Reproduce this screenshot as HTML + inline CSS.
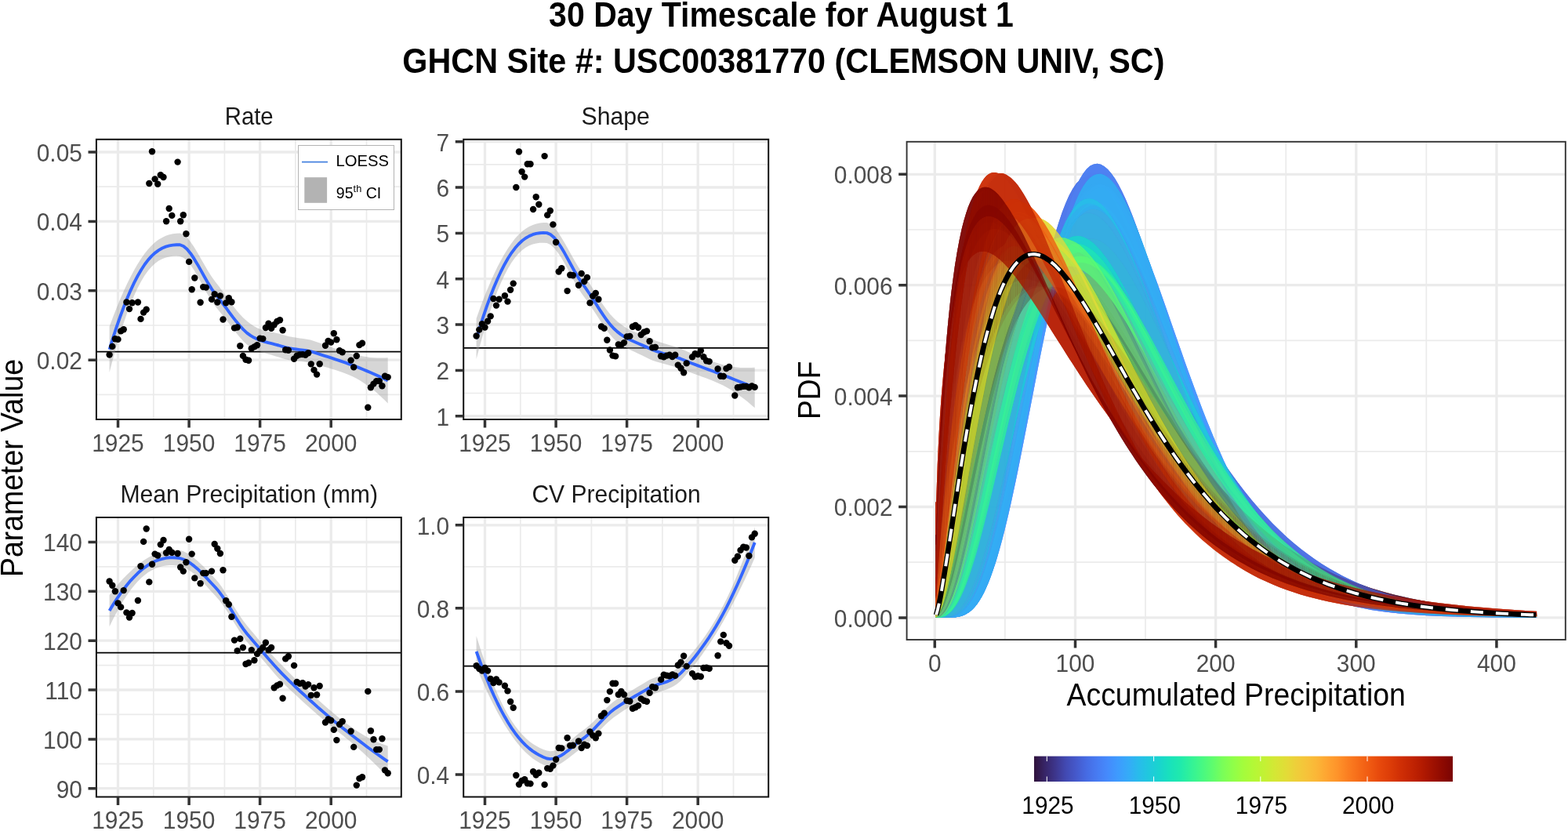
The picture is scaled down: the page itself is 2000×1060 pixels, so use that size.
<!DOCTYPE html>
<html lang="en"><head><meta charset="utf-8"><title>30 Day Timescale for August 1</title>
<style>html,body{margin:0;padding:0;background:#fff}svg{display:block}</style></head>
<body>
<svg width="2000" height="1060" viewBox="0 0 2000 1060" font-family='"Liberation Sans", Arial, Helvetica, sans-serif'>
<rect width="2000" height="1060" fill="#fff"/>
<g font-size="43.6" font-weight="bold" fill="#000" text-anchor="middle"><text transform="translate(996.5,33.7) scale(0.941,1)">30 Day Timescale for August 1</text><text transform="translate(999.4,93.2) scale(0.948,1)">GHCN Site #: USC00381770 (CLEMSON UNIV, SC)</text></g>
<text transform="translate(29.2,597) rotate(-90) scale(0.927,1)" font-size="40.4" fill="#000" text-anchor="middle">Parameter Value</text>
<g>
<clipPath id="c4"><rect x="122.9" y="177.8" width="388.9" height="357.2"/></clipPath>
<rect x="122.9" y="177.8" width="388.9" height="357.2" fill="#fff"/>
<g clip-path="url(#c4)">
<path d="M195.8 177.8V535M286.4 177.8V535M376.9 177.8V535M467.5 177.8V535M122.9 503.4H511.8M122.9 415H511.8M122.9 326.6H511.8M122.9 238.2H511.8" stroke="#ebebeb" stroke-width="1.7" fill="none"/>
<path d="M150.5 177.8V535M241.1 177.8V535M331.6 177.8V535M422.2 177.8V535M122.9 459.2H511.8M122.9 370.8H511.8M122.9 282.4H511.8M122.9 194H511.8" stroke="#ebebeb" stroke-width="3.3" fill="none"/>
<path d="M122.9 448.7H511.8" stroke="#000" stroke-width="1.8"/>
<polygon points="139.6,416.5 144.1,404.4 148.6,392.9 153.1,382 157.6,371.7 162.1,362 166.6,352.9 171.1,344.5 175.6,336.8 180.1,329.7 184.6,323.3 189.1,317.7 193.6,312.9 198.1,308.8 202.5,305.5 207,302.9 211.5,300.8 216,299.3 220.5,298.3 225,297.8 229.5,297.6 234,299.3 238.5,303.1 243,308.5 247.5,315.1 252,322.5 256.5,330.4 261,338.3 265.5,345.9 270,353 274.5,359.2 278.9,364.8 283.4,370.9 287.9,377.2 292.4,383.6 296.9,389.8 301.4,395.6 305.9,400.8 310.4,405.5 314.9,409.6 319.4,413 323.9,416 328.4,418.4 332.9,420.3 337.4,421.7 341.9,422.7 346.4,423.6 350.8,424.4 355.3,425.4 359.8,426.7 364.3,428.1 368.8,429.2 373.3,430.1 377.8,430.8 382.3,431.5 386.8,432.1 391.3,432.8 395.8,433.6 400.3,434.9 404.8,436.5 409.3,438.1 413.8,439.7 418.3,441.3 422.8,442.9 427.2,444.5 431.7,446 436.2,447.5 440.7,449 445.2,450.3 449.7,451.6 454.2,452.7 458.7,453.7 463.2,454.6 467.7,455.3 472.2,455.9 476.7,456.3 481.2,456.5 485.7,456.6 490.2,456.5 494.7,456.3 494.7,514.5 490.2,510 485.7,505.7 481.2,501.6 476.7,497.8 472.2,494.2 467.7,490.9 463.2,487.9 458.7,485.1 454.2,482.6 449.7,480.3 445.2,478.3 440.7,476.5 436.2,474.8 431.7,473.3 427.2,471.8 422.8,470.4 418.3,469.1 413.8,467.8 409.3,466.5 404.8,465.2 400.3,463.9 395.8,462.8 391.3,461.9 386.8,461.2 382.3,460.7 377.8,460.2 373.3,459.7 368.8,459.2 364.3,458.3 359.8,457.1 355.3,455.6 350.8,454.2 346.4,452.8 341.9,451.5 337.4,450.2 332.9,448.8 328.4,447.2 323.9,445.3 319.4,442.8 314.9,439.5 310.4,435.3 305.9,430.3 301.4,424.7 296.9,418.9 292.4,413 287.9,407.2 283.4,401.5 278.9,396 274.5,390.6 270,384.2 265.5,376.8 261,368.7 256.5,360.4 252,352.2 247.5,344.6 243,338 238.5,332.6 234,328.8 229.5,326.9 225,326.6 220.5,326.8 216,327.4 211.5,328.5 207,330.2 202.5,332.6 198.1,335.8 193.6,339.9 189.1,345.1 184.6,351.3 180.1,358.7 175.6,367.2 171.1,376.9 166.6,387.7 162.1,399.5 157.6,412.5 153.1,426.6 148.6,441.7 144.1,457.8 139.6,474.9" fill="#999" fill-opacity="0.4"/>
<polyline points="139.6,445.7 144.1,431.1 148.6,417.3 153.1,404.3 157.6,392.1 162.1,380.8 166.6,370.3 171.1,360.7 175.6,352 180.1,344.2 184.6,337.3 189.1,331.4 193.6,326.4 198.1,322.3 202.5,319.1 207,316.5 211.5,314.6 216,313.4 220.5,312.6 225,312.2 229.5,312.3 234,314 238.5,317.8 243,323.2 247.5,329.9 252,337.4 256.5,345.4 261,353.5 265.5,361.4 270,368.6 274.5,374.9 278.9,380.4 283.4,386.2 287.9,392.2 292.4,398.3 296.9,404.4 301.4,410.1 305.9,415.5 310.4,420.4 314.9,424.6 319.4,427.9 323.9,430.6 328.4,432.8 332.9,434.5 337.4,435.9 341.9,437.1 346.4,438.2 350.8,439.3 355.3,440.5 359.8,441.9 364.3,443.2 368.8,444.2 373.3,444.9 377.8,445.5 382.3,446.1 386.8,446.6 391.3,447.3 395.8,448.2 400.3,449.4 404.8,450.8 409.3,452.3 413.8,453.8 418.3,455.2 422.8,456.7 427.2,458.2 431.7,459.6 436.2,461.2 440.7,462.7 445.2,464.3 449.7,465.9 454.2,467.6 458.7,469.4 463.2,471.2 467.7,473.1 472.2,475 476.7,477 481.2,479.1 485.7,481.1 490.2,483.3 494.7,485.4" fill="none" stroke="#3366ff" stroke-width="3.9" stroke-linejoin="round"/>
<g fill="#000"><circle cx="139.6" cy="452.5" r="4.2"/><circle cx="143.3" cy="441.9" r="4.2"/><circle cx="146.9" cy="432.2" r="4.2"/><circle cx="150.5" cy="432.9" r="4.2"/><circle cx="154.1" cy="422.4" r="4.2"/><circle cx="157.7" cy="420.3" r="4.2"/><circle cx="161.4" cy="385.5" r="4.2"/><circle cx="165" cy="394.1" r="4.2"/><circle cx="168.6" cy="386.2" r="4.2"/><circle cx="175.9" cy="385.5" r="4.2"/><circle cx="179.5" cy="406.9" r="4.2"/><circle cx="183.1" cy="398.6" r="4.2"/><circle cx="186.7" cy="394.8" r="4.2"/><circle cx="190.3" cy="234" r="4.2"/><circle cx="194" cy="193.3" r="4.2"/><circle cx="197.6" cy="228.4" r="4.2"/><circle cx="201.2" cy="234.8" r="4.2"/><circle cx="204.8" cy="223.2" r="4.2"/><circle cx="208.5" cy="226" r="4.2"/><circle cx="212.1" cy="282.2" r="4.2"/><circle cx="215.7" cy="266" r="4.2"/><circle cx="219.3" cy="274.9" r="4.2"/><circle cx="226.6" cy="206.6" r="4.2"/><circle cx="230.2" cy="282.2" r="4.2"/><circle cx="233.8" cy="274.2" r="4.2"/><circle cx="237.4" cy="298.2" r="4.2"/><circle cx="241.1" cy="333.9" r="4.2"/><circle cx="244.7" cy="369.2" r="4.2"/><circle cx="248.3" cy="354.5" r="4.2"/><circle cx="255.6" cy="385.7" r="4.2"/><circle cx="259.2" cy="366.1" r="4.2"/><circle cx="262.8" cy="366.6" r="4.2"/><circle cx="270" cy="381.9" r="4.2"/><circle cx="273.7" cy="375.3" r="4.2"/><circle cx="277.3" cy="385.5" r="4.2"/><circle cx="280.9" cy="377.4" r="4.2"/><circle cx="284.5" cy="407.5" r="4.2"/><circle cx="288.2" cy="386.4" r="4.2"/><circle cx="291.8" cy="380.3" r="4.2"/><circle cx="295.4" cy="385.2" r="4.2"/><circle cx="299" cy="418.4" r="4.2"/><circle cx="302.7" cy="417.5" r="4.2"/><circle cx="306.3" cy="441.2" r="4.2"/><circle cx="309.9" cy="453.9" r="4.2"/><circle cx="313.5" cy="458.8" r="4.2"/><circle cx="317.1" cy="459.8" r="4.2"/><circle cx="320.8" cy="444.5" r="4.2"/><circle cx="324.4" cy="442.4" r="4.2"/><circle cx="328" cy="440.3" r="4.2"/><circle cx="331.6" cy="431.6" r="4.2"/><circle cx="335.3" cy="432.1" r="4.2"/><circle cx="338.9" cy="418" r="4.2"/><circle cx="342.5" cy="412.8" r="4.2"/><circle cx="346.1" cy="418.9" r="4.2"/><circle cx="349.7" cy="414.2" r="4.2"/><circle cx="353.4" cy="410" r="4.2"/><circle cx="357" cy="408.3" r="4.2"/><circle cx="360.6" cy="421.3" r="4.2"/><circle cx="364.2" cy="446.2" r="4.2"/><circle cx="367.9" cy="446.7" r="4.2"/><circle cx="375.1" cy="457.8" r="4.2"/><circle cx="378.7" cy="453.8" r="4.2"/><circle cx="382.4" cy="452.4" r="4.2"/><circle cx="386" cy="452.1" r="4.2"/><circle cx="389.6" cy="452.8" r="4.2"/><circle cx="393.2" cy="450.3" r="4.2"/><circle cx="396.8" cy="464.4" r="4.2"/><circle cx="400.5" cy="471.9" r="4.2"/><circle cx="404.1" cy="477.6" r="4.2"/><circle cx="407.7" cy="464.2" r="4.2"/><circle cx="415" cy="440.8" r="4.2"/><circle cx="418.6" cy="434.9" r="4.2"/><circle cx="422.2" cy="436.6" r="4.2"/><circle cx="425.8" cy="425.3" r="4.2"/><circle cx="429.4" cy="433.3" r="4.2"/><circle cx="433.1" cy="447.2" r="4.2"/><circle cx="436.7" cy="449.3" r="4.2"/><circle cx="447.6" cy="459.6" r="4.2"/><circle cx="451.2" cy="468.4" r="4.2"/><circle cx="454.8" cy="454" r="4.2"/><circle cx="458.4" cy="440.1" r="4.2"/><circle cx="462" cy="437.7" r="4.2"/><circle cx="469.3" cy="519.8" r="4.2"/><circle cx="472.9" cy="494.3" r="4.2"/><circle cx="476.5" cy="489.6" r="4.2"/><circle cx="480.2" cy="486.1" r="4.2"/><circle cx="483.8" cy="486.1" r="4.2"/><circle cx="487.4" cy="492.2" r="4.2"/><circle cx="491" cy="479.7" r="4.2"/><circle cx="494.7" cy="481.1" r="4.2"/></g>
</g>
<rect x="380.5" y="185.5" width="122" height="82" fill="#fff" stroke="#b3b3b3" stroke-width="1"/>
<path d="M385 206.6H418" stroke="#4682e0" stroke-width="1.6"/>
<rect x="388.3" y="226.2" width="28.8" height="32.6" fill="#b3b3b3"/>
<text transform="translate(428.6,212.1) scale(1.011,1)" font-size="20" fill="#000">LOESS</text>
<text transform="translate(428.8,252.8) scale(0.98,1)" font-size="20" fill="#000">95<tspan font-size="13" dy="-7.8">th</tspan><tspan dy="7.8"> CI</tspan></text>
<rect x="122.9" y="177.8" width="388.9" height="357.2" fill="none" stroke="#111" stroke-width="2.0"/>
<path d="M150.5 535v10.4M241.1 535v10.4M331.6 535v10.4M422.2 535v10.4M122.9 459.2h-10.4M122.9 370.8h-10.4M122.9 282.4h-10.4M122.9 194h-10.4" stroke="#333" stroke-width="3.5" fill="none"/>
<g font-size="31.8" fill="#4d4d4d">
<g text-anchor="end"><text transform="translate(104.9,471) scale(0.94,1)">0.02</text><text transform="translate(104.9,382.6) scale(0.94,1)">0.03</text><text transform="translate(104.9,294.2) scale(0.94,1)">0.04</text><text transform="translate(104.9,205.8) scale(0.94,1)">0.05</text></g>
<g text-anchor="middle"><text transform="translate(150.5,575.6) scale(0.94,1)">1925</text><text transform="translate(241.1,575.6) scale(0.94,1)">1950</text><text transform="translate(331.6,575.6) scale(0.94,1)">1975</text><text transform="translate(422.2,575.6) scale(0.94,1)">2000</text></g>
</g>
<g font-size="31.8" fill="#1a1a1a" text-anchor="middle"><text transform="translate(317.7,158.5) scale(0.922,1)">Rate</text></g>
</g>
<g>
<clipPath id="c28"><rect x="591.2" y="177.8" width="389" height="357.2"/></clipPath>
<rect x="591.2" y="177.8" width="389" height="357.2" fill="#fff"/>
<g clip-path="url(#c28)">
<path d="M663.8 177.8V535M754.4 177.8V535M844.9 177.8V535M935.5 177.8V535M591.2 501.5H980.2M591.2 443.2H980.2M591.2 384.9H980.2M591.2 326.5H980.2M591.2 268.2H980.2M591.2 209.9H980.2" stroke="#ebebeb" stroke-width="1.7" fill="none"/>
<path d="M618.5 177.8V535M709.1 177.8V535M799.6 177.8V535M890.2 177.8V535M591.2 530.7H980.2M591.2 472.4H980.2M591.2 414H980.2M591.2 355.7H980.2M591.2 297.4H980.2M591.2 239H980.2M591.2 180.7H980.2" stroke="#ebebeb" stroke-width="3.3" fill="none"/>
<path d="M591.2 443.9H980.2" stroke="#000" stroke-width="1.8"/>
<polygon points="607.6,406.2 612.1,393.6 616.6,381.6 621.1,370.3 625.6,359.7 630.1,349.7 634.6,340.3 639.1,331.7 643.6,323.7 648.1,316.4 652.6,309.9 657.1,304.1 661.6,299.2 666.1,295.1 670.5,291.7 675,289 679.5,287 684,285.5 688.5,284.6 693,284.1 697.5,284.1 702,285.9 706.5,289.7 711,295.2 715.5,301.9 720,309.4 724.5,317.4 729,325.5 733.5,333.5 738,340.9 742.5,347.5 746.9,353.6 751.4,360.4 755.9,367.7 760.4,375 764.9,382.2 769.4,389 773.9,395.3 778.4,400.9 782.9,405.8 787.4,409.9 791.9,413.6 796.4,416.7 800.9,419.4 805.4,421.7 809.9,423.6 814.4,425.3 818.8,426.9 823.3,428.7 827.8,430.8 832.3,432.8 836.8,434.7 841.3,436.3 845.8,437.8 850.3,439.1 854.8,440.4 859.3,441.7 863.8,443.1 868.3,444.8 872.8,446.8 877.3,448.8 881.8,450.7 886.3,452.6 890.8,454.4 895.2,456.2 899.7,457.9 904.2,459.5 908.7,461.1 913.2,462.6 917.7,463.9 922.2,465.2 926.7,466.2 931.2,467.2 935.7,467.9 940.2,468.5 944.7,468.9 949.2,469.1 953.7,469.1 958.2,469 962.7,468.7 962.7,520.3 958.2,516.4 953.7,512.6 949.2,509.1 944.7,505.7 940.2,502.4 935.7,499.4 931.2,496.6 926.7,494 922.2,491.6 917.7,489.4 913.2,487.4 908.7,485.5 904.2,483.7 899.7,482.1 895.2,480.4 890.8,478.8 886.3,477.2 881.8,475.6 877.3,474 872.8,472.3 868.3,470.6 863.8,469 859.3,467.5 854.8,466.2 850.3,465 845.8,463.8 841.3,462.6 836.8,461.3 832.3,459.7 827.8,457.8 823.3,455.5 818.8,453.3 814.4,451.2 809.9,449.1 805.4,446.9 800.9,444.7 796.4,442.4 791.9,439.6 787.4,436.3 782.9,432.3 778.4,427.3 773.9,421.4 769.4,414.9 764.9,408 760.4,401.1 755.9,394.2 751.4,387.6 746.9,381.3 742.5,375.3 738,368.6 733.5,360.8 729,352.5 724.5,344 720,335.8 715.5,328.1 711,321.4 706.5,315.9 702,312 697.5,310 693,309.7 688.5,309.8 684,310.4 679.5,311.5 675,313.2 670.5,315.7 666.1,319 661.6,323.2 657.1,328.4 652.6,334.7 648.1,342.2 643.6,350.7 639.1,360.4 634.6,371.1 630.1,383 625.6,395.9 621.1,409.9 616.6,424.9 612.1,440.9 607.6,457.9" fill="#999" fill-opacity="0.4"/>
<polyline points="607.6,432.1 612.1,417.2 616.6,403.3 621.1,390.1 625.6,377.8 630.1,366.3 634.6,355.7 639.1,346 643.6,337.2 648.1,329.3 652.6,322.3 657.1,316.3 661.6,311.2 666.1,307 670.5,303.7 675,301.1 679.5,299.2 684,297.9 688.5,297.2 693,296.9 697.5,297.1 702,299 706.5,302.8 711,308.3 715.5,315 720,322.6 724.5,330.7 729,339 733.5,347.1 738,354.7 742.5,361.4 746.9,367.4 751.4,374 755.9,380.9 760.4,388 764.9,395.1 769.4,401.9 773.9,408.3 778.4,414.1 782.9,419 787.4,423.1 791.9,426.6 796.4,429.5 800.9,432.1 805.4,434.3 809.9,436.3 814.4,438.2 818.8,440.1 823.3,442.1 827.8,444.3 832.3,446.3 836.8,448 841.3,449.4 845.8,450.8 850.3,452 854.8,453.3 859.3,454.6 863.8,456.1 868.3,457.7 872.8,459.5 877.3,461.4 881.8,463.2 886.3,464.9 890.8,466.6 895.2,468.3 899.7,470 904.2,471.6 908.7,473.3 913.2,475 917.7,476.7 922.2,478.4 926.7,480.1 931.2,481.9 935.7,483.7 940.2,485.5 944.7,487.3 949.2,489.1 953.7,490.9 958.2,492.7 962.7,494.5" fill="none" stroke="#3366ff" stroke-width="3.9" stroke-linejoin="round"/>
<g fill="#000"><circle cx="607.6" cy="428.5" r="4.2"/><circle cx="611.3" cy="420.6" r="4.2"/><circle cx="614.9" cy="413.3" r="4.2"/><circle cx="618.5" cy="417.5" r="4.2"/><circle cx="622.1" cy="409.7" r="4.2"/><circle cx="625.7" cy="403.4" r="4.2"/><circle cx="629.4" cy="381" r="4.2"/><circle cx="633" cy="389.6" r="4.2"/><circle cx="636.6" cy="381.8" r="4.2"/><circle cx="643.9" cy="377.2" r="4.2"/><circle cx="647.5" cy="384.6" r="4.2"/><circle cx="651.1" cy="369.7" r="4.2"/><circle cx="654.7" cy="361.6" r="4.2"/><circle cx="658.3" cy="239" r="4.2"/><circle cx="662" cy="193.5" r="4.2"/><circle cx="665.6" cy="219" r="4.2"/><circle cx="669.2" cy="225.6" r="4.2"/><circle cx="672.8" cy="209.3" r="4.2"/><circle cx="676.5" cy="209.3" r="4.2"/><circle cx="680.1" cy="267" r="4.2"/><circle cx="683.7" cy="251.3" r="4.2"/><circle cx="687.3" cy="260.7" r="4.2"/><circle cx="694.6" cy="199.1" r="4.2"/><circle cx="698.2" cy="274.4" r="4.2"/><circle cx="701.8" cy="268.7" r="4.2"/><circle cx="705.4" cy="286.4" r="4.2"/><circle cx="709.1" cy="309" r="4.2"/><circle cx="712.7" cy="346.5" r="4.2"/><circle cx="716.3" cy="342.3" r="4.2"/><circle cx="723.6" cy="371.1" r="4.2"/><circle cx="727.2" cy="350.7" r="4.2"/><circle cx="730.8" cy="351.3" r="4.2"/><circle cx="738" cy="363.8" r="4.2"/><circle cx="741.7" cy="348.9" r="4.2"/><circle cx="745.3" cy="359.1" r="4.2"/><circle cx="748.9" cy="353.9" r="4.2"/><circle cx="752.5" cy="386.4" r="4.2"/><circle cx="756.2" cy="377.6" r="4.2"/><circle cx="759.8" cy="374" r="4.2"/><circle cx="763.4" cy="381.8" r="4.2"/><circle cx="767" cy="416.5" r="4.2"/><circle cx="770.7" cy="418.9" r="4.2"/><circle cx="774.3" cy="433.8" r="4.2"/><circle cx="777.9" cy="446.5" r="4.2"/><circle cx="781.5" cy="453.6" r="4.2"/><circle cx="785.1" cy="454.4" r="4.2"/><circle cx="788.8" cy="439.4" r="4.2"/><circle cx="792.4" cy="440.1" r="4.2"/><circle cx="796" cy="437.1" r="4.2"/><circle cx="799.6" cy="429.4" r="4.2"/><circle cx="803.3" cy="428.9" r="4.2"/><circle cx="806.9" cy="416.8" r="4.2"/><circle cx="810.5" cy="415" r="4.2"/><circle cx="814.1" cy="417.8" r="4.2"/><circle cx="817.7" cy="427" r="4.2"/><circle cx="821.4" cy="423.8" r="4.2"/><circle cx="825" cy="422.4" r="4.2"/><circle cx="828.6" cy="435.2" r="4.2"/><circle cx="832.2" cy="443.4" r="4.2"/><circle cx="835.9" cy="443" r="4.2"/><circle cx="843.1" cy="454.3" r="4.2"/><circle cx="846.7" cy="455.3" r="4.2"/><circle cx="850.4" cy="453.6" r="4.2"/><circle cx="854" cy="452.8" r="4.2"/><circle cx="857.6" cy="455" r="4.2"/><circle cx="861.2" cy="452.8" r="4.2"/><circle cx="864.8" cy="465.6" r="4.2"/><circle cx="868.5" cy="469.8" r="4.2"/><circle cx="872.1" cy="475.2" r="4.2"/><circle cx="875.7" cy="463.4" r="4.2"/><circle cx="883" cy="455.4" r="4.2"/><circle cx="886.6" cy="451.1" r="4.2"/><circle cx="890.2" cy="452.1" r="4.2"/><circle cx="893.8" cy="447.2" r="4.2"/><circle cx="897.4" cy="455.3" r="4.2"/><circle cx="901.1" cy="460.2" r="4.2"/><circle cx="904.7" cy="461.1" r="4.2"/><circle cx="915.6" cy="470.5" r="4.2"/><circle cx="919.2" cy="479.7" r="4.2"/><circle cx="922.8" cy="480" r="4.2"/><circle cx="926.4" cy="470.1" r="4.2"/><circle cx="930" cy="468" r="4.2"/><circle cx="937.3" cy="504.5" r="4.2"/><circle cx="940.9" cy="494.3" r="4.2"/><circle cx="944.5" cy="493.6" r="4.2"/><circle cx="948.2" cy="492.9" r="4.2"/><circle cx="951.8" cy="492.9" r="4.2"/><circle cx="955.4" cy="494.3" r="4.2"/><circle cx="959" cy="492.4" r="4.2"/><circle cx="962.7" cy="493.9" r="4.2"/></g>
</g>
<rect x="591.2" y="177.8" width="389" height="357.2" fill="none" stroke="#111" stroke-width="2.0"/>
<path d="M618.5 535v10.4M709.1 535v10.4M799.6 535v10.4M890.2 535v10.4M591.2 530.7h-10.4M591.2 472.4h-10.4M591.2 414h-10.4M591.2 355.7h-10.4M591.2 297.4h-10.4M591.2 239h-10.4M591.2 180.7h-10.4" stroke="#333" stroke-width="3.5" fill="none"/>
<g font-size="31.8" fill="#4d4d4d">
<g text-anchor="end"><text transform="translate(573.2,542.5) scale(0.94,1)">1</text><text transform="translate(573.2,484.2) scale(0.94,1)">2</text><text transform="translate(573.2,425.8) scale(0.94,1)">3</text><text transform="translate(573.2,367.5) scale(0.94,1)">4</text><text transform="translate(573.2,309.2) scale(0.94,1)">5</text><text transform="translate(573.2,250.8) scale(0.94,1)">6</text><text transform="translate(573.2,192.5) scale(0.94,1)">7</text></g>
<g text-anchor="middle"><text transform="translate(618.5,575.6) scale(0.94,1)">1925</text><text transform="translate(709.1,575.6) scale(0.94,1)">1950</text><text transform="translate(799.6,575.6) scale(0.94,1)">1975</text><text transform="translate(890.2,575.6) scale(0.94,1)">2000</text></g>
</g>
<g font-size="31.8" fill="#1a1a1a" text-anchor="middle"><text transform="translate(785.2,158.5) scale(0.95,1)">Shape</text></g>
</g>
<g>
<clipPath id="c47"><rect x="122.9" y="660" width="388.9" height="356.5"/></clipPath>
<rect x="122.9" y="660" width="388.9" height="356.5" fill="#fff"/>
<g clip-path="url(#c47)">
<path d="M195.8 660V1016.5M286.4 660V1016.5M376.9 660V1016.5M467.5 660V1016.5M122.9 974.3H511.8M122.9 911.4H511.8M122.9 848.6H511.8M122.9 785.8H511.8M122.9 722.9H511.8M122.9 660.1H511.8" stroke="#ebebeb" stroke-width="1.7" fill="none"/>
<path d="M150.5 660V1016.5M241.1 660V1016.5M331.6 660V1016.5M422.2 660V1016.5M122.9 1005.7H511.8M122.9 942.9H511.8M122.9 880H511.8M122.9 817.2H511.8M122.9 754.3H511.8M122.9 691.5H511.8" stroke="#ebebeb" stroke-width="3.3" fill="none"/>
<path d="M122.9 832.6H511.8" stroke="#000" stroke-width="1.8"/>
<polygon points="139.6,758.9 144.1,753.2 148.6,747.7 153.1,742.5 157.6,737.6 162.1,733 166.6,728.7 171.1,724.6 175.6,720.8 180.1,717.3 184.6,714.1 189.1,711.2 193.6,708.7 198.1,706.5 202.5,704.7 207,703.3 211.5,702.3 216,701.7 220.5,701.4 225,701.5 229.5,702.1 234,703.3 238.5,705.5 243,708.3 247.5,711.7 252,715.5 256.5,719.7 261,724.1 265.5,728.7 270,733.4 274.5,738.2 278.9,743.3 283.4,749.5 287.9,756.4 292.4,763.8 296.9,771.3 301.4,778.6 305.9,785.6 310.4,792.1 314.9,797.8 319.4,803.2 323.9,808.6 328.4,814.1 332.9,819.4 337.4,824.7 341.9,829.8 346.4,834.7 350.8,839.5 355.3,844.2 359.8,848.8 364.3,853.5 368.8,858 373.3,862.5 377.8,866.9 382.3,871.1 386.8,875.3 391.3,879.4 395.8,883.4 400.3,887.5 404.8,891.7 409.3,895.7 413.8,899.7 418.3,903.7 422.8,907.5 427.2,911.2 431.7,914.9 436.2,918.5 440.7,922 445.2,925.3 449.7,928.5 454.2,931.7 458.7,934.6 463.2,937.3 467.7,939.9 472.2,942.3 476.7,944.5 481.2,946.5 485.7,948.3 490.2,949.9 494.7,951.4 494.7,991.5 490.2,986.8 485.7,982.1 481.2,977.6 476.7,973.1 472.2,968.7 467.7,964.4 463.2,960.3 458.7,956.2 454.2,952.2 449.7,948.4 445.2,944.6 440.7,940.9 436.2,937.3 431.7,933.7 427.2,930.1 422.8,926.5 418.3,922.8 413.8,919.1 409.3,915.3 404.8,911.5 400.3,907.5 395.8,903.5 391.3,899.5 386.8,895.4 382.3,891.3 377.8,887.1 373.3,883 368.8,878.7 364.3,874.4 359.8,869.8 355.3,865 350.8,860 346.4,854.8 341.9,849.6 337.4,844.3 332.9,839.1 328.4,834 323.9,828.9 319.4,823.7 314.9,818.5 310.4,812.6 305.9,805.9 301.4,798.7 296.9,791.4 292.4,784.1 287.9,777.1 283.4,770.6 278.9,764.8 274.5,759.8 270,754.9 265.5,750 261,745.1 256.5,740.4 252,736 247.5,732.1 243,728.6 238.5,725.8 234,723.7 229.5,722.2 225,721.4 220.5,721 216,721 211.5,721.4 207,722.2 202.5,723.4 198.1,725.1 193.6,727.4 189.1,730.1 184.6,733.4 180.1,737.3 175.6,741.8 171.1,746.9 166.6,752.6 162.1,758.9 157.6,765.8 153.1,773.3 148.6,781.4 144.1,790 139.6,799.2" fill="#999" fill-opacity="0.4"/>
<polyline points="139.6,779.1 144.1,771.6 148.6,764.5 153.1,757.9 157.6,751.7 162.1,746 166.6,740.6 171.1,735.8 175.6,731.3 180.1,727.3 184.6,723.8 189.1,720.7 193.6,718 198.1,715.8 202.5,714.1 207,712.8 211.5,711.9 216,711.3 220.5,711.2 225,711.5 229.5,712.1 234,713.5 238.5,715.6 243,718.5 247.5,721.9 252,725.7 256.5,730 261,734.6 265.5,739.3 270,744.2 274.5,749 278.9,754.1 283.4,760.1 287.9,766.8 292.4,773.9 296.9,781.3 301.4,788.7 305.9,795.8 310.4,802.4 314.9,808.2 319.4,813.5 323.9,818.7 328.4,824 332.9,829.3 337.4,834.5 341.9,839.7 346.4,844.8 350.8,849.7 355.3,854.6 359.8,859.3 364.3,863.9 368.8,868.4 373.3,872.7 377.8,877 382.3,881.2 386.8,885.3 391.3,889.4 395.8,893.5 400.3,897.5 404.8,901.6 409.3,905.5 413.8,909.4 418.3,913.2 422.8,917 427.2,920.7 431.7,924.3 436.2,927.9 440.7,931.4 445.2,935 449.7,938.5 454.2,942 458.7,945.4 463.2,948.8 467.7,952.2 472.2,955.5 476.7,958.8 481.2,962 485.7,965.2 490.2,968.3 494.7,971.4" fill="none" stroke="#3366ff" stroke-width="3.9" stroke-linejoin="round"/>
<g fill="#000"><circle cx="139.6" cy="741.5" r="4.2"/><circle cx="143.3" cy="746.8" r="4.2"/><circle cx="146.9" cy="754.3" r="4.2"/><circle cx="150.5" cy="769.4" r="4.2"/><circle cx="154.1" cy="774.4" r="4.2"/><circle cx="157.7" cy="753.1" r="4.2"/><circle cx="161.4" cy="781.4" r="4.2"/><circle cx="165" cy="787.6" r="4.2"/><circle cx="168.6" cy="782" r="4.2"/><circle cx="175.9" cy="766" r="4.2"/><circle cx="179.5" cy="722.3" r="4.2"/><circle cx="183.1" cy="690.9" r="4.2"/><circle cx="186.7" cy="674.5" r="4.2"/><circle cx="190.3" cy="742.4" r="4.2"/><circle cx="194" cy="719.8" r="4.2"/><circle cx="197.6" cy="706.6" r="4.2"/><circle cx="201.2" cy="708.5" r="4.2"/><circle cx="204.8" cy="694.6" r="4.2"/><circle cx="208.5" cy="689" r="4.2"/><circle cx="212.1" cy="705.3" r="4.2"/><circle cx="215.7" cy="700.9" r="4.2"/><circle cx="219.3" cy="704.7" r="4.2"/><circle cx="226.6" cy="706" r="4.2"/><circle cx="230.2" cy="723.5" r="4.2"/><circle cx="233.8" cy="728.6" r="4.2"/><circle cx="237.4" cy="717.3" r="4.2"/><circle cx="241.1" cy="687.7" r="4.2"/><circle cx="244.7" cy="706.6" r="4.2"/><circle cx="248.3" cy="737.4" r="4.2"/><circle cx="255.6" cy="744.3" r="4.2"/><circle cx="259.2" cy="731.1" r="4.2"/><circle cx="262.8" cy="731.1" r="4.2"/><circle cx="270" cy="728.6" r="4.2"/><circle cx="273.7" cy="694" r="4.2"/><circle cx="277.3" cy="699.7" r="4.2"/><circle cx="280.9" cy="706" r="4.2"/><circle cx="284.5" cy="727.3" r="4.2"/><circle cx="288.2" cy="766.3" r="4.2"/><circle cx="291.8" cy="771" r="4.2"/><circle cx="295.4" cy="786.7" r="4.2"/><circle cx="299" cy="816.6" r="4.2"/><circle cx="302.7" cy="830.1" r="4.2"/><circle cx="306.3" cy="814.7" r="4.2"/><circle cx="309.9" cy="826" r="4.2"/><circle cx="313.5" cy="847" r="4.2"/><circle cx="317.1" cy="845.5" r="4.2"/><circle cx="320.8" cy="829.1" r="4.2"/><circle cx="324.4" cy="842.3" r="4.2"/><circle cx="328" cy="834.1" r="4.2"/><circle cx="331.6" cy="830.1" r="4.2"/><circle cx="335.3" cy="826" r="4.2"/><circle cx="338.9" cy="819.7" r="4.2"/><circle cx="342.5" cy="829.1" r="4.2"/><circle cx="346.1" cy="826" r="4.2"/><circle cx="349.7" cy="877.2" r="4.2"/><circle cx="353.4" cy="874.4" r="4.2"/><circle cx="357" cy="872.8" r="4.2"/><circle cx="360.6" cy="890.7" r="4.2"/><circle cx="364.2" cy="840.4" r="4.2"/><circle cx="367.9" cy="837.3" r="4.2"/><circle cx="375.1" cy="848.9" r="4.2"/><circle cx="378.7" cy="870" r="4.2"/><circle cx="382.4" cy="871.9" r="4.2"/><circle cx="386" cy="871.2" r="4.2"/><circle cx="389.6" cy="875.6" r="4.2"/><circle cx="393.2" cy="873.1" r="4.2"/><circle cx="396.8" cy="886.9" r="4.2"/><circle cx="400.5" cy="877.2" r="4.2"/><circle cx="404.1" cy="886.3" r="4.2"/><circle cx="407.7" cy="875" r="4.2"/><circle cx="415" cy="921.5" r="4.2"/><circle cx="418.6" cy="917.4" r="4.2"/><circle cx="422.2" cy="919" r="4.2"/><circle cx="425.8" cy="930.9" r="4.2"/><circle cx="429.4" cy="944.1" r="4.2"/><circle cx="433.1" cy="924" r="4.2"/><circle cx="436.7" cy="920.2" r="4.2"/><circle cx="447.6" cy="932.8" r="4.2"/><circle cx="451.2" cy="952.9" r="4.2"/><circle cx="454.8" cy="1001.6" r="4.2"/><circle cx="458.4" cy="993.1" r="4.2"/><circle cx="462" cy="991.2" r="4.2"/><circle cx="469.3" cy="881.9" r="4.2"/><circle cx="472.9" cy="932.2" r="4.2"/><circle cx="476.5" cy="943.2" r="4.2"/><circle cx="480.2" cy="956.1" r="4.2"/><circle cx="483.8" cy="956.1" r="4.2"/><circle cx="487.4" cy="942.2" r="4.2"/><circle cx="491" cy="982.4" r="4.2"/><circle cx="494.7" cy="986.2" r="4.2"/></g>
</g>
<rect x="122.9" y="660" width="388.9" height="356.5" fill="none" stroke="#111" stroke-width="2.0"/>
<path d="M150.5 1016.5v10.4M241.1 1016.5v10.4M331.6 1016.5v10.4M422.2 1016.5v10.4M122.9 1005.7h-10.4M122.9 942.9h-10.4M122.9 880h-10.4M122.9 817.2h-10.4M122.9 754.3h-10.4M122.9 691.5h-10.4" stroke="#333" stroke-width="3.5" fill="none"/>
<g font-size="31.8" fill="#4d4d4d">
<g text-anchor="end"><text transform="translate(104.9,1017.5) scale(0.94,1)">90</text><text transform="translate(104.9,954.7) scale(0.94,1)">100</text><text transform="translate(104.9,891.8) scale(0.94,1)">110</text><text transform="translate(104.9,829) scale(0.94,1)">120</text><text transform="translate(104.9,766.1) scale(0.94,1)">130</text><text transform="translate(104.9,703.3) scale(0.94,1)">140</text></g>
<g text-anchor="middle"><text transform="translate(150.5,1057.1) scale(0.94,1)">1925</text><text transform="translate(241.1,1057.1) scale(0.94,1)">1950</text><text transform="translate(331.6,1057.1) scale(0.94,1)">1975</text><text transform="translate(422.2,1057.1) scale(0.94,1)">2000</text></g>
</g>
<g font-size="31.8" fill="#1a1a1a" text-anchor="middle"><text transform="translate(317.7,640.7) scale(0.949,1)">Mean Precipitation (mm)</text></g>
</g>
<g>
<clipPath id="c66"><rect x="591.2" y="660" width="389" height="356.5"/></clipPath>
<rect x="591.2" y="660" width="389" height="356.5" fill="#fff"/>
<g clip-path="url(#c66)">
<path d="M663.8 660V1016.5M754.4 660V1016.5M844.9 660V1016.5M935.5 660V1016.5M591.2 934.9H980.2M591.2 828.9H980.2M591.2 722.8H980.2" stroke="#ebebeb" stroke-width="1.7" fill="none"/>
<path d="M618.5 660V1016.5M709.1 660V1016.5M799.6 660V1016.5M890.2 660V1016.5M591.2 987.9H980.2M591.2 881.9H980.2M591.2 775.8H980.2M591.2 669.8H980.2" stroke="#ebebeb" stroke-width="3.3" fill="none"/>
<path d="M591.2 849.6H980.2" stroke="#000" stroke-width="1.8"/>
<polygon points="607.6,811.3 612.1,825.4 616.6,838.9 621.1,851.6 625.6,863.5 630.1,874.8 634.6,885.2 639.1,894.9 643.6,903.9 648.1,912 652.6,919.4 657.1,926 661.6,931.8 666.1,937 670.5,941.5 675,945.4 679.5,948.7 684,951.6 688.5,954 693,956 697.5,957.6 702,958.2 706.5,957.7 711,956.1 715.5,953.8 720,950.7 724.5,947.2 729,943.4 733.5,939.5 738,935.8 742.5,932.4 746.9,929.3 751.4,925.6 755.9,921.5 760.4,917 764.9,912.3 769.4,907.5 773.9,902.8 778.4,898.5 782.9,894.8 787.4,891.7 791.9,888.9 796.4,886.2 800.9,883.6 805.4,881 809.9,878.3 814.4,875.6 818.8,872.9 823.3,870.2 827.8,867.5 832.3,865.4 836.8,863.8 841.3,862.4 845.8,861.1 850.3,859.7 854.8,857.9 859.3,855.6 863.8,852.6 868.3,848.8 872.8,844.1 877.3,839.1 881.8,834 886.3,828.6 890.8,822.9 895.2,817 899.7,810.7 904.2,804 908.7,797 913.2,789.5 917.7,781.5 922.2,773 926.7,764 931.2,754.4 935.7,744.2 940.2,733.5 944.7,722.3 949.2,710.6 953.7,698.3 958.2,685.6 962.7,672.3 962.7,711.6 958.2,721.7 953.7,731.5 949.2,741 944.7,750.3 940.2,759.4 935.7,768.3 931.2,776.8 926.7,785.2 922.2,793.2 917.7,801 913.2,808.4 908.7,815.6 904.2,822.5 899.7,829.1 895.2,835.4 890.8,841.5 886.3,847.4 881.8,853 877.3,858.3 872.8,863.5 868.3,868.4 863.8,872.3 859.3,875.3 854.8,877.6 850.3,879.4 845.8,881 841.3,882.5 836.8,884 832.3,885.9 827.8,888.1 823.3,890.6 818.8,893 814.4,895.3 809.9,897.7 805.4,900.2 800.9,902.9 796.4,905.7 791.9,908.7 787.4,911.9 782.9,915.1 778.4,918.7 773.9,922.7 769.4,927.2 764.9,932 760.4,936.9 755.9,941.7 751.4,946.3 746.9,950.3 742.5,953.6 738,956.9 733.5,960.4 729,964 724.5,967.5 720,970.8 715.5,973.8 711,976.1 706.5,977.6 702,978.1 697.5,977.4 693,975.5 688.5,973.2 684,970.5 679.5,967.4 675,963.8 670.5,959.8 666.1,955.2 661.6,950.1 657.1,944.5 652.6,938.3 648.1,931.6 643.6,924.4 639.1,916.8 634.6,908.7 630.1,900.1 625.6,891.2 621.1,881.7 616.6,871.8 612.1,861.5 607.6,850.7" fill="#999" fill-opacity="0.4"/>
<polyline points="607.6,831 612.1,843.5 616.6,855.4 621.1,866.6 625.6,877.4 630.1,887.5 634.6,897 639.1,905.9 643.6,914.1 648.1,921.8 652.6,928.9 657.1,935.2 661.6,941 666.1,946.1 670.5,950.6 675,954.6 679.5,958.1 684,961 688.5,963.6 693,965.7 697.5,967.5 702,968.1 706.5,967.6 711,966.1 715.5,963.8 720,960.8 724.5,957.4 729,953.7 733.5,950 738,946.3 742.5,943 746.9,939.8 751.4,936 755.9,931.6 760.4,926.9 764.9,922.1 769.4,917.4 773.9,912.8 778.4,908.6 782.9,904.9 787.4,901.8 791.9,898.8 796.4,896 800.9,893.2 805.4,890.6 809.9,888 814.4,885.5 818.8,882.9 823.3,880.4 827.8,877.8 832.3,875.6 836.8,873.9 841.3,872.4 845.8,871.1 850.3,869.6 854.8,867.8 859.3,865.4 863.8,862.5 868.3,858.6 872.8,853.8 877.3,848.7 881.8,843.5 886.3,838 890.8,832.2 895.2,826.2 899.7,819.9 904.2,813.3 908.7,806.3 913.2,799 917.7,791.2 922.2,783.1 926.7,774.6 931.2,765.6 935.7,756.2 940.2,746.5 944.7,736.3 949.2,725.8 953.7,714.9 958.2,703.6 962.7,692" fill="none" stroke="#3366ff" stroke-width="3.9" stroke-linejoin="round"/>
<g fill="#000"><circle cx="607.6" cy="849.2" r="4.2"/><circle cx="611.3" cy="853" r="4.2"/><circle cx="614.9" cy="855.6" r="4.2"/><circle cx="618.5" cy="852" r="4.2"/><circle cx="622.1" cy="855.6" r="4.2"/><circle cx="625.7" cy="865.9" r="4.2"/><circle cx="629.4" cy="871.1" r="4.2"/><circle cx="633" cy="866.5" r="4.2"/><circle cx="636.6" cy="870.4" r="4.2"/><circle cx="643.9" cy="874.8" r="4.2"/><circle cx="647.5" cy="881.4" r="4.2"/><circle cx="651.1" cy="895" r="4.2"/><circle cx="654.7" cy="902.7" r="4.2"/><circle cx="658.3" cy="989" r="4.2"/><circle cx="662" cy="1000.6" r="4.2"/><circle cx="665.6" cy="995.9" r="4.2"/><circle cx="669.2" cy="994.3" r="4.2"/><circle cx="672.8" cy="999.2" r="4.2"/><circle cx="676.5" cy="999.6" r="4.2"/><circle cx="680.1" cy="984.3" r="4.2"/><circle cx="683.7" cy="988.6" r="4.2"/><circle cx="687.3" cy="985.8" r="4.2"/><circle cx="694.6" cy="1000.9" r="4.2"/><circle cx="698.2" cy="980.1" r="4.2"/><circle cx="701.8" cy="980.8" r="4.2"/><circle cx="705.4" cy="976.6" r="4.2"/><circle cx="709.1" cy="968.8" r="4.2"/><circle cx="712.7" cy="954" r="4.2"/><circle cx="716.3" cy="954.4" r="4.2"/><circle cx="723.6" cy="941.2" r="4.2"/><circle cx="727.2" cy="951.1" r="4.2"/><circle cx="730.8" cy="950.8" r="4.2"/><circle cx="738" cy="945.5" r="4.2"/><circle cx="741.7" cy="954" r="4.2"/><circle cx="745.3" cy="949.7" r="4.2"/><circle cx="748.9" cy="951.1" r="4.2"/><circle cx="752.5" cy="933.5" r="4.2"/><circle cx="756.2" cy="938.1" r="4.2"/><circle cx="759.8" cy="941.2" r="4.2"/><circle cx="763.4" cy="935.6" r="4.2"/><circle cx="767" cy="913.2" r="4.2"/><circle cx="770.7" cy="909.6" r="4.2"/><circle cx="774.3" cy="893.1" r="4.2"/><circle cx="777.9" cy="882.1" r="4.2"/><circle cx="781.5" cy="871.8" r="4.2"/><circle cx="785.1" cy="871.8" r="4.2"/><circle cx="788.8" cy="886" r="4.2"/><circle cx="792.4" cy="881.9" r="4.2"/><circle cx="796" cy="886" r="4.2"/><circle cx="799.6" cy="893.8" r="4.2"/><circle cx="803.3" cy="894.5" r="4.2"/><circle cx="806.9" cy="903.7" r="4.2"/><circle cx="810.5" cy="902.2" r="4.2"/><circle cx="814.1" cy="900.1" r="4.2"/><circle cx="817.7" cy="891.4" r="4.2"/><circle cx="821.4" cy="893.7" r="4.2"/><circle cx="825" cy="894.7" r="4.2"/><circle cx="828.6" cy="883.8" r="4.2"/><circle cx="832.2" cy="876.1" r="4.2"/><circle cx="835.9" cy="877.2" r="4.2"/><circle cx="843.1" cy="866.9" r="4.2"/><circle cx="846.7" cy="860.8" r="4.2"/><circle cx="850.4" cy="861.6" r="4.2"/><circle cx="854" cy="862.2" r="4.2"/><circle cx="857.6" cy="860.5" r="4.2"/><circle cx="861.2" cy="861.9" r="4.2"/><circle cx="864.8" cy="848.5" r="4.2"/><circle cx="868.5" cy="844.6" r="4.2"/><circle cx="872.1" cy="836.7" r="4.2"/><circle cx="875.7" cy="849.9" r="4.2"/><circle cx="883" cy="859.1" r="4.2"/><circle cx="886.6" cy="863.3" r="4.2"/><circle cx="890.2" cy="862.2" r="4.2"/><circle cx="893.8" cy="863" r="4.2"/><circle cx="897.4" cy="852" r="4.2"/><circle cx="901.1" cy="851.8" r="4.2"/><circle cx="904.7" cy="852.7" r="4.2"/><circle cx="915.6" cy="836.2" r="4.2"/><circle cx="919.2" cy="818.4" r="4.2"/><circle cx="922.8" cy="809.9" r="4.2"/><circle cx="926.4" cy="820.2" r="4.2"/><circle cx="930" cy="823.7" r="4.2"/><circle cx="937.3" cy="714.7" r="4.2"/><circle cx="940.9" cy="709.7" r="4.2"/><circle cx="944.5" cy="701.9" r="4.2"/><circle cx="948.2" cy="697.7" r="4.2"/><circle cx="951.8" cy="698.5" r="4.2"/><circle cx="955.4" cy="709" r="4.2"/><circle cx="959" cy="685.4" r="4.2"/><circle cx="962.7" cy="680.8" r="4.2"/></g>
</g>
<rect x="591.2" y="660" width="389" height="356.5" fill="none" stroke="#111" stroke-width="2.0"/>
<path d="M618.5 1016.5v10.4M709.1 1016.5v10.4M799.6 1016.5v10.4M890.2 1016.5v10.4M591.2 987.9h-10.4M591.2 881.9h-10.4M591.2 775.8h-10.4M591.2 669.8h-10.4" stroke="#333" stroke-width="3.5" fill="none"/>
<g font-size="31.8" fill="#4d4d4d">
<g text-anchor="end"><text transform="translate(573.2,999.7) scale(0.94,1)">0.4</text><text transform="translate(573.2,893.7) scale(0.94,1)">0.6</text><text transform="translate(573.2,787.6) scale(0.94,1)">0.8</text><text transform="translate(573.2,681.6) scale(0.94,1)">1.0</text></g>
<g text-anchor="middle"><text transform="translate(618.5,1057.1) scale(0.94,1)">1925</text><text transform="translate(709.1,1057.1) scale(0.94,1)">1950</text><text transform="translate(799.6,1057.1) scale(0.94,1)">1975</text><text transform="translate(890.2,1057.1) scale(0.94,1)">2000</text></g>
</g>
<g font-size="31.8" fill="#1a1a1a" text-anchor="middle"><text transform="translate(786,640.7) scale(0.944,1)">CV Precipitation</text></g>
</g>
<g>
<clipPath id="cp"><rect x="1156.6" y="180.8" width="840.2" height="635.2"/></clipPath>
<g clip-path="url(#cp)">
<path d="M1281.9 180.8V816M1461 180.8V816M1640.2 180.8V816M1819.3 180.8V816M1156.6 717.2H1996.8M1156.6 575.8H1996.8M1156.6 434.4H1996.8M1156.6 293H1996.8" stroke="#ebebeb" stroke-width="1.7" fill="none"/>
<path d="M1192.3 180.8V816M1371.5 180.8V816M1550.6 180.8V816M1729.8 180.8V816M1908.9 180.8V816M1156.6 787.9H1996.8M1156.6 646.5H1996.8M1156.6 505.1H1996.8M1156.6 363.7H1996.8M1156.6 222.3H1996.8" stroke="#ebebeb" stroke-width="3.3" fill="none"/>
<defs><g id="bd">
<path d="M1193.1 786.9l1 0 1.6-2 1.6-2.9 1.6-3.5 1.6-4.1 1.7-4.6 1.6-5.1 1.6-5.5 1.6-5.8 1.6-6.2 1.6-6.4 1.6-6.7 1.6-6.9 1.7-7 2.8-12.9 2.9-13.3 2.9-13.6 2.8-13.7 2.9-13.8 2.9-13.8 2.8-13.7 2.9-13.6 2.8-13.4 2.9-13.2 2.9-12.9 2.8-12.6 2.9-12.3 2.9-12 2.8-11.6 2.9-11.2 2.9-10.8 2.8-10.4 2.9-9.9 2.9-9.6 2.8-9.1 2.9-8.6 2.9-8.3 2.8-7.8 2.9-7.3 2.9-6.9 2.8-6.5 2.9-6.1 2.9-5.6 2.8-5.2 4.5-7.4 4.5-6.4 4.5-5.5 4.5-4.5 4.4-3.7 4.5-2.9 4.5-2.1 4.5-1.4 4.5-.7 4.4 .1 4.5 .6 4.5 1.2 4.5 1.8 4.4 2.3 4.5 2.8 4.5 3.2 4.5 3.7 4.5 4 4.4 4.4 4.5 4.7 4.5 5 4.5 5.2 4.5 5.5 4.4 5.7 4.5 5.9 4.5 6.1 4.5 6.2 4.4 6.3 4.5 6.5 4.5 6.5 4.5 6.6 4.5 6.6 4.4 6.7 4.5 6.7 4.5 6.7 4.5 6.8 4.5 6.7 4.4 6.7 4.5 6.6 4.5 6.6 4.5 6.6 4.5 6.5 4.4 6.5 4.5 6.4 4.5 6.3 4.5 6.2 4.4 6.1 4.5 6.1 4.5 5.9 4.5 5.9 4.5 5.7 4.4 5.7 4.5 5.5 4.5 5.5 4.5 5.3 4.5 5.3 8.9 10.1 9 9.7 8.9 9.2 9 8.9 8.9 8.4 9 7.9 9 7.6 8.9 7.1 9 6.8 8.9 6.4 9 6 8.9 5.7 9 5.3 9 5 8.9 4.7 9 4.4 8.9 4.2 9 3.8 8.9 3.7 9 3.4 17.9 6.1 17.9 5.3 17.9 4.6 18 4 17.9 3.5 17.9 2.9 17.9 2.6 17.9 2.2 17.9 1.9 18 1.6 17.9 1.4 17.9 1.2 13.1 .7 1 0 0 .9-1 0-13.1-.6-17.9-1.1-17.9-1.2-18-1.5-17.9-1.8-17.9-2-17.9-2.4-17.9-2.8-17.9-3.3-18-3.8-17.9-4.5-17.9-5.2-17.9-5.9-9-3.4-8.9-3.6-9-3.8-8.9-4.1-9-4.4-8.9-4.8-9-5-9-5.4-8.9-5.7-9-6.1-8.9-6.5-9-6.9-8.9-7.3-9-7.8-9-8.2-8.9-8.7-9-9.1-8.9-9.6-9-10.1-8.9-10.6-4.5-5.4-4.5-5.6-4.5-5.7-4.5-5.8-4.4-5.9-4.5-6.1-4.5-6.1-4.5-6.3-4.5-6.3-4.4-6.5-4.5-6.5-4.5-6.7-4.5-6.7-4.4-6.8-4.5-6.8-4.5-7-4.5-6.9-4.5-7.1-4.4-7-4.5-7.1-4.5-7.1-4.5-7.1-4.5-7.1-4.4-7-4.5-7-4.5-6.9-4.5-6.9-4.5-6.8-4.4-6.6-4.5-6.5-4.5-6.3-4.5-6.2-4.4-5.9-4.5-5.7-4.5-5.4-4.5-5.1-4.5-4.8-4.4-4.5-4.5-4-4.5-3.6-4.5-3.2-4.5-2.6-4.4-2.1-4.5-1.6-4.5-.9-4.5-.3-4.4 .4-4.5 1.2-4.5 1.9-4.5 2.7-4.5 3.6-4.4 4.5-4.5 5.4-4.5 6.4-4.5 7.3-4.5 8.4-2.8 5.9-2.9 6.4-2.9 6.7-2.8 7.3-2.9 7.6-2.9 8.1-2.8 8.6-2.9 9-2.9 9.4-2.8 9.9-2.9 10.2-2.9 10.7-2.8 11.2-2.9 11.4-2.9 11.9-2.8 12.2-2.9 12.6-2.9 12.8-2.8 13.1-2.9 13.3-2.9 13.5-2.8 13.6-2.9 13.8-2.8 13.7-2.9 13.7-2.9 13.6-2.8 13.3-2.9 13.1-2.9 12.6-2.8 12.2-1.7 6.5-1.6 6.3-1.6 6.1-1.6 5.8-1.6 5.4-1.6 5.2-1.6 4.7-1.6 4.3-1.7 3.8-1.6 3.4-1.6 2.7-1.6 2.1-1.6 1.5-1 0z" fill="#30123b"/>
<path d="M1193.1 787.3l1 0 1.6-1.5 1.6-2.1 1.6-2.7 1.6-3.4 1.7-3.8 1.6-4.3 1.6-4.7 1.6-5.2 1.6-5.4 1.6-5.8 1.6-6.1 1.6-6.3 1.7-6.5 2.8-12.2 2.9-12.6 2.9-13.1 2.8-13.3 2.9-13.6 2.9-13.7 2.8-13.7 2.9-13.8 2.8-13.6 2.9-13.5 2.9-13.3 2.8-13.1 2.9-12.8 2.9-12.6 2.8-12.2 2.9-11.9 2.9-11.4 2.8-11.2 2.9-10.7 2.9-10.2 2.8-9.9 2.9-9.4 2.9-9 2.8-8.6 2.9-8.1 2.9-7.6 2.8-7.3 2.9-6.7 2.9-6.4 2.8-5.9 4.5-8.4 4.5-7.3 4.5-6.4 4.5-5.4 4.4-4.5 4.5-3.6 4.5-2.7 4.5-1.9 4.5-1.2 4.4-.4 4.5 .3 4.5 .9 4.5 1.6 4.4 2.1 4.5 2.6 4.5 3.2 4.5 3.6 4.5 4 4.4 4.5 4.5 4.8 4.5 5.1 4.5 5.4 4.5 5.7 4.4 5.9 4.5 6.2 4.5 6.3 4.5 6.5 4.4 6.6 4.5 6.8 4.5 6.9 4.5 6.9 4.5 7 4.4 7 4.5 7.1 4.5 7.1 4.5 7.1 4.5 7.1 4.4 7 4.5 7.1 4.5 6.9 4.5 7 4.5 6.8 4.4 6.8 4.5 6.7 4.5 6.7 4.5 6.5 4.4 6.5 4.5 6.3 4.5 6.3 4.5 6.1 4.5 6.1 4.4 5.9 4.5 5.8 4.5 5.7 4.5 5.6 4.5 5.4 8.9 10.6 9 10.1 8.9 9.6 9 9.1 8.9 8.7 9 8.2 9 7.8 8.9 7.3 9 6.9 8.9 6.5 9 6.1 8.9 5.7 9 5.4 9 5 8.9 4.8 9 4.4 8.9 4.1 9 3.8 8.9 3.6 9 3.4 17.9 5.9 17.9 5.2 17.9 4.5 18 3.8 17.9 3.3 17.9 2.8 17.9 2.4 17.9 2 17.9 1.8 18 1.5 17.9 1.2 17.9 1.1 13.1 .6 1 0 0 .7-1 0-13.1-.6-17.9-.9-17.9-1.2-18-1.3-17.9-1.7-17.9-1.9-17.9-2.2-17.9-2.7-17.9-3.1-18-3.7-17.9-4.3-17.9-5.1-17.9-5.8-9-3.3-8.9-3.6-9-3.8-8.9-4.1-9-4.4-8.9-4.7-9-5.1-9-5.4-8.9-5.8-9-6.2-8.9-6.6-9-7-8.9-7.5-9-7.9-9-8.4-8.9-8.9-9-9.4-8.9-9.9-9-10.5-8.9-10.9-4.5-5.7-4.5-5.8-4.5-5.9-4.5-6-4.4-6.2-4.5-6.3-4.5-6.4-4.5-6.5-4.5-6.7-4.4-6.7-4.5-6.8-4.5-7-4.5-7-4.4-7.1-4.5-7.2-4.5-7.2-4.5-7.3-4.5-7.4-4.4-7.4-4.5-7.4-4.5-7.4-4.5-7.4-4.5-7.4-4.4-7.4-4.5-7.3-4.5-7.2-4.5-7.2-4.5-7-4.4-6.9-4.5-6.7-4.5-6.6-4.5-6.3-4.4-6.1-4.5-5.9-4.5-5.5-4.5-5.2-4.5-4.9-4.4-4.4-4.5-4-4.5-3.6-4.5-3-4.5-2.5-4.4-1.9-4.5-1.2-4.5-.6-4.5 .1-4.4 .8-4.5 1.7-4.5 2.5-4.5 3.4-4.5 4.2-4.4 5.3-4.5 6.2-4.5 7.2-4.5 8.3-4.5 9.3-2.8 6.6-2.9 7-2.9 7.4-2.8 7.9-2.9 8.3-2.9 8.8-2.8 9.3-2.9 9.6-2.9 10.1-2.8 10.6-2.9 10.9-2.9 11.3-2.8 11.7-2.9 12.1-2.9 12.4-2.8 12.7-2.9 13-2.9 13.2-2.8 13.4-2.9 13.6-2.9 13.6-2.8 13.7-2.9 13.7-2.8 13.7-2.9 13.5-2.9 13.2-2.8 12.9-2.9 12.5-2.9 12-2.8 11.3-1.7 6.1-1.6 5.8-1.6 5.5-1.6 5.2-1.6 4.8-1.6 4.5-1.6 4.1-1.6 3.6-1.7 3.2-1.6 2.7-1.6 2.2-1.6 1.6-1.6 1-1 0z" fill="#33184a"/>
<path d="M1193.1 787.5l1 0 1.6-1 1.6-1.6 1.6-2.2 1.6-2.7 1.7-3.2 1.6-3.6 1.6-4.1 1.6-4.5 1.6-4.8 1.6-5.2 1.6-5.5 1.6-5.8 1.7-6.1 2.8-11.3 2.9-12 2.9-12.5 2.8-12.9 2.9-13.2 2.9-13.5 2.8-13.7 2.9-13.7 2.8-13.7 2.9-13.6 2.9-13.6 2.8-13.4 2.9-13.2 2.9-13 2.8-12.7 2.9-12.4 2.9-12.1 2.8-11.7 2.9-11.3 2.9-10.9 2.8-10.6 2.9-10.1 2.9-9.6 2.8-9.3 2.9-8.8 2.9-8.3 2.8-7.9 2.9-7.4 2.9-7 2.8-6.6 4.5-9.3 4.5-8.3 4.5-7.2 4.5-6.2 4.4-5.3 4.5-4.2 4.5-3.4 4.5-2.5 4.5-1.7 4.4-.8 4.5-.1 4.5 .6 4.5 1.2 4.4 1.9 4.5 2.5 4.5 3 4.5 3.6 4.5 4 4.4 4.4 4.5 4.9 4.5 5.2 4.5 5.5 4.5 5.9 4.4 6.1 4.5 6.3 4.5 6.6 4.5 6.7 4.4 6.9 4.5 7 4.5 7.2 4.5 7.2 4.5 7.3 4.4 7.4 4.5 7.4 4.5 7.4 4.5 7.4 4.5 7.4 4.4 7.4 4.5 7.4 4.5 7.3 4.5 7.2 4.5 7.2 4.4 7.1 4.5 7 4.5 7 4.5 6.8 4.4 6.7 4.5 6.7 4.5 6.5 4.5 6.4 4.5 6.3 4.4 6.2 4.5 6 4.5 5.9 4.5 5.8 4.5 5.7 8.9 10.9 9 10.5 8.9 9.9 9 9.4 8.9 8.9 9 8.4 9 7.9 8.9 7.5 9 7 8.9 6.6 9 6.2 8.9 5.8 9 5.4 9 5.1 8.9 4.7 9 4.4 8.9 4.1 9 3.8 8.9 3.6 9 3.3 17.9 5.8 17.9 5.1 17.9 4.3 18 3.7 17.9 3.1 17.9 2.7 17.9 2.2 17.9 1.9 17.9 1.7 18 1.3 17.9 1.2 17.9 .9 13.1 .6 1 0 0 .3-1 0-13.1-.5-17.9-.9-17.9-1.1-18-1.3-17.9-1.5-17.9-1.8-17.9-2.1-17.9-2.5-17.9-2.9-18-3.5-17.9-4.1-17.9-4.8-17.9-5.6-9-3.1-8.9-3.4-9-3.6-8.9-3.9-9-4.2-8.9-4.5-9-4.9-9-5.2-8.9-5.5-9-6-8.9-6.4-9-6.7-8.9-7.3-9-7.7-9-8.1-8.9-8.7-9-9.1-8.9-9.7-9-10.2-8.9-10.8-4.5-5.6-4.5-5.7-4.5-5.8-4.5-6-4.4-6.1-4.5-6.2-4.5-6.3-4.5-6.5-4.5-6.6-4.4-6.7-4.5-6.8-4.5-7-4.5-7-4.4-7.1-4.5-7.3-4.5-7.3-4.5-7.3-4.5-7.5-4.4-7.5-4.5-7.5-4.5-7.6-4.5-7.6-4.5-7.6-4.4-7.5-4.5-7.6-4.5-7.5-4.5-7.4-4.5-7.4-4.4-7.2-4.5-7.1-4.5-7-4.5-6.8-4.4-6.6-4.5-6.3-4.5-6.1-4.5-5.8-4.5-5.4-4.4-5.1-4.5-4.6-4.5-4.3-4.5-3.7-4.5-3.3-4.4-2.6-4.5-2.1-4.5-1.4-4.5-.8-4.4 0-4.5 .8-4.5 1.6-4.5 2.5-4.5 3.4-4.4 4.4-4.5 5.3-4.5 6.4-4.5 7.4-4.5 8.6-2.8 6-2.9 6.6-2.9 7-2.8 7.5-2.9 7.9-2.9 8.5-2.8 8.9-2.9 9.4-2.9 9.9-2.8 10.3-2.9 10.8-2.9 11.2-2.8 11.7-2.9 12.1-2.9 12.5-2.8 12.8-2.9 13.2-2.9 13.5-2.8 13.8-2.9 14-2.9 14.2-2.8 14.4-2.9 14.4-2.8 14.4-2.9 14.3-2.9 14.2-2.8 13.9-2.9 13.6-2.9 13.1-2.8 12.5-1.7 6.7-1.6 6.5-1.6 6.2-1.6 5.9-1.6 5.5-1.6 5.2-1.6 4.7-1.6 4.3-1.7 3.8-1.6 3.3-1.6 2.7-1.6 2-1.6 1.3-1 0z" fill="#36215f"/>
<path d="M1193.1 787.3l1 0 1.6-1.3 1.6-2 1.6-2.7 1.6-3.3 1.7-3.8 1.6-4.3 1.6-4.7 1.6-5.2 1.6-5.5 1.6-5.9 1.6-6.2 1.6-6.5 1.7-6.7 2.8-12.5 2.9-13.1 2.9-13.6 2.8-13.9 2.9-14.2 2.9-14.3 2.8-14.4 2.9-14.4 2.8-14.4 2.9-14.2 2.9-14 2.8-13.8 2.9-13.5 2.9-13.2 2.8-12.8 2.9-12.5 2.9-12.1 2.8-11.7 2.9-11.2 2.9-10.8 2.8-10.3 2.9-9.9 2.9-9.4 2.8-8.9 2.9-8.5 2.9-7.9 2.8-7.5 2.9-7 2.9-6.6 2.8-6 4.5-8.6 4.5-7.4 4.5-6.4 4.5-5.3 4.4-4.4 4.5-3.4 4.5-2.5 4.5-1.6 4.5-.8 4.4 0 4.5 .8 4.5 1.4 4.5 2.1 4.4 2.6 4.5 3.3 4.5 3.7 4.5 4.3 4.5 4.6 4.4 5.1 4.5 5.4 4.5 5.8 4.5 6.1 4.5 6.3 4.4 6.6 4.5 6.8 4.5 7 4.5 7.1 4.4 7.2 4.5 7.4 4.5 7.4 4.5 7.5 4.5 7.6 4.4 7.5 4.5 7.6 4.5 7.6 4.5 7.6 4.5 7.5 4.4 7.5 4.5 7.5 4.5 7.3 4.5 7.3 4.5 7.3 4.4 7.1 4.5 7 4.5 7 4.5 6.8 4.4 6.7 4.5 6.6 4.5 6.5 4.5 6.3 4.5 6.2 4.4 6.1 4.5 6 4.5 5.8 4.5 5.7 4.5 5.6 8.9 10.8 9 10.2 8.9 9.7 9 9.1 8.9 8.7 9 8.1 9 7.7 8.9 7.3 9 6.7 8.9 6.4 9 6 8.9 5.5 9 5.2 9 4.9 8.9 4.5 9 4.2 8.9 3.9 9 3.6 8.9 3.4 9 3.1 17.9 5.6 17.9 4.8 17.9 4.1 18 3.5 17.9 2.9 17.9 2.5 17.9 2.1 17.9 1.8 17.9 1.5 18 1.3 17.9 1.1 17.9 .9 13.1 .5 1 0 0 .6-1 0-13.1-.5-17.9-.8-17.9-.9-18-1.2-17.9-1.3-17.9-1.7-17.9-2-17.9-2.3-17.9-2.8-18-3.3-17.9-3.9-17.9-4.6-17.9-5.5-9-3-8.9-3.3-9-3.6-8.9-3.9-9-4.2-8.9-4.5-9-4.8-9-5.2-8.9-5.6-9-6-8.9-6.4-9-6.9-8.9-7.4-9-7.8-9-8.4-8.9-8.9-9-9.4-8.9-10-9-10.5-8.9-11.1-4.5-5.8-4.5-5.9-4.5-6.1-4.5-6.2-4.4-6.3-4.5-6.5-4.5-6.6-4.5-6.8-4.5-6.9-4.4-7-4.5-7.1-4.5-7.3-4.5-7.4-4.4-7.4-4.5-7.6-4.5-7.6-4.5-7.8-4.5-7.8-4.4-7.8-4.5-8-4.5-7.9-4.5-7.9-4.5-8-4.4-7.9-4.5-7.9-4.5-7.9-4.5-7.8-4.5-7.7-4.4-7.5-4.5-7.4-4.5-7.3-4.5-7-4.4-6.8-4.5-6.6-4.5-6.2-4.5-5.9-4.5-5.6-4.4-5.1-4.5-4.7-4.5-4.2-4.5-3.6-4.5-3.1-4.4-2.5-4.5-1.8-4.5-1.1-4.5-.4-4.4 .5-4.5 1.3-4.5 2.2-4.5 3.1-4.5 4.1-4.4 5.2-4.5 6.2-4.5 7.3-4.5 8.4-4.5 9.6-2.8 6.8-2.9 7.2-2.9 7.8-2.8 8.2-2.9 8.7-2.9 9.2-2.8 9.6-2.9 10.2-2.9 10.6-2.8 11.1-2.9 11.5-2.9 11.9-2.8 12.4-2.9 12.7-2.9 13.1-2.8 13.4-2.9 13.7-2.9 13.9-2.8 14.1-2.9 14.3-2.9 14.4-2.8 14.4-2.9 14.4-2.8 14.3-2.9 14.1-2.9 13.8-2.8 13.4-2.9 13-2.9 12.4-2.8 11.6-1.7 6.2-1.6 5.9-1.6 5.6-1.6 5.3-1.6 4.8-1.6 4.5-1.6 4.1-1.6 3.6-1.7 3.1-1.6 2.6-1.6 2.1-1.6 1.5-1.6 1-1 0z" fill="#38276d"/>
<path d="M1193.1 787.6l1 0 1.6-1 1.6-1.5 1.6-2.1 1.6-2.6 1.7-3.1 1.6-3.6 1.6-4.1 1.6-4.5 1.6-4.8 1.6-5.3 1.6-5.6 1.6-5.9 1.7-6.2 2.8-11.6 2.9-12.4 2.9-13 2.8-13.4 2.9-13.8 2.9-14.1 2.8-14.3 2.9-14.4 2.8-14.4 2.9-14.4 2.9-14.3 2.8-14.1 2.9-13.9 2.9-13.7 2.8-13.4 2.9-13.1 2.9-12.7 2.8-12.4 2.9-11.9 2.9-11.5 2.8-11.1 2.9-10.6 2.9-10.2 2.8-9.6 2.9-9.2 2.9-8.7 2.8-8.2 2.9-7.8 2.9-7.2 2.8-6.8 4.5-9.6 4.5-8.4 4.5-7.3 4.5-6.2 4.4-5.2 4.5-4.1 4.5-3.1 4.5-2.2 4.5-1.3 4.4-.5 4.5 .4 4.5 1.1 4.5 1.8 4.4 2.5 4.5 3.1 4.5 3.6 4.5 4.2 4.5 4.7 4.4 5.1 4.5 5.6 4.5 5.9 4.5 6.2 4.5 6.6 4.4 6.8 4.5 7 4.5 7.3 4.5 7.4 4.4 7.5 4.5 7.7 4.5 7.8 4.5 7.9 4.5 7.9 4.4 7.9 4.5 8 4.5 7.9 4.5 7.9 4.5 8 4.4 7.8 4.5 7.8 4.5 7.8 4.5 7.6 4.5 7.6 4.4 7.4 4.5 7.4 4.5 7.3 4.5 7.1 4.4 7 4.5 6.9 4.5 6.8 4.5 6.6 4.5 6.5 4.4 6.3 4.5 6.2 4.5 6.1 4.5 5.9 4.5 5.8 8.9 11.1 9 10.5 8.9 10 9 9.4 8.9 8.9 9 8.4 9 7.8 8.9 7.4 9 6.9 8.9 6.4 9 6 8.9 5.6 9 5.2 9 4.8 8.9 4.5 9 4.2 8.9 3.9 9 3.6 8.9 3.3 9 3 17.9 5.5 17.9 4.6 17.9 3.9 18 3.3 17.9 2.8 17.9 2.3 17.9 2 17.9 1.7 17.9 1.3 18 1.2 17.9 .9 17.9 .8 13.1 .5 1 0 0-.2-1 0-13.1-.6-17.9-.8-17.9-1.1-18-1.2-17.9-1.5-17.9-1.8-17.9-2.1-17.9-2.5-17.9-3-18-3.5-17.9-4.2-17.9-4.9-17.9-5.8-9-3.3-8.9-3.5-9-3.8-8.9-4.1-9-4.4-8.9-4.8-9-5.1-9-5.5-8.9-5.9-9-6.3-8.9-6.7-9-7.2-8.9-7.7-9-8.2-9-8.7-8.9-9.3-9-9.7-8.9-10.4-9-10.8-8.9-11.5-4.5-5.9-4.5-6.1-4.5-6.2-4.5-6.3-4.4-6.5-4.5-6.6-4.5-6.7-4.5-6.9-4.5-7-4.4-7.1-4.5-7.2-4.5-7.3-4.5-7.4-4.4-7.4-4.5-7.6-4.5-7.6-4.5-7.7-4.5-7.7-4.4-7.8-4.5-7.8-4.5-7.8-4.5-7.8-4.5-7.7-4.4-7.7-4.5-7.6-4.5-7.6-4.5-7.4-4.5-7.3-4.4-7.1-4.5-7-4.5-6.7-4.5-6.5-4.4-6.2-4.5-5.9-4.5-5.5-4.5-5.2-4.5-4.8-4.4-4.3-4.5-3.8-4.5-3.3-4.5-2.7-4.5-2.1-4.4-1.4-4.5-.8-4.5 0-4.5 .8-4.4 1.7-4.5 2.4-4.5 3.4-4.5 4.4-4.5 5.3-4.4 6.4-4.5 7.4-4.5 8.4-4.5 9.6-4.5 10.6-2.8 7.5-2.9 7.8-2.9 8.3-2.8 8.8-2.9 9.2-2.9 9.7-2.8 10-2.9 10.6-2.9 10.9-2.8 11.3-2.9 11.6-2.9 12.1-2.8 12.3-2.9 12.7-2.9 12.9-2.8 13.1-2.9 13.4-2.9 13.5-2.8 13.6-2.9 13.6-2.9 13.6-2.8 13.6-2.9 13.4-2.8 13.2-2.9 13-2.9 12.5-2.8 12.1-2.9 11.5-2.9 10.9-2.8 10.2-1.7 5.3-1.6 5-1.6 4.7-1.6 4.4-1.6 4-1.6 3.7-1.6 3.3-1.6 2.8-1.7 2.4-1.6 2-1.6 1.6-1.6 1.1-1.6 .6-1 0z" fill="#3b2f80"/>
<path d="M1193.1 787.7l1 0 1.6-.6 1.6-1.1 1.6-1.6 1.6-2 1.7-2.4 1.6-2.8 1.6-3.3 1.6-3.7 1.6-4 1.6-4.4 1.6-4.7 1.6-5 1.7-5.3 2.8-10.2 2.9-10.9 2.9-11.5 2.8-12.1 2.9-12.5 2.9-13 2.8-13.2 2.9-13.4 2.8-13.6 2.9-13.6 2.9-13.6 2.8-13.6 2.9-13.5 2.9-13.4 2.8-13.1 2.9-12.9 2.9-12.7 2.8-12.3 2.9-12.1 2.9-11.6 2.8-11.3 2.9-10.9 2.9-10.6 2.8-10 2.9-9.7 2.9-9.2 2.8-8.8 2.9-8.3 2.9-7.8 2.8-7.5 4.5-10.6 4.5-9.6 4.5-8.4 4.5-7.4 4.4-6.4 4.5-5.3 4.5-4.4 4.5-3.4 4.5-2.4 4.4-1.7 4.5-.8 4.5 0 4.5 .8 4.4 1.4 4.5 2.1 4.5 2.7 4.5 3.3 4.5 3.8 4.4 4.3 4.5 4.8 4.5 5.2 4.5 5.5 4.5 5.9 4.4 6.2 4.5 6.5 4.5 6.7 4.5 7 4.4 7.1 4.5 7.3 4.5 7.4 4.5 7.6 4.5 7.6 4.4 7.7 4.5 7.7 4.5 7.8 4.5 7.8 4.5 7.8 4.4 7.8 4.5 7.7 4.5 7.7 4.5 7.6 4.5 7.6 4.4 7.4 4.5 7.4 4.5 7.3 4.5 7.2 4.4 7.1 4.5 7 4.5 6.9 4.5 6.7 4.5 6.6 4.4 6.5 4.5 6.3 4.5 6.2 4.5 6.1 4.5 5.9 8.9 11.5 9 10.8 8.9 10.4 9 9.7 8.9 9.3 9 8.7 9 8.2 8.9 7.7 9 7.2 8.9 6.7 9 6.3 8.9 5.9 9 5.5 9 5.1 8.9 4.8 9 4.4 8.9 4.1 9 3.8 8.9 3.5 9 3.3 17.9 5.8 17.9 4.9 17.9 4.2 18 3.5 17.9 3 17.9 2.5 17.9 2.1 17.9 1.8 17.9 1.5 18 1.2 17.9 1.1 17.9 .8 13.1 .6 1 0 0 1.7-1 0-13.1-.3-17.9-.6-17.9-.6-18-.9-17.9-1-17.9-1.2-17.9-1.5-17.9-1.9-17.9-2.3-18-2.8-17.9-3.3-17.9-4.1-17.9-4.9-9-2.9-8.9-3-9-3.4-8.9-3.7-9-4.1-8.9-4.4-9-4.8-9-5.2-8.9-5.6-9-6.1-8.9-6.7-9-7.1-8.9-7.8-9-8.3-9-9-8.9-9.6-9-10.2-8.9-11-9-11.7-8.9-12.4-4.5-6.5-4.5-6.6-4.5-6.9-4.5-7-4.4-7.2-4.5-7.4-4.5-7.5-4.5-7.7-4.5-7.9-4.4-8.1-4.5-8.2-4.5-8.4-4.5-8.5-4.4-8.6-4.5-8.8-4.5-8.9-4.5-8.9-4.5-9.1-4.4-9.1-4.5-9.1-4.5-9.2-4.5-9.2-4.5-9.2-4.4-9.2-4.5-9.1-4.5-9-4.5-8.9-4.5-8.7-4.4-8.5-4.5-8.4-4.5-8-4.5-7.8-4.4-7.4-4.5-7.1-4.5-6.6-4.5-6.2-4.5-5.6-4.4-5-4.5-4.5-4.5-3.7-4.5-3.1-4.5-2.2-4.4-1.4-4.5-.5-4.5 .4-4.5 1.4-4.4 2.5-4.5 3.5-4.5 4.7-4.5 5.8-4.5 7.1-4.4 8.3-4.5 9.6-4.5 10.8-4.5 12.2-4.5 13.4-2.8 9.2-2.9 9.8-2.9 10.3-2.8 10.7-2.9 11.3-2.9 11.7-2.8 12.1-2.9 12.5-2.9 13-2.8 13.3-2.9 13.6-2.9 13.9-2.8 14.2-2.9 14.3-2.9 14.5-2.8 14.6-2.9 14.7-2.9 14.6-2.8 14.5-2.9 14.4-2.9 14.2-2.8 13.8-2.9 13.5-2.8 13-2.9 12.4-2.9 11.8-2.8 11.1-2.9 10.2-2.9 9.4-2.8 8.4-1.7 4.3-1.6 3.9-1.6 3.6-1.6 3.2-1.6 2.9-1.6 2.5-1.6 2.2-1.6 1.7-1.7 1.5-1.6 1.1-1.6 .7-1.6 .5-1.6 .2-1 0z" fill="#3e3891"/>
<path d="M1193.1 787.8l1 0 1.6-.2 1.6-.5 1.6-.7 1.6-1.1 1.7-1.5 1.6-1.7 1.6-2.2 1.6-2.5 1.6-2.9 1.6-3.2 1.6-3.6 1.6-3.9 1.7-4.3 2.8-8.4 2.9-9.4 2.9-10.2 2.8-11.1 2.9-11.8 2.9-12.4 2.8-13 2.9-13.5 2.8-13.8 2.9-14.2 2.9-14.4 2.8-14.5 2.9-14.6 2.9-14.7 2.8-14.6 2.9-14.5 2.9-14.3 2.8-14.2 2.9-13.9 2.9-13.6 2.8-13.3 2.9-13 2.9-12.5 2.8-12.1 2.9-11.7 2.9-11.3 2.8-10.7 2.9-10.3 2.9-9.8 2.8-9.2 4.5-13.4 4.5-12.2 4.5-10.8 4.5-9.6 4.4-8.3 4.5-7.1 4.5-5.8 4.5-4.7 4.5-3.5 4.4-2.5 4.5-1.4 4.5-.4 4.5 .5 4.4 1.4 4.5 2.2 4.5 3.1 4.5 3.7 4.5 4.5 4.4 5 4.5 5.6 4.5 6.2 4.5 6.6 4.5 7.1 4.4 7.4 4.5 7.8 4.5 8 4.5 8.4 4.4 8.5 4.5 8.7 4.5 8.9 4.5 9 4.5 9.1 4.4 9.2 4.5 9.2 4.5 9.2 4.5 9.2 4.5 9.1 4.4 9.1 4.5 9.1 4.5 8.9 4.5 8.9 4.5 8.8 4.4 8.6 4.5 8.5 4.5 8.4 4.5 8.2 4.4 8.1 4.5 7.9 4.5 7.7 4.5 7.5 4.5 7.4 4.4 7.2 4.5 7 4.5 6.9 4.5 6.6 4.5 6.5 8.9 12.4 9 11.7 8.9 11 9 10.2 8.9 9.6 9 9 9 8.3 8.9 7.8 9 7.1 8.9 6.7 9 6.1 8.9 5.6 9 5.2 9 4.8 8.9 4.4 9 4.1 8.9 3.7 9 3.4 8.9 3 9 2.9 17.9 4.9 17.9 4.1 17.9 3.3 18 2.8 17.9 2.3 17.9 1.9 17.9 1.5 17.9 1.2 17.9 1 18 .9 17.9 .6 17.9 .6 13.1 .3 1 0 0-.2-1 0-13.1-.3-17.9-.6-17.9-.7-18-.9-17.9-1-17.9-1.3-17.9-1.6-17.9-1.9-17.9-2.3-18-2.8-17.9-3.4-17.9-4.1-17.9-4.9-9-2.8-8.9-3.1-9-3.3-8.9-3.7-9-3.9-8.9-4.4-9-4.7-9-5.1-8.9-5.5-9-6-8.9-6.5-9-7-8.9-7.5-9-8.1-9-8.7-8.9-9.3-9-9.9-8.9-10.7-9-11.3-8.9-11.9-4.5-6.3-4.5-6.4-4.5-6.7-4.5-6.7-4.4-7-4.5-7.1-4.5-7.3-4.5-7.5-4.5-7.7-4.4-7.8-4.5-7.9-4.5-8.1-4.5-8.2-4.4-8.4-4.5-8.5-4.5-8.6-4.5-8.7-4.5-8.8-4.4-8.9-4.5-9-4.5-8.9-4.5-9-4.5-9-4.4-9-4.5-9-4.5-8.9-4.5-8.7-4.5-8.7-4.4-8.5-4.5-8.3-4.5-8.2-4.5-7.8-4.4-7.6-4.5-7.2-4.5-6.8-4.5-6.4-4.5-6-4.4-5.4-4.5-4.9-4.5-4.2-4.5-3.6-4.5-2.9-4.4-2.1-4.5-1.3-4.5-.3-4.5 .5-4.4 1.5-4.5 2.6-4.5 3.6-4.5 4.8-4.5 5.9-4.4 7.2-4.5 8.3-4.5 9.7-4.5 10.9-4.5 12.2-2.8 8.5-2.9 9-2.9 9.6-2.8 10-2.9 10.6-2.9 11-2.8 11.6-2.9 11.9-2.9 12.5-2.8 12.8-2.9 13.2-2.9 13.6-2.8 13.9-2.9 14.2-2.9 14.4-2.8 14.6-2.9 14.7-2.9 14.9-2.8 14.8-2.9 14.8-2.9 14.6-2.8 14.4-2.9 14.2-2.8 13.8-2.9 13.3-2.9 12.8-2.8 12.2-2.9 11.4-2.9 10.5-2.8 9.6-1.7 5-1.6 4.6-1.6 4.2-1.6 3.9-1.6 3.5-1.6 3.1-1.6 2.7-1.6 2.3-1.7 1.9-1.6 1.4-1.6 1.1-1.6 .7-1.6 .4-1 0z" fill="#3f3e9c"/>
<path d="M1193.1 787.8l1 0 1.6-.4 1.6-.7 1.6-1.1 1.6-1.4 1.7-1.9 1.6-2.3 1.6-2.7 1.6-3.1 1.6-3.5 1.6-3.9 1.6-4.2 1.6-4.6 1.7-5 2.8-9.6 2.9-10.5 2.9-11.4 2.8-12.2 2.9-12.8 2.9-13.3 2.8-13.8 2.9-14.2 2.8-14.4 2.9-14.6 2.9-14.8 2.8-14.8 2.9-14.9 2.9-14.7 2.8-14.6 2.9-14.4 2.9-14.2 2.8-13.9 2.9-13.6 2.9-13.2 2.8-12.8 2.9-12.5 2.9-11.9 2.8-11.6 2.9-11 2.9-10.6 2.8-10 2.9-9.6 2.9-9 2.8-8.5 4.5-12.2 4.5-10.9 4.5-9.7 4.5-8.3 4.4-7.2 4.5-5.9 4.5-4.8 4.5-3.6 4.5-2.6 4.4-1.5 4.5-.5 4.5 .3 4.5 1.3 4.4 2.1 4.5 2.9 4.5 3.6 4.5 4.2 4.5 4.9 4.4 5.4 4.5 6 4.5 6.4 4.5 6.8 4.5 7.2 4.4 7.6 4.5 7.8 4.5 8.2 4.5 8.3 4.4 8.5 4.5 8.7 4.5 8.7 4.5 8.9 4.5 9 4.4 9 4.5 9 4.5 9 4.5 8.9 4.5 9 4.4 8.9 4.5 8.8 4.5 8.7 4.5 8.6 4.5 8.5 4.4 8.4 4.5 8.2 4.5 8.1 4.5 7.9 4.4 7.8 4.5 7.7 4.5 7.5 4.5 7.3 4.5 7.1 4.4 7 4.5 6.7 4.5 6.7 4.5 6.4 4.5 6.3 8.9 11.9 9 11.3 8.9 10.7 9 9.9 8.9 9.3 9 8.7 9 8.1 8.9 7.5 9 7 8.9 6.5 9 6 8.9 5.5 9 5.1 9 4.7 8.9 4.4 9 3.9 8.9 3.7 9 3.3 8.9 3.1 9 2.8 17.9 4.9 17.9 4.1 17.9 3.4 18 2.8 17.9 2.3 17.9 1.9 17.9 1.6 17.9 1.3 17.9 1 18 .9 17.9 .7 17.9 .6 13.1 .3 1 0 0 .2-1 0-13.1-.4-17.9-.5-17.9-.7-18-.8-17.9-1-17.9-1.2-17.9-1.5-17.9-1.9-17.9-2.3-18-2.8-17.9-3.3-17.9-4.1-17.9-4.9-9-2.8-8.9-3.1-9-3.4-8.9-3.7-9-4-8.9-4.4-9-4.8-9-5.2-8.9-5.6-9-6.1-8.9-6.6-9-7.2-8.9-7.7-9-8.3-9-8.9-8.9-9.6-9-10.2-8.9-10.9-9-11.7-8.9-12.3-4.5-6.5-4.5-6.6-4.5-6.9-4.5-7-4.4-7.1-4.5-7.4-4.5-7.5-4.5-7.7-4.5-7.9-4.4-8.1-4.5-8.1-4.5-8.4-4.5-8.5-4.4-8.6-4.5-8.7-4.5-8.9-4.5-8.9-4.5-9.1-4.4-9.1-4.5-9.1-4.5-9.2-4.5-9.2-4.5-9.2-4.4-9.1-4.5-9.1-4.5-9-4.5-8.9-4.5-8.7-4.4-8.6-4.5-8.3-4.5-8.1-4.5-7.8-4.4-7.4-4.5-7.1-4.5-6.7-4.5-6.2-4.5-5.7-4.4-5.1-4.5-4.5-4.5-3.8-4.5-3.1-4.5-2.3-4.4-1.5-4.5-.6-4.5 .3-4.5 1.4-4.4 2.3-4.5 3.4-4.5 4.6-4.5 5.8-4.5 6.9-4.4 8.2-4.5 9.5-4.5 10.7-4.5 12-4.5 13.3-2.8 9.2-2.9 9.7-2.9 10.2-2.8 10.7-2.9 11.2-2.9 11.6-2.8 12.1-2.9 12.5-2.9 12.9-2.8 13.2-2.9 13.6-2.9 13.9-2.8 14.2-2.9 14.3-2.9 14.5-2.8 14.7-2.9 14.6-2.9 14.7-2.8 14.6-2.9 14.4-2.9 14.3-2.8 13.9-2.9 13.5-2.8 13.1-2.9 12.5-2.9 11.9-2.8 11.2-2.9 10.4-2.9 9.5-2.8 8.5-1.7 4.3-1.6 4-1.6 3.7-1.6 3.3-1.6 2.9-1.6 2.6-1.6 2.2-1.6 1.8-1.7 1.5-1.6 1.1-1.6 .8-1.6 .5-1.6 .2-1 0z" fill="#4146ac"/>
<path d="M1193.1 787.8l1 0 1.6-.2 1.6-.5 1.6-.8 1.6-1.1 1.7-1.5 1.6-1.8 1.6-2.2 1.6-2.6 1.6-2.9 1.6-3.3 1.6-3.7 1.6-4 1.7-4.3 2.8-8.5 2.9-9.5 2.9-10.4 2.8-11.2 2.9-11.9 2.9-12.5 2.8-13.1 2.9-13.5 2.8-13.9 2.9-14.3 2.9-14.4 2.8-14.6 2.9-14.7 2.9-14.6 2.8-14.7 2.9-14.5 2.9-14.3 2.8-14.2 2.9-13.9 2.9-13.6 2.8-13.2 2.9-12.9 2.9-12.5 2.8-12.1 2.9-11.6 2.9-11.2 2.8-10.7 2.9-10.2 2.9-9.7 2.8-9.2 4.5-13.3 4.5-12 4.5-10.7 4.5-9.5 4.4-8.2 4.5-6.9 4.5-5.8 4.5-4.6 4.5-3.4 4.4-2.3 4.5-1.4 4.5-.3 4.5 .6 4.4 1.5 4.5 2.3 4.5 3.1 4.5 3.8 4.5 4.5 4.4 5.1 4.5 5.7 4.5 6.2 4.5 6.7 4.5 7.1 4.4 7.4 4.5 7.8 4.5 8.1 4.5 8.3 4.4 8.6 4.5 8.7 4.5 8.9 4.5 9 4.5 9.1 4.4 9.1 4.5 9.2 4.5 9.2 4.5 9.2 4.5 9.1 4.4 9.1 4.5 9.1 4.5 8.9 4.5 8.9 4.5 8.7 4.4 8.6 4.5 8.5 4.5 8.4 4.5 8.1 4.4 8.1 4.5 7.9 4.5 7.7 4.5 7.5 4.5 7.4 4.4 7.1 4.5 7 4.5 6.9 4.5 6.6 4.5 6.5 8.9 12.3 9 11.7 8.9 10.9 9 10.2 8.9 9.6 9 8.9 9 8.3 8.9 7.7 9 7.2 8.9 6.6 9 6.1 8.9 5.6 9 5.2 9 4.8 8.9 4.4 9 4 8.9 3.7 9 3.4 8.9 3.1 9 2.8 17.9 4.9 17.9 4.1 17.9 3.3 18 2.8 17.9 2.3 17.9 1.9 17.9 1.5 17.9 1.2 17.9 1 18 .8 17.9 .7 17.9 .5 13.1 .4 1 0 0-.2-1 0-13.1-.3-17.9-.6-17.9-.7-18-.9-17.9-1.1-17.9-1.3-17.9-1.7-17.9-2-17.9-2.4-18-3-17.9-3.6-17.9-4.3-17.9-5.2-9-3-8.9-3.2-9-3.6-8.9-3.9-9-4.2-8.9-4.6-9-5.1-9-5.4-8.9-5.9-9-6.4-8.9-6.9-9-7.4-8.9-8-9-8.6-9-9.3-8.9-9.9-9-10.5-8.9-11.3-9-11.9-8.9-12.6-4.5-6.6-4.5-6.8-4.5-6.9-4.5-7.2-4.4-7.3-4.5-7.4-4.5-7.6-4.5-7.8-4.5-8-4.4-8.1-4.5-8.2-4.5-8.4-4.5-8.5-4.4-8.6-4.5-8.7-4.5-8.8-4.5-8.9-4.5-8.9-4.4-9-4.5-9-4.5-9-4.5-9-4.5-9-4.4-8.8-4.5-8.8-4.5-8.7-4.5-8.5-4.5-8.4-4.4-8.1-4.5-7.9-4.5-7.5-4.5-7.3-4.4-6.9-4.5-6.4-4.5-6-4.5-5.5-4.5-4.9-4.4-4.4-4.5-3.6-4.5-3-4.5-2.2-4.5-1.4-4.4-.6-4.5 .3-4.5 1.3-4.5 2.3-4.4 3.4-4.5 4.4-4.5 5.5-4.5 6.7-4.5 7.9-4.4 9.1-4.5 10.3-4.5 11.5-4.5 12.8-4.5 14-2.8 9.5-2.9 10.1-2.9 10.5-2.8 10.9-2.9 11.4-2.9 11.8-2.8 12.2-2.9 12.6-2.9 12.9-2.8 13.1-2.9 13.5-2.9 13.7-2.8 13.9-2.9 14-2.9 14.1-2.8 14.1-2.9 14.2-2.9 14-2.8 13.9-2.9 13.7-2.9 13.4-2.8 13.1-2.9 12.6-2.8 12.1-2.9 11.6-2.9 10.9-2.8 10.1-2.9 9.4-2.9 8.4-2.8 7.6-1.7 3.8-1.6 3.5-1.6 3.1-1.6 2.9-1.6 2.5-1.6 2.1-1.6 1.9-1.6 1.5-1.7 1.2-1.6 .9-1.6 .6-1.6 .4-1.6 .2-1 0z" fill="#424bb5"/>
<path d="M1193.1 787.9l1 0 1.6-.2 1.6-.4 1.6-.6 1.6-.9 1.7-1.2 1.6-1.5 1.6-1.9 1.6-2.1 1.6-2.5 1.6-2.9 1.6-3.1 1.6-3.5 1.7-3.8 2.8-7.6 2.9-8.4 2.9-9.4 2.8-10.1 2.9-10.9 2.9-11.6 2.8-12.1 2.9-12.6 2.8-13.1 2.9-13.4 2.9-13.7 2.8-13.9 2.9-14 2.9-14.2 2.8-14.1 2.9-14.1 2.9-14 2.8-13.9 2.9-13.7 2.9-13.5 2.8-13.1 2.9-12.9 2.9-12.6 2.8-12.2 2.9-11.8 2.9-11.4 2.8-10.9 2.9-10.5 2.9-10.1 2.8-9.5 4.5-14 4.5-12.8 4.5-11.5 4.5-10.3 4.4-9.1 4.5-7.9 4.5-6.7 4.5-5.5 4.5-4.4 4.4-3.4 4.5-2.3 4.5-1.3 4.5-.3 4.4 .6 4.5 1.4 4.5 2.2 4.5 3 4.5 3.6 4.4 4.4 4.5 4.9 4.5 5.5 4.5 6 4.5 6.4 4.4 6.9 4.5 7.3 4.5 7.5 4.5 7.9 4.4 8.1 4.5 8.4 4.5 8.5 4.5 8.7 4.5 8.8 4.4 8.8 4.5 9 4.5 9 4.5 9 4.5 9 4.4 9 4.5 8.9 4.5 8.9 4.5 8.8 4.5 8.7 4.4 8.6 4.5 8.5 4.5 8.4 4.5 8.2 4.4 8.1 4.5 8 4.5 7.8 4.5 7.6 4.5 7.4 4.4 7.3 4.5 7.2 4.5 6.9 4.5 6.8 4.5 6.6 8.9 12.6 9 11.9 8.9 11.3 9 10.5 8.9 9.9 9 9.3 9 8.6 8.9 8 9 7.4 8.9 6.9 9 6.4 8.9 5.9 9 5.4 9 5.1 8.9 4.6 9 4.2 8.9 3.9 9 3.6 8.9 3.2 9 3 17.9 5.2 17.9 4.3 17.9 3.6 18 3 17.9 2.4 17.9 2 17.9 1.7 17.9 1.3 17.9 1.1 18 .9 17.9 .7 17.9 .6 13.1 .3 1 0 0-1.5-1 0-13.1-.5-17.9-.9-17.9-1.1-18-1.2-17.9-1.6-17.9-1.9-17.9-2.2-17.9-2.7-17.9-3.2-18-3.8-17.9-4.5-17.9-5.3-17.9-6.3-9-3.6-8.9-3.8-9-4.2-8.9-4.4-9-4.9-8.9-5.2-9-5.6-9-6-8.9-6.4-9-6.9-8.9-7.4-9-7.9-8.9-8.4-9-9-9-9.5-8.9-10-9-10.7-8.9-11.2-9-11.7-8.9-12.4-4.5-6.4-4.5-6.5-4.5-6.6-4.5-6.8-4.4-6.9-4.5-7-4.5-7.2-4.5-7.2-4.5-7.4-4.4-7.5-4.5-7.5-4.5-7.6-4.5-7.7-4.4-7.8-4.5-7.8-4.5-7.8-4.5-7.9-4.5-7.8-4.4-7.9-4.5-7.8-4.5-7.7-4.5-7.7-4.5-7.6-4.4-7.5-4.5-7.3-4.5-7.2-4.5-7-4.5-6.8-4.4-6.5-4.5-6.2-4.5-5.9-4.5-5.6-4.4-5.2-4.5-4.8-4.5-4.4-4.5-3.8-4.5-3.3-4.4-2.8-4.5-2.1-4.5-1.5-4.5-.8-4.5-.1-4.4 .7-4.5 1.4-4.5 2.3-4.5 3.2-4.4 4.1-4.5 5-4.5 6-4.5 7-4.5 8-4.4 9-4.5 10-4.5 11.1-4.5 12.1-4.5 13-2.8 8.9-2.9 9.3-2.9 9.7-2.8 10-2.9 10.4-2.9 10.7-2.8 11.1-2.9 11.4-2.9 11.6-2.8 11.9-2.9 12.1-2.9 12.3-2.8 12.4-2.9 12.6-2.9 12.6-2.8 12.7-2.9 12.6-2.9 12.6-2.8 12.5-2.9 12.3-2.9 12.1-2.8 11.7-2.9 11.5-2.8 11-2.9 10.5-2.9 10-2.8 9.3-2.9 8.7-2.9 7.9-2.8 7.1-1.7 3.6-1.6 3.4-1.6 3-1.6 2.8-1.6 2.4-1.6 2.2-1.6 1.8-1.6 1.6-1.7 1.2-1.6 1-1.6 .7-1.6 .4-1.6 .2-1 0z" fill="#455ccf"/>
<path d="M1193.1 787.8l1 0 1.6-.2 1.6-.4 1.6-.7 1.6-1 1.7-1.2 1.6-1.6 1.6-1.8 1.6-2.2 1.6-2.4 1.6-2.8 1.6-3 1.6-3.4 1.7-3.6 2.8-7.1 2.9-7.9 2.9-8.7 2.8-9.3 2.9-10 2.9-10.5 2.8-11 2.9-11.5 2.8-11.7 2.9-12.1 2.9-12.3 2.8-12.5 2.9-12.6 2.9-12.6 2.8-12.7 2.9-12.6 2.9-12.6 2.8-12.4 2.9-12.3 2.9-12.1 2.8-11.9 2.9-11.6 2.9-11.4 2.8-11.1 2.9-10.7 2.9-10.4 2.8-10 2.9-9.7 2.9-9.3 2.8-8.9 4.5-13 4.5-12.1 4.5-11.1 4.5-10 4.4-9 4.5-8 4.5-7 4.5-6 4.5-5 4.4-4.1 4.5-3.2 4.5-2.3 4.5-1.4 4.4-.7 4.5 .1 4.5 .8 4.5 1.5 4.5 2.1 4.4 2.8 4.5 3.3 4.5 3.8 4.5 4.4 4.5 4.8 4.4 5.2 4.5 5.6 4.5 5.9 4.5 6.2 4.4 6.5 4.5 6.8 4.5 7 4.5 7.2 4.5 7.3 4.4 7.5 4.5 7.6 4.5 7.7 4.5 7.7 4.5 7.8 4.4 7.9 4.5 7.8 4.5 7.9 4.5 7.8 4.5 7.8 4.4 7.8 4.5 7.7 4.5 7.6 4.5 7.5 4.4 7.5 4.5 7.4 4.5 7.2 4.5 7.2 4.5 7 4.4 6.9 4.5 6.8 4.5 6.6 4.5 6.5 4.5 6.4 8.9 12.4 9 11.7 8.9 11.2 9 10.7 8.9 10 9 9.5 9 9 8.9 8.4 9 7.9 8.9 7.4 9 6.9 8.9 6.4 9 6 9 5.6 8.9 5.2 9 4.9 8.9 4.4 9 4.2 8.9 3.8 9 3.6 17.9 6.3 17.9 5.3 17.9 4.5 18 3.8 17.9 3.2 17.9 2.7 17.9 2.2 17.9 1.9 17.9 1.6 18 1.2 17.9 1.1 17.9 .9 13.1 .5 1 0 0-.2-1 0-13.1-.5-17.9-1-17.9-1.1-18-1.4-17.9-1.7-17.9-2.1-17.9-2.4-17.9-2.9-17.9-3.5-18-4.2-17.9-4.9-17.9-5.9-17.9-6.8-9-3.9-8.9-4.2-9-4.5-8.9-4.9-9-5.3-8.9-5.6-9-6.1-9-6.6-8.9-7-9-7.5-8.9-7.9-9-8.6-8.9-9-9-9.6-9-10.2-8.9-10.7-9-11.3-8.9-11.9-9-12.5-8.9-12.9-4.5-6.7-4.5-6.9-4.5-6.9-4.5-7-4.4-7.2-4.5-7.3-4.5-7.4-4.5-7.4-4.5-7.5-4.4-7.7-4.5-7.6-4.5-7.7-4.5-7.8-4.4-7.8-4.5-7.7-4.5-7.8-4.5-7.7-4.5-7.7-4.4-7.7-4.5-7.5-4.5-7.5-4.5-7.3-4.5-7.1-4.4-7-4.5-6.8-4.5-6.5-4.5-6.3-4.5-5.9-4.4-5.7-4.5-5.3-4.5-4.9-4.5-4.4-4.4-4-4.5-3.5-4.5-3-4.5-2.4-4.5-1.8-4.4-1.2-4.5-.4-4.5 .2-4.5 1-4.5 1.8-4.4 2.6-4.5 3.4-4.5 4.4-4.5 5.2-4.4 6.1-4.5 7.1-4.5 8-4.5 9-4.5 9.9-4.4 10.9-4.5 11.8-4.5 12.8-4.5 13.6-4.5 14.5-2.8 9.7-2.9 10-2.9 10.3-2.8 10.6-2.9 10.8-2.9 11.1-2.8 11.3-2.9 11.5-2.9 11.6-2.8 11.7-2.9 11.9-2.9 11.9-2.8 11.9-2.9 11.9-2.9 11.8-2.8 11.7-2.9 11.5-2.9 11.3-2.8 11.1-2.9 10.8-2.9 10.4-2.8 10-2.9 9.6-2.8 9-2.9 8.5-2.9 7.9-2.8 7.2-2.9 6.6-2.9 5.8-2.8 5.1-1.7 2.6-1.6 2.2-1.6 2.1-1.6 1.8-1.6 1.6-1.6 1.3-1.6 1.1-1.6 .9-1.7 .7-1.6 .5-1.6 .4-1.6 .2-1.6 .1-1 0z" fill="#4661d6"/>
<path d="M1193.1 787.9l1 0 1.6-.1 1.6-.2 1.6-.4 1.6-.5 1.7-.7 1.6-.9 1.6-1.1 1.6-1.3 1.6-1.6 1.6-1.8 1.6-2.1 1.6-2.2 1.7-2.6 2.8-5.1 2.9-5.8 2.9-6.6 2.8-7.2 2.9-7.9 2.9-8.5 2.8-9 2.9-9.6 2.8-10 2.9-10.4 2.9-10.8 2.8-11.1 2.9-11.3 2.9-11.5 2.8-11.7 2.9-11.8 2.9-11.9 2.8-11.9 2.9-11.9 2.9-11.9 2.8-11.7 2.9-11.6 2.9-11.5 2.8-11.3 2.9-11.1 2.9-10.8 2.8-10.6 2.9-10.3 2.9-10 2.8-9.7 4.5-14.5 4.5-13.6 4.5-12.8 4.5-11.8 4.4-10.9 4.5-9.9 4.5-9 4.5-8 4.5-7.1 4.4-6.1 4.5-5.2 4.5-4.4 4.5-3.4 4.4-2.6 4.5-1.8 4.5-1 4.5-.2 4.5 .4 4.4 1.2 4.5 1.8 4.5 2.4 4.5 3 4.5 3.5 4.4 4 4.5 4.4 4.5 4.9 4.5 5.3 4.4 5.7 4.5 5.9 4.5 6.3 4.5 6.5 4.5 6.8 4.4 7 4.5 7.1 4.5 7.3 4.5 7.5 4.5 7.5 4.4 7.7 4.5 7.7 4.5 7.7 4.5 7.8 4.5 7.7 4.4 7.8 4.5 7.8 4.5 7.7 4.5 7.6 4.4 7.7 4.5 7.5 4.5 7.4 4.5 7.4 4.5 7.3 4.4 7.2 4.5 7 4.5 6.9 4.5 6.9 4.5 6.7 8.9 12.9 9 12.5 8.9 11.9 9 11.3 8.9 10.7 9 10.2 9 9.6 8.9 9 9 8.6 8.9 7.9 9 7.5 8.9 7 9 6.6 9 6.1 8.9 5.6 9 5.3 8.9 4.9 9 4.5 8.9 4.2 9 3.9 17.9 6.8 17.9 5.9 17.9 4.9 18 4.2 17.9 3.5 17.9 2.9 17.9 2.4 17.9 2.1 17.9 1.7 18 1.4 17.9 1.1 17.9 1 13.1 .5 1 0 0-.1-1 0-13.1-.7-17.9-1-17.9-1.2-18-1.5-17.9-1.7-17.9-2.2-17.9-2.6-17.9-3.1-17.9-3.7-18-4.4-17.9-5.2-17.9-6.1-17.9-7.3-9-4.1-8.9-4.4-9-4.8-8.9-5.1-9-5.5-8.9-6-9-6.4-9-6.8-8.9-7.3-9-7.8-8.9-8.4-9-8.8-8.9-9.5-9-9.9-9-10.6-8.9-11.1-9-11.6-8.9-12.3-9-12.8-8.9-13.2-4.5-6.9-4.5-6.9-4.5-7.1-4.5-7.2-4.4-7.2-4.5-7.4-4.5-7.4-4.5-7.5-4.5-7.6-4.4-7.6-4.5-7.7-4.5-7.7-4.5-7.7-4.4-7.7-4.5-7.7-4.5-7.7-4.5-7.5-4.5-7.6-4.4-7.4-4.5-7.3-4.5-7.2-4.5-7-4.5-6.8-4.4-6.5-4.5-6.4-4.5-6.1-4.5-5.7-4.5-5.4-4.4-5.1-4.5-4.7-4.5-4.2-4.5-3.7-4.4-3.3-4.5-2.7-4.5-2.1-4.5-1.5-4.5-.9-4.4-.2-4.5 .5-4.5 1.3-4.5 2-4.5 2.8-4.4 3.7-4.5 4.5-4.5 5.4-4.5 6.3-4.4 7.2-4.5 8.1-4.5 9.1-4.5 9.9-4.5 10.9-4.4 11.7-4.5 12.6-4.5 13.5-4.5 14.3-4.5 15-2.8 10-2.9 10.2-2.9 10.5-2.8 10.7-2.9 10.9-2.9 11.1-2.8 11.2-2.9 11.4-2.9 11.4-2.8 11.5-2.9 11.5-2.9 11.5-2.8 11.4-2.9 11.4-2.9 11.2-2.8 11-2.9 10.8-2.9 10.6-2.8 10.2-2.9 9.8-2.9 9.5-2.8 9-2.9 8.6-2.8 8-2.9 7.4-2.9 6.8-2.8 6.2-2.9 5.6-2.9 4.9-2.8 4.1-1.7 2.1-1.6 1.8-1.6 1.7-1.6 1.4-1.6 1.2-1.6 1-1.6 .9-1.6 .6-1.7 .5-1.6 .4-1.6 .2-1.6 .1-1.6 .1-1 0z" fill="#4669e0"/>
<path d="M1193.1 787.9l1 0 1.6-.1 1.6-.1 1.6-.2 1.6-.4 1.7-.5 1.6-.6 1.6-.9 1.6-1 1.6-1.2 1.6-1.4 1.6-1.7 1.6-1.8 1.7-2.1 2.8-4.1 2.9-4.9 2.9-5.6 2.8-6.2 2.9-6.8 2.9-7.4 2.8-8 2.9-8.6 2.8-9 2.9-9.5 2.9-9.8 2.8-10.2 2.9-10.6 2.9-10.8 2.8-11 2.9-11.2 2.9-11.4 2.8-11.4 2.9-11.5 2.9-11.5 2.8-11.5 2.9-11.4 2.9-11.4 2.8-11.2 2.9-11.1 2.9-10.9 2.8-10.7 2.9-10.5 2.9-10.2 2.8-10 4.5-15 4.5-14.3 4.5-13.5 4.5-12.6 4.4-11.7 4.5-10.9 4.5-9.9 4.5-9.1 4.5-8.1 4.4-7.2 4.5-6.3 4.5-5.4 4.5-4.5 4.4-3.7 4.5-2.8 4.5-2 4.5-1.3 4.5-.5 4.4 .2 4.5 .9 4.5 1.5 4.5 2.1 4.5 2.7 4.4 3.3 4.5 3.7 4.5 4.2 4.5 4.7 4.4 5.1 4.5 5.4 4.5 5.7 4.5 6.1 4.5 6.4 4.4 6.5 4.5 6.8 4.5 7 4.5 7.2 4.5 7.3 4.4 7.4 4.5 7.6 4.5 7.5 4.5 7.7 4.5 7.7 4.4 7.7 4.5 7.7 4.5 7.7 4.5 7.7 4.4 7.6 4.5 7.6 4.5 7.5 4.5 7.4 4.5 7.4 4.4 7.2 4.5 7.2 4.5 7.1 4.5 6.9 4.5 6.9 8.9 13.2 9 12.8 8.9 12.3 9 11.6 8.9 11.1 9 10.6 9 9.9 8.9 9.5 9 8.8 8.9 8.4 9 7.8 8.9 7.3 9 6.8 9 6.4 8.9 6 9 5.5 8.9 5.1 9 4.8 8.9 4.4 9 4.1 17.9 7.3 17.9 6.1 17.9 5.2 18 4.4 17.9 3.7 17.9 3.1 17.9 2.6 17.9 2.2 17.9 1.7 18 1.5 17.9 1.2 17.9 1 13.1 .7 1 0 0 3.5-1 0-13.1 0-17.9-.2-17.9-.2-18-.2-17.9-.4-17.9-.4-17.9-.7-17.9-.9-17.9-1.2-18-1.6-17.9-2.1-17.9-2.8-17.9-3.8-9-2.2-8.9-2.6-9-3-8.9-3.4-9-3.8-8.9-4.4-9-4.9-9-5.5-8.9-6.2-9-7-8.9-7.8-9-8.7-8.9-9.6-9-10.7-9-11.9-8.9-13-9-14.3-8.9-15.5-9-16.9-8.9-18.3-4.5-9.7-4.5-10-4.5-10.3-4.5-10.7-4.4-11-4.5-11.3-4.5-11.6-4.5-11.9-4.5-12.2-4.4-12.5-4.5-12.7-4.5-12.9-4.5-13.1-4.4-13.2-4.5-13.3-4.5-13.4-4.5-13.5-4.5-13.4-4.4-13.4-4.5-13.2-4.5-13-4.5-12.8-4.5-12.5-4.4-12.1-4.5-11.6-4.5-11.1-4.5-10.5-4.5-9.8-4.4-9-4.5-8.1-4.5-7.2-4.5-6.1-4.4-5-4.5-3.8-4.5-2.5-4.5-1.1-4.5 .3-4.4 1.8-4.5 3.4-4.5 4.9-4.5 6.6-4.5 8.3-4.4 10-4.5 11.6-4.5 13.4-4.5 14.9-4.4 16.5-4.5 18-4.5 19.4-4.5 20.7-4.5 21.9-4.4 22.9-4.5 23.7-4.5 24.3-4.5 24.8-4.5 25-2.8 16.1-2.9 15.9-2.9 15.8-2.8 15.7-2.9 15.4-2.9 15-2.8 14.7-2.9 14.3-2.9 13.7-2.8 13.3-2.9 12.6-2.9 12-2.8 11.3-2.9 10.6-2.9 9.9-2.8 9.1-2.9 8.3-2.9 7.6-2.8 6.8-2.9 6-2.9 5.3-2.8 4.6-2.9 3.9-2.8 3.3-2.9 2.7-2.9 2.1-2.8 1.7-2.9 1.3-2.9 1-2.8 .6-1.7 .3-1.6 .2-1.6 .2-1.6 .1-1.6 .1-1.6 0-1.6 .1-1.6 0-1.7 0-1.6 0-1.6 0-1.6 0-1.6 0-1 0z" fill="#476ee6"/>
<path d="M1193.1 787.9l1 0 1.6 0 1.6 0 1.6 0 1.6 0 1.7 0 1.6 0 1.6-.1 1.6 0 1.6-.1 1.6-.1 1.6-.2 1.6-.2 1.7-.3 2.8-.6 2.9-1 2.9-1.3 2.8-1.7 2.9-2.1 2.9-2.7 2.8-3.3 2.9-3.9 2.8-4.6 2.9-5.3 2.9-6 2.8-6.8 2.9-7.6 2.9-8.3 2.8-9.1 2.9-9.9 2.9-10.6 2.8-11.3 2.9-12 2.9-12.6 2.8-13.3 2.9-13.7 2.9-14.3 2.8-14.7 2.9-15 2.9-15.4 2.8-15.7 2.9-15.8 2.9-15.9 2.8-16.1 4.5-25 4.5-24.8 4.5-24.3 4.5-23.7 4.4-22.9 4.5-21.9 4.5-20.7 4.5-19.4 4.5-18 4.4-16.5 4.5-14.9 4.5-13.4 4.5-11.6 4.4-10 4.5-8.3 4.5-6.6 4.5-4.9 4.5-3.4 4.4-1.8 4.5-.3 4.5 1.1 4.5 2.5 4.5 3.8 4.4 5 4.5 6.1 4.5 7.2 4.5 8.1 4.4 9 4.5 9.8 4.5 10.5 4.5 11.1 4.5 11.6 4.4 12.1 4.5 12.5 4.5 12.8 4.5 13 4.5 13.2 4.4 13.4 4.5 13.4 4.5 13.5 4.5 13.4 4.5 13.3 4.4 13.2 4.5 13.1 4.5 12.9 4.5 12.7 4.4 12.5 4.5 12.2 4.5 11.9 4.5 11.6 4.5 11.3 4.4 11 4.5 10.7 4.5 10.3 4.5 10 4.5 9.7 8.9 18.3 9 16.9 8.9 15.5 9 14.3 8.9 13 9 11.9 9 10.7 8.9 9.6 9 8.7 8.9 7.8 9 7 8.9 6.2 9 5.5 9 4.9 8.9 4.4 9 3.8 8.9 3.4 9 3 8.9 2.6 9 2.2 17.9 3.8 17.9 2.8 17.9 2.1 18 1.6 17.9 1.2 17.9 .9 17.9 .7 17.9 .4 17.9 .4 18 .2 17.9 .2 17.9 .2 13.1 0 1 0 0 .1-1 0-13.1 0-17.9-.1-17.9-.2-18-.2-17.9-.3-17.9-.4-17.9-.5-17.9-.8-17.9-1.1-18-1.5-17.9-2-17.9-2.7-17.9-3.7-9-2.3-8.9-2.6-9-3-8.9-3.5-9-3.9-8.9-4.5-9-5.2-9-5.8-8.9-6.6-9-7.5-8.9-8.4-9-9.4-8.9-10.5-9-11.7-9-13-8.9-14.3-9-15.8-8.9-17.3-9-18.7-8.9-20.3-4.5-10.8-4.5-11.1-4.5-11.4-4.5-11.9-4.4-12.2-4.5-12.5-4.5-12.9-4.5-13.1-4.5-13.4-4.4-13.7-4.5-13.9-4.5-14.1-4.5-14.2-4.4-14.3-4.5-14.4-4.5-14.3-4.5-14.3-4.5-14.2-4.4-13.9-4.5-13.7-4.5-13.4-4.5-13-4.5-12.4-4.4-11.9-4.5-11.2-4.5-10.4-4.5-9.6-4.5-8.6-4.4-7.5-4.5-6.4-4.5-5.2-4.5-3.8-4.4-2.5-4.5-.9-4.5 .6-4.5 2.2-4.5 4-4.4 5.6-4.5 7.4-4.5 9.2-4.5 10.9-4.5 12.7-4.4 14.5-4.5 16.1-4.5 17.7-4.5 19.2-4.4 20.6-4.5 21.9-4.5 22.9-4.5 23.9-4.5 24.6-4.4 25.2-4.5 25.4-4.5 25.5-4.5 25.4-4.5 24.9-2.8 15.7-2.9 15.3-2.9 15-2.8 14.5-2.9 14-2.9 13.5-2.8 12.8-2.9 12.3-2.9 11.6-2.8 10.9-2.9 10.2-2.9 9.4-2.8 8.7-2.9 7.9-2.9 7.2-2.8 6.5-2.9 5.7-2.9 5.1-2.8 4.3-2.9 3.8-2.9 3.2-2.8 2.6-2.9 2.2-2.8 1.7-2.9 1.4-2.9 1-2.8 .8-2.9 .5-2.9 .4-2.8 .2-1.7 .1-1.6 .1-1.6 0-1.6 .1-1.6 0-1.6 0-1.6 0-1.6 0-1.7 0-1.6 0-1.6 0-1.6 0-1.6 0-1 0z" fill="#4776ee"/>
<path d="M1193.1 787.9l1 0 1.6 0 1.6 0 1.6 0 1.6 0 1.7 0 1.6 0 1.6 0 1.6 0 1.6 0 1.6-.1 1.6 0 1.6-.1 1.7-.1 2.8-.2 2.9-.4 2.9-.5 2.8-.8 2.9-1 2.9-1.4 2.8-1.7 2.9-2.2 2.8-2.6 2.9-3.2 2.9-3.8 2.8-4.3 2.9-5.1 2.9-5.7 2.8-6.5 2.9-7.2 2.9-7.9 2.8-8.7 2.9-9.4 2.9-10.2 2.8-10.9 2.9-11.6 2.9-12.3 2.8-12.8 2.9-13.5 2.9-14 2.8-14.5 2.9-15 2.9-15.3 2.8-15.7 4.5-24.9 4.5-25.4 4.5-25.5 4.5-25.4 4.4-25.2 4.5-24.6 4.5-23.9 4.5-22.9 4.5-21.9 4.4-20.6 4.5-19.2 4.5-17.7 4.5-16.1 4.4-14.5 4.5-12.7 4.5-10.9 4.5-9.2 4.5-7.4 4.4-5.6 4.5-4 4.5-2.2 4.5-.6 4.5 .9 4.4 2.5 4.5 3.8 4.5 5.2 4.5 6.4 4.4 7.5 4.5 8.6 4.5 9.6 4.5 10.4 4.5 11.2 4.4 11.9 4.5 12.4 4.5 13 4.5 13.4 4.5 13.7 4.4 13.9 4.5 14.2 4.5 14.3 4.5 14.3 4.5 14.4 4.4 14.3 4.5 14.2 4.5 14.1 4.5 13.9 4.4 13.7 4.5 13.4 4.5 13.1 4.5 12.9 4.5 12.5 4.4 12.2 4.5 11.9 4.5 11.4 4.5 11.1 4.5 10.8 8.9 20.3 9 18.7 8.9 17.3 9 15.8 8.9 14.3 9 13 9 11.7 8.9 10.5 9 9.4 8.9 8.4 9 7.5 8.9 6.6 9 5.8 9 5.2 8.9 4.5 9 3.9 8.9 3.5 9 3 8.9 2.6 9 2.3 17.9 3.7 17.9 2.7 17.9 2 18 1.5 17.9 1.1 17.9 .8 17.9 .5 17.9 .4 17.9 .3 18 .2 17.9 .2 17.9 .1 13.1 0 1 0 0-.1-1 0-13.1-.1-17.9-.2-17.9-.2-18-.4-17.9-.4-17.9-.6-17.9-.8-17.9-1.1-17.9-1.4-18-2-17.9-2.6-17.9-3.4-17.9-4.5-9-2.7-8.9-3.1-9-3.6-8.9-3.9-9-4.6-8.9-5.1-9-5.7-9-6.4-8.9-7.2-9-8-8.9-9-9-9.9-8.9-10.9-9-12.1-9-13.2-8.9-14.5-9-15.8-8.9-17-9-18.4-8.9-19.7-4.5-10.3-4.5-10.6-4.5-11-4.5-11.2-4.4-11.6-4.5-11.8-4.5-12-4.5-12.3-4.5-12.5-4.4-12.6-4.5-12.8-4.5-13-4.5-13-4.4-13-4.5-13-4.5-13-4.5-12.9-4.5-12.7-4.4-12.5-4.5-12.2-4.5-11.9-4.5-11.4-4.5-11-4.4-10.4-4.5-9.8-4.5-9.1-4.5-8.3-4.5-7.4-4.4-6.4-4.5-5.5-4.5-4.3-4.5-3.1-4.4-1.9-4.5-.6-4.5 .8-4.5 2.3-4.5 3.7-4.4 5.2-4.5 6.9-4.5 8.3-4.5 10-4.5 11.5-4.4 13-4.5 14.6-4.5 16-4.5 17.4-4.4 18.7-4.5 19.8-4.5 20.9-4.5 21.8-4.5 22.6-4.4 23.1-4.5 23.6-4.5 23.7-4.5 23.8-4.5 23.5-2.8 14.8-2.9 14.7-2.9 14.3-2.8 14-2.9 13.6-2.9 13.1-2.8 12.7-2.9 12.2-2.9 11.5-2.8 11-2.9 10.4-2.9 9.7-2.8 9-2.9 8.3-2.9 7.6-2.8 7-2.9 6.2-2.9 5.6-2.8 4.9-2.9 4.3-2.9 3.7-2.8 3.1-2.9 2.7-2.8 2.1-2.9 1.7-2.9 1.4-2.8 1-2.9 .7-2.9 .6-2.8 .3-1.7 .2-1.6 .1-1.6 0-1.6 .1-1.6 0-1.6 .1-1.6 0-1.6 0-1.7 0-1.6 0-1.6 0-1.6 0-1.6 0-1 0z" fill="#467df4"/>
<path d="M1193.1 787.9l1 0 1.6 0 1.6 0 1.6 0 1.6 0 1.7 0 1.6 0 1.6 0 1.6-.1 1.6 0 1.6-.1 1.6 0 1.6-.1 1.7-.2 2.8-.3 2.9-.6 2.9-.7 2.8-1 2.9-1.4 2.9-1.7 2.8-2.1 2.9-2.7 2.8-3.1 2.9-3.7 2.9-4.3 2.8-4.9 2.9-5.6 2.9-6.2 2.8-7 2.9-7.6 2.9-8.3 2.8-9 2.9-9.7 2.9-10.4 2.8-11 2.9-11.5 2.9-12.2 2.8-12.7 2.9-13.1 2.9-13.6 2.8-14 2.9-14.3 2.9-14.7 2.8-14.8 4.5-23.5 4.5-23.8 4.5-23.7 4.5-23.6 4.4-23.1 4.5-22.6 4.5-21.8 4.5-20.9 4.5-19.8 4.4-18.7 4.5-17.4 4.5-16 4.5-14.6 4.4-13 4.5-11.5 4.5-10 4.5-8.3 4.5-6.9 4.4-5.2 4.5-3.7 4.5-2.3 4.5-.8 4.5 .6 4.4 1.9 4.5 3.1 4.5 4.3 4.5 5.5 4.4 6.4 4.5 7.4 4.5 8.3 4.5 9.1 4.5 9.8 4.4 10.4 4.5 11 4.5 11.4 4.5 11.9 4.5 12.2 4.4 12.5 4.5 12.7 4.5 12.9 4.5 13 4.5 13 4.4 13 4.5 13 4.5 13 4.5 12.8 4.4 12.6 4.5 12.5 4.5 12.3 4.5 12 4.5 11.8 4.4 11.6 4.5 11.2 4.5 11 4.5 10.6 4.5 10.3 8.9 19.7 9 18.4 8.9 17 9 15.8 8.9 14.5 9 13.2 9 12.1 8.9 10.9 9 9.9 8.9 9 9 8 8.9 7.2 9 6.4 9 5.7 8.9 5.1 9 4.6 8.9 3.9 9 3.6 8.9 3.1 9 2.7 17.9 4.5 17.9 3.4 17.9 2.6 18 2 17.9 1.4 17.9 1.1 17.9 .8 17.9 .6 17.9 .4 18 .4 17.9 .2 17.9 .2 13.1 .1 1 0 0-.1-1 0-13.1-.1-17.9-.1-17.9-.3-18-.3-17.9-.5-17.9-.6-17.9-.8-17.9-1.1-17.9-1.5-18-2-17.9-2.7-17.9-3.4-17.9-4.6-9-2.7-8.9-3.1-9-3.5-8.9-4-9-4.6-8.9-5-9-5.7-9-6.5-8.9-7.1-9-8-8.9-8.9-9-9.8-8.9-10.8-9-12-9-13.1-8.9-14.2-9-15.6-8.9-16.8-9-18.1-8.9-19.4-4.5-10.2-4.5-10.5-4.5-10.8-4.5-11-4.4-11.4-4.5-11.6-4.5-11.9-4.5-12.1-4.5-12.3-4.4-12.5-4.5-12.6-4.5-12.7-4.5-12.9-4.4-12.8-4.5-12.9-4.5-12.9-4.5-12.7-4.5-12.6-4.4-12.4-4.5-12.1-4.5-11.8-4.5-11.4-4.5-10.9-4.4-10.5-4.5-9.8-4.5-9.1-4.5-8.4-4.5-7.5-4.4-6.6-4.5-5.6-4.5-4.6-4.5-3.4-4.4-2.2-4.5-.9-4.5 .4-4.5 1.8-4.5 3.3-4.4 4.8-4.5 6.2-4.5 7.9-4.5 9.4-4.5 10.9-4.4 12.5-4.5 14-4.5 15.4-4.5 16.9-4.4 18.1-4.5 19.3-4.5 20.4-4.5 21.4-4.5 22.2-4.4 22.8-4.5 23.3-4.5 23.6-4.5 23.6-4.5 23.5-2.8 14.9-2.9 14.7-2.9 14.4-2.8 14.1-2.9 13.8-2.9 13.3-2.8 12.9-2.9 12.4-2.9 11.8-2.8 11.3-2.9 10.6-2.9 10-2.8 9.4-2.9 8.6-2.9 8-2.8 7.2-2.9 6.6-2.9 5.9-2.8 5.2-2.9 4.6-2.9 4-2.8 3.4-2.9 2.8-2.8 2.3-2.9 1.9-2.9 1.5-2.8 1.2-2.9 .8-2.9 .6-2.8 .4-1.7 .2-1.6 .1-1.6 .1-1.6 .1-1.6 0-1.6 .1-1.6 0-1.6 0-1.7 0-1.6 0-1.6 0-1.6 0-1.6 0-1 0z" fill="#4682f8"/>
<path d="M1193.1 787.9l1 0 1.6 0 1.6 0 1.6 0 1.6 0 1.7 0 1.6 0 1.6 0 1.6-.1 1.6 0 1.6-.1 1.6-.1 1.6-.1 1.7-.2 2.8-.4 2.9-.6 2.9-.8 2.8-1.2 2.9-1.5 2.9-1.9 2.8-2.3 2.9-2.8 2.8-3.4 2.9-4 2.9-4.6 2.8-5.2 2.9-5.9 2.9-6.6 2.8-7.2 2.9-8 2.9-8.6 2.8-9.4 2.9-10 2.9-10.6 2.8-11.3 2.9-11.8 2.9-12.4 2.8-12.9 2.9-13.3 2.9-13.8 2.8-14.1 2.9-14.4 2.9-14.7 2.8-14.9 4.5-23.5 4.5-23.6 4.5-23.6 4.5-23.3 4.4-22.8 4.5-22.2 4.5-21.4 4.5-20.4 4.5-19.3 4.4-18.1 4.5-16.9 4.5-15.4 4.5-14 4.4-12.5 4.5-10.9 4.5-9.4 4.5-7.9 4.5-6.2 4.4-4.8 4.5-3.3 4.5-1.8 4.5-.4 4.5 .9 4.4 2.2 4.5 3.4 4.5 4.6 4.5 5.6 4.4 6.6 4.5 7.5 4.5 8.4 4.5 9.1 4.5 9.8 4.4 10.5 4.5 10.9 4.5 11.4 4.5 11.8 4.5 12.1 4.4 12.4 4.5 12.6 4.5 12.7 4.5 12.9 4.5 12.9 4.4 12.8 4.5 12.9 4.5 12.7 4.5 12.6 4.4 12.5 4.5 12.3 4.5 12.1 4.5 11.9 4.5 11.6 4.4 11.4 4.5 11 4.5 10.8 4.5 10.5 4.5 10.2 8.9 19.4 9 18.1 8.9 16.8 9 15.6 8.9 14.2 9 13.1 9 12 8.9 10.8 9 9.8 8.9 8.9 9 8 8.9 7.1 9 6.5 9 5.7 8.9 5 9 4.6 8.9 4 9 3.5 8.9 3.1 9 2.7 17.9 4.6 17.9 3.4 17.9 2.7 18 2 17.9 1.5 17.9 1.1 17.9 .8 17.9 .6 17.9 .5 18 .3 17.9 .3 17.9 .1 13.1 .1 1 0 0 .1-1 0-13.1-.1-17.9-.2-17.9-.3-18-.3-17.9-.4-17.9-.7-17.9-.8-17.9-1.2-17.9-1.5-18-2-17.9-2.8-17.9-3.5-17.9-4.7-9-2.9-8.9-3.2-9-3.7-8.9-4.2-9-4.7-8.9-5.4-9-6-9-6.7-8.9-7.5-9-8.4-8.9-9.3-9-10.3-8.9-11.4-9-12.5-9-13.8-8.9-15-9-16.2-8.9-17.6-9-18.9-8.9-20.3-4.5-10.6-4.5-10.9-4.5-11.2-4.5-11.4-4.4-11.8-4.5-12-4.5-12.2-4.5-12.5-4.5-12.6-4.4-12.8-4.5-12.9-4.5-13-4.5-13-4.4-13-4.5-13-4.5-12.8-4.5-12.8-4.5-12.5-4.4-12.2-4.5-11.9-4.5-11.5-4.5-11.1-4.5-10.4-4.4-9.9-4.5-9.2-4.5-8.3-4.5-7.6-4.5-6.6-4.4-5.5-4.5-4.5-4.5-3.4-4.5-2.1-4.4-.8-4.5 .6-4.5 2-4.5 3.4-4.5 5-4.4 6.4-4.5 8.1-4.5 9.6-4.5 11.1-4.5 12.7-4.4 14.1-4.5 15.6-4.5 17-4.5 18.2-4.4 19.4-4.5 20.5-4.5 21.5-4.5 22.1-4.5 22.8-4.4 23.3-4.5 23.4-4.5 23.5-4.5 23.3-4.5 23-2.8 14.4-2.9 14.1-2.9 13.8-2.8 13.4-2.9 13-2.9 12.5-2.8 11.9-2.9 11.4-2.9 10.8-2.8 10.2-2.9 9.6-2.9 8.9-2.8 8.2-2.9 7.6-2.9 6.8-2.8 6.3-2.9 5.5-2.9 4.9-2.8 4.3-2.9 3.8-2.9 3.1-2.8 2.7-2.9 2.2-2.8 1.8-2.9 1.4-2.9 1.1-2.8 .9-2.9 .6-2.9 .4-2.8 .2-1.7 .2-1.6 0-1.6 .1-1.6 0-1.6 .1-1.6 0-1.6 0-1.6 0-1.7 0-1.6 0-1.6 0-1.6 0-1.6 0-1 0z" fill="#458afc"/>
<path d="M1193.1 787.9l1 0 1.6 0 1.6 0 1.6 0 1.6 0 1.7 0 1.6 0 1.6 0 1.6 0 1.6-.1 1.6 0 1.6-.1 1.6 0 1.7-.2 2.8-.2 2.9-.4 2.9-.6 2.8-.9 2.9-1.1 2.9-1.4 2.8-1.8 2.9-2.2 2.8-2.7 2.9-3.1 2.9-3.8 2.8-4.3 2.9-4.9 2.9-5.5 2.8-6.3 2.9-6.8 2.9-7.6 2.8-8.2 2.9-8.9 2.9-9.6 2.8-10.2 2.9-10.8 2.9-11.4 2.8-11.9 2.9-12.5 2.9-13 2.8-13.4 2.9-13.8 2.9-14.1 2.8-14.4 4.5-23 4.5-23.3 4.5-23.5 4.5-23.4 4.4-23.3 4.5-22.8 4.5-22.1 4.5-21.5 4.5-20.5 4.4-19.4 4.5-18.2 4.5-17 4.5-15.6 4.4-14.1 4.5-12.7 4.5-11.1 4.5-9.6 4.5-8.1 4.4-6.4 4.5-5 4.5-3.4 4.5-2 4.5-.6 4.4 .8 4.5 2.1 4.5 3.4 4.5 4.5 4.4 5.5 4.5 6.6 4.5 7.6 4.5 8.3 4.5 9.2 4.4 9.9 4.5 10.4 4.5 11.1 4.5 11.5 4.5 11.9 4.4 12.2 4.5 12.5 4.5 12.8 4.5 12.8 4.5 13 4.4 13 4.5 13 4.5 13 4.5 12.9 4.4 12.8 4.5 12.6 4.5 12.5 4.5 12.2 4.5 12 4.4 11.8 4.5 11.4 4.5 11.2 4.5 10.9 4.5 10.6 8.9 20.3 9 18.9 8.9 17.6 9 16.2 8.9 15 9 13.8 9 12.5 8.9 11.4 9 10.3 8.9 9.3 9 8.4 8.9 7.5 9 6.7 9 6 8.9 5.4 9 4.7 8.9 4.2 9 3.7 8.9 3.2 9 2.9 17.9 4.7 17.9 3.5 17.9 2.8 18 2 17.9 1.5 17.9 1.2 17.9 .8 17.9 .7 17.9 .4 18 .3 17.9 .3 17.9 .2 13.1 .1 1 0 0-.1-1 0-13.1-.1-17.9-.2-17.9-.2-18-.4-17.9-.5-17.9-.6-17.9-.9-17.9-1.3-17.9-1.6-18-2.1-17.9-2.9-17.9-3.7-17.9-4.9-9-3-8.9-3.4-9-3.8-8.9-4.3-9-4.9-8.9-5.5-9-6.2-9-6.9-8.9-7.7-9-8.6-8.9-9.5-9-10.5-8.9-11.6-9-12.7-9-14-8.9-15.1-9-16.5-8.9-17.7-9-19-8.9-20.3-4.5-10.6-4.5-11-4.5-11.1-4.5-11.5-4.4-11.7-4.5-12-4.5-12.2-4.5-12.3-4.5-12.6-4.4-12.6-4.5-12.8-4.5-12.8-4.5-12.9-4.4-12.8-4.5-12.8-4.5-12.6-4.5-12.5-4.5-12.2-4.4-11.9-4.5-11.6-4.5-11.2-4.5-10.7-4.5-10.1-4.4-9.4-4.5-8.8-4.5-7.9-4.5-7.1-4.5-6.2-4.4-5.1-4.5-4.1-4.5-2.8-4.5-1.7-4.4-.4-4.5 1-4.5 2.4-4.5 3.9-4.5 5.3-4.4 6.9-4.5 8.3-4.5 9.9-4.5 11.4-4.5 12.9-4.4 14.3-4.5 15.8-4.5 17-4.5 18.3-4.4 19.4-4.5 20.4-4.5 21.3-4.5 22.1-4.5 22.5-4.4 23-4.5 23.2-4.5 23.1-4.5 23-4.5 22.6-2.8 14.1-2.9 13.9-2.9 13.5-2.8 13.1-2.9 12.7-2.9 12.2-2.8 11.6-2.9 11.2-2.9 10.5-2.8 9.9-2.9 9.4-2.9 8.6-2.8 8-2.9 7.4-2.9 6.6-2.8 6.1-2.9 5.3-2.9 4.8-2.8 4.2-2.9 3.6-2.9 3.1-2.8 2.5-2.9 2.2-2.8 1.7-2.9 1.4-2.9 1-2.8 .8-2.9 .6-2.9 .4-2.8 .3-1.7 .1-1.6 0-1.6 .1-1.6 0-1.6 .1-1.6 0-1.6 0-1.6 0-1.7 0-1.6 0-1.6 0-1.6 0-1.6 0-1 0z" fill="#4391fe"/>
<path d="M1193.1 787.9l1 0 1.6 0 1.6 0 1.6 0 1.6 0 1.7 0 1.6 0 1.6 0 1.6 0 1.6-.1 1.6 0 1.6-.1 1.6 0 1.7-.1 2.8-.3 2.9-.4 2.9-.6 2.8-.8 2.9-1 2.9-1.4 2.8-1.7 2.9-2.2 2.8-2.5 2.9-3.1 2.9-3.6 2.8-4.2 2.9-4.8 2.9-5.3 2.8-6.1 2.9-6.6 2.9-7.4 2.8-8 2.9-8.6 2.9-9.4 2.8-9.9 2.9-10.5 2.9-11.2 2.8-11.6 2.9-12.2 2.9-12.7 2.8-13.1 2.9-13.5 2.9-13.9 2.8-14.1 4.5-22.6 4.5-23 4.5-23.1 4.5-23.2 4.4-23 4.5-22.5 4.5-22.1 4.5-21.3 4.5-20.4 4.4-19.4 4.5-18.3 4.5-17 4.5-15.8 4.4-14.3 4.5-12.9 4.5-11.4 4.5-9.9 4.5-8.3 4.4-6.9 4.5-5.3 4.5-3.9 4.5-2.4 4.5-1 4.4 .4 4.5 1.7 4.5 2.8 4.5 4.1 4.4 5.1 4.5 6.2 4.5 7.1 4.5 7.9 4.5 8.8 4.4 9.4 4.5 10.1 4.5 10.7 4.5 11.2 4.5 11.6 4.4 11.9 4.5 12.2 4.5 12.5 4.5 12.6 4.5 12.8 4.4 12.8 4.5 12.9 4.5 12.8 4.5 12.8 4.4 12.6 4.5 12.6 4.5 12.3 4.5 12.2 4.5 12 4.4 11.7 4.5 11.5 4.5 11.1 4.5 11 4.5 10.6 8.9 20.3 9 19 8.9 17.7 9 16.5 8.9 15.1 9 14 9 12.7 8.9 11.6 9 10.5 8.9 9.5 9 8.6 8.9 7.7 9 6.9 9 6.2 8.9 5.5 9 4.9 8.9 4.3 9 3.8 8.9 3.4 9 3 17.9 4.9 17.9 3.7 17.9 2.9 18 2.1 17.9 1.6 17.9 1.3 17.9 .9 17.9 .6 17.9 .5 18 .4 17.9 .2 17.9 .2 13.1 .1 1 0 0-.3-1 0-13.1-.2-17.9-.3-17.9-.4-18-.5-17.9-.7-17.9-.9-17.9-1.2-17.9-1.5-17.9-2-18-2.6-17.9-3.3-17.9-4.2-17.9-5.3-9-3.1-8.9-3.5-9-4-8.9-4.4-9-4.9-8.9-5.4-9-6-9-6.7-8.9-7.4-9-8.1-8.9-8.9-9-9.7-8.9-10.7-9-11.5-9-12.6-8.9-13.6-9-14.6-8.9-15.7-9-16.7-8.9-17.8-4.5-9.3-4.5-9.5-4.5-9.8-4.5-10-4.4-10.2-4.5-10.4-4.5-10.6-4.5-10.8-4.5-10.9-4.4-11.1-4.5-11.2-4.5-11.3-4.5-11.3-4.4-11.4-4.5-11.3-4.5-11.4-4.5-11.2-4.5-11.1-4.4-11-4.5-10.7-4.5-10.5-4.5-10.1-4.5-9.8-4.4-9.4-4.5-8.9-4.5-8.4-4.5-7.7-4.5-7.1-4.4-6.4-4.5-5.5-4.5-4.8-4.5-3.8-4.4-2.8-4.5-1.8-4.5-.6-4.5 .4-4.5 1.7-4.4 2.9-4.5 4.2-4.5 5.5-4.5 6.8-4.5 8.2-4.4 9.5-4.5 10.9-4.5 12.2-4.5 13.6-4.4 14.7-4.5 16-4.5 17.2-4.5 18.1-4.5 19.2-4.4 19.9-4.5 20.7-4.5 21.2-4.5 21.7-4.5 21.8-2.8 14.1-2.9 14-2.9 14-2.8 13.8-2.9 13.7-2.9 13.4-2.8 13.2-2.9 12.8-2.9 12.5-2.8 12.1-2.9 11.6-2.9 11.1-2.8 10.6-2.9 10-2.9 9.4-2.8 8.8-2.9 8.2-2.9 7.5-2.8 6.8-2.9 6.2-2.9 5.5-2.8 4.8-2.9 4.3-2.8 3.6-2.9 3-2.9 2.6-2.8 2-2.9 1.6-2.9 1.2-2.8 .9-1.7 .4-1.6 .3-1.6 .2-1.6 .2-1.6 .2-1.6 0-1.6 .1-1.6 .1-1.7 0-1.6 0-1.6 0-1.6 0-1.6 0-1 0z" fill="#4196ff"/>
<path d="M1193.1 787.9l1 0 1.6 0 1.6 0 1.6 0 1.6 0 1.7 0 1.6-.1 1.6-.1 1.6 0 1.6-.2 1.6-.2 1.6-.2 1.6-.3 1.7-.4 2.8-.9 2.9-1.2 2.9-1.6 2.8-2 2.9-2.6 2.9-3 2.8-3.6 2.9-4.3 2.8-4.8 2.9-5.5 2.9-6.2 2.8-6.8 2.9-7.5 2.9-8.2 2.8-8.8 2.9-9.4 2.9-10 2.8-10.6 2.9-11.1 2.9-11.6 2.8-12.1 2.9-12.5 2.9-12.8 2.8-13.2 2.9-13.4 2.9-13.7 2.8-13.8 2.9-14 2.9-14 2.8-14.1 4.5-21.8 4.5-21.7 4.5-21.2 4.5-20.7 4.4-19.9 4.5-19.2 4.5-18.1 4.5-17.2 4.5-16 4.4-14.7 4.5-13.6 4.5-12.2 4.5-10.9 4.4-9.5 4.5-8.2 4.5-6.8 4.5-5.5 4.5-4.2 4.4-2.9 4.5-1.7 4.5-.4 4.5 .6 4.5 1.8 4.4 2.8 4.5 3.8 4.5 4.8 4.5 5.5 4.4 6.4 4.5 7.1 4.5 7.7 4.5 8.4 4.5 8.9 4.4 9.4 4.5 9.8 4.5 10.1 4.5 10.5 4.5 10.7 4.4 11 4.5 11.1 4.5 11.2 4.5 11.4 4.5 11.3 4.4 11.4 4.5 11.3 4.5 11.3 4.5 11.2 4.4 11.1 4.5 10.9 4.5 10.8 4.5 10.6 4.5 10.4 4.4 10.2 4.5 10 4.5 9.8 4.5 9.5 4.5 9.3 8.9 17.8 9 16.7 8.9 15.7 9 14.6 8.9 13.6 9 12.6 9 11.5 8.9 10.7 9 9.7 8.9 8.9 9 8.1 8.9 7.4 9 6.7 9 6 8.9 5.4 9 4.9 8.9 4.4 9 4 8.9 3.5 9 3.1 17.9 5.3 17.9 4.2 17.9 3.3 18 2.6 17.9 2 17.9 1.5 17.9 1.2 17.9 .9 17.9 .7 18 .5 17.9 .4 17.9 .3 13.1 .2 1 0 0 .1-1 0-13.1-.1-17.9-.3-17.9-.3-18-.5-17.9-.6-17.9-.8-17.9-1.1-17.9-1.4-17.9-1.9-18-2.4-17.9-3.1-17.9-4-17.9-5.2-9-3-8.9-3.5-9-3.8-8.9-4.4-9-4.8-8.9-5.4-9-6.1-9-6.7-8.9-7.4-9-8.2-8.9-9-9-9.9-8.9-10.9-9-11.8-9-12.9-8.9-14-9-15.1-8.9-16.2-9-17.3-8.9-18.5-4.5-9.6-4.5-9.9-4.5-10.2-4.5-10.4-4.4-10.6-4.5-10.9-4.5-11-4.5-11.3-4.5-11.4-4.4-11.5-4.5-11.7-4.5-11.7-4.5-11.8-4.4-11.9-4.5-11.8-4.5-11.7-4.5-11.7-4.5-11.5-4.4-11.4-4.5-11-4.5-10.8-4.5-10.5-4.5-10-4.4-9.5-4.5-9-4.5-8.4-4.5-7.8-4.5-7-4.4-6.2-4.5-5.3-4.5-4.4-4.5-3.4-4.4-2.4-4.5-1.2-4.5 0-4.5 1.2-4.5 2.5-4.4 3.9-4.5 5.2-4.5 6.5-4.5 8-4.5 9.4-4.4 10.8-4.5 12.2-4.5 13.5-4.5 14.9-4.4 16.1-4.5 17.3-4.5 18.4-4.5 19.4-4.5 20.2-4.4 21-4.5 21.6-4.5 22-4.5 22.3-4.5 22.4-2.8 14.3-2.9 14.1-2.9 14.1-2.8 13.8-2.9 13.6-2.9 13.3-2.8 12.9-2.9 12.5-2.9 12.2-2.8 11.6-2.9 11.1-2.9 10.5-2.8 10-2.9 9.4-2.9 8.7-2.8 8.1-2.9 7.4-2.9 6.7-2.8 6.1-2.9 5.4-2.9 4.8-2.8 4.2-2.9 3.5-2.8 3-2.9 2.5-2.9 2.1-2.8 1.6-2.9 1.2-2.9 .9-2.8 .7-1.7 .3-1.6 .2-1.6 .1-1.6 .2-1.6 .1-1.6 0-1.6 .1-1.6 0-1.7 0-1.6 0-1.6 0-1.6 0-1.6 0-1 0z" fill="#3d9efe"/>
<path d="M1193.1 787.9l1 0 1.6 0 1.6 0 1.6 0 1.6 0 1.7 0 1.6 0 1.6-.1 1.6 0 1.6-.1 1.6-.2 1.6-.1 1.6-.2 1.7-.3 2.8-.7 2.9-.9 2.9-1.2 2.8-1.6 2.9-2.1 2.9-2.5 2.8-3 2.9-3.5 2.8-4.2 2.9-4.8 2.9-5.4 2.8-6.1 2.9-6.7 2.9-7.4 2.8-8.1 2.9-8.7 2.9-9.4 2.8-10 2.9-10.5 2.9-11.1 2.8-11.6 2.9-12.2 2.9-12.5 2.8-12.9 2.9-13.3 2.9-13.6 2.8-13.8 2.9-14.1 2.9-14.1 2.8-14.3 4.5-22.4 4.5-22.3 4.5-22 4.5-21.6 4.4-21 4.5-20.2 4.5-19.4 4.5-18.4 4.5-17.3 4.4-16.1 4.5-14.9 4.5-13.5 4.5-12.2 4.4-10.8 4.5-9.4 4.5-8 4.5-6.5 4.5-5.2 4.4-3.9 4.5-2.5 4.5-1.2 4.5 0 4.5 1.2 4.4 2.4 4.5 3.4 4.5 4.4 4.5 5.3 4.4 6.2 4.5 7 4.5 7.8 4.5 8.4 4.5 9 4.4 9.5 4.5 10 4.5 10.5 4.5 10.8 4.5 11 4.4 11.4 4.5 11.5 4.5 11.7 4.5 11.7 4.5 11.8 4.4 11.9 4.5 11.8 4.5 11.7 4.5 11.7 4.4 11.5 4.5 11.4 4.5 11.3 4.5 11 4.5 10.9 4.4 10.6 4.5 10.4 4.5 10.2 4.5 9.9 4.5 9.6 8.9 18.5 9 17.3 8.9 16.2 9 15.1 8.9 14 9 12.9 9 11.8 8.9 10.9 9 9.9 8.9 9 9 8.2 8.9 7.4 9 6.7 9 6.1 8.9 5.4 9 4.8 8.9 4.4 9 3.8 8.9 3.5 9 3 17.9 5.2 17.9 4 17.9 3.1 18 2.4 17.9 1.9 17.9 1.4 17.9 1.1 17.9 .8 17.9 .6 18 .5 17.9 .3 17.9 .3 13.1 .1 1 0 0 0-1 0-13.1-.2-17.9-.3-17.9-.4-18-.4-17.9-.7-17.9-.8-17.9-1.2-17.9-1.4-17.9-1.9-18-2.5-17.9-3.2-17.9-4.1-17.9-5.1-9-3.1-8.9-3.5-9-3.9-8.9-4.3-9-4.8-8.9-5.4-9-6-9-6.6-8.9-7.4-9-8.1-8.9-8.9-9-9.7-8.9-10.7-9-11.7-9-12.6-8.9-13.7-9-14.8-8.9-15.9-9-16.9-8.9-18.1-4.5-9.4-4.5-9.7-4.5-9.9-4.5-10.1-4.4-10.4-4.5-10.6-4.5-10.9-4.5-10.9-4.5-11.2-4.4-11.3-4.5-11.4-4.5-11.5-4.5-11.6-4.4-11.6-4.5-11.6-4.5-11.5-4.5-11.5-4.5-11.3-4.4-11.2-4.5-11-4.5-10.7-4.5-10.3-4.5-10-4.4-9.6-4.5-9-4.5-8.5-4.5-7.8-4.5-7.2-4.4-6.4-4.5-5.6-4.5-4.7-4.5-3.8-4.4-2.7-4.5-1.7-4.5-.5-4.5 .7-4.5 1.9-4.4 3.1-4.5 4.5-4.5 5.9-4.5 7.2-4.5 8.6-4.4 10-4.5 11.3-4.5 12.7-4.5 14.1-4.4 15.3-4.5 16.5-4.5 17.6-4.5 18.7-4.5 19.7-4.4 20.4-4.5 21.1-4.5 21.6-4.5 22-4.5 22.2-2.8 14.2-2.9 14.2-2.9 14-2.8 13.9-2.9 13.8-2.9 13.4-2.8 13.2-2.9 12.8-2.9 12.4-2.8 12-2.9 11.5-2.9 10.9-2.8 10.5-2.9 9.8-2.9 9.2-2.8 8.5-2.9 7.9-2.9 7.3-2.8 6.6-2.9 5.9-2.9 5.2-2.8 4.6-2.9 4-2.8 3.4-2.9 2.9-2.9 2.3-2.8 1.9-2.9 1.4-2.9 1.1-2.8 .8-1.7 .4-1.6 .2-1.6 .2-1.6 .2-1.6 .1-1.6 .1-1.6 0-1.6 .1-1.7 0-1.6 0-1.6 0-1.6 0-1.6 0-1 0z" fill="#3aa3fc"/>
<path d="M1193.1 787.9l1 0 1.6 0 1.6 0 1.6 0 1.6 0 1.7 0 1.6-.1 1.6 0 1.6-.1 1.6-.1 1.6-.2 1.6-.2 1.6-.2 1.7-.4 2.8-.8 2.9-1.1 2.9-1.4 2.8-1.9 2.9-2.3 2.9-2.9 2.8-3.4 2.9-4 2.8-4.6 2.9-5.2 2.9-5.9 2.8-6.6 2.9-7.3 2.9-7.9 2.8-8.5 2.9-9.2 2.9-9.8 2.8-10.5 2.9-10.9 2.9-11.5 2.8-12 2.9-12.4 2.9-12.8 2.8-13.2 2.9-13.4 2.9-13.8 2.8-13.9 2.9-14 2.9-14.2 2.8-14.2 4.5-22.2 4.5-22 4.5-21.6 4.5-21.1 4.4-20.4 4.5-19.7 4.5-18.7 4.5-17.6 4.5-16.5 4.4-15.3 4.5-14.1 4.5-12.7 4.5-11.3 4.4-10 4.5-8.6 4.5-7.2 4.5-5.9 4.5-4.5 4.4-3.1 4.5-1.9 4.5-.7 4.5 .5 4.5 1.7 4.4 2.7 4.5 3.8 4.5 4.7 4.5 5.6 4.4 6.4 4.5 7.2 4.5 7.8 4.5 8.5 4.5 9 4.4 9.6 4.5 10 4.5 10.3 4.5 10.7 4.5 11 4.4 11.2 4.5 11.3 4.5 11.5 4.5 11.5 4.5 11.6 4.4 11.6 4.5 11.6 4.5 11.5 4.5 11.4 4.4 11.3 4.5 11.2 4.5 10.9 4.5 10.9 4.5 10.6 4.4 10.4 4.5 10.1 4.5 9.9 4.5 9.7 4.5 9.4 8.9 18.1 9 16.9 8.9 15.9 9 14.8 8.9 13.7 9 12.6 9 11.7 8.9 10.7 9 9.7 8.9 8.9 9 8.1 8.9 7.4 9 6.6 9 6 8.9 5.4 9 4.8 8.9 4.3 9 3.9 8.9 3.5 9 3.1 17.9 5.1 17.9 4.1 17.9 3.2 18 2.5 17.9 1.9 17.9 1.4 17.9 1.2 17.9 .8 17.9 .7 18 .4 17.9 .4 17.9 .3 13.1 .2 1 0 0 .4-1 0-13.1-.1-17.9-.2-17.9-.1-18-.3-17.9-.4-17.9-.5-17.9-.7-17.9-.9-17.9-1.3-18-1.8-17.9-2.3-17.9-3.2-17.9-4.2-9-2.5-8.9-3-9-3.3-8.9-3.9-9-4.3-8.9-5-9-5.6-9-6.3-8.9-7.1-9-8-8.9-8.9-9-9.9-8.9-11.1-9-12.2-9-13.5-8.9-14.8-9-16.1-8.9-17.6-9-19-8.9-20.4-4.5-10.8-4.5-11.1-4.5-11.4-4.5-11.7-4.4-12.1-4.5-12.3-4.5-12.6-4.5-12.9-4.5-13.1-4.4-13.3-4.5-13.5-4.5-13.5-4.5-13.7-4.4-13.7-4.5-13.7-4.5-13.7-4.5-13.5-4.5-13.3-4.4-13.1-4.5-12.8-4.5-12.4-4.5-11.9-4.5-11.4-4.4-10.8-4.5-10.1-4.5-9.3-4.5-8.4-4.5-7.4-4.4-6.4-4.5-5.3-4.5-4-4.5-2.8-4.4-1.4-4.5 .1-4.5 1.5-4.5 3.1-4.5 4.7-4.4 6.3-4.5 8-4.5 9.7-4.5 11.3-4.5 13-4.4 14.5-4.5 16.1-4.5 17.6-4.5 18.9-4.4 20.2-4.5 21.3-4.5 22.3-4.5 23.2-4.5 23.8-4.4 24.2-4.5 24.4-4.5 24.5-4.5 24.3-4.5 23.9-2.8 14.9-2.9 14.6-2.9 14.3-2.8 13.8-2.9 13.4-2.9 12.8-2.8 12.3-2.9 11.7-2.9 11.1-2.8 10.3-2.9 9.8-2.9 9-2.8 8.3-2.9 7.6-2.9 6.9-2.8 6.1-2.9 5.6-2.9 4.8-2.8 4.2-2.9 3.7-2.9 3.1-2.8 2.5-2.9 2.1-2.8 1.7-2.9 1.4-2.9 1-2.8 .7-2.9 .6-2.9 .4-2.8 .2-1.7 .1-1.6 .1-1.6 0-1.6 0-1.6 .1-1.6 0-1.6 0-1.6 0-1.7 0-1.6 0-1.6 0-1.6 0-1.6 0-1 0z" fill="#35abf8"/>
<path d="M1193.1 787.9l1 0 1.6 0 1.6 0 1.6 0 1.6 0 1.7 0 1.6 0 1.6 0 1.6 0 1.6-.1 1.6 0 1.6 0 1.6-.1 1.7-.1 2.8-.2 2.9-.4 2.9-.6 2.8-.7 2.9-1 2.9-1.4 2.8-1.7 2.9-2.1 2.8-2.5 2.9-3.1 2.9-3.7 2.8-4.2 2.9-4.8 2.9-5.6 2.8-6.1 2.9-6.9 2.9-7.6 2.8-8.3 2.9-9 2.9-9.8 2.8-10.3 2.9-11.1 2.9-11.7 2.8-12.3 2.9-12.8 2.9-13.4 2.8-13.8 2.9-14.3 2.9-14.6 2.8-14.9 4.5-23.9 4.5-24.3 4.5-24.5 4.5-24.4 4.4-24.2 4.5-23.8 4.5-23.2 4.5-22.3 4.5-21.3 4.4-20.2 4.5-18.9 4.5-17.6 4.5-16.1 4.4-14.5 4.5-13 4.5-11.3 4.5-9.7 4.5-8 4.4-6.3 4.5-4.7 4.5-3.1 4.5-1.5 4.5-.1 4.4 1.4 4.5 2.8 4.5 4 4.5 5.3 4.4 6.4 4.5 7.4 4.5 8.4 4.5 9.3 4.5 10.1 4.4 10.8 4.5 11.4 4.5 11.9 4.5 12.4 4.5 12.8 4.4 13.1 4.5 13.3 4.5 13.5 4.5 13.7 4.5 13.7 4.4 13.7 4.5 13.7 4.5 13.5 4.5 13.5 4.4 13.3 4.5 13.1 4.5 12.9 4.5 12.6 4.5 12.3 4.4 12.1 4.5 11.7 4.5 11.4 4.5 11.1 4.5 10.8 8.9 20.4 9 19 8.9 17.6 9 16.1 8.9 14.8 9 13.5 9 12.2 8.9 11.1 9 9.9 8.9 8.9 9 8 8.9 7.1 9 6.3 9 5.6 8.9 5 9 4.3 8.9 3.9 9 3.3 8.9 3 9 2.5 17.9 4.2 17.9 3.2 17.9 2.3 18 1.8 17.9 1.3 17.9 .9 17.9 .7 17.9 .5 17.9 .4 18 .3 17.9 .1 17.9 .2 13.1 .1 1 0 0-.4-1 0-13.1-.2-17.9-.2-17.9-.4-18-.4-17.9-.6-17.9-.8-17.9-1.1-17.9-1.3-17.9-1.8-18-2.3-17.9-3-17.9-3.7-17.9-4.9-9-2.8-8.9-3.2-9-3.6-8.9-4.1-9-4.5-8.9-5-9-5.6-9-6.2-8.9-6.8-9-7.6-8.9-8.4-9-9.1-8.9-10.1-9-11-9-11.9-8.9-13-9-14-8.9-15.1-9-16.2-8.9-17.3-4.5-9.1-4.5-9.3-4.5-9.6-4.5-9.8-4.4-10.1-4.5-10.3-4.5-10.5-4.5-10.8-4.5-10.9-4.4-11.1-4.5-11.3-4.5-11.4-4.5-11.5-4.4-11.6-4.5-11.6-4.5-11.7-4.5-11.6-4.5-11.6-4.4-11.4-4.5-11.3-4.5-11.2-4.5-10.8-4.5-10.6-4.4-10.2-4.5-9.8-4.5-9.4-4.5-8.8-4.5-8.2-4.4-7.5-4.5-6.8-4.5-6-4.5-5.2-4.4-4.2-4.5-3.2-4.5-2.1-4.5-1-4.5 .2-4.4 1.4-4.5 2.7-4.5 4-4.5 5.4-4.5 6.7-4.4 8.2-4.5 9.6-4.5 11.1-4.5 12.4-4.4 13.8-4.5 15.2-4.5 16.4-4.5 17.6-4.5 18.7-4.4 19.7-4.5 20.7-4.5 21.3-4.5 22-4.5 22.4-2.8 14.5-2.9 14.5-2.9 14.6-2.8 14.5-2.9 14.3-2.9 14.3-2.8 14-2.9 13.7-2.9 13.5-2.8 13-2.9 12.7-2.9 12.1-2.8 11.7-2.9 11.1-2.9 10.5-2.8 9.8-2.9 9.2-2.9 8.5-2.8 7.9-2.9 7.1-2.9 6.4-2.8 5.7-2.9 5-2.8 4.3-2.9 3.7-2.9 3-2.8 2.6-2.9 1.9-2.9 1.6-2.8 1.1-1.7 .5-1.6 .4-1.6 .3-1.6 .3-1.6 .2-1.6 .1-1.6 .1-1.6 0-1.7 .1-1.6 0-1.6 0-1.6 0-1.6 0-1 0z" fill="#2cb7f0"/>
<path d="M1193.1 787.9l1 0 1.6 0 1.6 0 1.6 0 1.6 0 1.7-.1 1.6 0 1.6-.1 1.6-.1 1.6-.2 1.6-.3 1.6-.3 1.6-.4 1.7-.5 2.8-1.1 2.9-1.6 2.9-1.9 2.8-2.6 2.9-3 2.9-3.7 2.8-4.3 2.9-5 2.8-5.7 2.9-6.4 2.9-7.1 2.8-7.9 2.9-8.5 2.9-9.2 2.8-9.8 2.9-10.5 2.9-11.1 2.8-11.7 2.9-12.1 2.9-12.7 2.8-13 2.9-13.5 2.9-13.7 2.8-14 2.9-14.3 2.9-14.3 2.8-14.5 2.9-14.6 2.9-14.5 2.8-14.5 4.5-22.4 4.5-22 4.5-21.3 4.5-20.7 4.4-19.7 4.5-18.7 4.5-17.6 4.5-16.4 4.5-15.2 4.4-13.8 4.5-12.4 4.5-11.1 4.5-9.6 4.4-8.2 4.5-6.7 4.5-5.4 4.5-4 4.5-2.7 4.4-1.4 4.5-.2 4.5 1 4.5 2.1 4.5 3.2 4.4 4.2 4.5 5.2 4.5 6 4.5 6.8 4.4 7.5 4.5 8.2 4.5 8.8 4.5 9.4 4.5 9.8 4.4 10.2 4.5 10.6 4.5 10.8 4.5 11.2 4.5 11.3 4.4 11.4 4.5 11.6 4.5 11.6 4.5 11.7 4.5 11.6 4.4 11.6 4.5 11.5 4.5 11.4 4.5 11.3 4.4 11.1 4.5 10.9 4.5 10.8 4.5 10.5 4.5 10.3 4.4 10.1 4.5 9.8 4.5 9.6 4.5 9.3 4.5 9.1 8.9 17.3 9 16.2 8.9 15.1 9 14 8.9 13 9 11.9 9 11 8.9 10.1 9 9.1 8.9 8.4 9 7.6 8.9 6.8 9 6.2 9 5.6 8.9 5 9 4.5 8.9 4.1 9 3.6 8.9 3.2 9 2.8 17.9 4.9 17.9 3.7 17.9 3 18 2.3 17.9 1.8 17.9 1.3 17.9 1.1 17.9 .8 17.9 .6 18 .4 17.9 .4 17.9 .2 13.1 .2 1 0 0 .1-1 0-13.1-.2-17.9-.2-17.9-.3-18-.4-17.9-.6-17.9-.7-17.9-1-17.9-1.2-17.9-1.7-18-2.2-17.9-2.7-17.9-3.6-17.9-4.6-9-2.8-8.9-3.1-9-3.5-8.9-3.9-9-4.4-8.9-4.9-9-5.4-9-6.1-8.9-6.7-9-7.5-8.9-8.3-9-9-8.9-10-9-11-9-11.9-8.9-13-9-14-8.9-15.2-9-16.4-8.9-17.4-4.5-9.2-4.5-9.4-4.5-9.7-4.5-10-4.4-10.2-4.5-10.5-4.5-10.8-4.5-10.9-4.5-11.2-4.4-11.3-4.5-11.5-4.5-11.7-4.5-11.8-4.4-11.8-4.5-12-4.5-11.9-4.5-12-4.5-11.9-4.4-11.8-4.5-11.6-4.5-11.5-4.5-11.2-4.5-10.9-4.4-10.6-4.5-10.1-4.5-9.7-4.5-9.1-4.5-8.5-4.4-7.8-4.5-7-4.5-6.3-4.5-5.3-4.4-4.4-4.5-3.3-4.5-2.3-4.5-1.1-4.5 .2-4.4 1.4-4.5 2.7-4.5 4.2-4.5 5.5-4.5 7-4.4 8.4-4.5 9.9-4.5 11.4-4.5 12.8-4.4 14.2-4.5 15.6-4.5 16.9-4.5 18.1-4.5 19.2-4.4 20.3-4.5 21.1-4.5 21.9-4.5 22.5-4.5 22.9-2.8 14.7-2.9 14.8-2.9 14.8-2.8 14.7-2.9 14.6-2.9 14.5-2.8 14.1-2.9 13.9-2.9 13.6-2.8 13.1-2.9 12.7-2.9 12.2-2.8 11.6-2.9 11.1-2.9 10.5-2.8 9.7-2.9 9.1-2.9 8.4-2.8 7.7-2.9 7-2.9 6.2-2.8 5.6-2.9 4.8-2.8 4.2-2.9 3.5-2.9 2.9-2.8 2.4-2.9 1.8-2.9 1.5-2.8 1-1.7 .5-1.6 .3-1.6 .3-1.6 .2-1.6 .2-1.6 .1-1.6 .1-1.6 0-1.7 .1-1.6 0-1.6 0-1.6 0-1.6 0-1 0z" fill="#27bee9"/>
<path d="M1193.1 787.9l1 0 1.6 0 1.6 0 1.6 0 1.6 0 1.7-.1 1.6 0 1.6-.1 1.6-.1 1.6-.2 1.6-.2 1.6-.3 1.6-.3 1.7-.5 2.8-1 2.9-1.5 2.9-1.8 2.8-2.4 2.9-2.9 2.9-3.5 2.8-4.2 2.9-4.8 2.8-5.6 2.9-6.2 2.9-7 2.8-7.7 2.9-8.4 2.9-9.1 2.8-9.7 2.9-10.5 2.9-11.1 2.8-11.6 2.9-12.2 2.9-12.7 2.8-13.1 2.9-13.6 2.9-13.9 2.8-14.1 2.9-14.5 2.9-14.6 2.8-14.7 2.9-14.8 2.9-14.8 2.8-14.7 4.5-22.9 4.5-22.5 4.5-21.9 4.5-21.1 4.4-20.3 4.5-19.2 4.5-18.1 4.5-16.9 4.5-15.6 4.4-14.2 4.5-12.8 4.5-11.4 4.5-9.9 4.4-8.4 4.5-7 4.5-5.5 4.5-4.2 4.5-2.7 4.4-1.4 4.5-.2 4.5 1.1 4.5 2.3 4.5 3.3 4.4 4.4 4.5 5.3 4.5 6.3 4.5 7 4.4 7.8 4.5 8.5 4.5 9.1 4.5 9.7 4.5 10.1 4.4 10.6 4.5 10.9 4.5 11.2 4.5 11.5 4.5 11.6 4.4 11.8 4.5 11.9 4.5 12 4.5 11.9 4.5 12 4.4 11.8 4.5 11.8 4.5 11.7 4.5 11.5 4.4 11.3 4.5 11.2 4.5 10.9 4.5 10.8 4.5 10.5 4.4 10.2 4.5 10 4.5 9.7 4.5 9.4 4.5 9.2 8.9 17.4 9 16.4 8.9 15.2 9 14 8.9 13 9 11.9 9 11 8.9 10 9 9 8.9 8.3 9 7.5 8.9 6.7 9 6.1 9 5.4 8.9 4.9 9 4.4 8.9 3.9 9 3.5 8.9 3.1 9 2.8 17.9 4.6 17.9 3.6 17.9 2.7 18 2.2 17.9 1.7 17.9 1.2 17.9 1 17.9 .7 17.9 .6 18 .4 17.9 .3 17.9 .2 13.1 .2 1 0 0-.3-1 0-13.1-.2-17.9-.3-17.9-.4-18-.6-17.9-.7-17.9-.9-17.9-1.3-17.9-1.5-17.9-2-18-2.6-17.9-3.2-17.9-4.2-17.9-5.1-9-3.1-8.9-3.4-9-3.8-8.9-4.3-9-4.7-8.9-5.2-9-5.8-9-6.4-8.9-7-9-7.7-8.9-8.5-9-9.2-8.9-10.1-9-11-9-11.9-8.9-12.9-9-13.8-8.9-14.9-9-15.8-8.9-16.9-4.5-8.8-4.5-9.1-4.5-9.2-4.5-9.5-4.4-9.8-4.5-9.9-4.5-10.1-4.5-10.4-4.5-10.5-4.4-10.6-4.5-10.8-4.5-10.9-4.5-10.9-4.4-11.1-4.5-11-4.5-11.1-4.5-11-4.5-11-4.4-10.8-4.5-10.7-4.5-10.5-4.5-10.3-4.5-10-4.4-9.6-4.5-9.3-4.5-8.8-4.5-8.3-4.5-7.7-4.4-7.1-4.5-6.4-4.5-5.7-4.5-4.9-4.4-4-4.5-3.1-4.5-2-4.5-1.1-4.5 .1-4.4 1.2-4.5 2.5-4.5 3.6-4.5 5-4.5 6.2-4.4 7.6-4.5 8.9-4.5 10.2-4.5 11.6-4.4 12.9-4.5 14.2-4.5 15.4-4.5 16.5-4.5 17.7-4.4 18.7-4.5 19.5-4.5 20.4-4.5 20.9-4.5 21.5-2.8 13.9-2.9 14.1-2.9 14-2.8 14.1-2.9 14-2.9 13.9-2.8 13.7-2.9 13.6-2.9 13.3-2.8 12.9-2.9 12.6-2.9 12.2-2.8 11.7-2.9 11.3-2.9 10.7-2.8 10.1-2.9 9.5-2.9 8.8-2.8 8.2-2.9 7.5-2.9 6.8-2.8 6.1-2.9 5.4-2.8 4.8-2.9 4.1-2.9 3.4-2.8 2.9-2.9 2.3-2.9 1.8-2.8 1.4-1.7 .6-1.6 .5-1.6 .4-1.6 .3-1.6 .2-1.6 .2-1.6 .1-1.6 .1-1.7 .1-1.6 0-1.6 0-1.6 0-1.6 0-1 0z" fill="#23c3e4"/>
<path d="M1193.1 787.9l1 0 1.6 0 1.6 0 1.6 0 1.6 0 1.7-.1 1.6-.1 1.6-.1 1.6-.2 1.6-.2 1.6-.3 1.6-.4 1.6-.5 1.7-.6 2.8-1.4 2.9-1.8 2.9-2.3 2.8-2.9 2.9-3.4 2.9-4.1 2.8-4.8 2.9-5.4 2.8-6.1 2.9-6.8 2.9-7.5 2.8-8.2 2.9-8.8 2.9-9.5 2.8-10.1 2.9-10.7 2.9-11.3 2.8-11.7 2.9-12.2 2.9-12.6 2.8-12.9 2.9-13.3 2.9-13.6 2.8-13.7 2.9-13.9 2.9-14 2.8-14.1 2.9-14 2.9-14.1 2.8-13.9 4.5-21.5 4.5-20.9 4.5-20.4 4.5-19.5 4.4-18.7 4.5-17.7 4.5-16.5 4.5-15.4 4.5-14.2 4.4-12.9 4.5-11.6 4.5-10.2 4.5-8.9 4.4-7.6 4.5-6.2 4.5-5 4.5-3.6 4.5-2.5 4.4-1.2 4.5-.1 4.5 1.1 4.5 2 4.5 3.1 4.4 4 4.5 4.9 4.5 5.7 4.5 6.4 4.4 7.1 4.5 7.7 4.5 8.3 4.5 8.8 4.5 9.3 4.4 9.6 4.5 10 4.5 10.3 4.5 10.5 4.5 10.7 4.4 10.8 4.5 11 4.5 11 4.5 11.1 4.5 11 4.4 11.1 4.5 10.9 4.5 10.9 4.5 10.8 4.4 10.6 4.5 10.5 4.5 10.4 4.5 10.1 4.5 9.9 4.4 9.8 4.5 9.5 4.5 9.2 4.5 9.1 4.5 8.8 8.9 16.9 9 15.8 8.9 14.9 9 13.8 8.9 12.9 9 11.9 9 11 8.9 10.1 9 9.2 8.9 8.5 9 7.7 8.9 7 9 6.4 9 5.8 8.9 5.2 9 4.7 8.9 4.3 9 3.8 8.9 3.4 9 3.1 17.9 5.1 17.9 4.2 17.9 3.2 18 2.6 17.9 2 17.9 1.5 17.9 1.3 17.9 .9 17.9 .7 18 .6 17.9 .4 17.9 .3 13.1 .2 1 0 0-.8-1 0-13.1-.3-17.9-.6-17.9-.7-18-.9-17.9-1.1-17.9-1.4-17.9-1.8-17.9-2.2-17.9-2.8-18-3.4-17.9-4.3-17.9-5.2-17.9-6.4-9-3.7-8.9-4-9-4.5-8.9-4.9-9-5.4-8.9-5.9-9-6.4-9-7-8.9-7.6-9-8.3-8.9-8.9-9-9.7-8.9-10.3-9-11.2-9-11.9-8.9-12.8-9-13.6-8.9-14.3-9-15.2-8.9-15.9-4.5-8.3-4.5-8.4-4.5-8.6-4.5-8.8-4.4-8.9-4.5-9.1-4.5-9.1-4.5-9.3-4.5-9.4-4.4-9.5-4.5-9.6-4.5-9.6-4.5-9.6-4.4-9.6-4.5-9.6-4.5-9.5-4.5-9.5-4.5-9.3-4.4-9.2-4.5-9-4.5-8.8-4.5-8.6-4.5-8.2-4.4-7.9-4.5-7.6-4.5-7.1-4.5-6.6-4.5-6.1-4.4-5.6-4.5-4.9-4.5-4.3-4.5-3.6-4.4-2.8-4.5-2-4.5-1.2-4.5-.3-4.5 .7-4.4 1.6-4.5 2.7-4.5 3.7-4.5 4.8-4.5 5.8-4.4 7-4.5 8.1-4.5 9.3-4.5 10.3-4.4 11.5-4.5 12.6-4.5 13.6-4.5 14.6-4.5 15.6-4.4 16.5-4.5 17.3-4.5 18-4.5 18.6-4.5 19.2-2.8 12.4-2.9 12.6-2.9 12.7-2.8 12.7-2.9 12.7-2.9 12.6-2.8 12.6-2.9 12.5-2.9 12.3-2.8 12.1-2.9 11.8-2.9 11.5-2.8 11.2-2.9 10.8-2.9 10.4-2.8 9.9-2.9 9.4-2.9 8.8-2.8 8.3-2.9 7.7-2.9 7.1-2.8 6.5-2.9 5.9-2.8 5.2-2.9 4.6-2.9 4-2.8 3.3-2.9 2.9-2.9 2.2-2.8 1.8-1.7 .8-1.6 .7-1.6 .6-1.6 .4-1.6 .4-1.6 .3-1.6 .2-1.6 .1-1.7 .1-1.6 .1-1.6 0-1.6 0-1.6 0-1 0z" fill="#1fc9dd"/>
<path d="M1193.1 787.9l1 0 1.6 0 1.6 0 1.6 0 1.6-.1 1.7-.1 1.6-.1 1.6-.2 1.6-.3 1.6-.4 1.6-.4 1.6-.6 1.6-.7 1.7-.8 2.8-1.8 2.9-2.2 2.9-2.9 2.8-3.3 2.9-4 2.9-4.6 2.8-5.2 2.9-5.9 2.8-6.5 2.9-7.1 2.9-7.7 2.8-8.3 2.9-8.8 2.9-9.4 2.8-9.9 2.9-10.4 2.9-10.8 2.8-11.2 2.9-11.5 2.9-11.8 2.8-12.1 2.9-12.3 2.9-12.5 2.8-12.6 2.9-12.6 2.9-12.7 2.8-12.7 2.9-12.7 2.9-12.6 2.8-12.4 4.5-19.2 4.5-18.6 4.5-18 4.5-17.3 4.4-16.5 4.5-15.6 4.5-14.6 4.5-13.6 4.5-12.6 4.4-11.5 4.5-10.3 4.5-9.3 4.5-8.1 4.4-7 4.5-5.8 4.5-4.8 4.5-3.7 4.5-2.7 4.4-1.6 4.5-.7 4.5 .3 4.5 1.2 4.5 2 4.4 2.8 4.5 3.6 4.5 4.3 4.5 4.9 4.4 5.6 4.5 6.1 4.5 6.6 4.5 7.1 4.5 7.6 4.4 7.9 4.5 8.2 4.5 8.6 4.5 8.8 4.5 9 4.4 9.2 4.5 9.3 4.5 9.5 4.5 9.5 4.5 9.6 4.4 9.6 4.5 9.6 4.5 9.6 4.5 9.6 4.4 9.5 4.5 9.4 4.5 9.3 4.5 9.1 4.5 9.1 4.4 8.9 4.5 8.8 4.5 8.6 4.5 8.4 4.5 8.3 8.9 15.9 9 15.2 8.9 14.3 9 13.6 8.9 12.8 9 11.9 9 11.2 8.9 10.3 9 9.7 8.9 8.9 9 8.3 8.9 7.6 9 7 9 6.4 8.9 5.9 9 5.4 8.9 4.9 9 4.5 8.9 4 9 3.7 17.9 6.4 17.9 5.2 17.9 4.3 18 3.4 17.9 2.8 17.9 2.2 17.9 1.8 17.9 1.4 17.9 1.1 18 .9 17.9 .7 17.9 .6 13.1 .3 1 0 0-.7-1 0-13.1-.4-17.9-.7-17.9-.9-18-1-17.9-1.3-17.9-1.6-17.9-2-17.9-2.5-17.9-2.9-18-3.6-17.9-4.4-17.9-5.3-17.9-6.3-9-3.7-8.9-3.9-9-4.3-8.9-4.7-9-5.2-8.9-5.5-9-6-9-6.6-8.9-7-9-7.6-8.9-8.2-9-8.8-8.9-9.4-9-10.1-9-10.7-8.9-11.4-9-12.2-8.9-12.8-9-13.5-8.9-14.2-4.5-7.3-4.5-7.5-4.5-7.6-4.5-7.8-4.4-8-4.5-8.1-4.5-8.2-4.5-8.3-4.5-8.4-4.4-8.5-4.5-8.7-4.5-8.6-4.5-8.8-4.4-8.7-4.5-8.8-4.5-8.8-4.5-8.7-4.5-8.7-4.4-8.7-4.5-8.5-4.5-8.4-4.5-8.3-4.5-8-4.4-7.9-4.5-7.6-4.5-7.3-4.5-7-4.5-6.7-4.4-6.2-4.5-5.8-4.5-5.4-4.5-4.8-4.4-4.2-4.5-3.6-4.5-3-4.5-2.3-4.5-1.5-4.4-.8-4.5 .1-4.5 .9-4.5 1.8-4.5 2.8-4.4 3.7-4.5 4.8-4.5 5.7-4.5 6.8-4.4 7.9-4.5 8.9-4.5 10-4.5 11.1-4.5 12.1-4.4 13.2-4.5 14.1-4.5 15.1-4.5 16-4.5 16.8-2.8 11.1-2.9 11.4-2.9 11.7-2.8 12-2.9 12.1-2.9 12.3-2.8 12.4-2.9 12.5-2.9 12.5-2.8 12.6-2.9 12.5-2.9 12.5-2.8 12.4-2.9 12.2-2.9 11.9-2.8 11.7-2.9 11.4-2.9 11.1-2.8 10.6-2.9 10.2-2.9 9.6-2.8 9.1-2.9 8.6-2.8 7.8-2.9 7.3-2.9 6.5-2.8 5.9-2.9 5.1-2.9 4.4-2.8 3.7-1.7 1.8-1.6 1.6-1.6 1.3-1.6 1.2-1.6 .9-1.6 .8-1.6 .7-1.6 .5-1.7 .3-1.6 .2-1.6 .2-1.6 .1-1.6 0-1 0z" fill="#1bd0d5"/>
<path d="M1193.1 787.9l1 0 1.6 0 1.6-.1 1.6-.2 1.6-.2 1.7-.3 1.6-.5 1.6-.7 1.6-.8 1.6-.9 1.6-1.2 1.6-1.3 1.6-1.6 1.7-1.8 2.8-3.7 2.9-4.4 2.9-5.1 2.8-5.9 2.9-6.5 2.9-7.3 2.8-7.8 2.9-8.6 2.8-9.1 2.9-9.6 2.9-10.2 2.8-10.6 2.9-11.1 2.9-11.4 2.8-11.7 2.9-11.9 2.9-12.2 2.8-12.4 2.9-12.5 2.9-12.5 2.8-12.6 2.9-12.5 2.9-12.5 2.8-12.4 2.9-12.3 2.9-12.1 2.8-12 2.9-11.7 2.9-11.4 2.8-11.1 4.5-16.8 4.5-16 4.5-15.1 4.5-14.1 4.4-13.2 4.5-12.1 4.5-11.1 4.5-10 4.5-8.9 4.4-7.9 4.5-6.8 4.5-5.7 4.5-4.8 4.4-3.7 4.5-2.8 4.5-1.8 4.5-.9 4.5-.1 4.4 .8 4.5 1.5 4.5 2.3 4.5 3 4.5 3.6 4.4 4.2 4.5 4.8 4.5 5.4 4.5 5.8 4.4 6.2 4.5 6.7 4.5 7 4.5 7.3 4.5 7.6 4.4 7.9 4.5 8 4.5 8.3 4.5 8.4 4.5 8.5 4.4 8.7 4.5 8.7 4.5 8.7 4.5 8.8 4.5 8.8 4.4 8.7 4.5 8.8 4.5 8.6 4.5 8.7 4.4 8.5 4.5 8.4 4.5 8.3 4.5 8.2 4.5 8.1 4.4 8 4.5 7.8 4.5 7.6 4.5 7.5 4.5 7.3 8.9 14.2 9 13.5 8.9 12.8 9 12.2 8.9 11.4 9 10.7 9 10.1 8.9 9.4 9 8.8 8.9 8.2 9 7.6 8.9 7 9 6.6 9 6 8.9 5.5 9 5.2 8.9 4.7 9 4.3 8.9 3.9 9 3.7 17.9 6.3 17.9 5.3 17.9 4.4 18 3.6 17.9 2.9 17.9 2.5 17.9 2 17.9 1.6 17.9 1.3 18 1 17.9 .9 17.9 .7 13.1 .4 1 0 0 .7-1 0-13.1-.3-17.9-.5-17.9-.6-18-.8-17.9-1-17.9-1.3-17.9-1.5-17.9-2-17.9-2.4-18-3-17.9-3.6-17.9-4.5-17.9-5.5-9-3.2-8.9-3.5-9-3.8-8.9-4.2-9-4.6-8.9-5.1-9-5.5-9-6-8.9-6.5-9-7.1-8.9-7.7-9-8.4-8.9-9-9-9.7-9-10.4-8.9-11.2-9-12-8.9-12.7-9-13.6-8.9-14.3-4.5-7.5-4.5-7.7-4.5-7.8-4.5-8-4.4-8.3-4.5-8.3-4.5-8.6-4.5-8.7-4.5-8.9-4.4-9-4.5-9.2-4.5-9.2-4.5-9.4-4.4-9.4-4.5-9.5-4.5-9.6-4.5-9.6-4.5-9.6-4.4-9.5-4.5-9.5-4.5-9.5-4.5-9.3-4.5-9.2-4.4-9-4.5-8.8-4.5-8.6-4.5-8.2-4.5-8-4.4-7.5-4.5-7.1-4.5-6.7-4.5-6.1-4.4-5.6-4.5-5-4.5-4.3-4.5-3.6-4.5-2.8-4.4-2-4.5-1.1-4.5-.2-4.5 .8-4.5 1.8-4.4 2.9-4.5 3.9-4.5 5.1-4.5 6.2-4.4 7.4-4.5 8.6-4.5 9.9-4.5 11-4.5 12.2-4.4 13.4-4.5 14.5-4.5 15.7-4.5 16.7-4.5 17.6-2.8 11.8-2.9 12.1-2.9 12.5-2.8 12.7-2.9 12.9-2.9 13.2-2.8 13.3-2.9 13.5-2.9 13.5-2.8 13.6-2.9 13.6-2.9 13.5-2.8 13.4-2.9 13.3-2.9 13-2.8 12.7-2.9 12.4-2.9 12.1-2.8 11.5-2.9 11.1-2.9 10.5-2.8 9.9-2.9 9.3-2.8 8.5-2.9 7.9-2.9 7-2.8 6.3-2.9 5.5-2.9 4.8-2.8 3.9-1.7 1.9-1.6 1.6-1.6 1.5-1.6 1.2-1.6 1-1.6 .8-1.6 .7-1.6 .5-1.7 .3-1.6 .3-1.6 .1-1.6 .1-1.6 0-1 0z" fill="#1ad4d0"/>
<path d="M1193.1 787.9l1 0 1.6 0 1.6-.1 1.6-.1 1.6-.3 1.7-.3 1.6-.5 1.6-.7 1.6-.8 1.6-1 1.6-1.2 1.6-1.5 1.6-1.6 1.7-1.9 2.8-3.9 2.9-4.8 2.9-5.5 2.8-6.3 2.9-7 2.9-7.9 2.8-8.5 2.9-9.3 2.8-9.9 2.9-10.5 2.9-11.1 2.8-11.5 2.9-12.1 2.9-12.4 2.8-12.7 2.9-13 2.9-13.3 2.8-13.4 2.9-13.5 2.9-13.6 2.8-13.6 2.9-13.5 2.9-13.5 2.8-13.3 2.9-13.2 2.9-12.9 2.8-12.7 2.9-12.5 2.9-12.1 2.8-11.8 4.5-17.6 4.5-16.7 4.5-15.7 4.5-14.5 4.4-13.4 4.5-12.2 4.5-11 4.5-9.9 4.5-8.6 4.4-7.4 4.5-6.2 4.5-5.1 4.5-3.9 4.4-2.9 4.5-1.8 4.5-.8 4.5 .2 4.5 1.1 4.4 2 4.5 2.8 4.5 3.6 4.5 4.3 4.5 5 4.4 5.6 4.5 6.1 4.5 6.7 4.5 7.1 4.4 7.5 4.5 8 4.5 8.2 4.5 8.6 4.5 8.8 4.4 9 4.5 9.2 4.5 9.3 4.5 9.5 4.5 9.5 4.4 9.5 4.5 9.6 4.5 9.6 4.5 9.6 4.5 9.5 4.4 9.4 4.5 9.4 4.5 9.2 4.5 9.2 4.4 9 4.5 8.9 4.5 8.7 4.5 8.6 4.5 8.3 4.4 8.3 4.5 8 4.5 7.8 4.5 7.7 4.5 7.5 8.9 14.3 9 13.6 8.9 12.7 9 12 8.9 11.2 9 10.4 9 9.7 8.9 9 9 8.4 8.9 7.7 9 7.1 8.9 6.5 9 6 9 5.5 8.9 5.1 9 4.6 8.9 4.2 9 3.8 8.9 3.5 9 3.2 17.9 5.5 17.9 4.5 17.9 3.6 18 3 17.9 2.4 17.9 2 17.9 1.5 17.9 1.3 17.9 1 18 .8 17.9 .6 17.9 .5 13.1 .3 1 0 0-.7-1 0-13.1-.4-17.9-.7-17.9-.8-18-1-17.9-1.2-17.9-1.5-17.9-1.8-17.9-2.3-17.9-2.7-18-3.2-17.9-4-17.9-4.7-17.9-5.7-9-3.3-8.9-3.5-9-3.9-8.9-4.2-9-4.6-8.9-4.9-9-5.4-9-5.8-8.9-6.3-9-6.8-8.9-7.3-9-7.9-8.9-8.5-9-9-9-9.7-8.9-10.3-9-11-8.9-11.6-9-12.3-8.9-13-4.5-6.8-4.5-6.9-4.5-7.1-4.5-7.2-4.4-7.4-4.5-7.6-4.5-7.7-4.5-7.8-4.5-8-4.4-8.1-4.5-8.2-4.5-8.4-4.5-8.4-4.4-8.5-4.5-8.6-4.5-8.7-4.5-8.6-4.5-8.8-4.4-8.7-4.5-8.7-4.5-8.6-4.5-8.6-4.5-8.5-4.4-8.5-4.5-8.2-4.5-8.1-4.5-7.9-4.5-7.7-4.4-7.4-4.5-7-4.5-6.8-4.5-6.3-4.4-6-4.5-5.4-4.5-5-4.5-4.4-4.5-3.8-4.4-3.2-4.5-2.4-4.5-1.8-4.5-.9-4.5-.1-4.4 .7-4.5 1.7-4.5 2.6-4.5 3.7-4.4 4.6-4.5 5.8-4.5 6.8-4.5 7.9-4.5 9.1-4.4 10.2-4.5 11.3-4.5 12.5-4.5 13.6-4.5 14.7-2.8 10-2.9 10.3-2.9 10.8-2.8 11.1-2.9 11.5-2.9 11.9-2.8 12.2-2.9 12.4-2.9 12.7-2.8 12.9-2.9 13.1-2.9 13.3-2.8 13.3-2.9 13.4-2.9 13.4-2.8 13.3-2.9 13.3-2.9 13.1-2.8 12.8-2.9 12.6-2.9 12.2-2.8 11.9-2.9 11.3-2.8 10.8-2.9 10.2-2.9 9.5-2.8 8.8-2.9 8-2.9 7.2-2.8 6.3-1.7 3.2-1.6 2.8-1.6 2.6-1.6 2.3-1.6 2-1.6 1.7-1.6 1.4-1.6 1.2-1.7 .9-1.6 .6-1.6 .5-1.6 .3-1.6 .1-1 0z" fill="#18d9c8"/>
<path d="M1193.1 787.9l1 0 1.6-.1 1.6-.3 1.6-.5 1.6-.6 1.7-.9 1.6-1.2 1.6-1.4 1.6-1.7 1.6-2 1.6-2.3 1.6-2.6 1.6-2.8 1.7-3.2 2.8-6.3 2.9-7.2 2.9-8 2.8-8.8 2.9-9.5 2.9-10.2 2.8-10.8 2.9-11.3 2.8-11.9 2.9-12.2 2.9-12.6 2.8-12.8 2.9-13.1 2.9-13.3 2.8-13.3 2.9-13.4 2.9-13.4 2.8-13.3 2.9-13.3 2.9-13.1 2.8-12.9 2.9-12.7 2.9-12.4 2.8-12.2 2.9-11.9 2.9-11.5 2.8-11.1 2.9-10.8 2.9-10.3 2.8-10 4.5-14.7 4.5-13.6 4.5-12.5 4.5-11.3 4.4-10.2 4.5-9.1 4.5-7.9 4.5-6.8 4.5-5.8 4.4-4.6 4.5-3.7 4.5-2.6 4.5-1.7 4.4-.7 4.5 .1 4.5 .9 4.5 1.8 4.5 2.4 4.4 3.2 4.5 3.8 4.5 4.4 4.5 5 4.5 5.4 4.4 6 4.5 6.3 4.5 6.8 4.5 7 4.4 7.4 4.5 7.7 4.5 7.9 4.5 8.1 4.5 8.2 4.4 8.5 4.5 8.5 4.5 8.6 4.5 8.6 4.5 8.7 4.4 8.7 4.5 8.8 4.5 8.6 4.5 8.7 4.5 8.6 4.4 8.5 4.5 8.4 4.5 8.4 4.5 8.2 4.4 8.1 4.5 8 4.5 7.8 4.5 7.7 4.5 7.6 4.4 7.4 4.5 7.2 4.5 7.1 4.5 6.9 4.5 6.8 8.9 13 9 12.3 8.9 11.6 9 11 8.9 10.3 9 9.7 9 9 8.9 8.5 9 7.9 8.9 7.3 9 6.8 8.9 6.3 9 5.8 9 5.4 8.9 4.9 9 4.6 8.9 4.2 9 3.9 8.9 3.5 9 3.3 17.9 5.7 17.9 4.7 17.9 4 18 3.2 17.9 2.7 17.9 2.3 17.9 1.8 17.9 1.5 17.9 1.2 18 1 17.9 .8 17.9 .7 13.1 .4 1 0 0 .4-1 0-13.1-.3-17.9-.6-17.9-.8-18-.9-17.9-1.1-17.9-1.4-17.9-1.7-17.9-2.2-17.9-2.6-18-3.2-17.9-3.9-17.9-4.7-17.9-5.8-9-3.3-8.9-3.6-9-4-8.9-4.3-9-4.7-8.9-5.2-9-5.6-9-6.1-8.9-6.6-9-7.1-8.9-7.8-9-8.3-8.9-9-9-9.6-9-10.4-8.9-11-9-11.8-8.9-12.5-9-13.2-8.9-14-4.5-7.2-4.5-7.5-4.5-7.6-4.5-7.8-4.4-7.9-4.5-8.1-4.5-8.3-4.5-8.4-4.5-8.5-4.4-8.7-4.5-8.8-4.5-8.9-4.5-9-4.4-9-4.5-9.1-4.5-9.1-4.5-9.2-4.5-9.2-4.4-9.1-4.5-9.1-4.5-9-4.5-8.9-4.5-8.7-4.4-8.6-4.5-8.4-4.5-8.2-4.5-7.8-4.5-7.6-4.4-7.2-4.5-6.8-4.5-6.4-4.5-5.9-4.4-5.3-4.5-4.8-4.5-4.2-4.5-3.5-4.5-2.7-4.4-2-4.5-1.2-4.5-.3-4.5 .6-4.5 1.5-4.4 2.5-4.5 3.6-4.5 4.6-4.5 5.7-4.4 6.8-4.5 8-4.5 9.1-4.5 10.3-4.5 11.4-4.4 12.6-4.5 13.7-4.5 14.7-4.5 15.8-4.5 16.8-2.8 11.2-2.9 11.5-2.9 11.9-2.8 12.2-2.9 12.4-2.9 12.7-2.8 12.9-2.9 13-2.9 13.1-2.8 13.3-2.9 13.2-2.9 13.3-2.8 13.2-2.9 13.1-2.9 12.9-2.8 12.7-2.9 12.4-2.9 12.1-2.8 11.7-2.9 11.2-2.9 10.8-2.8 10.2-2.9 9.6-2.8 9-2.9 8.2-2.9 7.6-2.8 6.7-2.9 6-2.9 5.2-2.8 4.4-1.7 2.1-1.6 1.9-1.6 1.7-1.6 1.4-1.6 1.2-1.6 1-1.6 .8-1.6 .6-1.7 .4-1.6 .4-1.6 .1-1.6 .2-1.6 0-1 0z" fill="#19e2bb"/>
<path d="M1193.1 787.9l1 0 1.6 0 1.6-.2 1.6-.1 1.6-.4 1.7-.4 1.6-.6 1.6-.8 1.6-1 1.6-1.2 1.6-1.4 1.6-1.7 1.6-1.9 1.7-2.1 2.8-4.4 2.9-5.2 2.9-6 2.8-6.7 2.9-7.6 2.9-8.2 2.8-9 2.9-9.6 2.8-10.2 2.9-10.8 2.9-11.2 2.8-11.7 2.9-12.1 2.9-12.4 2.8-12.7 2.9-12.9 2.9-13.1 2.8-13.2 2.9-13.3 2.9-13.2 2.8-13.3 2.9-13.1 2.9-13 2.8-12.9 2.9-12.7 2.9-12.4 2.8-12.2 2.9-11.9 2.9-11.5 2.8-11.2 4.5-16.8 4.5-15.8 4.5-14.7 4.5-13.7 4.4-12.6 4.5-11.4 4.5-10.3 4.5-9.1 4.5-8 4.4-6.8 4.5-5.7 4.5-4.6 4.5-3.6 4.4-2.5 4.5-1.5 4.5-.6 4.5 .3 4.5 1.2 4.4 2 4.5 2.7 4.5 3.5 4.5 4.2 4.5 4.8 4.4 5.3 4.5 5.9 4.5 6.4 4.5 6.8 4.4 7.2 4.5 7.6 4.5 7.8 4.5 8.2 4.5 8.4 4.4 8.6 4.5 8.7 4.5 8.9 4.5 9 4.5 9.1 4.4 9.1 4.5 9.2 4.5 9.2 4.5 9.1 4.5 9.1 4.4 9 4.5 9 4.5 8.9 4.5 8.8 4.4 8.7 4.5 8.5 4.5 8.4 4.5 8.3 4.5 8.1 4.4 7.9 4.5 7.8 4.5 7.6 4.5 7.5 4.5 7.2 8.9 14 9 13.2 8.9 12.5 9 11.8 8.9 11 9 10.4 9 9.6 8.9 9 9 8.3 8.9 7.8 9 7.1 8.9 6.6 9 6.1 9 5.6 8.9 5.2 9 4.7 8.9 4.3 9 4 8.9 3.6 9 3.3 17.9 5.8 17.9 4.7 17.9 3.9 18 3.2 17.9 2.6 17.9 2.2 17.9 1.7 17.9 1.4 17.9 1.1 18 .9 17.9 .8 17.9 .6 13.1 .3 1 0 0 0-1 0-13.1-.3-17.9-.6-17.9-.8-18-.9-17.9-1.1-17.9-1.4-17.9-1.7-17.9-2.2-17.9-2.6-18-3.2-17.9-3.9-17.9-4.7-17.9-5.8-9-3.3-8.9-3.6-9-3.9-8.9-4.3-9-4.8-8.9-5.1-9-5.6-9-6.1-8.9-6.6-9-7.1-8.9-7.7-9-8.3-8.9-9-9-9.6-9-10.3-8.9-11-9-11.8-8.9-12.4-9-13.2-8.9-14-4.5-7.2-4.5-7.5-4.5-7.6-4.5-7.7-4.4-8-4.5-8.1-4.5-8.2-4.5-8.4-4.5-8.5-4.4-8.7-4.5-8.8-4.5-8.8-4.5-9-4.4-9-4.5-9.1-4.5-9.2-4.5-9.1-4.5-9.2-4.4-9.1-4.5-9.1-4.5-9-4.5-8.9-4.5-8.8-4.4-8.6-4.5-8.4-4.5-8.1-4.5-7.9-4.5-7.6-4.4-7.2-4.5-6.9-4.5-6.4-4.5-5.9-4.4-5.4-4.5-4.8-4.5-4.2-4.5-3.5-4.5-2.8-4.4-2.1-4.5-1.2-4.5-.4-4.5 .5-4.5 1.5-4.4 2.5-4.5 3.5-4.5 4.5-4.5 5.7-4.4 6.7-4.5 7.9-4.5 9.1-4.5 10.2-4.5 11.3-4.4 12.5-4.5 13.6-4.5 14.7-4.5 15.7-4.5 16.8-2.8 11.1-2.9 11.6-2.9 11.8-2.8 12.2-2.9 12.4-2.9 12.7-2.8 12.8-2.9 13.1-2.9 13.1-2.8 13.2-2.9 13.3-2.9 13.3-2.8 13.2-2.9 13.1-2.9 13-2.8 12.7-2.9 12.5-2.9 12.1-2.8 11.7-2.9 11.4-2.9 10.8-2.8 10.2-2.9 9.7-2.8 9-2.9 8.3-2.9 7.6-2.8 6.9-2.9 6-2.9 5.3-2.8 4.4-1.7 2.2-1.6 1.9-1.6 1.7-1.6 1.4-1.6 1.2-1.6 1-1.6 .8-1.6 .7-1.7 .4-1.6 .3-1.6 .2-1.6 .2-1.6 0-1 0z" fill="#1ce6b4"/>
<path d="M1193.1 787.9l1 0 1.6 0 1.6-.2 1.6-.2 1.6-.3 1.7-.4 1.6-.7 1.6-.8 1.6-1 1.6-1.2 1.6-1.4 1.6-1.7 1.6-1.9 1.7-2.2 2.8-4.4 2.9-5.3 2.9-6 2.8-6.9 2.9-7.6 2.9-8.3 2.8-9 2.9-9.7 2.8-10.2 2.9-10.8 2.9-11.4 2.8-11.7 2.9-12.1 2.9-12.5 2.8-12.7 2.9-13 2.9-13.1 2.8-13.2 2.9-13.3 2.9-13.3 2.8-13.2 2.9-13.1 2.9-13.1 2.8-12.8 2.9-12.7 2.9-12.4 2.8-12.2 2.9-11.8 2.9-11.6 2.8-11.1 4.5-16.8 4.5-15.7 4.5-14.7 4.5-13.6 4.4-12.5 4.5-11.3 4.5-10.2 4.5-9.1 4.5-7.9 4.4-6.7 4.5-5.7 4.5-4.5 4.5-3.5 4.4-2.5 4.5-1.5 4.5-.5 4.5 .4 4.5 1.2 4.4 2.1 4.5 2.8 4.5 3.5 4.5 4.2 4.5 4.8 4.4 5.4 4.5 5.9 4.5 6.4 4.5 6.9 4.4 7.2 4.5 7.6 4.5 7.9 4.5 8.1 4.5 8.4 4.4 8.6 4.5 8.8 4.5 8.9 4.5 9 4.5 9.1 4.4 9.1 4.5 9.2 4.5 9.1 4.5 9.2 4.5 9.1 4.4 9 4.5 9 4.5 8.8 4.5 8.8 4.4 8.7 4.5 8.5 4.5 8.4 4.5 8.2 4.5 8.1 4.4 8 4.5 7.7 4.5 7.6 4.5 7.5 4.5 7.2 8.9 14 9 13.2 8.9 12.4 9 11.8 8.9 11 9 10.3 9 9.6 8.9 9 9 8.3 8.9 7.7 9 7.1 8.9 6.6 9 6.1 9 5.6 8.9 5.1 9 4.8 8.9 4.3 9 3.9 8.9 3.6 9 3.3 17.9 5.8 17.9 4.7 17.9 3.9 18 3.2 17.9 2.6 17.9 2.2 17.9 1.7 17.9 1.4 17.9 1.1 18 .9 17.9 .8 17.9 .6 13.1 .3 1 0 0-.5-1 0-13.1-.4-17.9-.7-17.9-.9-18-1-17.9-1.3-17.9-1.6-17.9-1.9-17.9-2.3-17.9-2.9-18-3.4-17.9-4.2-17.9-5-17.9-6-9-3.4-8.9-3.7-9-4.1-8.9-4.4-9-4.8-8.9-5.2-9-5.6-9-6.1-8.9-6.6-9-7.1-8.9-7.6-9-8.2-8.9-8.8-9-9.4-9-10-8.9-10.7-9-11.4-8.9-12-9-12.7-8.9-13.4-4.5-6.9-4.5-7.1-4.5-7.2-4.5-7.4-4.4-7.6-4.5-7.7-4.5-7.8-4.5-8-4.5-8.1-4.4-8.2-4.5-8.3-4.5-8.4-4.5-8.5-4.4-8.5-4.5-8.6-4.5-8.6-4.5-8.7-4.5-8.6-4.4-8.6-4.5-8.6-4.5-8.5-4.5-8.4-4.5-8.3-4.4-8.2-4.5-7.9-4.5-7.8-4.5-7.5-4.5-7.2-4.4-7-4.5-6.6-4.5-6.1-4.5-5.8-4.4-5.3-4.5-4.8-4.5-4.2-4.5-3.6-4.5-3-4.4-2.3-4.5-1.5-4.5-.8-4.5 .1-4.5 .9-4.4 1.8-4.5 2.7-4.5 3.8-4.5 4.7-4.4 5.8-4.5 6.8-4.5 7.9-4.5 9.1-4.5 10.1-4.4 11.2-4.5 12.3-4.5 13.3-4.5 14.4-4.5 15.4-2.8 10.4-2.9 10.7-2.9 11.1-2.8 11.4-2.9 11.7-2.9 12-2.8 12.2-2.9 12.5-2.9 12.6-2.8 12.8-2.9 12.9-2.9 13-2.8 13-2.9 13-2.9 12.9-2.8 12.7-2.9 12.6-2.9 12.4-2.8 12-2.9 11.7-2.9 11.4-2.8 10.8-2.9 10.3-2.8 9.8-2.9 9.1-2.9 8.4-2.8 7.7-2.9 7-2.9 6.1-2.8 5.3-1.7 2.6-1.6 2.4-1.6 2.1-1.6 1.8-1.6 1.6-1.6 1.4-1.6 1.1-1.6 .9-1.7 .6-1.6 .5-1.6 .3-1.6 .2-1.6 .1-1 0z" fill="#1fe9af"/>
<path d="M1193.1 787.9l1 0 1.6-.1 1.6-.2 1.6-.3 1.6-.5 1.7-.6 1.6-.9 1.6-1.1 1.6-1.4 1.6-1.6 1.6-1.8 1.6-2.1 1.6-2.4 1.7-2.6 2.8-5.3 2.9-6.1 2.9-7 2.8-7.7 2.9-8.4 2.9-9.1 2.8-9.8 2.9-10.3 2.8-10.8 2.9-11.4 2.9-11.7 2.8-12 2.9-12.4 2.9-12.6 2.8-12.7 2.9-12.9 2.9-13 2.8-13 2.9-13 2.9-12.9 2.8-12.8 2.9-12.6 2.9-12.5 2.8-12.2 2.9-12 2.9-11.7 2.8-11.4 2.9-11.1 2.9-10.7 2.8-10.4 4.5-15.4 4.5-14.4 4.5-13.3 4.5-12.3 4.4-11.2 4.5-10.1 4.5-9.1 4.5-7.9 4.5-6.8 4.4-5.8 4.5-4.7 4.5-3.8 4.5-2.7 4.4-1.8 4.5-.9 4.5-.1 4.5 .8 4.5 1.5 4.4 2.3 4.5 3 4.5 3.6 4.5 4.2 4.5 4.8 4.4 5.3 4.5 5.8 4.5 6.1 4.5 6.6 4.4 7 4.5 7.2 4.5 7.5 4.5 7.8 4.5 7.9 4.4 8.2 4.5 8.3 4.5 8.4 4.5 8.5 4.5 8.6 4.4 8.6 4.5 8.6 4.5 8.7 4.5 8.6 4.5 8.6 4.4 8.5 4.5 8.5 4.5 8.4 4.5 8.3 4.4 8.2 4.5 8.1 4.5 8 4.5 7.8 4.5 7.7 4.4 7.6 4.5 7.4 4.5 7.2 4.5 7.1 4.5 6.9 8.9 13.4 9 12.7 8.9 12 9 11.4 8.9 10.7 9 10 9 9.4 8.9 8.8 9 8.2 8.9 7.6 9 7.1 8.9 6.6 9 6.1 9 5.6 8.9 5.2 9 4.8 8.9 4.4 9 4.1 8.9 3.7 9 3.4 17.9 6 17.9 5 17.9 4.2 18 3.4 17.9 2.9 17.9 2.3 17.9 1.9 17.9 1.6 17.9 1.3 18 1 17.9 .9 17.9 .7 13.1 .4 1 0 0-.3-1 0-13.1-.4-17.9-.8-17.9-1-18-1.1-17.9-1.5-17.9-1.7-17.9-2.2-17.9-2.6-17.9-3.2-18-3.9-17.9-4.6-17.9-5.6-17.9-6.6-9-3.8-8.9-4.2-9-4.4-8.9-4.9-9-5.3-8.9-5.7-9-6.2-9-6.7-8.9-7.2-9-7.7-8.9-8.3-9-8.9-8.9-9.6-9-10.1-9-10.8-8.9-11.4-9-12.1-8.9-12.8-9-13.4-8.9-14-4.5-7.3-4.5-7.4-4.5-7.5-4.5-7.7-4.4-7.8-4.5-7.9-4.5-8-4.5-8.1-4.5-8.3-4.4-8.3-4.5-8.3-4.5-8.5-4.5-8.4-4.4-8.5-4.5-8.5-4.5-8.4-4.5-8.4-4.5-8.4-4.4-8.3-4.5-8.1-4.5-8-4.5-7.9-4.5-7.7-4.4-7.4-4.5-7.2-4.5-6.9-4.5-6.5-4.5-6.2-4.4-5.8-4.5-5.4-4.5-4.9-4.5-4.4-4.4-3.8-4.5-3.2-4.5-2.5-4.5-1.9-4.5-1.2-4.4-.4-4.5 .4-4.5 1.2-4.5 2.1-4.5 3-4.4 4-4.5 4.9-4.5 5.9-4.5 6.8-4.4 7.9-4.5 9-4.5 9.9-4.5 11-4.5 11.9-4.4 13-4.5 13.8-4.5 14.8-4.5 15.6-4.5 16.4-2.8 10.9-2.9 11.2-2.9 11.4-2.8 11.6-2.9 11.7-2.9 12-2.8 12.1-2.9 12.1-2.9 12.2-2.8 12.2-2.9 12.2-2.9 12.1-2.8 12.1-2.9 11.8-2.9 11.6-2.8 11.4-2.9 11.1-2.9 10.8-2.8 10.3-2.9 9.9-2.9 9.4-2.8 9-2.9 8.3-2.8 7.7-2.9 7.1-2.9 6.5-2.8 5.7-2.9 5.1-2.9 4.4-2.8 3.6-1.7 1.8-1.6 1.6-1.6 1.3-1.6 1.2-1.6 1-1.6 .8-1.6 .6-1.6 .5-1.7 .4-1.6 .2-1.6 .2-1.6 .1-1.6 0-1 0z" fill="#2cf09e"/>
<path d="M1193.1 787.9l1 0 1.6 0 1.6-.1 1.6-.2 1.6-.2 1.7-.4 1.6-.5 1.6-.6 1.6-.8 1.6-1 1.6-1.2 1.6-1.3 1.6-1.6 1.7-1.8 2.8-3.6 2.9-4.4 2.9-5.1 2.8-5.7 2.9-6.5 2.9-7.1 2.8-7.7 2.9-8.3 2.8-9 2.9-9.4 2.9-9.9 2.8-10.3 2.9-10.8 2.9-11.1 2.8-11.4 2.9-11.6 2.9-11.8 2.8-12.1 2.9-12.1 2.9-12.2 2.8-12.2 2.9-12.2 2.9-12.1 2.8-12.1 2.9-12 2.9-11.7 2.8-11.6 2.9-11.4 2.9-11.2 2.8-10.9 4.5-16.4 4.5-15.6 4.5-14.8 4.5-13.8 4.4-13 4.5-11.9 4.5-11 4.5-9.9 4.5-9 4.4-7.9 4.5-6.8 4.5-5.9 4.5-4.9 4.4-4 4.5-3 4.5-2.1 4.5-1.2 4.5-.4 4.4 .4 4.5 1.2 4.5 1.9 4.5 2.5 4.5 3.2 4.4 3.8 4.5 4.4 4.5 4.9 4.5 5.4 4.4 5.8 4.5 6.2 4.5 6.5 4.5 6.9 4.5 7.2 4.4 7.4 4.5 7.7 4.5 7.9 4.5 8 4.5 8.1 4.4 8.3 4.5 8.4 4.5 8.4 4.5 8.4 4.5 8.5 4.4 8.5 4.5 8.4 4.5 8.5 4.5 8.3 4.4 8.3 4.5 8.3 4.5 8.1 4.5 8 4.5 7.9 4.4 7.8 4.5 7.7 4.5 7.5 4.5 7.4 4.5 7.3 8.9 14 9 13.4 8.9 12.8 9 12.1 8.9 11.4 9 10.8 9 10.1 8.9 9.6 9 8.9 8.9 8.3 9 7.7 8.9 7.2 9 6.7 9 6.2 8.9 5.7 9 5.3 8.9 4.9 9 4.4 8.9 4.2 9 3.8 17.9 6.6 17.9 5.6 17.9 4.6 18 3.9 17.9 3.2 17.9 2.6 17.9 2.2 17.9 1.7 17.9 1.5 18 1.1 17.9 1 17.9 .8 13.1 .4 1 0 0-.3-1 0-13.1-.5-17.9-.8-17.9-1-18-1.3-17.9-1.5-17.9-1.8-17.9-2.3-17.9-2.7-17.9-3.3-18-3.9-17.9-4.7-17.9-5.6-17.9-6.7-9-3.7-8.9-4.1-9-4.5-8.9-4.8-9-5.3-8.9-5.6-9-6.1-9-6.5-8.9-7.1-9-7.6-8.9-8.1-9-8.6-8.9-9.3-9-9.8-9-10.5-8.9-11.1-9-11.7-8.9-12.3-9-12.9-8.9-13.6-4.5-7-4.5-7.1-4.5-7.3-4.5-7.4-4.4-7.5-4.5-7.6-4.5-7.8-4.5-7.8-4.5-8-4.4-8-4.5-8.1-4.5-8.1-4.5-8.2-4.4-8.2-4.5-8.2-4.5-8.2-4.5-8.2-4.5-8.1-4.4-8.1-4.5-7.9-4.5-7.9-4.5-7.7-4.5-7.6-4.4-7.3-4.5-7.1-4.5-6.9-4.5-6.5-4.5-6.3-4.4-5.9-4.5-5.5-4.5-5-4.5-4.6-4.4-4.1-4.5-3.5-4.5-2.9-4.5-2.4-4.5-1.6-4.4-.9-4.5-.2-4.5 .6-4.5 1.4-4.5 2.2-4.4 3.2-4.5 4-4.5 5-4.5 6-4.4 6.9-4.5 7.9-4.5 9-4.5 9.9-4.5 11-4.4 11.9-4.5 12.9-4.5 13.8-4.5 14.7-4.5 15.6-2.8 10.3-2.9 10.7-2.9 10.9-2.8 11.2-2.9 11.5-2.9 11.6-2.8 11.8-2.9 12-2.9 12-2.8 12.2-2.9 12.2-2.9 12.1-2.8 12.1-2.9 12.1-2.9 11.9-2.8 11.7-2.9 11.5-2.9 11.2-2.8 10.8-2.9 10.5-2.9 10.1-2.8 9.6-2.9 9-2.8 8.5-2.9 7.9-2.9 7.3-2.8 6.5-2.9 5.9-2.9 5.1-2.8 4.4-1.7 2.2-1.6 1.9-1.6 1.7-1.6 1.5-1.6 1.2-1.6 1.1-1.6 .8-1.6 .7-1.7 .5-1.6 .4-1.6 .2-1.6 .1-1.6 .1-1 0z" fill="#32f298"/>
<path d="M1193.1 787.9l1 0 1.6-.1 1.6-.1 1.6-.2 1.6-.4 1.7-.5 1.6-.7 1.6-.8 1.6-1.1 1.6-1.2 1.6-1.5 1.6-1.7 1.6-1.9 1.7-2.2 2.8-4.4 2.9-5.1 2.9-5.9 2.8-6.5 2.9-7.3 2.9-7.9 2.8-8.5 2.9-9 2.8-9.6 2.9-10.1 2.9-10.5 2.8-10.8 2.9-11.2 2.9-11.5 2.8-11.7 2.9-11.9 2.9-12.1 2.8-12.1 2.9-12.1 2.9-12.2 2.8-12.2 2.9-12 2.9-12 2.8-11.8 2.9-11.6 2.9-11.5 2.8-11.2 2.9-10.9 2.9-10.7 2.8-10.3 4.5-15.6 4.5-14.7 4.5-13.8 4.5-12.9 4.4-11.9 4.5-11 4.5-9.9 4.5-9 4.5-7.9 4.4-6.9 4.5-6 4.5-5 4.5-4 4.4-3.2 4.5-2.2 4.5-1.4 4.5-.6 4.5 .2 4.4 .9 4.5 1.6 4.5 2.4 4.5 2.9 4.5 3.5 4.4 4.1 4.5 4.6 4.5 5 4.5 5.5 4.4 5.9 4.5 6.3 4.5 6.5 4.5 6.9 4.5 7.1 4.4 7.3 4.5 7.6 4.5 7.7 4.5 7.9 4.5 7.9 4.4 8.1 4.5 8.1 4.5 8.2 4.5 8.2 4.5 8.2 4.4 8.2 4.5 8.2 4.5 8.1 4.5 8.1 4.4 8 4.5 8 4.5 7.8 4.5 7.8 4.5 7.6 4.4 7.5 4.5 7.4 4.5 7.3 4.5 7.1 4.5 7 8.9 13.6 9 12.9 8.9 12.3 9 11.7 8.9 11.1 9 10.5 9 9.8 8.9 9.3 9 8.6 8.9 8.1 9 7.6 8.9 7.1 9 6.5 9 6.1 8.9 5.6 9 5.3 8.9 4.8 9 4.5 8.9 4.1 9 3.7 17.9 6.7 17.9 5.6 17.9 4.7 18 3.9 17.9 3.3 17.9 2.7 17.9 2.3 17.9 1.8 17.9 1.5 18 1.3 17.9 1 17.9 .8 13.1 .5 1 0 0 .4-1 0-13.1-.4-17.9-.8-17.9-.9-18-1.1-17.9-1.4-17.9-1.7-17.9-2.1-17.9-2.5-17.9-3-18-3.7-17.9-4.5-17.9-5.4-17.9-6.4-9-3.7-8.9-3.9-9-4.4-8.9-4.7-9-5.1-8.9-5.5-9-6-9-6.5-8.9-7-9-7.5-8.9-8.1-9-8.6-8.9-9.3-9-9.9-9-10.5-8.9-11.2-9-11.9-8.9-12.5-9-13.2-8.9-13.8-4.5-7.1-4.5-7.3-4.5-7.5-4.5-7.6-4.4-7.7-4.5-7.8-4.5-8-4.5-8.1-4.5-8.2-4.4-8.3-4.5-8.3-4.5-8.5-4.5-8.4-4.4-8.6-4.5-8.5-4.5-8.5-4.5-8.5-4.5-8.5-4.4-8.4-4.5-8.4-4.5-8.2-4.5-8-4.5-7.9-4.4-7.8-4.5-7.4-4.5-7.2-4.5-7-4.5-6.5-4.4-6.2-4.5-5.8-4.5-5.4-4.5-4.9-4.4-4.3-4.5-3.8-4.5-3.1-4.5-2.5-4.5-1.8-4.4-1.1-4.5-.2-4.5 .5-4.5 1.4-4.5 2.3-4.4 3.2-4.5 4.2-4.5 5.2-4.5 6.2-4.4 7.2-4.5 8.2-4.5 9.3-4.5 10.3-4.5 11.4-4.4 12.4-4.5 13.4-4.5 14.4-4.5 15.2-4.5 16.2-2.8 10.7-2.9 11.1-2.9 11.3-2.8 11.6-2.9 11.8-2.9 12-2.8 12.2-2.9 12.3-2.9 12.4-2.8 12.4-2.9 12.5-2.9 12.4-2.8 12.4-2.9 12.3-2.9 12.1-2.8 11.9-2.9 11.6-2.9 11.3-2.8 10.9-2.9 10.5-2.9 10.1-2.8 9.6-2.9 8.9-2.8 8.4-2.9 7.8-2.9 7.1-2.8 6.4-2.9 5.6-2.9 4.9-2.8 4.2-1.7 2-1.6 1.8-1.6 1.6-1.6 1.4-1.6 1.1-1.6 1-1.6 .8-1.6 .6-1.7 .4-1.6 .3-1.6 .2-1.6 .2-1.6 0-1 0z" fill="#3cf58e"/>
<path d="M1193.1 787.9l1 0 1.6 0 1.6-.2 1.6-.2 1.6-.3 1.7-.4 1.6-.6 1.6-.8 1.6-1 1.6-1.1 1.6-1.4 1.6-1.6 1.6-1.8 1.7-2 2.8-4.2 2.9-4.9 2.9-5.6 2.8-6.4 2.9-7.1 2.9-7.8 2.8-8.4 2.9-8.9 2.8-9.6 2.9-10.1 2.9-10.5 2.8-10.9 2.9-11.3 2.9-11.6 2.8-11.9 2.9-12.1 2.9-12.3 2.8-12.4 2.9-12.4 2.9-12.5 2.8-12.4 2.9-12.4 2.9-12.3 2.8-12.2 2.9-12 2.9-11.8 2.8-11.6 2.9-11.3 2.9-11.1 2.8-10.7 4.5-16.2 4.5-15.2 4.5-14.4 4.5-13.4 4.4-12.4 4.5-11.4 4.5-10.3 4.5-9.3 4.5-8.2 4.4-7.2 4.5-6.2 4.5-5.2 4.5-4.2 4.4-3.2 4.5-2.3 4.5-1.4 4.5-.5 4.5 .2 4.4 1.1 4.5 1.8 4.5 2.5 4.5 3.1 4.5 3.8 4.4 4.3 4.5 4.9 4.5 5.4 4.5 5.8 4.4 6.2 4.5 6.5 4.5 7 4.5 7.2 4.5 7.4 4.4 7.8 4.5 7.9 4.5 8 4.5 8.2 4.5 8.4 4.4 8.4 4.5 8.5 4.5 8.5 4.5 8.5 4.5 8.5 4.4 8.6 4.5 8.4 4.5 8.5 4.5 8.3 4.4 8.3 4.5 8.2 4.5 8.1 4.5 8 4.5 7.8 4.4 7.7 4.5 7.6 4.5 7.5 4.5 7.3 4.5 7.1 8.9 13.8 9 13.2 8.9 12.5 9 11.9 8.9 11.2 9 10.5 9 9.9 8.9 9.3 9 8.6 8.9 8.1 9 7.5 8.9 7 9 6.5 9 6 8.9 5.5 9 5.1 8.9 4.7 9 4.4 8.9 3.9 9 3.7 17.9 6.4 17.9 5.4 17.9 4.5 18 3.7 17.9 3 17.9 2.5 17.9 2.1 17.9 1.7 17.9 1.4 18 1.1 17.9 .9 17.9 .8 13.1 .4 1 0 0-.8-1 0-13.1-.5-17.9-.9-17.9-1-18-1.3-17.9-1.5-17.9-1.9-17.9-2.2-17.9-2.6-17.9-3.1-18-3.8-17.9-4.4-17.9-5.3-17.9-6.1-9-3.5-8.9-3.8-9-4.1-8.9-4.4-9-4.8-8.9-5.1-9-5.5-9-5.9-8.9-6.4-9-6.8-8.9-7.3-9-7.8-8.9-8.4-9-8.8-9-9.4-8.9-10-9-10.5-8.9-11.1-9-11.7-8.9-12.3-4.5-6.3-4.5-6.5-4.5-6.6-4.5-6.8-4.4-6.8-4.5-7-4.5-7.2-4.5-7.2-4.5-7.4-4.4-7.4-4.5-7.5-4.5-7.7-4.5-7.7-4.4-7.7-4.5-7.9-4.5-7.8-4.5-7.9-4.5-7.9-4.4-7.9-4.5-7.8-4.5-7.8-4.5-7.8-4.5-7.7-4.4-7.6-4.5-7.4-4.5-7.3-4.5-7.1-4.5-6.9-4.4-6.7-4.5-6.3-4.5-6.1-4.5-5.8-4.4-5.4-4.5-5-4.5-4.5-4.5-4.1-4.5-3.6-4.4-2.9-4.5-2.4-4.5-1.8-4.5-1.1-4.5-.4-4.4 .4-4.5 1.2-4.5 2-4.5 2.9-4.4 3.8-4.5 4.7-4.5 5.7-4.5 6.7-4.5 7.7-4.4 8.7-4.5 9.8-4.5 10.8-4.5 11.9-4.5 12.8-2.8 8.8-2.9 9.2-2.9 9.6-2.8 9.9-2.9 10.3-2.9 10.7-2.8 11-2.9 11.4-2.9 11.6-2.8 11.9-2.9 12.2-2.9 12.3-2.8 12.5-2.9 12.7-2.9 12.7-2.8 12.9-2.9 12.8-2.9 12.7-2.8 12.7-2.9 12.6-2.9 12.3-2.8 12-2.9 11.7-2.8 11.3-2.9 10.9-2.9 10.2-2.8 9.7-2.9 9-2.9 8.3-2.8 7.4-1.7 3.8-1.6 3.5-1.6 3.2-1.6 2.9-1.6 2.6-1.6 2.3-1.6 2-1.6 1.7-1.7 1.3-1.6 1.1-1.6 .7-1.6 .5-1.6 .2-1 0z" fill="#43f787"/>
<path d="M1193.1 787.8l1 0 1.6-.2 1.6-.5 1.6-.7 1.6-1.1 1.7-1.3 1.6-1.7 1.6-2 1.6-2.3 1.6-2.6 1.6-2.9 1.6-3.2 1.6-3.5 1.7-3.8 2.8-7.4 2.9-8.3 2.9-9 2.8-9.7 2.9-10.2 2.9-10.9 2.8-11.3 2.9-11.7 2.8-12 2.9-12.3 2.9-12.6 2.8-12.7 2.9-12.7 2.9-12.8 2.8-12.9 2.9-12.7 2.9-12.7 2.8-12.5 2.9-12.3 2.9-12.2 2.8-11.9 2.9-11.6 2.9-11.4 2.8-11 2.9-10.7 2.9-10.3 2.8-9.9 2.9-9.6 2.9-9.2 2.8-8.8 4.5-12.8 4.5-11.9 4.5-10.8 4.5-9.8 4.4-8.7 4.5-7.7 4.5-6.7 4.5-5.7 4.5-4.7 4.4-3.8 4.5-2.9 4.5-2 4.5-1.2 4.4-.4 4.5 .4 4.5 1.1 4.5 1.8 4.5 2.4 4.4 2.9 4.5 3.6 4.5 4.1 4.5 4.5 4.5 5 4.4 5.4 4.5 5.8 4.5 6.1 4.5 6.3 4.4 6.7 4.5 6.9 4.5 7.1 4.5 7.3 4.5 7.4 4.4 7.6 4.5 7.7 4.5 7.8 4.5 7.8 4.5 7.8 4.4 7.9 4.5 7.9 4.5 7.9 4.5 7.8 4.5 7.9 4.4 7.7 4.5 7.7 4.5 7.7 4.5 7.5 4.4 7.4 4.5 7.4 4.5 7.2 4.5 7.2 4.5 7 4.4 6.8 4.5 6.8 4.5 6.6 4.5 6.5 4.5 6.3 8.9 12.3 9 11.7 8.9 11.1 9 10.5 8.9 10 9 9.4 9 8.8 8.9 8.4 9 7.8 8.9 7.3 9 6.8 8.9 6.4 9 5.9 9 5.5 8.9 5.1 9 4.8 8.9 4.4 9 4.1 8.9 3.8 9 3.5 17.9 6.1 17.9 5.3 17.9 4.4 18 3.8 17.9 3.1 17.9 2.6 17.9 2.2 17.9 1.9 17.9 1.5 18 1.3 17.9 1 17.9 .9 13.1 .5 1 0 0 1.4-1 0-13.1-.4-17.9-.6-17.9-.7-18-.9-17.9-1.1-17.9-1.3-17.9-1.7-17.9-2-17.9-2.5-18-3-17.9-3.6-17.9-4.3-17.9-5.3-9-3-8.9-3.3-9-3.5-8.9-3.9-9-4.3-8.9-4.6-9-5-9-5.5-8.9-5.9-9-6.4-8.9-6.9-9-7.5-8.9-8-9-8.6-9-9.2-8.9-9.9-9-10.6-8.9-11.2-9-11.9-8.9-12.7-4.5-6.6-4.5-6.7-4.5-6.9-4.5-7.1-4.4-7.3-4.5-7.5-4.5-7.6-4.5-7.7-4.5-8-4.4-8-4.5-8.2-4.5-8.4-4.5-8.5-4.4-8.5-4.5-8.7-4.5-8.8-4.5-8.8-4.5-8.9-4.4-9-4.5-8.9-4.5-9-4.5-9-4.5-8.9-4.4-8.8-4.5-8.8-4.5-8.6-4.5-8.5-4.5-8.3-4.4-8-4.5-7.8-4.5-7.6-4.5-7.2-4.4-6.8-4.5-6.4-4.5-6-4.5-5.4-4.5-4.9-4.4-4.3-4.5-3.6-4.5-3-4.5-2.2-4.5-1.4-4.4-.5-4.5 .3-4.5 1.4-4.5 2.2-4.4 3.4-4.5 4.4-4.5 5.5-4.5 6.7-4.5 7.9-4.4 9-4.5 10.3-4.5 11.5-4.5 12.7-4.5 13.9-2.8 9.5-2.9 10-2.9 10.5-2.8 10.9-2.9 11.4-2.9 11.7-2.8 12.1-2.9 12.6-2.9 12.8-2.8 13.1-2.9 13.5-2.9 13.6-2.8 13.8-2.9 14-2.9 14.1-2.8 14.1-2.9 14.1-2.9 14-2.8 13.8-2.9 13.7-2.9 13.4-2.8 13-2.9 12.6-2.8 12.2-2.9 11.5-2.9 10.9-2.8 10.1-2.9 9.4-2.9 8.5-2.8 7.5-1.7 3.9-1.6 3.4-1.6 3.2-1.6 2.9-1.6 2.5-1.6 2.2-1.6 1.8-1.6 1.5-1.7 1.2-1.6 .9-1.6 .7-1.6 .4-1.6 .2-1 0z" fill="#4ef97d"/>
<path d="M1193.1 787.9l1 0 1.6-.2 1.6-.4 1.6-.7 1.6-.9 1.7-1.2 1.6-1.5 1.6-1.8 1.6-2.2 1.6-2.5 1.6-2.9 1.6-3.2 1.6-3.4 1.7-3.9 2.8-7.5 2.9-8.5 2.9-9.4 2.8-10.1 2.9-10.9 2.9-11.5 2.8-12.2 2.9-12.6 2.8-13 2.9-13.4 2.9-13.7 2.8-13.8 2.9-14 2.9-14.1 2.8-14.1 2.9-14.1 2.9-14 2.8-13.8 2.9-13.6 2.9-13.5 2.8-13.1 2.9-12.8 2.9-12.6 2.8-12.1 2.9-11.7 2.9-11.4 2.8-10.9 2.9-10.5 2.9-10 2.8-9.5 4.5-13.9 4.5-12.7 4.5-11.5 4.5-10.3 4.4-9 4.5-7.9 4.5-6.7 4.5-5.5 4.5-4.4 4.4-3.4 4.5-2.2 4.5-1.4 4.5-.3 4.4 .5 4.5 1.4 4.5 2.2 4.5 3 4.5 3.6 4.4 4.3 4.5 4.9 4.5 5.4 4.5 6 4.5 6.4 4.4 6.8 4.5 7.2 4.5 7.6 4.5 7.8 4.4 8 4.5 8.3 4.5 8.5 4.5 8.6 4.5 8.8 4.4 8.8 4.5 8.9 4.5 9 4.5 9 4.5 8.9 4.4 9 4.5 8.9 4.5 8.8 4.5 8.8 4.5 8.7 4.4 8.5 4.5 8.5 4.5 8.4 4.5 8.2 4.4 8 4.5 8 4.5 7.7 4.5 7.6 4.5 7.5 4.4 7.3 4.5 7.1 4.5 6.9 4.5 6.7 4.5 6.6 8.9 12.7 9 11.9 8.9 11.2 9 10.6 8.9 9.9 9 9.2 9 8.6 8.9 8 9 7.5 8.9 6.9 9 6.4 8.9 5.9 9 5.5 9 5 8.9 4.6 9 4.3 8.9 3.9 9 3.5 8.9 3.3 9 3 17.9 5.3 17.9 4.3 17.9 3.6 18 3 17.9 2.5 17.9 2 17.9 1.7 17.9 1.3 17.9 1.1 18 .9 17.9 .7 17.9 .6 13.1 .4 1 0 0 .2-1 0-13.1-.3-17.9-.6-17.9-.6-18-.9-17.9-1-17.9-1.2-17.9-1.6-17.9-1.9-17.9-2.3-18-2.9-17.9-3.4-17.9-4.2-17.9-5.1-9-2.9-8.9-3.2-9-3.4-8.9-3.9-9-4.1-8.9-4.6-9-4.9-9-5.4-8.9-5.8-9-6.4-8.9-6.8-9-7.4-8.9-8-9-8.6-9-9.3-8.9-9.9-9-10.6-8.9-11.3-9-12-8.9-12.8-4.5-6.6-4.5-6.9-4.5-7-4.5-7.2-4.4-7.4-4.5-7.6-4.5-7.7-4.5-8-4.5-8-4.4-8.3-4.5-8.3-4.5-8.6-4.5-8.6-4.4-8.8-4.5-8.9-4.5-9-4.5-9.1-4.5-9.1-4.4-9.2-4.5-9.2-4.5-9.3-4.5-9.2-4.5-9.2-4.4-9.1-4.5-9-4.5-8.9-4.5-8.8-4.5-8.6-4.4-8.3-4.5-8.1-4.5-7.8-4.5-7.5-4.4-7-4.5-6.7-4.5-6.2-4.5-5.6-4.5-5.1-4.4-4.5-4.5-3.8-4.5-3-4.5-2.3-4.5-1.5-4.4-.5-4.5 .3-4.5 1.3-4.5 2.4-4.4 3.5-4.5 4.5-4.5 5.7-4.5 7-4.5 8.1-4.4 9.4-4.5 10.6-4.5 11.9-4.5 13.1-4.5 14.3-2.8 9.9-2.9 10.3-2.9 10.8-2.8 11.2-2.9 11.7-2.9 12-2.8 12.5-2.9 12.9-2.9 13.1-2.8 13.5-2.9 13.7-2.9 14-2.8 14.1-2.9 14.2-2.9 14.3-2.8 14.4-2.9 14.2-2.9 14.2-2.8 14-2.9 13.8-2.9 13.5-2.8 13.1-2.9 12.6-2.8 12.1-2.9 11.4-2.9 10.8-2.8 10-2.9 9.2-2.9 8.3-2.8 7.3-1.7 3.7-1.6 3.4-1.6 3-1.6 2.7-1.6 2.4-1.6 2-1.6 1.7-1.6 1.5-1.7 1.1-1.6 .8-1.6 .6-1.6 .3-1.6 .2-1 0z" fill="#59fb73"/>
<path d="M1193.1 787.9l1 0 1.6-.2 1.6-.3 1.6-.6 1.6-.8 1.7-1.1 1.6-1.5 1.6-1.7 1.6-2 1.6-2.4 1.6-2.7 1.6-3 1.6-3.4 1.7-3.7 2.8-7.3 2.9-8.3 2.9-9.2 2.8-10 2.9-10.8 2.9-11.4 2.8-12.1 2.9-12.6 2.8-13.1 2.9-13.5 2.9-13.8 2.8-14 2.9-14.2 2.9-14.2 2.8-14.4 2.9-14.3 2.9-14.2 2.8-14.1 2.9-14 2.9-13.7 2.8-13.5 2.9-13.1 2.9-12.9 2.8-12.5 2.9-12 2.9-11.7 2.8-11.2 2.9-10.8 2.9-10.3 2.8-9.9 4.5-14.3 4.5-13.1 4.5-11.9 4.5-10.6 4.4-9.4 4.5-8.1 4.5-7 4.5-5.7 4.5-4.5 4.4-3.5 4.5-2.4 4.5-1.3 4.5-.3 4.4 .5 4.5 1.5 4.5 2.3 4.5 3 4.5 3.8 4.4 4.5 4.5 5.1 4.5 5.6 4.5 6.2 4.5 6.7 4.4 7 4.5 7.5 4.5 7.8 4.5 8.1 4.4 8.3 4.5 8.6 4.5 8.8 4.5 8.9 4.5 9 4.4 9.1 4.5 9.2 4.5 9.2 4.5 9.3 4.5 9.2 4.4 9.2 4.5 9.1 4.5 9.1 4.5 9 4.5 8.9 4.4 8.8 4.5 8.6 4.5 8.6 4.5 8.3 4.4 8.3 4.5 8 4.5 8 4.5 7.7 4.5 7.6 4.4 7.4 4.5 7.2 4.5 7 4.5 6.9 4.5 6.6 8.9 12.8 9 12 8.9 11.3 9 10.6 8.9 9.9 9 9.3 9 8.6 8.9 8 9 7.4 8.9 6.8 9 6.4 8.9 5.8 9 5.4 9 4.9 8.9 4.6 9 4.1 8.9 3.9 9 3.4 8.9 3.2 9 2.9 17.9 5.1 17.9 4.2 17.9 3.4 18 2.9 17.9 2.3 17.9 1.9 17.9 1.6 17.9 1.2 17.9 1 18 .9 17.9 .6 17.9 .6 13.1 .3 1 0 0 0-1 0-13.1-.3-17.9-.5-17.9-.7-18-.8-17.9-.9-17.9-1.3-17.9-1.4-17.9-1.9-17.9-2.2-18-2.7-17.9-3.3-17.9-4.1-17.9-4.8-9-2.8-8.9-3-9-3.4-8.9-3.6-9-4-8.9-4.3-9-4.8-9-5.1-8.9-5.6-9-6.1-8.9-6.5-9-7.1-8.9-7.7-9-8.2-9-8.9-8.9-9.5-9-10.2-8.9-10.9-9-11.7-8.9-12.3-4.5-6.4-4.5-6.7-4.5-6.8-4.5-7-4.4-7.2-4.5-7.3-4.5-7.6-4.5-7.7-4.5-7.9-4.4-8.1-4.5-8.2-4.5-8.3-4.5-8.5-4.4-8.7-4.5-8.8-4.5-8.9-4.5-9-4.5-9-4.4-9.2-4.5-9.2-4.5-9.3-4.5-9.2-4.5-9.3-4.4-9.2-4.5-9.2-4.5-9.1-4.5-9-4.5-8.8-4.4-8.7-4.5-8.4-4.5-8.2-4.5-7.9-4.4-7.6-4.5-7.2-4.5-6.8-4.5-6.3-4.5-5.8-4.4-5.3-4.5-4.6-4.5-4-4.5-3.2-4.5-2.5-4.4-1.6-4.5-.7-4.5 .2-4.5 1.1-4.4 2.3-4.5 3.3-4.5 4.5-4.5 5.6-4.5 6.9-4.4 8.1-4.5 9.4-4.5 10.7-4.5 11.9-4.5 13.3-2.8 9.2-2.9 9.7-2.9 10.2-2.8 10.7-2.9 11.2-2.9 11.7-2.8 12.1-2.9 12.6-2.9 12.9-2.8 13.3-2.9 13.7-2.9 14-2.8 14.2-2.9 14.5-2.9 14.6-2.8 14.7-2.9 14.8-2.9 14.8-2.8 14.7-2.9 14.6-2.9 14.3-2.8 14.1-2.9 13.6-2.8 13.2-2.9 12.7-2.9 12-2.8 11.3-2.9 10.5-2.9 9.6-2.8 8.6-1.7 4.4-1.6 4.1-1.6 3.7-1.6 3.3-1.6 3-1.6 2.6-1.6 2.2-1.6 1.8-1.7 1.5-1.6 1.2-1.6 .8-1.6 .5-1.6 .2-1 0z" fill="#61fc6c"/>
<path d="M1193.1 787.8l1 0 1.6-.2 1.6-.5 1.6-.8 1.6-1.2 1.7-1.5 1.6-1.8 1.6-2.2 1.6-2.6 1.6-3 1.6-3.3 1.6-3.7 1.6-4.1 1.7-4.4 2.8-8.6 2.9-9.6 2.9-10.5 2.8-11.3 2.9-12 2.9-12.7 2.8-13.2 2.9-13.6 2.8-14.1 2.9-14.3 2.9-14.6 2.8-14.7 2.9-14.8 2.9-14.8 2.8-14.7 2.9-14.6 2.9-14.5 2.8-14.2 2.9-14 2.9-13.7 2.8-13.3 2.9-12.9 2.9-12.6 2.8-12.1 2.9-11.7 2.9-11.2 2.8-10.7 2.9-10.2 2.9-9.7 2.8-9.2 4.5-13.3 4.5-11.9 4.5-10.7 4.5-9.4 4.4-8.1 4.5-6.9 4.5-5.6 4.5-4.5 4.5-3.3 4.4-2.3 4.5-1.1 4.5-.2 4.5 .7 4.4 1.6 4.5 2.5 4.5 3.2 4.5 4 4.5 4.6 4.4 5.3 4.5 5.8 4.5 6.3 4.5 6.8 4.5 7.2 4.4 7.6 4.5 7.9 4.5 8.2 4.5 8.4 4.4 8.7 4.5 8.8 4.5 9 4.5 9.1 4.5 9.2 4.4 9.2 4.5 9.3 4.5 9.2 4.5 9.3 4.5 9.2 4.4 9.2 4.5 9 4.5 9 4.5 8.9 4.5 8.8 4.4 8.7 4.5 8.5 4.5 8.3 4.5 8.2 4.4 8.1 4.5 7.9 4.5 7.7 4.5 7.6 4.5 7.3 4.4 7.2 4.5 7 4.5 6.8 4.5 6.7 4.5 6.4 8.9 12.3 9 11.7 8.9 10.9 9 10.2 8.9 9.5 9 8.9 9 8.2 8.9 7.7 9 7.1 8.9 6.5 9 6.1 8.9 5.6 9 5.1 9 4.8 8.9 4.3 9 4 8.9 3.6 9 3.4 8.9 3 9 2.8 17.9 4.8 17.9 4.1 17.9 3.3 18 2.7 17.9 2.2 17.9 1.9 17.9 1.4 17.9 1.3 17.9 .9 18 .8 17.9 .7 17.9 .5 13.1 .3 1 0 0-.6-1 0-13.1-.4-17.9-.6-17.9-.8-18-.9-17.9-1.1-17.9-1.3-17.9-1.6-17.9-1.9-17.9-2.3-18-2.7-17.9-3.3-17.9-3.9-17.9-4.6-9-2.6-8.9-2.9-9-3.1-8.9-3.4-9-3.6-8.9-4-9-4.3-9-4.6-8.9-5-9-5.4-8.9-5.8-9-6.3-8.9-6.7-9-7.2-9-7.7-8.9-8.3-9-8.9-8.9-9.4-9-10-8.9-10.7-4.5-5.5-4.5-5.8-4.5-5.8-4.5-6.1-4.4-6.2-4.5-6.4-4.5-6.5-4.5-6.7-4.5-6.8-4.4-7.1-4.5-7.1-4.5-7.3-4.5-7.5-4.4-7.6-4.5-7.8-4.5-7.8-4.5-8-4.5-8.2-4.4-8.2-4.5-8.3-4.5-8.5-4.5-8.4-4.5-8.6-4.4-8.6-4.5-8.6-4.5-8.7-4.5-8.6-4.5-8.6-4.4-8.6-4.5-8.5-4.5-8.4-4.5-8.3-4.4-8.1-4.5-7.9-4.5-7.7-4.5-7.4-4.5-7.2-4.4-6.8-4.5-6.4-4.5-6.1-4.5-5.5-4.5-5-4.4-4.5-4.5-3.9-4.5-3.2-4.5-2.4-4.4-1.7-4.5-.9-4.5 .1-4.5 1-4.5 2-4.4 3-4.5 4.2-4.5 5.4-4.5 6.6-4.5 7.9-2.8 5.7-2.9 6.2-2.9 6.9-2.8 7.4-2.9 7.9-2.9 8.6-2.8 9.1-2.9 9.7-2.9 10.3-2.8 10.8-2.9 11.4-2.9 12-2.8 12.5-2.9 13.1-2.9 13.5-2.8 14.1-2.9 14.5-2.9 14.9-2.8 15.3-2.9 15.6-2.9 15.9-2.8 16.1-2.9 16.2-2.8 16.3-2.9 16.3-2.9 16.1-2.8 16-2.9 15.5-2.9 15.1-2.8 14.5-1.7 7.7-1.6 7.5-1.6 7.2-1.6 6.8-1.6 6.4-1.6 6-1.6 5.5-1.6 5-1.7 4.4-1.6 3.7-1.6 3.1-1.6 2.4-1.6 1.5-1 0z" fill="#6dfe62"/>
<path d="M1193.1 787.3l1 0 1.6-1.5 1.6-2.4 1.6-3.1 1.6-3.7 1.7-4.4 1.6-5 1.6-5.5 1.6-6 1.6-6.4 1.6-6.8 1.6-7.2 1.6-7.5 1.7-7.7 2.8-14.5 2.9-15.1 2.9-15.5 2.8-16 2.9-16.1 2.9-16.3 2.8-16.3 2.9-16.2 2.8-16.1 2.9-15.9 2.9-15.6 2.8-15.3 2.9-14.9 2.9-14.5 2.8-14.1 2.9-13.5 2.9-13.1 2.8-12.5 2.9-12 2.9-11.4 2.8-10.8 2.9-10.3 2.9-9.7 2.8-9.1 2.9-8.6 2.9-7.9 2.8-7.4 2.9-6.9 2.9-6.2 2.8-5.7 4.5-7.9 4.5-6.6 4.5-5.4 4.5-4.2 4.4-3 4.5-2 4.5-1 4.5-.1 4.5 .9 4.4 1.7 4.5 2.4 4.5 3.2 4.5 3.9 4.4 4.5 4.5 5 4.5 5.5 4.5 6.1 4.5 6.4 4.4 6.8 4.5 7.2 4.5 7.4 4.5 7.7 4.5 7.9 4.4 8.1 4.5 8.3 4.5 8.4 4.5 8.5 4.4 8.6 4.5 8.6 4.5 8.6 4.5 8.7 4.5 8.6 4.4 8.6 4.5 8.6 4.5 8.4 4.5 8.5 4.5 8.3 4.4 8.2 4.5 8.2 4.5 8 4.5 7.8 4.5 7.8 4.4 7.6 4.5 7.5 4.5 7.3 4.5 7.1 4.4 7.1 4.5 6.8 4.5 6.7 4.5 6.5 4.5 6.4 4.4 6.2 4.5 6.1 4.5 5.8 4.5 5.8 4.5 5.5 8.9 10.7 9 10 8.9 9.4 9 8.9 8.9 8.3 9 7.7 9 7.2 8.9 6.7 9 6.3 8.9 5.8 9 5.4 8.9 5 9 4.6 9 4.3 8.9 4 9 3.6 8.9 3.4 9 3.1 8.9 2.9 9 2.6 17.9 4.6 17.9 3.9 17.9 3.3 18 2.7 17.9 2.3 17.9 1.9 17.9 1.6 17.9 1.3 17.9 1.1 18 .9 17.9 .8 17.9 .6 13.1 .4 1 0 0 .2-1 0-13.1-.4-17.9-.5-17.9-.7-18-.8-17.9-1.1-17.9-1.2-17.9-1.5-17.9-1.8-17.9-2.1-18-2.6-17.9-3.1-17.9-3.6-17.9-4.4-9-2.5-8.9-2.7-9-3-8.9-3.2-9-3.5-8.9-3.8-9-4.1-9-4.4-8.9-4.8-9-5.2-8.9-5.6-9-6.1-8.9-6.5-9-7-9-7.5-8.9-8.1-9-8.6-8.9-9.2-9-9.8-8.9-10.5-4.5-5.5-4.5-5.6-4.5-5.8-4.5-6-4.4-6.1-4.5-6.3-4.5-6.5-4.5-6.6-4.5-6.8-4.4-7-4.5-7.1-4.5-7.3-4.5-7.5-4.4-7.6-4.5-7.8-4.5-7.9-4.5-8-4.5-8.2-4.4-8.3-4.5-8.5-4.5-8.5-4.5-8.6-4.5-8.7-4.4-8.8-4.5-8.8-4.5-8.9-4.5-8.9-4.5-8.8-4.4-8.9-4.5-8.8-4.5-8.7-4.5-8.6-4.4-8.5-4.5-8.4-4.5-8.1-4.5-7.9-4.5-7.7-4.4-7.3-4.5-7-4.5-6.6-4.5-6.2-4.5-5.7-4.4-5.1-4.5-4.6-4.5-3.9-4.5-3.1-4.4-2.5-4.5-1.6-4.5-.7-4.5 .2-4.5 1.2-4.4 2.3-4.5 3.4-4.5 4.7-4.5 5.8-4.5 7.2-2.8 5.3-2.9 5.8-2.9 6.5-2.8 7-2.9 7.6-2.9 8.2-2.8 8.9-2.9 9.4-2.9 10.1-2.8 10.6-2.9 11.3-2.9 11.9-2.8 12.5-2.9 13-2.9 13.7-2.8 14.1-2.9 14.7-2.9 15.1-2.8 15.6-2.9 16-2.9 16.3-2.8 16.6-2.9 16.9-2.8 16.9-2.9 17-2.9 17-2.8 16.8-2.9 16.4-2.9 16.1-2.8 15.5-1.7 8.3-1.6 8.1-1.6 7.8-1.6 7.4-1.6 7-1.6 6.6-1.6 6.1-1.6 5.5-1.7 4.9-1.6 4.3-1.6 3.5-1.6 2.7-1.6 1.8-1 0z" fill="#75fe5c"/>
<path d="M1193.1 787.1l1 0 1.6-1.8 1.6-2.7 1.6-3.5 1.6-4.3 1.7-4.9 1.6-5.5 1.6-6.1 1.6-6.6 1.6-7 1.6-7.4 1.6-7.8 1.6-8.1 1.7-8.3 2.8-15.5 2.9-16.1 2.9-16.4 2.8-16.8 2.9-17 2.9-17 2.8-16.9 2.9-16.9 2.8-16.6 2.9-16.3 2.9-16 2.8-15.6 2.9-15.1 2.9-14.7 2.8-14.1 2.9-13.7 2.9-13 2.8-12.5 2.9-11.9 2.9-11.3 2.8-10.6 2.9-10.1 2.9-9.4 2.8-8.9 2.9-8.2 2.9-7.6 2.8-7 2.9-6.5 2.9-5.8 2.8-5.3 4.5-7.2 4.5-5.8 4.5-4.7 4.5-3.4 4.4-2.3 4.5-1.2 4.5-.2 4.5 .7 4.5 1.6 4.4 2.5 4.5 3.1 4.5 3.9 4.5 4.6 4.4 5.1 4.5 5.7 4.5 6.2 4.5 6.6 4.5 7 4.4 7.3 4.5 7.7 4.5 7.9 4.5 8.1 4.5 8.4 4.4 8.5 4.5 8.6 4.5 8.7 4.5 8.8 4.4 8.9 4.5 8.8 4.5 8.9 4.5 8.9 4.5 8.8 4.4 8.8 4.5 8.7 4.5 8.6 4.5 8.5 4.5 8.5 4.4 8.3 4.5 8.2 4.5 8 4.5 7.9 4.5 7.8 4.4 7.6 4.5 7.5 4.5 7.3 4.5 7.1 4.4 7 4.5 6.8 4.5 6.6 4.5 6.5 4.5 6.3 4.4 6.1 4.5 6 4.5 5.8 4.5 5.6 4.5 5.5 8.9 10.5 9 9.8 8.9 9.2 9 8.6 8.9 8.1 9 7.5 9 7 8.9 6.5 9 6.1 8.9 5.6 9 5.2 8.9 4.8 9 4.4 9 4.1 8.9 3.8 9 3.5 8.9 3.2 9 3 8.9 2.7 9 2.5 17.9 4.4 17.9 3.6 17.9 3.1 18 2.6 17.9 2.1 17.9 1.8 17.9 1.5 17.9 1.2 17.9 1.1 18 .8 17.9 .7 17.9 .5 13.1 .4 1 0 0-1.3-1 0-13.1-.5-17.9-.7-17.9-1-18-1.1-17.9-1.3-17.9-1.6-17.9-1.8-17.9-2.2-17.9-2.6-18-3-17.9-3.5-17.9-4.2-17.9-4.9-9-2.7-8.9-3-9-3.2-8.9-3.4-9-3.7-8.9-4-9-4.2-9-4.6-8.9-5-9-5.2-8.9-5.7-9-6.1-8.9-6.4-9-6.9-9-7.4-8.9-7.8-9-8.3-8.9-8.8-9-9.4-8.9-9.9-4.5-5.1-4.5-5.3-4.5-5.4-4.5-5.6-4.4-5.7-4.5-5.8-4.5-6-4.5-6.1-4.5-6.2-4.4-6.4-4.5-6.6-4.5-6.6-4.5-6.8-4.4-6.9-4.5-7-4.5-7.2-4.5-7.2-4.5-7.4-4.4-7.5-4.5-7.5-4.5-7.6-4.5-7.8-4.5-7.7-4.4-7.8-4.5-7.9-4.5-7.9-4.5-7.9-4.5-7.9-4.4-7.9-4.5-7.8-4.5-7.8-4.5-7.7-4.4-7.6-4.5-7.4-4.5-7.3-4.5-7.1-4.5-6.9-4.4-6.7-4.5-6.3-4.5-6.1-4.5-5.7-4.5-5.3-4.4-4.8-4.5-4.4-4.5-3.9-4.5-3.3-4.4-2.7-4.5-2-4.5-1.3-4.5-.5-4.5 .4-4.4 1.2-4.5 2.1-4.5 3.2-4.5 4.2-4.5 5.3-2.8 4.1-2.9 4.5-2.9 5-2.8 5.5-2.9 6.1-2.9 6.6-2.8 7.2-2.9 7.7-2.9 8.3-2.8 8.9-2.9 9.5-2.9 10-2.8 10.7-2.9 11.2-2.9 11.8-2.8 12.4-2.9 13-2.9 13.5-2.8 14-2.9 14.6-2.9 15-2.8 15.5-2.9 15.9-2.8 16.2-2.9 16.6-2.9 16.7-2.8 16.9-2.9 16.9-2.9 16.9-2.8 16.6-1.7 9.2-1.6 9.1-1.6 8.9-1.6 8.6-1.6 8.4-1.6 8-1.6 7.7-1.6 7.2-1.7 6.7-1.6 6-1.6 5.4-1.6 4.4-1.6 3.3-1 0z" fill="#80ff53"/>
<path d="M1193.1 786.1l1 0 1.6-3.3 1.6-4.4 1.6-5.4 1.6-6 1.7-6.7 1.6-7.2 1.6-7.7 1.6-8 1.6-8.4 1.6-8.6 1.6-8.9 1.6-9.1 1.7-9.2 2.8-16.6 2.9-16.9 2.9-16.9 2.8-16.9 2.9-16.7 2.9-16.6 2.8-16.2 2.9-15.9 2.8-15.5 2.9-15 2.9-14.6 2.8-14 2.9-13.5 2.9-13 2.8-12.4 2.9-11.8 2.9-11.2 2.8-10.7 2.9-10 2.9-9.5 2.8-8.9 2.9-8.3 2.9-7.7 2.8-7.2 2.9-6.6 2.9-6.1 2.8-5.5 2.9-5 2.9-4.5 2.8-4.1 4.5-5.3 4.5-4.2 4.5-3.2 4.5-2.1 4.4-1.2 4.5-.4 4.5 .5 4.5 1.3 4.5 2 4.4 2.7 4.5 3.3 4.5 3.9 4.5 4.4 4.4 4.8 4.5 5.3 4.5 5.7 4.5 6.1 4.5 6.3 4.4 6.7 4.5 6.9 4.5 7.1 4.5 7.3 4.5 7.4 4.4 7.6 4.5 7.7 4.5 7.8 4.5 7.8 4.4 7.9 4.5 7.9 4.5 7.9 4.5 7.9 4.5 7.9 4.4 7.8 4.5 7.7 4.5 7.8 4.5 7.6 4.5 7.5 4.4 7.5 4.5 7.4 4.5 7.2 4.5 7.2 4.5 7 4.4 6.9 4.5 6.8 4.5 6.6 4.5 6.6 4.4 6.4 4.5 6.2 4.5 6.1 4.5 6 4.5 5.8 4.4 5.7 4.5 5.6 4.5 5.4 4.5 5.3 4.5 5.1 8.9 9.9 9 9.4 8.9 8.8 9 8.3 8.9 7.8 9 7.4 9 6.9 8.9 6.4 9 6.1 8.9 5.7 9 5.2 8.9 5 9 4.6 9 4.2 8.9 4 9 3.7 8.9 3.4 9 3.2 8.9 3 9 2.7 17.9 4.9 17.9 4.2 17.9 3.5 18 3 17.9 2.6 17.9 2.2 17.9 1.8 17.9 1.6 17.9 1.3 18 1.1 17.9 1 17.9 .7 13.1 .5 1 0 0-.4-1 0-13.1-.5-17.9-.9-17.9-.9-18-1.2-17.9-1.4-17.9-1.5-17.9-1.9-17.9-2.2-17.9-2.6-18-3-17.9-3.5-17.9-4.1-17.9-4.7-9-2.7-8.9-2.9-9-3-8.9-3.3-9-3.6-8.9-3.8-9-4-9-4.4-8.9-4.7-9-5-8.9-5.3-9-5.7-8.9-6.1-9-6.5-9-6.9-8.9-7.3-9-7.8-8.9-8.3-9-8.7-8.9-9.3-4.5-4.8-4.5-4.9-4.5-5.1-4.5-5.2-4.4-5.3-4.5-5.5-4.5-5.6-4.5-5.7-4.5-5.8-4.4-6-4.5-6.1-4.5-6.3-4.5-6.4-4.4-6.5-4.5-6.6-4.5-6.7-4.5-6.9-4.5-6.9-4.4-7.1-4.5-7.2-4.5-7.2-4.5-7.4-4.5-7.4-4.4-7.5-4.5-7.6-4.5-7.6-4.5-7.7-4.5-7.7-4.4-7.7-4.5-7.7-4.5-7.7-4.5-7.6-4.4-7.6-4.5-7.5-4.5-7.4-4.5-7.3-4.5-7.2-4.4-7-4.5-6.8-4.5-6.5-4.5-6.3-4.5-6-4.4-5.6-4.5-5.3-4.5-4.8-4.5-4.4-4.4-3.9-4.5-3.4-4.5-2.7-4.5-2.1-4.5-1.4-4.4-.6-4.5 .3-4.5 1.1-4.5 2-4.5 3.1-2.8 2.5-2.9 3-2.9 3.4-2.8 4-2.9 4.4-2.9 5-2.8 5.5-2.9 6.1-2.9 6.7-2.8 7.2-2.9 7.8-2.9 8.5-2.8 9.1-2.9 9.7-2.9 10.4-2.8 11-2.9 11.7-2.9 12.4-2.8 13-2.9 13.7-2.9 14.4-2.8 15-2.9 15.6-2.8 16.3-2.9 16.8-2.9 17.3-2.8 17.8-2.9 18.2-2.9 18.6-2.8 18.8-1.7 10.6-1.6 10.6-1.6 10.5-1.6 10.5-1.6 10.4-1.6 10.3-1.6 10-1.6 9.7-1.7 9.3-1.6 8.9-1.6 8.1-1.6 7.3-1.6 6.1-1 0z" fill="#8bff4b"/>
<path d="M1193.1 783.8l1 0 1.6-6.1 1.6-7.3 1.6-8.1 1.6-8.9 1.7-9.3 1.6-9.7 1.6-10 1.6-10.3 1.6-10.4 1.6-10.5 1.6-10.5 1.6-10.6 1.7-10.6 2.8-18.8 2.9-18.6 2.9-18.2 2.8-17.8 2.9-17.3 2.9-16.8 2.8-16.3 2.9-15.6 2.8-15 2.9-14.4 2.9-13.7 2.8-13 2.9-12.4 2.9-11.7 2.8-11 2.9-10.4 2.9-9.7 2.8-9.1 2.9-8.5 2.9-7.8 2.8-7.2 2.9-6.7 2.9-6.1 2.8-5.5 2.9-5 2.9-4.4 2.8-4 2.9-3.4 2.9-3 2.8-2.5 4.5-3.1 4.5-2 4.5-1.1 4.5-.3 4.4 .6 4.5 1.4 4.5 2.1 4.5 2.7 4.5 3.4 4.4 3.9 4.5 4.4 4.5 4.8 4.5 5.3 4.4 5.6 4.5 6 4.5 6.3 4.5 6.5 4.5 6.8 4.4 7 4.5 7.2 4.5 7.3 4.5 7.4 4.5 7.5 4.4 7.6 4.5 7.6 4.5 7.7 4.5 7.7 4.4 7.7 4.5 7.7 4.5 7.7 4.5 7.6 4.5 7.6 4.4 7.5 4.5 7.4 4.5 7.4 4.5 7.2 4.5 7.2 4.4 7.1 4.5 6.9 4.5 6.9 4.5 6.7 4.5 6.6 4.4 6.5 4.5 6.4 4.5 6.3 4.5 6.1 4.4 6 4.5 5.8 4.5 5.7 4.5 5.6 4.5 5.5 4.4 5.3 4.5 5.2 4.5 5.1 4.5 4.9 4.5 4.8 8.9 9.3 9 8.7 8.9 8.3 9 7.8 8.9 7.3 9 6.9 9 6.5 8.9 6.1 9 5.7 8.9 5.3 9 5 8.9 4.7 9 4.4 9 4 8.9 3.8 9 3.6 8.9 3.3 9 3 8.9 2.9 9 2.7 17.9 4.7 17.9 4.1 17.9 3.5 18 3 17.9 2.6 17.9 2.2 17.9 1.9 17.9 1.5 17.9 1.4 18 1.2 17.9 .9 17.9 .9 13.1 .5 1 0 0 0-1 0-13.1-.5-17.9-.8-17.9-.9-18-1.1-17.9-1.3-17.9-1.6-17.9-1.8-17.9-2.1-17.9-2.5-18-2.8-17.9-3.4-17.9-3.9-17.9-4.5-9-2.5-8.9-2.7-9-3-8.9-3.1-9-3.4-8.9-3.6-9-3.8-9-4.2-8.9-4.4-9-4.8-8.9-5.1-9-5.4-8.9-5.8-9-6.2-9-6.6-8.9-7-9-7.4-8.9-7.9-9-8.3-8.9-8.9-4.5-4.6-4.5-4.7-4.5-4.9-4.5-5-4.4-5.1-4.5-5.3-4.5-5.3-4.5-5.6-4.5-5.6-4.4-5.8-4.5-5.9-4.5-6.1-4.5-6.2-4.4-6.3-4.5-6.4-4.5-6.6-4.5-6.7-4.5-6.8-4.4-6.9-4.5-7.1-4.5-7.1-4.5-7.3-4.5-7.4-4.4-7.4-4.5-7.5-4.5-7.6-4.5-7.7-4.5-7.7-4.4-7.8-4.5-7.7-4.5-7.8-4.5-7.8-4.4-7.8-4.5-7.8-4.5-7.6-4.5-7.7-4.5-7.5-4.4-7.4-4.5-7.2-4.5-7.1-4.5-6.8-4.5-6.6-4.4-6.4-4.5-6-4.5-5.7-4.5-5.2-4.4-4.9-4.5-4.4-4.5-3.8-4.5-3.2-4.5-2.6-4.4-2-4.5-1.1-4.5-.4-4.5 .6-4.5 1.5-2.8 1.5-2.9 1.9-2.9 2.4-2.8 2.9-2.9 3.3-2.9 3.9-2.8 4.4-2.9 5-2.9 5.5-2.8 6.2-2.9 6.8-2.9 7.4-2.8 8-2.9 8.8-2.9 9.4-2.8 10.1-2.9 10.9-2.9 11.6-2.8 12.4-2.9 13.1-2.9 13.9-2.8 14.7-2.9 15.4-2.8 16.2-2.9 17-2.9 17.7-2.8 18.4-2.9 19.1-2.9 19.7-2.8 20.2-1.7 11.6-1.6 11.7-1.6 11.8-1.6 11.8-1.6 11.9-1.6 11.8-1.6 11.8-1.6 11.6-1.7 11.4-1.6 11.1-1.6 10.6-1.6 9.8-1.6 8.6-1 0z" fill="#92ff47"/>
<path d="M1193.1 781.2l1 0 1.6-8.6 1.6-9.8 1.6-10.6 1.6-11.1 1.7-11.4 1.6-11.6 1.6-11.8 1.6-11.8 1.6-11.9 1.6-11.8 1.6-11.8 1.6-11.7 1.7-11.6 2.8-20.2 2.9-19.7 2.9-19.1 2.8-18.4 2.9-17.7 2.9-17 2.8-16.2 2.9-15.4 2.8-14.7 2.9-13.9 2.9-13.1 2.8-12.4 2.9-11.6 2.9-10.9 2.8-10.1 2.9-9.4 2.9-8.8 2.8-8 2.9-7.4 2.9-6.8 2.8-6.2 2.9-5.5 2.9-5 2.8-4.4 2.9-3.9 2.9-3.3 2.8-2.9 2.9-2.4 2.9-1.9 2.8-1.5 4.5-1.5 4.5-.6 4.5 .4 4.5 1.1 4.4 2 4.5 2.6 4.5 3.2 4.5 3.8 4.5 4.4 4.4 4.9 4.5 5.2 4.5 5.7 4.5 6 4.4 6.4 4.5 6.6 4.5 6.8 4.5 7.1 4.5 7.2 4.4 7.4 4.5 7.5 4.5 7.7 4.5 7.6 4.5 7.8 4.4 7.8 4.5 7.8 4.5 7.8 4.5 7.7 4.4 7.8 4.5 7.7 4.5 7.7 4.5 7.6 4.5 7.5 4.4 7.4 4.5 7.4 4.5 7.3 4.5 7.1 4.5 7.1 4.4 6.9 4.5 6.8 4.5 6.7 4.5 6.6 4.5 6.4 4.4 6.3 4.5 6.2 4.5 6.1 4.5 5.9 4.4 5.8 4.5 5.6 4.5 5.6 4.5 5.3 4.5 5.3 4.4 5.1 4.5 5 4.5 4.9 4.5 4.7 4.5 4.6 8.9 8.9 9 8.3 8.9 7.9 9 7.4 8.9 7 9 6.6 9 6.2 8.9 5.8 9 5.4 8.9 5.1 9 4.8 8.9 4.4 9 4.2 9 3.8 8.9 3.6 9 3.4 8.9 3.1 9 3 8.9 2.7 9 2.5 17.9 4.5 17.9 3.9 17.9 3.4 18 2.8 17.9 2.5 17.9 2.1 17.9 1.8 17.9 1.6 17.9 1.3 18 1.1 17.9 .9 17.9 .8 13.1 .5 1 0 0 0-1 0-13.1-.5-17.9-.8-17.9-1-18-1.1-17.9-1.3-17.9-1.6-17.9-1.8-17.9-2.1-17.9-2.5-18-2.8-17.9-3.4-17.9-3.9-17.9-4.5-9-2.5-8.9-2.7-9-3-8.9-3.1-9-3.4-8.9-3.6-9-3.8-9-4.2-8.9-4.4-9-4.7-8.9-5.1-9-5.4-8.9-5.8-9-6.2-9-6.5-8.9-7-9-7.4-8.9-7.8-9-8.4-8.9-8.8-4.5-4.5-4.5-4.8-4.5-4.8-4.5-5-4.4-5.1-4.5-5.2-4.5-5.4-4.5-5.5-4.5-5.6-4.4-5.7-4.5-5.9-4.5-6.1-4.5-6.1-4.4-6.3-4.5-6.4-4.5-6.6-4.5-6.6-4.5-6.8-4.4-6.9-4.5-7-4.5-7.1-4.5-7.3-4.5-7.3-4.4-7.4-4.5-7.5-4.5-7.6-4.5-7.6-4.5-7.7-4.4-7.7-4.5-7.8-4.5-7.7-4.5-7.8-4.4-7.8-4.5-7.7-4.5-7.7-4.5-7.6-4.5-7.5-4.4-7.4-4.5-7.2-4.5-7.1-4.5-6.8-4.5-6.7-4.4-6.3-4.5-6.1-4.5-5.7-4.5-5.3-4.4-4.9-4.5-4.4-4.5-3.9-4.5-3.4-4.5-2.7-4.4-2-4.5-1.2-4.5-.5-4.5 .4-4.5 1.4-2.8 1.4-2.9 1.9-2.9 2.2-2.8 2.8-2.9 3.3-2.9 3.7-2.8 4.3-2.9 4.9-2.9 5.4-2.8 6-2.9 6.7-2.9 7.3-2.8 7.9-2.9 8.6-2.9 9.3-2.8 10-2.9 10.8-2.9 11.5-2.8 12.2-2.9 13-2.9 13.8-2.8 14.6-2.9 15.4-2.8 16.1-2.9 16.9-2.9 17.7-2.8 18.4-2.9 19.1-2.9 19.7-2.8 20.3-1.7 11.6-1.6 11.8-1.6 11.9-1.6 11.9-1.6 12-1.6 12-1.6 11.9-1.6 11.8-1.7 11.6-1.6 11.3-1.6 10.8-1.6 10.1-1.6 9-1 0z" fill="#9cfe40"/>
<path d="M1193.1 780.9l1 0 1.6-9 1.6-10.1 1.6-10.8 1.6-11.3 1.7-11.6 1.6-11.8 1.6-11.9 1.6-12 1.6-12 1.6-11.9 1.6-11.9 1.6-11.8 1.7-11.6 2.8-20.3 2.9-19.7 2.9-19.1 2.8-18.4 2.9-17.7 2.9-16.9 2.8-16.1 2.9-15.4 2.8-14.6 2.9-13.8 2.9-13 2.8-12.2 2.9-11.5 2.9-10.8 2.8-10 2.9-9.3 2.9-8.6 2.8-7.9 2.9-7.3 2.9-6.7 2.8-6 2.9-5.4 2.9-4.9 2.8-4.3 2.9-3.7 2.9-3.3 2.8-2.8 2.9-2.2 2.9-1.9 2.8-1.4 4.5-1.4 4.5-.4 4.5 .5 4.5 1.2 4.4 2 4.5 2.7 4.5 3.4 4.5 3.9 4.5 4.4 4.4 4.9 4.5 5.3 4.5 5.7 4.5 6.1 4.4 6.3 4.5 6.7 4.5 6.8 4.5 7.1 4.5 7.2 4.4 7.4 4.5 7.5 4.5 7.6 4.5 7.7 4.5 7.7 4.4 7.8 4.5 7.8 4.5 7.7 4.5 7.8 4.4 7.7 4.5 7.7 4.5 7.6 4.5 7.6 4.5 7.5 4.4 7.4 4.5 7.3 4.5 7.3 4.5 7.1 4.5 7 4.4 6.9 4.5 6.8 4.5 6.6 4.5 6.6 4.5 6.4 4.4 6.3 4.5 6.1 4.5 6.1 4.5 5.9 4.4 5.7 4.5 5.6 4.5 5.5 4.5 5.4 4.5 5.2 4.4 5.1 4.5 5 4.5 4.8 4.5 4.8 4.5 4.5 8.9 8.8 9 8.4 8.9 7.8 9 7.4 8.9 7 9 6.5 9 6.2 8.9 5.8 9 5.4 8.9 5.1 9 4.7 8.9 4.4 9 4.2 9 3.8 8.9 3.6 9 3.4 8.9 3.1 9 3 8.9 2.7 9 2.5 17.9 4.5 17.9 3.9 17.9 3.4 18 2.8 17.9 2.5 17.9 2.1 17.9 1.8 17.9 1.6 17.9 1.3 18 1.1 17.9 1 17.9 .8 13.1 .5 1 0 0 .5-1 0-13.1-.5-17.9-.7-17.9-.9-18-1.1-17.9-1.2-17.9-1.5-17.9-1.8-17.9-2.1-17.9-2.5-18-2.9-17.9-3.4-17.9-4-17.9-4.6-9-2.6-8.9-2.9-9-3-8.9-3.3-9-3.5-8.9-3.9-9-4.1-9-4.4-8.9-4.7-9-5.1-8.9-5.4-9-5.8-8.9-6.2-9-6.6-9-7.1-8.9-7.6-9-8-8.9-8.5-9-9-8.9-9.6-4.5-5-4.5-5.1-4.5-5.3-4.5-5.4-4.4-5.5-4.5-5.7-4.5-5.8-4.5-6-4.5-6.1-4.4-6.2-4.5-6.4-4.5-6.5-4.5-6.7-4.4-6.8-4.5-6.9-4.5-7-4.5-7.2-4.5-7.3-4.4-7.4-4.5-7.5-4.5-7.6-4.5-7.6-4.5-7.8-4.4-7.8-4.5-7.9-4.5-8-4.5-7.9-4.5-8-4.4-8-4.5-8-4.5-8-4.5-7.9-4.4-7.8-4.5-7.7-4.5-7.7-4.5-7.4-4.5-7.3-4.4-7.1-4.5-6.9-4.5-6.6-4.5-6.2-4.5-6-4.4-5.5-4.5-5.1-4.5-4.7-4.5-4.1-4.4-3.5-4.5-3-4.5-2.2-4.5-1.5-4.5-.8-4.4 .1-4.5 1.1-4.5 1.9-4.5 3-4.5 4.1-2.8 3.3-2.9 3.7-2.9 4.2-2.8 4.8-2.9 5.2-2.9 5.9-2.8 6.4-2.9 6.9-2.9 7.6-2.8 8.2-2.9 8.8-2.9 9.4-2.8 10-2.9 10.7-2.9 11.3-2.8 12-2.9 12.6-2.9 13.2-2.8 13.9-2.9 14.4-2.9 15.1-2.8 15.6-2.9 16.1-2.8 16.6-2.9 17.1-2.9 17.5-2.8 17.7-2.9 18-2.9 18.1-2.8 18-1.7 10.1-1.6 10-1.6 9.9-1.6 9.7-1.6 9.5-1.6 9.3-1.6 8.9-1.6 8.5-1.7 8-1.6 7.4-1.6 6.6-1.6 5.7-1.6 4.5-1 0z" fill="#a4fc3c"/>
<path d="M1193.1 785.2l1 0 1.6-4.5 1.6-5.7 1.6-6.6 1.6-7.4 1.7-8 1.6-8.5 1.6-8.9 1.6-9.3 1.6-9.5 1.6-9.7 1.6-9.9 1.6-10 1.7-10.1 2.8-18 2.9-18.1 2.9-18 2.8-17.7 2.9-17.5 2.9-17.1 2.8-16.6 2.9-16.1 2.8-15.6 2.9-15.1 2.9-14.4 2.8-13.9 2.9-13.2 2.9-12.6 2.8-12 2.9-11.3 2.9-10.7 2.8-10 2.9-9.4 2.9-8.8 2.8-8.2 2.9-7.6 2.9-6.9 2.8-6.4 2.9-5.9 2.9-5.2 2.8-4.8 2.9-4.2 2.9-3.7 2.8-3.3 4.5-4.1 4.5-3 4.5-1.9 4.5-1.1 4.4-.1 4.5 .8 4.5 1.5 4.5 2.2 4.5 3 4.4 3.5 4.5 4.1 4.5 4.7 4.5 5.1 4.4 5.5 4.5 6 4.5 6.2 4.5 6.6 4.5 6.9 4.4 7.1 4.5 7.3 4.5 7.4 4.5 7.7 4.5 7.7 4.4 7.8 4.5 7.9 4.5 8 4.5 8 4.4 8 4.5 8 4.5 7.9 4.5 8 4.5 7.9 4.4 7.8 4.5 7.8 4.5 7.6 4.5 7.6 4.5 7.5 4.4 7.4 4.5 7.3 4.5 7.2 4.5 7 4.5 6.9 4.4 6.8 4.5 6.7 4.5 6.5 4.5 6.4 4.4 6.2 4.5 6.1 4.5 6 4.5 5.8 4.5 5.7 4.4 5.5 4.5 5.4 4.5 5.3 4.5 5.1 4.5 5 8.9 9.6 9 9 8.9 8.5 9 8 8.9 7.6 9 7.1 9 6.6 8.9 6.2 9 5.8 8.9 5.4 9 5.1 8.9 4.7 9 4.4 9 4.1 8.9 3.9 9 3.5 8.9 3.3 9 3 8.9 2.9 9 2.6 17.9 4.6 17.9 4 17.9 3.4 18 2.9 17.9 2.5 17.9 2.1 17.9 1.8 17.9 1.5 17.9 1.2 18 1.1 17.9 .9 17.9 .7 13.1 .5 1 0 0 .3-1 0-13.1-.4-17.9-.7-17.9-.9-18-.9-17.9-1.2-17.9-1.4-17.9-1.7-17.9-2-17.9-2.3-18-2.8-17.9-3.2-17.9-3.8-17.9-4.5-9-2.5-8.9-2.7-9-3-8.9-3.2-9-3.4-8.9-3.7-9-3.9-9-4.3-8.9-4.6-9-5-8.9-5.3-9-5.6-8.9-6.1-9-6.5-9-7-8.9-7.4-9-7.9-8.9-8.4-9-9-8.9-9.5-4.5-4.9-4.5-5.1-4.5-5.2-4.5-5.4-4.4-5.5-4.5-5.7-4.5-5.8-4.5-6-4.5-6.1-4.4-6.3-4.5-6.4-4.5-6.5-4.5-6.7-4.4-6.8-4.5-7-4.5-7.1-4.5-7.2-4.5-7.4-4.4-7.5-4.5-7.6-4.5-7.7-4.5-7.8-4.5-7.9-4.4-8-4.5-8.1-4.5-8.1-4.5-8.1-4.5-8.2-4.4-8.3-4.5-8.2-4.5-8.2-4.5-8.2-4.4-8.1-4.5-8-4.5-8-4.5-7.8-4.5-7.6-4.4-7.5-4.5-7.2-4.5-7-4.5-6.7-4.5-6.3-4.4-6-4.5-5.6-4.5-5-4.5-4.6-4.4-4-4.5-3.5-4.5-2.7-4.5-2-4.5-1.2-4.4-.4-4.5 .6-4.5 1.5-4.5 2.6-4.5 3.6-2.8 3-2.9 3.5-2.9 3.9-2.8 4.6-2.9 5-2.9 5.7-2.8 6.2-2.9 6.8-2.9 7.4-2.8 8.1-2.9 8.7-2.9 9.3-2.8 10-2.9 10.7-2.9 11.4-2.8 12-2.9 12.7-2.9 13.3-2.8 14-2.9 14.7-2.9 15.3-2.8 15.9-2.9 16.5-2.8 17-2.9 17.5-2.9 17.9-2.8 18.3-2.9 18.6-2.9 18.7-2.8 18.7-1.7 10.5-1.6 10.4-1.6 10.3-1.6 10.2-1.6 9.9-1.6 9.7-1.6 9.3-1.6 9-1.7 8.4-1.6 7.8-1.6 7.1-1.6 6.1-1.6 4.8-1 0z" fill="#a9fb39"/>
<path d="M1193.1 785l1 0 1.6-4.8 1.6-6.1 1.6-7.1 1.6-7.8 1.7-8.4 1.6-9 1.6-9.3 1.6-9.7 1.6-9.9 1.6-10.2 1.6-10.3 1.6-10.4 1.7-10.5 2.8-18.7 2.9-18.7 2.9-18.6 2.8-18.3 2.9-17.9 2.9-17.5 2.8-17 2.9-16.5 2.8-15.9 2.9-15.3 2.9-14.7 2.8-14 2.9-13.3 2.9-12.7 2.8-12 2.9-11.4 2.9-10.7 2.8-10 2.9-9.3 2.9-8.7 2.8-8.1 2.9-7.4 2.9-6.8 2.8-6.2 2.9-5.7 2.9-5 2.8-4.6 2.9-3.9 2.9-3.5 2.8-3 4.5-3.6 4.5-2.6 4.5-1.5 4.5-.6 4.4 .4 4.5 1.2 4.5 2 4.5 2.7 4.5 3.5 4.4 4 4.5 4.6 4.5 5 4.5 5.6 4.4 6 4.5 6.3 4.5 6.7 4.5 7 4.5 7.2 4.4 7.5 4.5 7.6 4.5 7.8 4.5 8 4.5 8 4.4 8.1 4.5 8.2 4.5 8.2 4.5 8.2 4.4 8.3 4.5 8.2 4.5 8.1 4.5 8.1 4.5 8.1 4.4 8 4.5 7.9 4.5 7.8 4.5 7.7 4.5 7.6 4.4 7.5 4.5 7.4 4.5 7.2 4.5 7.1 4.5 7 4.4 6.8 4.5 6.7 4.5 6.5 4.5 6.4 4.4 6.3 4.5 6.1 4.5 6 4.5 5.8 4.5 5.7 4.4 5.5 4.5 5.4 4.5 5.2 4.5 5.1 4.5 4.9 8.9 9.5 9 9 8.9 8.4 9 7.9 8.9 7.4 9 7 9 6.5 8.9 6.1 9 5.6 8.9 5.3 9 5 8.9 4.6 9 4.3 9 3.9 8.9 3.7 9 3.4 8.9 3.2 9 3 8.9 2.7 9 2.5 17.9 4.5 17.9 3.8 17.9 3.2 18 2.8 17.9 2.3 17.9 2 17.9 1.7 17.9 1.4 17.9 1.2 18 .9 17.9 .9 17.9 .7 13.1 .4 1 0 0 0-1 0-13.1-.4-17.9-.7-17.9-.9-18-1-17.9-1.2-17.9-1.4-17.9-1.7-17.9-2-17.9-2.4-18-2.8-17.9-3.3-17.9-3.9-17.9-4.5-9-2.6-8.9-2.8-9-3-8.9-3.2-9-3.5-8.9-3.7-9-4.1-9-4.4-8.9-4.7-9-5-8.9-5.4-9-5.8-8.9-6.2-9-6.6-9-7.1-8.9-7.6-9-8-8.9-8.6-9-9.1-8.9-9.7-4.5-5-4.5-5.2-4.5-5.3-4.5-5.5-4.4-5.6-4.5-5.7-4.5-5.9-4.5-6.1-4.5-6.2-4.4-6.3-4.5-6.5-4.5-6.6-4.5-6.8-4.4-6.9-4.5-7.1-4.5-7.1-4.5-7.3-4.5-7.5-4.4-7.5-4.5-7.7-4.5-7.7-4.5-7.9-4.5-7.9-4.4-8-4.5-8.1-4.5-8.1-4.5-8.2-4.5-8.2-4.4-8.2-4.5-8.2-4.5-8.1-4.5-8.1-4.4-8.1-4.5-7.9-4.5-7.8-4.5-7.7-4.5-7.5-4.4-7.3-4.5-7-4.5-6.7-4.5-6.5-4.5-6.1-4.4-5.6-4.5-5.3-4.5-4.7-4.5-4.2-4.4-3.6-4.5-3-4.5-2.2-4.5-1.6-4.5-.7-4.4 .2-4.5 1.2-4.5 2.1-4.5 3.2-4.5 4.3-2.8 3.4-2.9 3.8-2.9 4.5-2.8 4.9-2.9 5.5-2.9 6.1-2.8 6.6-2.9 7.2-2.9 7.9-2.8 8.5-2.9 9-2.9 9.8-2.8 10.3-2.9 11-2.9 11.7-2.8 12.3-2.9 12.9-2.9 13.6-2.8 14.2-2.9 14.8-2.9 15.4-2.8 15.9-2.9 16.4-2.8 16.9-2.9 17.3-2.9 17.7-2.8 17.9-2.9 18.1-2.9 18.1-2.8 18-1.7 10.1-1.6 9.9-1.6 9.8-1.6 9.6-1.6 9.3-1.6 9.1-1.6 8.7-1.6 8.2-1.7 7.7-1.6 7.1-1.6 6.3-1.6 5.4-1.6 4.1-1 0z" fill="#b1f936"/>
<path d="M1193.1 785.5l1 0 1.6-4.1 1.6-5.4 1.6-6.3 1.6-7.1 1.7-7.7 1.6-8.2 1.6-8.7 1.6-9.1 1.6-9.3 1.6-9.6 1.6-9.8 1.6-9.9 1.7-10.1 2.8-18 2.9-18.1 2.9-18.1 2.8-17.9 2.9-17.7 2.9-17.3 2.8-16.9 2.9-16.4 2.8-15.9 2.9-15.4 2.9-14.8 2.8-14.2 2.9-13.6 2.9-12.9 2.8-12.3 2.9-11.7 2.9-11 2.8-10.3 2.9-9.8 2.9-9 2.8-8.5 2.9-7.9 2.9-7.2 2.8-6.6 2.9-6.1 2.9-5.5 2.8-4.9 2.9-4.5 2.9-3.8 2.8-3.4 4.5-4.3 4.5-3.2 4.5-2.1 4.5-1.2 4.4-.2 4.5 .7 4.5 1.6 4.5 2.2 4.5 3 4.4 3.6 4.5 4.2 4.5 4.7 4.5 5.3 4.4 5.6 4.5 6.1 4.5 6.5 4.5 6.7 4.5 7 4.4 7.3 4.5 7.5 4.5 7.7 4.5 7.8 4.5 7.9 4.4 8.1 4.5 8.1 4.5 8.1 4.5 8.2 4.4 8.2 4.5 8.2 4.5 8.2 4.5 8.1 4.5 8.1 4.4 8 4.5 7.9 4.5 7.9 4.5 7.7 4.5 7.7 4.4 7.5 4.5 7.5 4.5 7.3 4.5 7.1 4.5 7.1 4.4 6.9 4.5 6.8 4.5 6.6 4.5 6.5 4.4 6.3 4.5 6.2 4.5 6.1 4.5 5.9 4.5 5.7 4.4 5.6 4.5 5.5 4.5 5.3 4.5 5.2 4.5 5 8.9 9.7 9 9.1 8.9 8.6 9 8 8.9 7.6 9 7.1 9 6.6 8.9 6.2 9 5.8 8.9 5.4 9 5 8.9 4.7 9 4.4 9 4.1 8.9 3.7 9 3.5 8.9 3.2 9 3 8.9 2.8 9 2.6 17.9 4.5 17.9 3.9 17.9 3.3 18 2.8 17.9 2.4 17.9 2 17.9 1.7 17.9 1.4 17.9 1.2 18 1 17.9 .9 17.9 .7 13.1 .4 1 0 0 .3-1 0-13.1-.4-17.9-.7-17.9-.8-18-.9-17.9-1.2-17.9-1.3-17.9-1.7-17.9-1.9-17.9-2.4-18-2.7-17.9-3.3-17.9-3.9-17.9-4.5-9-2.6-8.9-2.8-9-3-8.9-3.3-9-3.5-8.9-3.8-9-4.2-9-4.4-8.9-4.8-9-5.2-8.9-5.5-9-6-8.9-6.4-9-6.8-9-7.3-8.9-7.8-9-8.4-8.9-8.9-9-9.4-8.9-10-4.5-5.3-4.5-5.3-4.5-5.6-4.5-5.7-4.4-5.8-4.5-6-4.5-6.1-4.5-6.3-4.5-6.5-4.4-6.6-4.5-6.7-4.5-6.9-4.5-7.1-4.4-7.1-4.5-7.4-4.5-7.4-4.5-7.6-4.5-7.7-4.4-7.9-4.5-7.9-4.5-8-4.5-8.1-4.5-8.2-4.4-8.3-4.5-8.3-4.5-8.4-4.5-8.4-4.5-8.4-4.4-8.4-4.5-8.3-4.5-8.3-4.5-8.3-4.4-8.1-4.5-8-4.5-7.8-4.5-7.7-4.5-7.4-4.4-7.2-4.5-6.9-4.5-6.5-4.5-6.2-4.5-5.8-4.4-5.3-4.5-4.8-4.5-4.2-4.5-3.7-4.4-2.9-4.5-2.3-4.5-1.5-4.5-.6-4.5 .2-4.4 1.2-4.5 2.3-4.5 3.3-4.5 4.4-4.5 5.6-2.8 4.3-2.9 4.8-2.9 5.3-2.8 5.9-2.9 6.4-2.9 7.1-2.8 7.6-2.9 8.2-2.9 8.8-2.8 9.5-2.9 10-2.9 10.7-2.8 11.3-2.9 11.9-2.9 12.5-2.8 13.1-2.9 13.7-2.9 14.2-2.8 14.8-2.9 15.3-2.9 15.7-2.8 16.2-2.9 16.6-2.8 16.8-2.9 17.1-2.9 17.3-2.8 17.4-2.9 17.3-2.9 17.1-2.8 16.8-1.7 9.2-1.6 9-1.6 8.9-1.6 8.5-1.6 8.2-1.6 7.8-1.6 7.4-1.6 6.9-1.7 6.4-1.6 5.6-1.6 4.9-1.6 4-1.6 2.9-1 0z" fill="#b7f735"/>
<path d="M1193.1 786.5l1 0 1.6-2.9 1.6-4 1.6-4.9 1.6-5.6 1.7-6.4 1.6-6.9 1.6-7.4 1.6-7.8 1.6-8.2 1.6-8.5 1.6-8.9 1.6-9 1.7-9.2 2.8-16.8 2.9-17.1 2.9-17.3 2.8-17.4 2.9-17.3 2.9-17.1 2.8-16.8 2.9-16.6 2.8-16.2 2.9-15.7 2.9-15.3 2.8-14.8 2.9-14.2 2.9-13.7 2.8-13.1 2.9-12.5 2.9-11.9 2.8-11.3 2.9-10.7 2.9-10 2.8-9.5 2.9-8.8 2.9-8.2 2.8-7.6 2.9-7.1 2.9-6.4 2.8-5.9 2.9-5.3 2.9-4.8 2.8-4.3 4.5-5.6 4.5-4.4 4.5-3.3 4.5-2.3 4.4-1.2 4.5-.2 4.5 .6 4.5 1.5 4.5 2.3 4.4 2.9 4.5 3.7 4.5 4.2 4.5 4.8 4.4 5.3 4.5 5.8 4.5 6.2 4.5 6.5 4.5 6.9 4.4 7.2 4.5 7.4 4.5 7.7 4.5 7.8 4.5 8 4.4 8.1 4.5 8.3 4.5 8.3 4.5 8.3 4.4 8.4 4.5 8.4 4.5 8.4 4.5 8.4 4.5 8.3 4.4 8.3 4.5 8.2 4.5 8.1 4.5 8 4.5 7.9 4.4 7.9 4.5 7.7 4.5 7.6 4.5 7.4 4.5 7.4 4.4 7.1 4.5 7.1 4.5 6.9 4.5 6.7 4.4 6.6 4.5 6.5 4.5 6.3 4.5 6.1 4.5 6 4.4 5.8 4.5 5.7 4.5 5.6 4.5 5.3 4.5 5.3 8.9 10 9 9.4 8.9 8.9 9 8.4 8.9 7.8 9 7.3 9 6.8 8.9 6.4 9 6 8.9 5.5 9 5.2 8.9 4.8 9 4.4 9 4.2 8.9 3.8 9 3.5 8.9 3.3 9 3 8.9 2.8 9 2.6 17.9 4.5 17.9 3.9 17.9 3.3 18 2.7 17.9 2.4 17.9 1.9 17.9 1.7 17.9 1.3 17.9 1.2 18 .9 17.9 .8 17.9 .7 13.1 .4 1 0 0-.1-1 0-13.1-.4-17.9-.7-17.9-.8-18-1-17.9-1.1-17.9-1.4-17.9-1.7-17.9-2-17.9-2.4-18-2.8-17.9-3.3-17.9-4-17.9-4.6-9-2.6-8.9-2.8-9-3.1-8.9-3.3-9-3.6-8.9-3.9-9-4.1-9-4.5-8.9-4.9-9-5.2-8.9-5.6-9-6-8.9-6.4-9-6.9-9-7.4-8.9-7.9-9-8.4-8.9-8.9-9-9.5-8.9-10.1-4.5-5.2-4.5-5.4-4.5-5.6-4.5-5.7-4.4-5.8-4.5-6-4.5-6.2-4.5-6.3-4.5-6.4-4.4-6.6-4.5-6.8-4.5-6.9-4.5-7-4.4-7.2-4.5-7.3-4.5-7.4-4.5-7.6-4.5-7.7-4.4-7.8-4.5-7.9-4.5-8-4.5-8-4.5-8.2-4.4-8.2-4.5-8.3-4.5-8.3-4.5-8.3-4.5-8.3-4.4-8.3-4.5-8.3-4.5-8.2-4.5-8.1-4.4-8.1-4.5-7.8-4.5-7.8-4.5-7.5-4.5-7.3-4.4-7-4.5-6.8-4.5-6.4-4.5-6-4.5-5.6-4.4-5.1-4.5-4.7-4.5-4-4.5-3.5-4.4-2.7-4.5-2.1-4.5-1.3-4.5-.4-4.5 .4-4.4 1.4-4.5 2.4-4.5 3.5-4.5 4.6-4.5 5.8-2.8 4.4-2.9 4.9-2.9 5.4-2.8 6-2.9 6.5-2.9 7.1-2.8 7.7-2.9 8.3-2.9 8.9-2.8 9.5-2.9 10.1-2.9 10.7-2.8 11.3-2.9 11.9-2.9 12.5-2.8 13-2.9 13.7-2.9 14.2-2.8 14.7-2.9 15.2-2.9 15.6-2.8 16.1-2.9 16.4-2.8 16.7-2.9 17-2.9 17-2.8 17.2-2.9 17-2.9 16.9-2.8 16.5-1.7 9.1-1.6 8.9-1.6 8.6-1.6 8.4-1.6 8-1.6 7.7-1.6 7.2-1.6 6.8-1.7 6.1-1.6 5.6-1.6 4.7-1.6 3.8-1.6 2.8-1 0z" fill="#bef434"/>
<path d="M1193.1 786.5l1 0 1.6-2.8 1.6-3.8 1.6-4.7 1.6-5.6 1.7-6.1 1.6-6.8 1.6-7.2 1.6-7.7 1.6-8 1.6-8.4 1.6-8.6 1.6-8.9 1.7-9.1 2.8-16.5 2.9-16.9 2.9-17 2.8-17.2 2.9-17 2.9-17 2.8-16.7 2.9-16.4 2.8-16.1 2.9-15.6 2.9-15.2 2.8-14.7 2.9-14.2 2.9-13.7 2.8-13 2.9-12.5 2.9-11.9 2.8-11.3 2.9-10.7 2.9-10.1 2.8-9.5 2.9-8.9 2.9-8.3 2.8-7.7 2.9-7.1 2.9-6.5 2.8-6 2.9-5.4 2.9-4.9 2.8-4.4 4.5-5.8 4.5-4.6 4.5-3.5 4.5-2.4 4.4-1.4 4.5-.4 4.5 .4 4.5 1.3 4.5 2.1 4.4 2.7 4.5 3.5 4.5 4 4.5 4.7 4.4 5.1 4.5 5.6 4.5 6 4.5 6.4 4.5 6.8 4.4 7 4.5 7.3 4.5 7.5 4.5 7.8 4.5 7.8 4.4 8.1 4.5 8.1 4.5 8.2 4.5 8.3 4.4 8.3 4.5 8.3 4.5 8.3 4.5 8.3 4.5 8.3 4.4 8.2 4.5 8.2 4.5 8 4.5 8 4.5 7.9 4.4 7.8 4.5 7.7 4.5 7.6 4.5 7.4 4.5 7.3 4.4 7.2 4.5 7 4.5 6.9 4.5 6.8 4.4 6.6 4.5 6.4 4.5 6.3 4.5 6.2 4.5 6 4.4 5.8 4.5 5.7 4.5 5.6 4.5 5.4 4.5 5.2 8.9 10.1 9 9.5 8.9 8.9 9 8.4 8.9 7.9 9 7.4 9 6.9 8.9 6.4 9 6 8.9 5.6 9 5.2 8.9 4.9 9 4.5 9 4.1 8.9 3.9 9 3.6 8.9 3.3 9 3.1 8.9 2.8 9 2.6 17.9 4.6 17.9 4 17.9 3.3 18 2.8 17.9 2.4 17.9 2 17.9 1.7 17.9 1.4 17.9 1.1 18 1 17.9 .8 17.9 .7 13.1 .4 1 0 0 .5-1 0-13.1-.3-17.9-.6-17.9-.8-18-.9-17.9-1-17.9-1.3-17.9-1.6-17.9-1.9-17.9-2.2-18-2.8-17.9-3.2-17.9-3.8-17.9-4.6-9-2.6-8.9-2.8-9-3.1-8.9-3.3-9-3.7-8.9-3.9-9-4.2-9-4.6-8.9-5-9-5.4-8.9-5.7-9-6.2-8.9-6.7-9-7.2-9-7.7-8.9-8.2-9-8.9-8.9-9.3-9-10-8.9-10.7-4.5-5.5-4.5-5.7-4.5-5.9-4.5-6-4.4-6.2-4.5-6.4-4.5-6.5-4.5-6.7-4.5-6.9-4.4-7-4.5-7.1-4.5-7.4-4.5-7.4-4.4-7.7-4.5-7.7-4.5-7.9-4.5-8-4.5-8.2-4.4-8.2-4.5-8.4-4.5-8.5-4.5-8.5-4.5-8.6-4.4-8.6-4.5-8.7-4.5-8.7-4.5-8.7-4.5-8.7-4.4-8.6-4.5-8.6-4.5-8.4-4.5-8.4-4.4-8.2-4.5-8-4.5-7.8-4.5-7.5-4.5-7.3-4.4-6.9-4.5-6.6-4.5-6.1-4.5-5.7-4.5-5.1-4.4-4.6-4.5-4-4.5-3.3-4.5-2.6-4.4-1.8-4.5-1-4.5-.1-4.5 .9-4.5 1.8-4.4 3-4.5 4-4.5 5.3-4.5 6.4-4.5 7.8-2.8 5.7-2.9 6.2-2.9 6.7-2.8 7.4-2.9 7.9-2.9 8.5-2.8 9.1-2.9 9.7-2.9 10.2-2.8 10.9-2.9 11.4-2.9 12-2.8 12.5-2.9 13.1-2.9 13.6-2.8 14.1-2.9 14.5-2.9 15-2.8 15.3-2.9 15.7-2.9 16-2.8 16.2-2.9 16.4-2.8 16.4-2.9 16.4-2.9 16.3-2.8 16.1-2.9 15.7-2.9 15.3-2.8 14.6-1.7 7.9-1.6 7.5-1.6 7.3-1.6 6.9-1.6 6.5-1.6 6.1-1.6 5.6-1.6 5-1.7 4.5-1.6 3.9-1.6 3.1-1.6 2.4-1.6 1.6-1 0z" fill="#c6f034"/>
<path d="M1193.1 787.3l1 0 1.6-1.6 1.6-2.4 1.6-3.1 1.6-3.9 1.7-4.5 1.6-5 1.6-5.6 1.6-6.1 1.6-6.5 1.6-6.9 1.6-7.3 1.6-7.5 1.7-7.9 2.8-14.6 2.9-15.3 2.9-15.7 2.8-16.1 2.9-16.3 2.9-16.4 2.8-16.4 2.9-16.4 2.8-16.2 2.9-16 2.9-15.7 2.8-15.3 2.9-15 2.9-14.5 2.8-14.1 2.9-13.6 2.9-13.1 2.8-12.5 2.9-12 2.9-11.4 2.8-10.9 2.9-10.2 2.9-9.7 2.8-9.1 2.9-8.5 2.9-7.9 2.8-7.4 2.9-6.7 2.9-6.2 2.8-5.7 4.5-7.8 4.5-6.4 4.5-5.3 4.5-4 4.4-3 4.5-1.8 4.5-.9 4.5 .1 4.5 1 4.4 1.8 4.5 2.6 4.5 3.3 4.5 4 4.4 4.6 4.5 5.1 4.5 5.7 4.5 6.1 4.5 6.6 4.4 6.9 4.5 7.3 4.5 7.5 4.5 7.8 4.5 8 4.4 8.2 4.5 8.4 4.5 8.4 4.5 8.6 4.4 8.6 4.5 8.7 4.5 8.7 4.5 8.7 4.5 8.7 4.4 8.6 4.5 8.6 4.5 8.5 4.5 8.5 4.5 8.4 4.4 8.2 4.5 8.2 4.5 8 4.5 7.9 4.5 7.7 4.4 7.7 4.5 7.4 4.5 7.4 4.5 7.1 4.4 7 4.5 6.9 4.5 6.7 4.5 6.5 4.5 6.4 4.4 6.2 4.5 6 4.5 5.9 4.5 5.7 4.5 5.5 8.9 10.7 9 10 8.9 9.3 9 8.9 8.9 8.2 9 7.7 9 7.2 8.9 6.7 9 6.2 8.9 5.7 9 5.4 8.9 5 9 4.6 9 4.2 8.9 3.9 9 3.7 8.9 3.3 9 3.1 8.9 2.8 9 2.6 17.9 4.6 17.9 3.8 17.9 3.2 18 2.8 17.9 2.2 17.9 1.9 17.9 1.6 17.9 1.3 17.9 1 18 .9 17.9 .8 17.9 .6 13.1 .3 1 0 0 .3-1 0-13.1-.3-17.9-.5-17.9-.7-18-.8-17.9-1-17.9-1.2-17.9-1.4-17.9-1.8-17.9-2.1-18-2.5-17.9-3.1-17.9-3.6-17.9-4.4-9-2.5-8.9-2.7-9-2.9-8.9-3.2-9-3.5-8.9-3.8-9-4.1-9-4.5-8.9-4.9-9-5.2-8.9-5.6-9-6.2-8.9-6.5-9-7.1-9-7.6-8.9-8.2-9-8.8-8.9-9.3-9-10-8.9-10.6-4.5-5.6-4.5-5.7-4.5-5.9-4.5-6.1-4.4-6.3-4.5-6.4-4.5-6.6-4.5-6.7-4.5-7-4.4-7.1-4.5-7.3-4.5-7.4-4.5-7.6-4.4-7.8-4.5-7.9-4.5-8-4.5-8.2-4.5-8.4-4.4-8.4-4.5-8.6-4.5-8.7-4.5-8.8-4.5-8.8-4.4-8.9-4.5-9-4.5-9-4.5-9-4.5-9-4.4-9-4.5-8.9-4.5-8.8-4.5-8.7-4.4-8.6-4.5-8.4-4.5-8.2-4.5-7.9-4.5-7.6-4.4-7.3-4.5-7-4.5-6.5-4.5-6.1-4.5-5.5-4.4-5-4.5-4.3-4.5-3.6-4.5-3-4.4-2.1-4.5-1.2-4.5-.4-4.5 .7-4.5 1.7-4.4 2.8-4.5 3.9-4.5 5.2-4.5 6.5-4.5 7.8-2.8 5.7-2.9 6.3-2.9 6.9-2.8 7.4-2.9 8.1-2.9 8.7-2.8 9.3-2.9 9.9-2.9 10.5-2.8 11.1-2.9 11.7-2.9 12.3-2.8 12.8-2.9 13.4-2.9 14-2.8 14.5-2.9 14.9-2.9 15.4-2.8 15.7-2.9 16.1-2.9 16.4-2.8 16.7-2.9 16.7-2.8 16.8-2.9 16.8-2.9 16.7-2.8 16.4-2.9 16-2.9 15.5-2.8 14.9-1.7 7.9-1.6 7.7-1.6 7.3-1.6 7-1.6 6.5-1.6 6.1-1.6 5.6-1.6 5-1.7 4.4-1.6 3.8-1.6 3.1-1.6 2.3-1.6 1.5-1 0z" fill="#cbed34"/>
<path d="M1193.1 787.3l1 0 1.6-1.5 1.6-2.3 1.6-3.1 1.6-3.8 1.7-4.4 1.6-5 1.6-5.6 1.6-6.1 1.6-6.5 1.6-7 1.6-7.3 1.6-7.7 1.7-7.9 2.8-14.9 2.9-15.5 2.9-16 2.8-16.4 2.9-16.7 2.9-16.8 2.8-16.8 2.9-16.7 2.8-16.7 2.9-16.4 2.9-16.1 2.8-15.7 2.9-15.4 2.9-14.9 2.8-14.5 2.9-14 2.9-13.4 2.8-12.8 2.9-12.3 2.9-11.7 2.8-11.1 2.9-10.5 2.9-9.9 2.8-9.3 2.9-8.7 2.9-8.1 2.8-7.4 2.9-6.9 2.9-6.3 2.8-5.7 4.5-7.8 4.5-6.5 4.5-5.2 4.5-3.9 4.4-2.8 4.5-1.7 4.5-.7 4.5 .4 4.5 1.2 4.4 2.1 4.5 3 4.5 3.6 4.5 4.3 4.4 5 4.5 5.5 4.5 6.1 4.5 6.5 4.5 7 4.4 7.3 4.5 7.6 4.5 7.9 4.5 8.2 4.5 8.4 4.4 8.6 4.5 8.7 4.5 8.8 4.5 8.9 4.4 9 4.5 9 4.5 9 4.5 9 4.5 9 4.4 8.9 4.5 8.8 4.5 8.8 4.5 8.7 4.5 8.6 4.4 8.4 4.5 8.4 4.5 8.2 4.5 8 4.5 7.9 4.4 7.8 4.5 7.6 4.5 7.4 4.5 7.3 4.4 7.1 4.5 7 4.5 6.7 4.5 6.6 4.5 6.4 4.4 6.3 4.5 6.1 4.5 5.9 4.5 5.7 4.5 5.6 8.9 10.6 9 10 8.9 9.3 9 8.8 8.9 8.2 9 7.6 9 7.1 8.9 6.5 9 6.2 8.9 5.6 9 5.2 8.9 4.9 9 4.5 9 4.1 8.9 3.8 9 3.5 8.9 3.2 9 2.9 8.9 2.7 9 2.5 17.9 4.4 17.9 3.6 17.9 3.1 18 2.5 17.9 2.1 17.9 1.8 17.9 1.4 17.9 1.2 17.9 1 18 .8 17.9 .7 17.9 .5 13.1 .3 1 0 0-.3-1 0-13.1-.4-17.9-.6-17.9-.7-18-.9-17.9-1.1-17.9-1.3-17.9-1.5-17.9-1.9-17.9-2.3-18-2.7-17.9-3.2-17.9-3.8-17.9-4.6-9-2.6-8.9-2.8-9-3.1-8.9-3.3-9-3.6-8.9-3.9-9-4.2-9-4.6-8.9-4.9-9-5.4-8.9-5.7-9-6.2-8.9-6.7-9-7.1-9-7.7-8.9-8.2-9-8.7-8.9-9.4-9-9.9-8.9-10.6-4.5-5.5-4.5-5.7-4.5-5.9-4.5-6-4.4-6.2-4.5-6.3-4.5-6.5-4.5-6.6-4.5-6.9-4.4-6.9-4.5-7.2-4.5-7.3-4.5-7.4-4.4-7.6-4.5-7.7-4.5-7.9-4.5-8-4.5-8.1-4.4-8.3-4.5-8.3-4.5-8.4-4.5-8.5-4.5-8.6-4.4-8.6-4.5-8.7-4.5-8.7-4.5-8.7-4.5-8.7-4.4-8.6-4.5-8.6-4.5-8.4-4.5-8.4-4.4-8.2-4.5-8-4.5-7.9-4.5-7.5-4.5-7.3-4.4-7-4.5-6.6-4.5-6.2-4.5-5.7-4.5-5.3-4.4-4.6-4.5-4.1-4.5-3.4-4.5-2.7-4.4-2-4.5-1.1-4.5-.2-4.5 .7-4.5 1.7-4.4 2.8-4.5 3.9-4.5 5.1-4.5 6.3-4.5 7.5-2.8 5.6-2.9 6.1-2.9 6.6-2.8 7.3-2.9 7.8-2.9 8.4-2.8 8.9-2.9 9.6-2.9 10.2-2.8 10.7-2.9 11.3-2.9 11.9-2.8 12.5-2.9 13-2.9 13.5-2.8 14-2.9 14.5-2.9 15-2.8 15.3-2.9 15.7-2.9 16-2.8 16.3-2.9 16.4-2.8 16.5-2.9 16.5-2.9 16.4-2.8 16.3-2.9 15.8-2.9 15.5-2.8 14.8-1.7 8-1.6 7.7-1.6 7.4-1.6 7-1.6 6.7-1.6 6.2-1.6 5.7-1.6 5.2-1.7 4.6-1.6 4-1.6 3.3-1.6 2.5-1.6 1.6-1 0z" fill="#d2e935"/>
<path d="M1193.1 787.2l1 0 1.6-1.6 1.6-2.5 1.6-3.3 1.6-4 1.7-4.6 1.6-5.2 1.6-5.7 1.6-6.2 1.6-6.7 1.6-7 1.6-7.4 1.6-7.7 1.7-8 2.8-14.8 2.9-15.5 2.9-15.8 2.8-16.3 2.9-16.4 2.9-16.5 2.8-16.5 2.9-16.4 2.8-16.3 2.9-16 2.9-15.7 2.8-15.3 2.9-15 2.9-14.5 2.8-14 2.9-13.5 2.9-13 2.8-12.5 2.9-11.9 2.9-11.3 2.8-10.7 2.9-10.2 2.9-9.6 2.8-8.9 2.9-8.4 2.9-7.8 2.8-7.3 2.9-6.6 2.9-6.1 2.8-5.6 4.5-7.5 4.5-6.3 4.5-5.1 4.5-3.9 4.4-2.8 4.5-1.7 4.5-.7 4.5 .2 4.5 1.1 4.4 2 4.5 2.7 4.5 3.4 4.5 4.1 4.4 4.6 4.5 5.3 4.5 5.7 4.5 6.2 4.5 6.6 4.4 7 4.5 7.3 4.5 7.5 4.5 7.9 4.5 8 4.4 8.2 4.5 8.4 4.5 8.4 4.5 8.6 4.4 8.6 4.5 8.7 4.5 8.7 4.5 8.7 4.5 8.7 4.4 8.6 4.5 8.6 4.5 8.5 4.5 8.4 4.5 8.3 4.4 8.3 4.5 8.1 4.5 8 4.5 7.9 4.5 7.7 4.4 7.6 4.5 7.4 4.5 7.3 4.5 7.2 4.4 6.9 4.5 6.9 4.5 6.6 4.5 6.5 4.5 6.3 4.4 6.2 4.5 6 4.5 5.9 4.5 5.7 4.5 5.5 8.9 10.6 9 9.9 8.9 9.4 9 8.7 8.9 8.2 9 7.7 9 7.1 8.9 6.7 9 6.2 8.9 5.7 9 5.4 8.9 4.9 9 4.6 9 4.2 8.9 3.9 9 3.6 8.9 3.3 9 3.1 8.9 2.8 9 2.6 17.9 4.6 17.9 3.8 17.9 3.2 18 2.7 17.9 2.3 17.9 1.9 17.9 1.5 17.9 1.3 17.9 1.1 18 .9 17.9 .7 17.9 .6 13.1 .4 1 0 0 .8-1 0-13.1-.3-17.9-.4-17.9-.5-18-.7-17.9-.7-17.9-1-17.9-1.2-17.9-1.4-17.9-1.7-18-2.1-17.9-2.5-17.9-3-17.9-3.6-9-2.1-8.9-2.3-9-2.5-8.9-2.7-9-2.9-8.9-3.3-9-3.5-9-3.9-8.9-4.1-9-4.6-8.9-4.9-9-5.4-8.9-5.7-9-6.3-9-6.8-8.9-7.3-9-7.8-8.9-8.5-9-9.1-8.9-9.7-4.5-5.1-4.5-5.3-4.5-5.5-4.5-5.7-4.4-5.8-4.5-6-4.5-6.2-4.5-6.4-4.5-6.6-4.4-6.7-4.5-7-4.5-7.2-4.5-7.3-4.4-7.5-4.5-7.8-4.5-7.9-4.5-8-4.5-8.3-4.4-8.5-4.5-8.6-4.5-8.7-4.5-8.9-4.5-9.1-4.4-9.2-4.5-9.3-4.5-9.5-4.5-9.5-4.5-9.6-4.4-9.6-4.5-9.7-4.5-9.7-4.5-9.7-4.4-9.7-4.5-9.6-4.5-9.5-4.5-9.4-4.5-9.2-4.4-9-4.5-8.8-4.5-8.4-4.5-8.2-4.5-7.7-4.4-7.4-4.5-6.8-4.5-6.2-4.5-5.7-4.4-5-4.5-4.2-4.5-3.4-4.5-2.4-4.5-1.6-4.4-.4-4.5 .6-4.5 1.9-4.5 3.1-4.5 4.5-2.8 3.6-2.9 4.3-2.9 4.9-2.8 5.5-2.9 6.2-2.9 6.9-2.8 7.5-2.9 8.3-2.9 9-2.8 9.8-2.9 10.5-2.9 11.2-2.8 12-2.9 12.7-2.9 13.5-2.8 14.2-2.9 15-2.9 15.6-2.8 16.3-2.9 16.9-2.9 17.6-2.8 18.1-2.9 18.6-2.8 19-2.9 19.3-2.9 19.5-2.8 19.7-2.9 19.7-2.9 19.4-2.8 19.1-1.7 10.5-1.6 10.3-1.6 10-1.6 9.7-1.6 9.3-1.6 8.9-1.6 8.4-1.6 7.8-1.7 7-1.6 6.4-1.6 5.4-1.6 4.3-1.6 3.1-1 0z" fill="#d7e535"/>
<path d="M1193.1 786.4l1 0 1.6-3.1 1.6-4.3 1.6-5.4 1.6-6.4 1.7-7 1.6-7.8 1.6-8.4 1.6-8.9 1.6-9.3 1.6-9.7 1.6-10 1.6-10.3 1.7-10.5 2.8-19.1 2.9-19.4 2.9-19.7 2.8-19.7 2.9-19.5 2.9-19.3 2.8-19 2.9-18.6 2.8-18.1 2.9-17.6 2.9-16.9 2.8-16.3 2.9-15.6 2.9-15 2.8-14.2 2.9-13.5 2.9-12.7 2.8-12 2.9-11.2 2.9-10.5 2.8-9.8 2.9-9 2.9-8.3 2.8-7.5 2.9-6.9 2.9-6.2 2.8-5.5 2.9-4.9 2.9-4.3 2.8-3.6 4.5-4.5 4.5-3.1 4.5-1.9 4.5-.6 4.4 .4 4.5 1.6 4.5 2.4 4.5 3.4 4.5 4.2 4.4 5 4.5 5.7 4.5 6.2 4.5 6.8 4.4 7.4 4.5 7.7 4.5 8.2 4.5 8.4 4.5 8.8 4.4 9 4.5 9.2 4.5 9.4 4.5 9.5 4.5 9.6 4.4 9.7 4.5 9.7 4.5 9.7 4.5 9.7 4.4 9.6 4.5 9.6 4.5 9.5 4.5 9.5 4.5 9.3 4.4 9.2 4.5 9.1 4.5 8.9 4.5 8.7 4.5 8.6 4.4 8.5 4.5 8.3 4.5 8 4.5 7.9 4.5 7.8 4.4 7.5 4.5 7.3 4.5 7.2 4.5 7 4.4 6.7 4.5 6.6 4.5 6.4 4.5 6.2 4.5 6 4.4 5.8 4.5 5.7 4.5 5.5 4.5 5.3 4.5 5.1 8.9 9.7 9 9.1 8.9 8.5 9 7.8 8.9 7.3 9 6.8 9 6.3 8.9 5.7 9 5.4 8.9 4.9 9 4.6 8.9 4.1 9 3.9 9 3.5 8.9 3.3 9 2.9 8.9 2.7 9 2.5 8.9 2.3 9 2.1 17.9 3.6 17.9 3 17.9 2.5 18 2.1 17.9 1.7 17.9 1.4 17.9 1.2 17.9 1 17.9 .7 18 .7 17.9 .5 17.9 .4 13.1 .3 1 0 0 .1-1 0-13.1-.2-17.9-.4-17.9-.5-18-.7-17.9-.7-17.9-.9-17.9-1.2-17.9-1.3-17.9-1.7-18-2-17.9-2.5-17.9-3-17.9-3.6-9-2-8.9-2.3-9-2.4-8.9-2.7-9-3-8.9-3.2-9-3.5-9-3.9-8.9-4.2-9-4.5-8.9-4.9-9-5.4-8.9-5.8-9-6.3-9-6.8-8.9-7.4-9-7.9-8.9-8.6-9-9.2-8.9-9.8-4.5-5.2-4.5-5.4-4.5-5.5-4.5-5.7-4.4-5.9-4.5-6.1-4.5-6.3-4.5-6.5-4.5-6.7-4.4-6.9-4.5-7-4.5-7.3-4.5-7.5-4.4-7.6-4.5-7.9-4.5-8-4.5-8.2-4.5-8.4-4.4-8.6-4.5-8.8-4.5-8.9-4.5-9.1-4.5-9.2-4.4-9.3-4.5-9.5-4.5-9.6-4.5-9.6-4.5-9.8-4.4-9.8-4.5-9.8-4.5-9.9-4.5-9.8-4.4-9.8-4.5-9.7-4.5-9.6-4.5-9.5-4.5-9.3-4.4-9.1-4.5-8.8-4.5-8.5-4.5-8.1-4.5-7.8-4.4-7.3-4.5-6.7-4.5-6.2-4.5-5.5-4.4-4.8-4.5-4-4.5-3.2-4.5-2.2-4.5-1.2-4.4-.2-4.5 1.1-4.5 2.2-4.5 3.6-4.5 5-2.8 4-2.9 4.6-2.9 5.3-2.8 5.9-2.9 6.6-2.9 7.2-2.8 8-2.9 8.7-2.9 9.5-2.8 10.1-2.9 10.9-2.9 11.7-2.8 12.4-2.9 13.2-2.9 13.8-2.8 14.6-2.9 15.3-2.9 16-2.8 16.6-2.9 17.2-2.9 17.8-2.8 18.2-2.9 18.7-2.8 19.1-2.9 19.3-2.9 19.4-2.8 19.5-2.9 19.4-2.9 19.1-2.8 18.7-1.7 10.2-1.6 9.9-1.6 9.7-1.6 9.3-1.6 8.9-1.6 8.4-1.6 7.9-1.6 7.2-1.7 6.6-1.6 5.8-1.6 4.9-1.6 3.9-1.6 2.7-1 0z" fill="#dde037"/>
<path d="M1193.1 786.7l1 0 1.6-2.7 1.6-3.9 1.6-4.9 1.6-5.8 1.7-6.6 1.6-7.2 1.6-7.9 1.6-8.4 1.6-8.9 1.6-9.3 1.6-9.7 1.6-9.9 1.7-10.2 2.8-18.7 2.9-19.1 2.9-19.4 2.8-19.5 2.9-19.4 2.9-19.3 2.8-19.1 2.9-18.7 2.8-18.2 2.9-17.8 2.9-17.2 2.8-16.6 2.9-16 2.9-15.3 2.8-14.6 2.9-13.8 2.9-13.2 2.8-12.4 2.9-11.7 2.9-10.9 2.8-10.1 2.9-9.5 2.9-8.7 2.8-8 2.9-7.2 2.9-6.6 2.8-5.9 2.9-5.3 2.9-4.6 2.8-4 4.5-5 4.5-3.6 4.5-2.2 4.5-1.1 4.4 .2 4.5 1.2 4.5 2.2 4.5 3.2 4.5 4 4.4 4.8 4.5 5.5 4.5 6.2 4.5 6.7 4.4 7.3 4.5 7.8 4.5 8.1 4.5 8.5 4.5 8.8 4.4 9.1 4.5 9.3 4.5 9.5 4.5 9.6 4.5 9.7 4.4 9.8 4.5 9.8 4.5 9.9 4.5 9.8 4.4 9.8 4.5 9.8 4.5 9.6 4.5 9.6 4.5 9.5 4.4 9.3 4.5 9.2 4.5 9.1 4.5 8.9 4.5 8.8 4.4 8.6 4.5 8.4 4.5 8.2 4.5 8 4.5 7.9 4.4 7.6 4.5 7.5 4.5 7.3 4.5 7 4.4 6.9 4.5 6.7 4.5 6.5 4.5 6.3 4.5 6.1 4.4 5.9 4.5 5.7 4.5 5.5 4.5 5.4 4.5 5.2 8.9 9.8 9 9.2 8.9 8.6 9 7.9 8.9 7.4 9 6.8 9 6.3 8.9 5.8 9 5.4 8.9 4.9 9 4.5 8.9 4.2 9 3.9 9 3.5 8.9 3.2 9 3 8.9 2.7 9 2.4 8.9 2.3 9 2 17.9 3.6 17.9 3 17.9 2.5 18 2 17.9 1.7 17.9 1.3 17.9 1.2 17.9 .9 17.9 .7 18 .7 17.9 .5 17.9 .4 13.1 .2 1 0 0 0-1 0-13.1-.2-17.9-.4-17.9-.5-18-.6-17.9-.7-17.9-1-17.9-1.1-17.9-1.3-17.9-1.7-18-2-17.9-2.5-17.9-2.9-17.9-3.6-9-2.1-8.9-2.2-9-2.5-8.9-2.7-9-2.9-8.9-3.3-9-3.5-9-3.8-8.9-4.2-9-4.6-8.9-4.9-9-5.4-8.9-5.8-9-6.4-9-6.8-8.9-7.4-9-8-8.9-8.6-9-9.2-8.9-9.9-4.5-5.2-4.5-5.4-4.5-5.6-4.5-5.8-4.4-5.9-4.5-6.2-4.5-6.3-4.5-6.5-4.5-6.7-4.4-7-4.5-7.1-4.5-7.3-4.5-7.5-4.4-7.7-4.5-7.9-4.5-8.1-4.5-8.3-4.5-8.4-4.4-8.7-4.5-8.8-4.5-9-4.5-9.1-4.5-9.3-4.4-9.4-4.5-9.5-4.5-9.6-4.5-9.8-4.5-9.8-4.4-9.8-4.5-9.9-4.5-9.9-4.5-9.9-4.4-9.8-4.5-9.7-4.5-9.7-4.5-9.5-4.5-9.3-4.4-9-4.5-8.8-4.5-8.5-4.5-8.2-4.5-7.7-4.4-7.2-4.5-6.7-4.5-6.1-4.5-5.4-4.4-4.7-4.5-3.9-4.5-3.1-4.5-2-4.5-1.1-4.4 .1-4.5 1.2-4.5 2.5-4.5 3.8-4.5 5.3-2.8 4.1-2.9 4.8-2.9 5.4-2.8 6.1-2.9 6.8-2.9 7.4-2.8 8.2-2.9 8.9-2.9 9.6-2.8 10.4-2.9 11.1-2.9 11.8-2.8 12.6-2.9 13.3-2.9 14-2.8 14.8-2.9 15.4-2.9 16.1-2.8 16.7-2.9 17.3-2.9 17.8-2.8 18.3-2.9 18.8-2.8 19-2.9 19.2-2.9 19.4-2.8 19.4-2.9 19.2-2.9 18.9-2.8 18.4-1.7 10.1-1.6 9.8-1.6 9.4-1.6 9.1-1.6 8.7-1.6 8.2-1.6 7.7-1.6 7-1.7 6.3-1.6 5.6-1.6 4.7-1.6 3.7-1.6 2.5-1 0z" fill="#e3db38"/>
<path d="M1193.1 786.8l1 0 1.6-2.5 1.6-3.7 1.6-4.7 1.6-5.6 1.7-6.3 1.6-7 1.6-7.7 1.6-8.2 1.6-8.7 1.6-9.1 1.6-9.4 1.6-9.8 1.7-10.1 2.8-18.4 2.9-18.9 2.9-19.2 2.8-19.4 2.9-19.4 2.9-19.2 2.8-19 2.9-18.8 2.8-18.3 2.9-17.8 2.9-17.3 2.8-16.7 2.9-16.1 2.9-15.4 2.8-14.8 2.9-14 2.9-13.3 2.8-12.6 2.9-11.8 2.9-11.1 2.8-10.4 2.9-9.6 2.9-8.9 2.8-8.2 2.9-7.4 2.9-6.8 2.8-6.1 2.9-5.4 2.9-4.8 2.8-4.1 4.5-5.3 4.5-3.8 4.5-2.5 4.5-1.2 4.4-.1 4.5 1.1 4.5 2 4.5 3.1 4.5 3.9 4.4 4.7 4.5 5.4 4.5 6.1 4.5 6.7 4.4 7.2 4.5 7.7 4.5 8.2 4.5 8.5 4.5 8.8 4.4 9 4.5 9.3 4.5 9.5 4.5 9.7 4.5 9.7 4.4 9.8 4.5 9.9 4.5 9.9 4.5 9.9 4.4 9.8 4.5 9.8 4.5 9.8 4.5 9.6 4.5 9.5 4.4 9.4 4.5 9.3 4.5 9.1 4.5 9 4.5 8.8 4.4 8.7 4.5 8.4 4.5 8.3 4.5 8.1 4.5 7.9 4.4 7.7 4.5 7.5 4.5 7.3 4.5 7.1 4.4 7 4.5 6.7 4.5 6.5 4.5 6.3 4.5 6.2 4.4 5.9 4.5 5.8 4.5 5.6 4.5 5.4 4.5 5.2 8.9 9.9 9 9.2 8.9 8.6 9 8 8.9 7.4 9 6.8 9 6.4 8.9 5.8 9 5.4 8.9 4.9 9 4.6 8.9 4.2 9 3.8 9 3.5 8.9 3.3 9 2.9 8.9 2.7 9 2.5 8.9 2.2 9 2.1 17.9 3.6 17.9 2.9 17.9 2.5 18 2 17.9 1.7 17.9 1.3 17.9 1.1 17.9 1 17.9 .7 18 .6 17.9 .5 17.9 .4 13.1 .2 1 0 0-.2-1 0-13.1-.2-17.9-.4-17.9-.6-18-.6-17.9-.8-17.9-.9-17.9-1.2-17.9-1.4-17.9-1.7-18-2-17.9-2.4-17.9-3-17.9-3.5-9-2-8.9-2.2-9-2.4-8.9-2.6-9-2.9-8.9-3.1-9-3.4-9-3.7-8.9-4-9-4.3-8.9-4.7-9-5.1-8.9-5.6-9-5.9-9-6.5-8.9-7-9-7.5-8.9-8.1-9-8.6-8.9-9.3-4.5-4.9-4.5-5.1-4.5-5.2-4.5-5.4-4.4-5.6-4.5-5.8-4.5-5.9-4.5-6.1-4.5-6.4-4.4-6.5-4.5-6.6-4.5-6.9-4.5-7.1-4.4-7.2-4.5-7.5-4.5-7.6-4.5-7.8-4.5-8-4.4-8.2-4.5-8.3-4.5-8.6-4.5-8.6-4.5-8.9-4.4-9-4.5-9.1-4.5-9.2-4.5-9.4-4.5-9.5-4.4-9.5-4.5-9.7-4.5-9.6-4.5-9.7-4.4-9.7-4.5-9.7-4.5-9.7-4.5-9.5-4.5-9.5-4.4-9.3-4.5-9.1-4.5-8.9-4.5-8.7-4.5-8.3-4.4-7.9-4.5-7.6-4.5-7.1-4.5-6.5-4.4-6-4.5-5.3-4.5-4.5-4.5-3.8-4.5-2.9-4.4-1.9-4.5-.9-4.5 .2-4.5 1.5-4.5 2.7-2.8 2.5-2.9 3-2.9 3.7-2.8 4.3-2.9 4.9-2.9 5.6-2.8 6.4-2.9 7-2.9 7.8-2.8 8.5-2.9 9.3-2.9 10.1-2.8 10.9-2.9 11.7-2.9 12.4-2.8 13.4-2.9 14.1-2.9 14.9-2.8 15.7-2.9 16.5-2.9 17.3-2.8 18-2.9 18.6-2.8 19.3-2.9 19.8-2.9 20.3-2.8 20.7-2.9 21-2.9 21-2.8 21-1.7 11.7-1.6 11.6-1.6 11.5-1.6 11.2-1.6 10.9-1.6 10.5-1.6 10.1-1.6 9.6-1.7 9-1.6 8.2-1.6 7.3-1.6 6.1-1.6 4.6-1 0z" fill="#e7d739"/>
<path d="M1193.1 785.3l1 0 1.6-4.6 1.6-6.1 1.6-7.3 1.6-8.2 1.7-9 1.6-9.6 1.6-10.1 1.6-10.5 1.6-10.9 1.6-11.2 1.6-11.5 1.6-11.6 1.7-11.7 2.8-21 2.9-21 2.9-21 2.8-20.7 2.9-20.3 2.9-19.8 2.8-19.3 2.9-18.6 2.8-18 2.9-17.3 2.9-16.5 2.8-15.7 2.9-14.9 2.9-14.1 2.8-13.4 2.9-12.4 2.9-11.7 2.8-10.9 2.9-10.1 2.9-9.3 2.8-8.5 2.9-7.8 2.9-7 2.8-6.4 2.9-5.6 2.9-4.9 2.8-4.3 2.9-3.7 2.9-3 2.8-2.5 4.5-2.7 4.5-1.5 4.5-.2 4.5 .9 4.4 1.9 4.5 2.9 4.5 3.8 4.5 4.5 4.5 5.3 4.4 6 4.5 6.5 4.5 7.1 4.5 7.6 4.4 7.9 4.5 8.3 4.5 8.7 4.5 8.9 4.5 9.1 4.4 9.3 4.5 9.5 4.5 9.5 4.5 9.7 4.5 9.7 4.4 9.7 4.5 9.7 4.5 9.6 4.5 9.7 4.4 9.5 4.5 9.5 4.5 9.4 4.5 9.2 4.5 9.1 4.4 9 4.5 8.9 4.5 8.6 4.5 8.6 4.5 8.3 4.4 8.2 4.5 8 4.5 7.8 4.5 7.6 4.5 7.5 4.4 7.2 4.5 7.1 4.5 6.9 4.5 6.6 4.4 6.5 4.5 6.4 4.5 6.1 4.5 5.9 4.5 5.8 4.4 5.6 4.5 5.4 4.5 5.2 4.5 5.1 4.5 4.9 8.9 9.3 9 8.6 8.9 8.1 9 7.5 8.9 7 9 6.5 9 5.9 8.9 5.6 9 5.1 8.9 4.7 9 4.3 8.9 4 9 3.7 9 3.4 8.9 3.1 9 2.9 8.9 2.6 9 2.4 8.9 2.2 9 2 17.9 3.5 17.9 3 17.9 2.4 18 2 17.9 1.7 17.9 1.4 17.9 1.2 17.9 .9 17.9 .8 18 .6 17.9 .6 17.9 .4 13.1 .2 1 0 0-1.5-1 0-13.1-.5-17.9-.7-17.9-.9-18-1-17.9-1.2-17.9-1.4-17.9-1.7-17.9-2-17.9-2.4-18-2.8-17.9-3.2-17.9-3.8-17.9-4.5-9-2.5-8.9-2.8-9-2.9-8.9-3.1-9-3.4-8.9-3.7-9-4-9-4.2-8.9-4.6-9-4.8-8.9-5.3-9-5.6-8.9-6-9-6.4-9-6.9-8.9-7.3-9-7.8-8.9-8.3-9-8.8-8.9-9.3-4.5-4.9-4.5-5-4.5-5.1-4.5-5.3-4.4-5.5-4.5-5.5-4.5-5.7-4.5-5.9-4.5-6-4.4-6.2-4.5-6.2-4.5-6.5-4.5-6.5-4.4-6.8-4.5-6.8-4.5-7-4.5-7.1-4.5-7.2-4.4-7.4-4.5-7.5-4.5-7.5-4.5-7.7-4.5-7.8-4.4-7.9-4.5-7.9-4.5-8-4.5-8.1-4.5-8.1-4.4-8.1-4.5-8.1-4.5-8.2-4.5-8.1-4.4-8-4.5-8-4.5-7.9-4.5-7.8-4.5-7.6-4.4-7.5-4.5-7.3-4.5-7-4.5-6.8-4.5-6.4-4.4-6.1-4.5-5.7-4.5-5.3-4.5-4.8-4.4-4.2-4.5-3.7-4.5-3-4.5-2.4-4.5-1.5-4.4-.8-4.5 .1-4.5 1-4.5 2.1-4.5 3.1-2.8 2.6-2.9 3.1-2.9 3.6-2.8 4.1-2.9 4.6-2.9 5.2-2.8 5.8-2.9 6.4-2.9 7-2.8 7.6-2.9 8.3-2.9 8.8-2.8 9.6-2.9 10.2-2.9 11-2.8 11.6-2.9 12.3-2.9 12.9-2.8 13.7-2.9 14.4-2.9 15-2.8 15.7-2.9 16.3-2.8 16.9-2.9 17.5-2.9 18-2.8 18.4-2.9 18.8-2.9 19-2.8 19.2-1.7 10.8-1.6 10.7-1.6 10.7-1.6 10.6-1.6 10.4-1.6 10.3-1.6 9.9-1.6 9.6-1.7 9.1-1.6 8.6-1.6 7.8-1.6 6.9-1.6 5.5-1 0z" fill="#ecd13a"/>
<path d="M1193.1 784.3l1 0 1.6-5.5 1.6-6.9 1.6-7.8 1.6-8.6 1.7-9.1 1.6-9.6 1.6-9.9 1.6-10.3 1.6-10.4 1.6-10.6 1.6-10.7 1.6-10.7 1.7-10.8 2.8-19.2 2.9-19 2.9-18.8 2.8-18.4 2.9-18 2.9-17.5 2.8-16.9 2.9-16.3 2.8-15.7 2.9-15 2.9-14.4 2.8-13.7 2.9-12.9 2.9-12.3 2.8-11.6 2.9-11 2.9-10.2 2.8-9.6 2.9-8.8 2.9-8.3 2.8-7.6 2.9-7 2.9-6.4 2.8-5.8 2.9-5.2 2.9-4.6 2.8-4.1 2.9-3.6 2.9-3.1 2.8-2.6 4.5-3.1 4.5-2.1 4.5-1 4.5-.1 4.4 .8 4.5 1.5 4.5 2.4 4.5 3 4.5 3.7 4.4 4.2 4.5 4.8 4.5 5.3 4.5 5.7 4.4 6.1 4.5 6.4 4.5 6.8 4.5 7 4.5 7.3 4.4 7.5 4.5 7.6 4.5 7.8 4.5 7.9 4.5 8 4.4 8 4.5 8.1 4.5 8.2 4.5 8.1 4.4 8.1 4.5 8.1 4.5 8.1 4.5 8 4.5 7.9 4.4 7.9 4.5 7.8 4.5 7.7 4.5 7.5 4.5 7.5 4.4 7.4 4.5 7.2 4.5 7.1 4.5 7 4.5 6.8 4.4 6.8 4.5 6.5 4.5 6.5 4.5 6.2 4.4 6.2 4.5 6 4.5 5.9 4.5 5.7 4.5 5.5 4.4 5.5 4.5 5.3 4.5 5.1 4.5 5 4.5 4.9 8.9 9.3 9 8.8 8.9 8.3 9 7.8 8.9 7.3 9 6.9 9 6.4 8.9 6 9 5.6 8.9 5.3 9 4.8 8.9 4.6 9 4.2 9 4 8.9 3.7 9 3.4 8.9 3.1 9 2.9 8.9 2.8 9 2.5 17.9 4.5 17.9 3.8 17.9 3.2 18 2.8 17.9 2.4 17.9 2 17.9 1.7 17.9 1.4 17.9 1.2 18 1 17.9 .9 17.9 .7 13.1 .5 1 0 0-.1-1 0-13.1-.5-17.9-.7-17.9-.9-18-1.1-17.9-1.2-17.9-1.4-17.9-1.8-17.9-2-17.9-2.4-18-2.8-17.9-3.4-17.9-3.8-17.9-4.6-9-2.5-8.9-2.8-9-3-8.9-3.2-9-3.4-8.9-3.7-9-4-9-4.3-8.9-4.6-9-4.9-8.9-5.3-9-5.7-8.9-6-9-6.5-9-6.9-8.9-7.4-9-7.8-8.9-8.3-9-8.9-8.9-9.4-4.5-4.8-4.5-5.1-4.5-5.1-4.5-5.3-4.4-5.5-4.5-5.5-4.5-5.8-4.5-5.8-4.5-6-4.4-6.2-4.5-6.3-4.5-6.4-4.5-6.6-4.4-6.7-4.5-6.8-4.5-7-4.5-7.1-4.5-7.2-4.4-7.3-4.5-7.5-4.5-7.5-4.5-7.7-4.5-7.7-4.4-7.8-4.5-7.9-4.5-8-4.5-8-4.5-8-4.4-8.1-4.5-8-4.5-8.1-4.5-8-4.4-7.9-4.5-7.9-4.5-7.8-4.5-7.7-4.5-7.5-4.4-7.4-4.5-7.1-4.5-6.9-4.5-6.6-4.5-6.3-4.4-5.9-4.5-5.6-4.5-5.1-4.5-4.6-4.4-4.1-4.5-3.5-4.5-2.8-4.5-2.2-4.5-1.4-4.4-.6-4.5 .3-4.5 1.2-4.5 2.3-4.5 3.3-2.8 2.7-2.9 3.2-2.9 3.7-2.8 4.2-2.9 4.7-2.9 5.3-2.8 5.9-2.9 6.5-2.9 7-2.8 7.7-2.9 8.3-2.9 9-2.8 9.6-2.9 10.3-2.9 10.9-2.8 11.6-2.9 12.3-2.9 13-2.8 13.6-2.9 14.3-2.9 15-2.8 15.6-2.9 16.2-2.8 16.8-2.9 17.3-2.9 17.8-2.8 18.3-2.9 18.5-2.9 18.8-2.8 19-1.7 10.6-1.6 10.6-1.6 10.6-1.6 10.4-1.6 10.2-1.6 10-1.6 9.8-1.6 9.4-1.7 8.9-1.6 8.3-1.6 7.7-1.6 6.7-1.6 5.4-1 0z" fill="#efcd3a"/>
<path d="M1193.1 784.5l1 0 1.6-5.4 1.6-6.7 1.6-7.7 1.6-8.3 1.7-8.9 1.6-9.4 1.6-9.8 1.6-10 1.6-10.2 1.6-10.4 1.6-10.6 1.6-10.6 1.7-10.6 2.8-19 2.9-18.8 2.9-18.5 2.8-18.3 2.9-17.8 2.9-17.3 2.8-16.8 2.9-16.2 2.8-15.6 2.9-15 2.9-14.3 2.8-13.6 2.9-13 2.9-12.3 2.8-11.6 2.9-10.9 2.9-10.3 2.8-9.6 2.9-9 2.9-8.3 2.8-7.7 2.9-7 2.9-6.5 2.8-5.9 2.9-5.3 2.9-4.7 2.8-4.2 2.9-3.7 2.9-3.2 2.8-2.7 4.5-3.3 4.5-2.3 4.5-1.2 4.5-.3 4.4 .6 4.5 1.4 4.5 2.2 4.5 2.8 4.5 3.5 4.4 4.1 4.5 4.6 4.5 5.1 4.5 5.6 4.4 5.9 4.5 6.3 4.5 6.6 4.5 6.9 4.5 7.1 4.4 7.4 4.5 7.5 4.5 7.7 4.5 7.8 4.5 7.9 4.4 7.9 4.5 8 4.5 8.1 4.5 8 4.4 8.1 4.5 8 4.5 8 4.5 8 4.5 7.9 4.4 7.8 4.5 7.7 4.5 7.7 4.5 7.5 4.5 7.5 4.4 7.3 4.5 7.2 4.5 7.1 4.5 7 4.5 6.8 4.4 6.7 4.5 6.6 4.5 6.4 4.5 6.3 4.4 6.2 4.5 6 4.5 5.8 4.5 5.8 4.5 5.5 4.4 5.5 4.5 5.3 4.5 5.1 4.5 5.1 4.5 4.8 8.9 9.4 9 8.9 8.9 8.3 9 7.8 8.9 7.4 9 6.9 9 6.5 8.9 6 9 5.7 8.9 5.3 9 4.9 8.9 4.6 9 4.3 9 4 8.9 3.7 9 3.4 8.9 3.2 9 3 8.9 2.8 9 2.5 17.9 4.6 17.9 3.8 17.9 3.4 18 2.8 17.9 2.4 17.9 2 17.9 1.8 17.9 1.4 17.9 1.2 18 1.1 17.9 .9 17.9 .7 13.1 .5 1 0 0-.4-1 0-13.1-.4-17.9-.8-17.9-.9-18-1.1-17.9-1.2-17.9-1.5-17.9-1.8-17.9-2-17.9-2.4-18-2.7-17.9-3.3-17.9-3.8-17.9-4.4-9-2.4-8.9-2.7-9-2.8-8.9-3.1-9-3.3-8.9-3.5-9-3.8-9-4.1-8.9-4.4-9-4.6-8.9-5-9-5.4-8.9-5.7-9-6.1-9-6.5-8.9-6.9-9-7.4-8.9-7.8-9-8.3-8.9-8.7-4.5-4.6-4.5-4.7-4.5-4.9-4.5-4.9-4.4-5.1-4.5-5.3-4.5-5.4-4.5-5.5-4.5-5.6-4.4-5.8-4.5-5.9-4.5-6.1-4.5-6.2-4.4-6.3-4.5-6.5-4.5-6.6-4.5-6.7-4.5-6.8-4.4-7-4.5-7.1-4.5-7.2-4.5-7.3-4.5-7.5-4.4-7.5-4.5-7.6-4.5-7.7-4.5-7.8-4.5-7.8-4.4-7.9-4.5-7.9-4.5-7.9-4.5-8-4.4-7.9-4.5-7.9-4.5-7.9-4.5-7.8-4.5-7.7-4.4-7.6-4.5-7.5-4.5-7.3-4.5-7.1-4.5-6.9-4.4-6.6-4.5-6.3-4.5-6-4.5-5.6-4.4-5.1-4.5-4.7-4.5-4.2-4.5-3.5-4.5-3-4.4-2.3-4.5-1.5-4.5-.7-4.5 .2-4.5 1.2-2.8 1.3-2.9 1.7-2.9 2.2-2.8 2.6-2.9 3.2-2.9 3.6-2.8 4.3-2.9 4.8-2.9 5.3-2.8 6-2.9 6.6-2.9 7.3-2.8 7.9-2.9 8.7-2.9 9.3-2.8 10.1-2.9 10.8-2.9 11.6-2.8 12.4-2.9 13.1-2.9 14-2.8 14.7-2.9 15.6-2.8 16.4-2.9 17.2-2.9 17.9-2.8 18.7-2.9 19.5-2.9 20.1-2.8 20.6-1.7 11.9-1.6 12-1.6 12.1-1.6 12.2-1.6 12.2-1.6 12.2-1.6 12.2-1.6 12.1-1.7 11.8-1.6 11.5-1.6 11-1.6 10.3-1.6 9.1-1 0z" fill="#f4c73a"/>
<path d="M1193.1 780.7l1 0 1.6-9.1 1.6-10.3 1.6-11 1.6-11.5 1.7-11.8 1.6-12.1 1.6-12.2 1.6-12.2 1.6-12.2 1.6-12.2 1.6-12.1 1.6-12 1.7-11.9 2.8-20.6 2.9-20.1 2.9-19.5 2.8-18.7 2.9-17.9 2.9-17.2 2.8-16.4 2.9-15.6 2.8-14.7 2.9-14 2.9-13.1 2.8-12.4 2.9-11.6 2.9-10.8 2.8-10.1 2.9-9.3 2.9-8.7 2.8-7.9 2.9-7.3 2.9-6.6 2.8-6 2.9-5.3 2.9-4.8 2.8-4.3 2.9-3.6 2.9-3.2 2.8-2.6 2.9-2.2 2.9-1.7 2.8-1.3 4.5-1.2 4.5-.2 4.5 .7 4.5 1.5 4.4 2.3 4.5 3 4.5 3.5 4.5 4.2 4.5 4.7 4.4 5.1 4.5 5.6 4.5 6 4.5 6.3 4.4 6.6 4.5 6.9 4.5 7.1 4.5 7.3 4.5 7.5 4.4 7.6 4.5 7.7 4.5 7.8 4.5 7.9 4.5 7.9 4.4 7.9 4.5 8 4.5 7.9 4.5 7.9 4.4 7.9 4.5 7.8 4.5 7.8 4.5 7.7 4.5 7.6 4.4 7.5 4.5 7.5 4.5 7.3 4.5 7.2 4.5 7.1 4.4 7 4.5 6.8 4.5 6.7 4.5 6.6 4.5 6.5 4.4 6.3 4.5 6.2 4.5 6.1 4.5 5.9 4.4 5.8 4.5 5.6 4.5 5.5 4.5 5.4 4.5 5.3 4.4 5.1 4.5 4.9 4.5 4.9 4.5 4.7 4.5 4.6 8.9 8.7 9 8.3 8.9 7.8 9 7.4 8.9 6.9 9 6.5 9 6.1 8.9 5.7 9 5.4 8.9 5 9 4.6 8.9 4.4 9 4.1 9 3.8 8.9 3.5 9 3.3 8.9 3.1 9 2.8 8.9 2.7 9 2.4 17.9 4.4 17.9 3.8 17.9 3.3 18 2.7 17.9 2.4 17.9 2 17.9 1.8 17.9 1.5 17.9 1.2 18 1.1 17.9 .9 17.9 .8 13.1 .4 1 0 0 .6-1 0-13.1-.4-17.9-.7-17.9-.8-18-.9-17.9-1.1-17.9-1.4-17.9-1.5-17.9-1.8-17.9-2.2-18-2.5-17.9-3-17.9-3.5-17.9-4.1-9-2.3-8.9-2.4-9-2.7-8.9-2.9-9-3.1-8.9-3.3-9-3.6-9-3.9-8.9-4.1-9-4.5-8.9-4.8-9-5.1-8.9-5.5-9-5.9-9-6.3-8.9-6.7-9-7.2-8.9-7.6-9-8.1-8.9-8.7-4.5-4.5-4.5-4.6-4.5-4.8-4.5-5-4.4-5-4.5-5.2-4.5-5.4-4.5-5.5-4.5-5.6-4.4-5.8-4.5-6-4.5-6.1-4.5-6.2-4.4-6.4-4.5-6.5-4.5-6.7-4.5-6.8-4.5-7-4.4-7.1-4.5-7.2-4.5-7.4-4.5-7.5-4.5-7.7-4.4-7.7-4.5-7.9-4.5-7.9-4.5-8.1-4.5-8.1-4.4-8.3-4.5-8.2-4.5-8.4-4.5-8.3-4.4-8.4-4.5-8.4-4.5-8.4-4.5-8.3-4.5-8.3-4.4-8.2-4.5-8.1-4.5-7.9-4.5-7.8-4.5-7.5-4.4-7.4-4.5-7-4.5-6.7-4.5-6.4-4.4-6-4.5-5.5-4.5-5-4.5-4.4-4.5-3.8-4.4-3.2-4.5-2.3-4.5-1.6-4.5-.6-4.5 .3-2.8 .7-2.9 1.2-2.9 1.7-2.8 2.2-2.9 2.7-2.9 3.2-2.8 3.8-2.9 4.4-2.9 5-2.8 5.6-2.9 6.4-2.9 7-2.8 7.7-2.9 8.4-2.9 9.2-2.8 10-2.9 10.8-2.9 11.6-2.8 12.5-2.9 13.3-2.9 14.3-2.8 15.1-2.9 15.9-2.8 16.9-2.9 17.8-2.9 18.7-2.8 19.5-2.9 20.3-2.9 21.2-2.8 21.8-1.7 12.6-1.6 12.7-1.6 12.9-1.6 13-1.6 13.1-1.6 13.1-1.6 13.1-1.6 13-1.7 12.9-1.6 12.5-1.6 12.1-1.6 11.3-1.6 10.2-1 0z" fill="#f9bc39"/>
<path d="M1193.1 779.8l1 0 1.6-10.2 1.6-11.3 1.6-12.1 1.6-12.5 1.7-12.9 1.6-13 1.6-13.1 1.6-13.1 1.6-13.1 1.6-13 1.6-12.9 1.6-12.7 1.7-12.6 2.8-21.8 2.9-21.2 2.9-20.3 2.8-19.5 2.9-18.7 2.9-17.8 2.8-16.9 2.9-15.9 2.8-15.1 2.9-14.3 2.9-13.3 2.8-12.5 2.9-11.6 2.9-10.8 2.8-10 2.9-9.2 2.9-8.4 2.8-7.7 2.9-7 2.9-6.4 2.8-5.6 2.9-5 2.9-4.4 2.8-3.8 2.9-3.2 2.9-2.7 2.8-2.2 2.9-1.7 2.9-1.2 2.8-.7 4.5-.3 4.5 .6 4.5 1.6 4.5 2.3 4.4 3.2 4.5 3.8 4.5 4.4 4.5 5 4.5 5.5 4.4 6 4.5 6.4 4.5 6.7 4.5 7 4.4 7.4 4.5 7.5 4.5 7.8 4.5 7.9 4.5 8.1 4.4 8.2 4.5 8.3 4.5 8.3 4.5 8.4 4.5 8.4 4.4 8.4 4.5 8.3 4.5 8.4 4.5 8.2 4.4 8.3 4.5 8.1 4.5 8.1 4.5 7.9 4.5 7.9 4.4 7.7 4.5 7.7 4.5 7.5 4.5 7.4 4.5 7.2 4.4 7.1 4.5 7 4.5 6.8 4.5 6.7 4.5 6.5 4.4 6.4 4.5 6.2 4.5 6.1 4.5 6 4.4 5.8 4.5 5.6 4.5 5.5 4.5 5.4 4.5 5.2 4.4 5 4.5 5 4.5 4.8 4.5 4.6 4.5 4.5 8.9 8.7 9 8.1 8.9 7.6 9 7.2 8.9 6.7 9 6.3 9 5.9 8.9 5.5 9 5.1 8.9 4.8 9 4.5 8.9 4.1 9 3.9 9 3.6 8.9 3.3 9 3.1 8.9 2.9 9 2.7 8.9 2.4 9 2.3 17.9 4.1 17.9 3.5 17.9 3 18 2.5 17.9 2.2 17.9 1.8 17.9 1.5 17.9 1.4 17.9 1.1 18 .9 17.9 .8 17.9 .7 13.1 .4 1 0 0 0-1 0-13.1-.4-17.9-.7-17.9-.8-18-.9-17.9-1.1-17.9-1.4-17.9-1.5-17.9-1.9-17.9-2.1-18-2.6-17.9-3-17.9-3.5-17.9-4.1-9-2.3-8.9-2.5-9-2.7-8.9-2.9-9-3.2-8.9-3.3-9-3.7-9-3.9-8.9-4.2-9-4.5-8.9-4.8-9-5.2-8.9-5.5-9-6-9-6.4-8.9-6.7-9-7.3-8.9-7.7-9-8.2-8.9-8.8-4.5-4.5-4.5-4.7-4.5-4.9-4.5-5-4.4-5.1-4.5-5.2-4.5-5.4-4.5-5.6-4.5-5.7-4.4-5.8-4.5-6-4.5-6.2-4.5-6.3-4.4-6.4-4.5-6.6-4.5-6.7-4.5-6.9-4.5-7-4.4-7.2-4.5-7.3-4.5-7.4-4.5-7.6-4.5-7.6-4.4-7.8-4.5-7.9-4.5-8-4.5-8.1-4.5-8.2-4.4-8.2-4.5-8.3-4.5-8.3-4.5-8.4-4.4-8.4-4.5-8.4-4.5-8.3-4.5-8.3-4.5-8.2-4.4-8.2-4.5-8-4.5-7.8-4.5-7.7-4.5-7.5-4.4-7.2-4.5-6.9-4.5-6.6-4.5-6.2-4.4-5.7-4.5-5.3-4.5-4.8-4.5-4.2-4.5-3.5-4.4-2.9-4.5-2-4.5-1.3-4.5-.3-4.5 .7-2.8 1-2.9 1.5-2.9 1.9-2.8 2.4-2.9 3-2.9 3.5-2.8 4.1-2.9 4.7-2.9 5.3-2.8 5.9-2.9 6.6-2.9 7.3-2.8 8-2.9 8.7-2.9 9.5-2.8 10.3-2.9 11.1-2.9 11.8-2.8 12.8-2.9 13.5-2.9 14.4-2.8 15.3-2.9 16.1-2.8 17-2.9 17.8-2.9 18.7-2.8 19.4-2.9 20.3-2.9 20.9-2.8 21.6-1.7 12.3-1.6 12.5-1.6 12.7-1.6 12.7-1.6 12.7-1.6 12.8-1.6 12.6-1.6 12.6-1.7 12.3-1.6 11.9-1.6 11.4-1.6 10.7-1.6 9.3-1 0z" fill="#fbb637"/>
<path d="M1193.1 780.6l1 0 1.6-9.3 1.6-10.7 1.6-11.4 1.6-11.9 1.7-12.3 1.6-12.6 1.6-12.6 1.6-12.8 1.6-12.7 1.6-12.7 1.6-12.7 1.6-12.5 1.7-12.3 2.8-21.6 2.9-20.9 2.9-20.3 2.8-19.4 2.9-18.7 2.9-17.8 2.8-17 2.9-16.1 2.8-15.3 2.9-14.4 2.9-13.5 2.8-12.8 2.9-11.8 2.9-11.1 2.8-10.3 2.9-9.5 2.9-8.7 2.8-8 2.9-7.3 2.9-6.6 2.8-5.9 2.9-5.3 2.9-4.7 2.8-4.1 2.9-3.5 2.9-3 2.8-2.4 2.9-1.9 2.9-1.5 2.8-1 4.5-.7 4.5 .3 4.5 1.3 4.5 2 4.4 2.9 4.5 3.5 4.5 4.2 4.5 4.8 4.5 5.3 4.4 5.7 4.5 6.2 4.5 6.6 4.5 6.9 4.4 7.2 4.5 7.5 4.5 7.7 4.5 7.8 4.5 8 4.4 8.2 4.5 8.2 4.5 8.3 4.5 8.3 4.5 8.4 4.4 8.4 4.5 8.4 4.5 8.3 4.5 8.3 4.4 8.2 4.5 8.2 4.5 8.1 4.5 8 4.5 7.9 4.4 7.8 4.5 7.6 4.5 7.6 4.5 7.4 4.5 7.3 4.4 7.2 4.5 7 4.5 6.9 4.5 6.7 4.5 6.6 4.4 6.4 4.5 6.3 4.5 6.2 4.5 6 4.4 5.8 4.5 5.7 4.5 5.6 4.5 5.4 4.5 5.2 4.4 5.1 4.5 5 4.5 4.9 4.5 4.7 4.5 4.5 8.9 8.8 9 8.2 8.9 7.7 9 7.3 8.9 6.7 9 6.4 9 6 8.9 5.5 9 5.2 8.9 4.8 9 4.5 8.9 4.2 9 3.9 9 3.7 8.9 3.3 9 3.2 8.9 2.9 9 2.7 8.9 2.5 9 2.3 17.9 4.1 17.9 3.5 17.9 3 18 2.6 17.9 2.1 17.9 1.9 17.9 1.5 17.9 1.4 17.9 1.1 18 .9 17.9 .8 17.9 .7 13.1 .4 1 0 0 0-1 0-13.1-.4-17.9-.7-17.9-.8-18-1-17.9-1.1-17.9-1.4-17.9-1.5-17.9-1.9-17.9-2.2-18-2.6-17.9-3-17.9-3.6-17.9-4.1-9-2.3-8.9-2.6-9-2.7-8.9-2.9-9-3.2-8.9-3.4-9-3.6-9-4-8.9-4.2-9-4.5-8.9-4.9-9-5.2-8.9-5.6-9-6-9-6.4-8.9-6.9-9-7.3-8.9-7.7-9-8.3-8.9-8.8-4.5-4.6-4.5-4.7-4.5-4.9-4.5-5-4.4-5.1-4.5-5.3-4.5-5.4-4.5-5.6-4.5-5.7-4.4-5.9-4.5-6-4.5-6.2-4.5-6.3-4.4-6.4-4.5-6.6-4.5-6.8-4.5-6.9-4.5-7-4.4-7.2-4.5-7.3-4.5-7.4-4.5-7.6-4.5-7.7-4.4-7.7-4.5-7.9-4.5-8-4.5-8.1-4.5-8.1-4.4-8.3-4.5-8.2-4.5-8.3-4.5-8.4-4.4-8.3-4.5-8.3-4.5-8.3-4.5-8.3-4.5-8.1-4.4-8.1-4.5-7.9-4.5-7.8-4.5-7.6-4.5-7.4-4.4-7.1-4.5-6.8-4.5-6.4-4.5-6.1-4.4-5.6-4.5-5.2-4.5-4.6-4.5-4-4.5-3.4-4.4-2.6-4.5-1.9-4.5-1-4.5-.1-4.5 .9-2.8 1.1-2.9 1.6-2.9 2.1-2.8 2.5-2.9 3.2-2.9 3.6-2.8 4.2-2.9 4.9-2.9 5.4-2.8 6.1-2.9 6.7-2.9 7.5-2.8 8.1-2.9 8.9-2.9 9.6-2.8 10.4-2.9 11.1-2.9 12-2.8 12.8-2.9 13.6-2.9 14.5-2.8 15.2-2.9 16.2-2.8 17-2.9 17.8-2.9 18.6-2.8 19.3-2.9 20.1-2.9 20.8-2.8 21.4-1.7 12.2-1.6 12.4-1.6 12.4-1.6 12.5-1.6 12.6-1.6 12.5-1.6 12.4-1.6 12.3-1.7 12-1.6 11.7-1.6 11-1.6 10.3-1.6 9-1 0z" fill="#fdae35"/>
<path d="M1193.1 781l1 0 1.6-9 1.6-10.3 1.6-11 1.6-11.7 1.7-12 1.6-12.3 1.6-12.4 1.6-12.5 1.6-12.6 1.6-12.5 1.6-12.4 1.6-12.4 1.7-12.2 2.8-21.4 2.9-20.8 2.9-20.1 2.8-19.3 2.9-18.6 2.9-17.8 2.8-17 2.9-16.2 2.8-15.2 2.9-14.5 2.9-13.6 2.8-12.8 2.9-12 2.9-11.1 2.8-10.4 2.9-9.6 2.9-8.9 2.8-8.1 2.9-7.5 2.9-6.7 2.8-6.1 2.9-5.4 2.9-4.9 2.8-4.2 2.9-3.6 2.9-3.2 2.8-2.5 2.9-2.1 2.9-1.6 2.8-1.1 4.5-.9 4.5 .1 4.5 1 4.5 1.9 4.4 2.6 4.5 3.4 4.5 4 4.5 4.6 4.5 5.2 4.4 5.6 4.5 6.1 4.5 6.4 4.5 6.8 4.4 7.1 4.5 7.4 4.5 7.6 4.5 7.8 4.5 7.9 4.4 8.1 4.5 8.1 4.5 8.3 4.5 8.3 4.5 8.3 4.4 8.3 4.5 8.4 4.5 8.3 4.5 8.2 4.4 8.3 4.5 8.1 4.5 8.1 4.5 8 4.5 7.9 4.4 7.7 4.5 7.7 4.5 7.6 4.5 7.4 4.5 7.3 4.4 7.2 4.5 7 4.5 6.9 4.5 6.8 4.5 6.6 4.4 6.4 4.5 6.3 4.5 6.2 4.5 6 4.4 5.9 4.5 5.7 4.5 5.6 4.5 5.4 4.5 5.3 4.4 5.1 4.5 5 4.5 4.9 4.5 4.7 4.5 4.6 8.9 8.8 9 8.3 8.9 7.7 9 7.3 8.9 6.9 9 6.4 9 6 8.9 5.6 9 5.2 8.9 4.9 9 4.5 8.9 4.2 9 4 9 3.6 8.9 3.4 9 3.2 8.9 2.9 9 2.7 8.9 2.6 9 2.3 17.9 4.1 17.9 3.6 17.9 3 18 2.6 17.9 2.2 17.9 1.9 17.9 1.5 17.9 1.4 17.9 1.1 18 1 17.9 .8 17.9 .7 13.1 .4 1 0 0 .1-1 0-13.1-.4-17.9-.7-17.9-.8-18-.9-17.9-1.1-17.9-1.3-17.9-1.5-17.9-1.8-17.9-2.2-18-2.5-17.9-2.9-17.9-3.5-17.9-4-9-2.3-8.9-2.4-9-2.7-8.9-2.8-9-3.1-8.9-3.3-9-3.6-9-3.8-8.9-4.1-9-4.5-8.9-4.7-9-5.2-8.9-5.4-9-5.9-9-6.3-8.9-6.7-9-7.2-8.9-7.6-9-8.1-8.9-8.6-4.5-4.6-4.5-4.6-4.5-4.8-4.5-4.9-4.4-5.1-4.5-5.2-4.5-5.4-4.5-5.5-4.5-5.7-4.4-5.8-4.5-5.9-4.5-6.1-4.5-6.3-4.4-6.4-4.5-6.6-4.5-6.7-4.5-6.8-4.5-7-4.4-7.2-4.5-7.2-4.5-7.5-4.5-7.5-4.5-7.7-4.4-7.8-4.5-7.9-4.5-8-4.5-8.1-4.5-8.2-4.4-8.3-4.5-8.3-4.5-8.4-4.5-8.4-4.4-8.5-4.5-8.4-4.5-8.5-4.5-8.4-4.5-8.3-4.4-8.3-4.5-8.1-4.5-8-4.5-7.9-4.5-7.6-4.4-7.4-4.5-7.2-4.5-6.8-4.5-6.4-4.4-6.1-4.5-5.5-4.5-5.1-4.5-4.5-4.5-3.9-4.4-3.2-4.5-2.4-4.5-1.6-4.5-.7-4.5 .3-2.8 .7-2.9 1.2-2.9 1.7-2.8 2.2-2.9 2.6-2.9 3.3-2.8 3.8-2.9 4.4-2.9 5-2.8 5.7-2.9 6.3-2.9 7.1-2.8 7.7-2.9 8.5-2.9 9.3-2.8 10-2.9 10.9-2.9 11.7-2.8 12.5-2.9 13.4-2.9 14.3-2.8 15.2-2.9 16.1-2.8 17-2.9 17.9-2.9 18.7-2.8 19.7-2.9 20.4-2.9 21.3-2.8 21.9-1.7 12.6-1.6 12.8-1.6 12.9-1.6 13.1-1.6 13.1-1.6 13.2-1.6 13.1-1.6 13.1-1.7 12.8-1.6 12.6-1.6 12-1.6 11.4-1.6 10.1-1 0z" fill="#fea933"/>
<path d="M1193.1 779.9l1 0 1.6-10.1 1.6-11.4 1.6-12 1.6-12.6 1.7-12.8 1.6-13.1 1.6-13.1 1.6-13.2 1.6-13.1 1.6-13.1 1.6-12.9 1.6-12.8 1.7-12.6 2.8-21.9 2.9-21.3 2.9-20.4 2.8-19.7 2.9-18.7 2.9-17.9 2.8-17 2.9-16.1 2.8-15.2 2.9-14.3 2.9-13.4 2.8-12.5 2.9-11.7 2.9-10.9 2.8-10 2.9-9.3 2.9-8.5 2.8-7.7 2.9-7.1 2.9-6.3 2.8-5.7 2.9-5 2.9-4.4 2.8-3.8 2.9-3.3 2.9-2.6 2.8-2.2 2.9-1.7 2.9-1.2 2.8-.7 4.5-.3 4.5 .7 4.5 1.6 4.5 2.4 4.4 3.2 4.5 3.9 4.5 4.5 4.5 5.1 4.5 5.5 4.4 6.1 4.5 6.4 4.5 6.8 4.5 7.2 4.4 7.4 4.5 7.6 4.5 7.9 4.5 8 4.5 8.1 4.4 8.3 4.5 8.3 4.5 8.4 4.5 8.5 4.5 8.4 4.4 8.5 4.5 8.4 4.5 8.4 4.5 8.3 4.4 8.3 4.5 8.2 4.5 8.1 4.5 8 4.5 7.9 4.4 7.8 4.5 7.7 4.5 7.5 4.5 7.5 4.5 7.2 4.4 7.2 4.5 7 4.5 6.8 4.5 6.7 4.5 6.6 4.4 6.4 4.5 6.3 4.5 6.1 4.5 5.9 4.4 5.8 4.5 5.7 4.5 5.5 4.5 5.4 4.5 5.2 4.4 5.1 4.5 4.9 4.5 4.8 4.5 4.6 4.5 4.6 8.9 8.6 9 8.1 8.9 7.6 9 7.2 8.9 6.7 9 6.3 9 5.9 8.9 5.4 9 5.2 8.9 4.7 9 4.5 8.9 4.1 9 3.8 9 3.6 8.9 3.3 9 3.1 8.9 2.8 9 2.7 8.9 2.4 9 2.3 17.9 4 17.9 3.5 17.9 2.9 18 2.5 17.9 2.2 17.9 1.8 17.9 1.5 17.9 1.3 17.9 1.1 18 .9 17.9 .8 17.9 .7 13.1 .4 1 0 0 .1-1 0-13.1-.4-17.9-.7-17.9-.7-18-.9-17.9-1.1-17.9-1.3-17.9-1.5-17.9-1.8-17.9-2.1-18-2.5-17.9-3-17.9-3.4-17.9-4-9-2.3-8.9-2.5-9-2.6-8.9-2.9-9-3.1-8.9-3.3-9-3.6-9-3.8-8.9-4.2-9-4.5-8.9-4.8-9-5.1-8.9-5.6-9-5.9-9-6.3-8.9-6.8-9-7.2-8.9-7.7-9-8.3-8.9-8.7-4.5-4.6-4.5-4.7-4.5-4.8-4.5-5-4.4-5.2-4.5-5.3-4.5-5.4-4.5-5.6-4.5-5.7-4.4-5.9-4.5-6-4.5-6.2-4.5-6.3-4.4-6.5-4.5-6.7-4.5-6.8-4.5-6.9-4.5-7.1-4.4-7.2-4.5-7.4-4.5-7.5-4.5-7.6-4.5-7.8-4.4-7.9-4.5-7.9-4.5-8.1-4.5-8.2-4.5-8.3-4.4-8.4-4.5-8.4-4.5-8.4-4.5-8.5-4.4-8.5-4.5-8.5-4.5-8.5-4.5-8.5-4.5-8.3-4.4-8.3-4.5-8.2-4.5-8-4.5-7.8-4.5-7.6-4.4-7.3-4.5-7.1-4.5-6.7-4.5-6.4-4.4-5.9-4.5-5.4-4.5-4.9-4.5-4.3-4.5-3.6-4.4-2.9-4.5-2.2-4.5-1.3-4.5-.3-4.5 .6-2.8 1-2.9 1.5-2.9 1.9-2.8 2.5-2.9 2.9-2.9 3.6-2.8 4.1-2.9 4.7-2.9 5.4-2.8 6-2.9 6.7-2.9 7.4-2.8 8.1-2.9 8.9-2.9 9.6-2.8 10.4-2.9 11.2-2.9 12.1-2.8 12.9-2.9 13.7-2.9 14.6-2.8 15.5-2.9 16.3-2.8 17.2-2.9 18-2.9 18.9-2.8 19.7-2.9 20.4-2.9 21.2-2.8 21.7-1.7 12.5-1.6 12.6-1.6 12.7-1.6 12.7-1.6 12.8-1.6 12.8-1.6 12.7-1.6 12.5-1.7 12.3-1.6 11.9-1.6 11.3-1.6 10.5-1.6 9.3-1 0z" fill="#fea130"/>
<path d="M1193.1 780.9l1 0 1.6-9.3 1.6-10.5 1.6-11.3 1.6-11.9 1.7-12.3 1.6-12.5 1.6-12.7 1.6-12.8 1.6-12.8 1.6-12.7 1.6-12.7 1.6-12.6 1.7-12.5 2.8-21.7 2.9-21.2 2.9-20.4 2.8-19.7 2.9-18.9 2.9-18 2.8-17.2 2.9-16.3 2.8-15.5 2.9-14.6 2.9-13.7 2.8-12.9 2.9-12.1 2.9-11.2 2.8-10.4 2.9-9.6 2.9-8.9 2.8-8.1 2.9-7.4 2.9-6.7 2.8-6 2.9-5.4 2.9-4.7 2.8-4.1 2.9-3.6 2.9-2.9 2.8-2.5 2.9-1.9 2.9-1.5 2.8-1 4.5-.6 4.5 .3 4.5 1.3 4.5 2.2 4.4 2.9 4.5 3.6 4.5 4.3 4.5 4.9 4.5 5.4 4.4 5.9 4.5 6.4 4.5 6.7 4.5 7.1 4.4 7.3 4.5 7.6 4.5 7.8 4.5 8 4.5 8.2 4.4 8.3 4.5 8.3 4.5 8.5 4.5 8.5 4.5 8.5 4.4 8.5 4.5 8.5 4.5 8.4 4.5 8.4 4.4 8.4 4.5 8.3 4.5 8.2 4.5 8.1 4.5 7.9 4.4 7.9 4.5 7.8 4.5 7.6 4.5 7.5 4.5 7.4 4.4 7.2 4.5 7.1 4.5 6.9 4.5 6.8 4.5 6.7 4.4 6.5 4.5 6.3 4.5 6.2 4.5 6 4.4 5.9 4.5 5.7 4.5 5.6 4.5 5.4 4.5 5.3 4.4 5.2 4.5 5 4.5 4.8 4.5 4.7 4.5 4.6 8.9 8.7 9 8.3 8.9 7.7 9 7.2 8.9 6.8 9 6.3 9 5.9 8.9 5.6 9 5.1 8.9 4.8 9 4.5 8.9 4.2 9 3.8 9 3.6 8.9 3.3 9 3.1 8.9 2.9 9 2.6 8.9 2.5 9 2.3 17.9 4 17.9 3.4 17.9 3 18 2.5 17.9 2.1 17.9 1.8 17.9 1.5 17.9 1.3 17.9 1.1 18 .9 17.9 .7 17.9 .7 13.1 .4 1 0 0-.5-1 0-13.1-.5-17.9-.7-17.9-.8-18-.9-17.9-1.2-17.9-1.3-17.9-1.6-17.9-1.8-17.9-2.2-18-2.5-17.9-2.9-17.9-3.4-17.9-4-9-2.2-8.9-2.4-9-2.6-8.9-2.7-9-3-8.9-3.2-9-3.4-9-3.7-8.9-4-9-4.2-8.9-4.5-9-4.9-8.9-5.2-9-5.5-9-6-8.9-6.3-9-6.7-8.9-7.2-9-7.6-8.9-8.2-4.5-4.2-4.5-4.4-4.5-4.5-4.5-4.6-4.4-4.7-4.5-4.9-4.5-5.1-4.5-5.1-4.5-5.3-4.4-5.5-4.5-5.6-4.5-5.7-4.5-5.9-4.4-6-4.5-6.1-4.5-6.3-4.5-6.5-4.5-6.6-4.4-6.7-4.5-6.9-4.5-7-4.5-7.1-4.5-7.3-4.4-7.4-4.5-7.6-4.5-7.6-4.5-7.7-4.5-7.9-4.4-8-4.5-8-4.5-8.1-4.5-8.2-4.4-8.2-4.5-8.3-4.5-8.3-4.5-8.3-4.5-8.3-4.4-8.3-4.5-8.2-4.5-8.2-4.5-8-4.5-7.9-4.4-7.8-4.5-7.6-4.5-7.3-4.5-7.1-4.4-6.8-4.5-6.5-4.5-6-4.5-5.6-4.5-5.1-4.4-4.6-4.5-3.9-4.5-3.3-4.5-2.5-4.5-1.7-2.8-.5-2.9-.3-2.9 .3-2.8 .6-2.9 1.1-2.9 1.6-2.8 2.1-2.9 2.7-2.9 3.2-2.8 3.9-2.9 4.5-2.9 5.1-2.8 5.8-2.9 6.5-2.9 7.3-2.8 8.1-2.9 9-2.9 9.7-2.8 10.7-2.9 11.6-2.9 12.6-2.8 13.6-2.9 14.6-2.8 15.7-2.9 16.8-2.9 18-2.8 19.1-2.9 20.3-2.9 21.5-2.8 22.7-1.7 13.3-1.6 13.8-1.6 14-1.6 14.5-1.6 14.8-1.6 15.2-1.6 15.4-1.6 15.8-1.7 16-1.6 16.2-1.6 16.3-1.6 16.3-1.6 15.8-1 0z" fill="#fe9b2d"/>
<path d="M1193.1 772.2l1 0 1.6-15.8 1.6-16.3 1.6-16.3 1.6-16.2 1.7-16 1.6-15.8 1.6-15.4 1.6-15.2 1.6-14.8 1.6-14.5 1.6-14 1.6-13.8 1.7-13.3 2.8-22.7 2.9-21.5 2.9-20.3 2.8-19.1 2.9-18 2.9-16.8 2.8-15.7 2.9-14.6 2.8-13.6 2.9-12.6 2.9-11.6 2.8-10.7 2.9-9.7 2.9-9 2.8-8.1 2.9-7.3 2.9-6.5 2.8-5.8 2.9-5.1 2.9-4.5 2.8-3.9 2.9-3.2 2.9-2.7 2.8-2.1 2.9-1.6 2.9-1.1 2.8-.6 2.9-.3 2.9 .3 2.8 .5 4.5 1.7 4.5 2.5 4.5 3.3 4.5 3.9 4.4 4.6 4.5 5.1 4.5 5.6 4.5 6 4.5 6.5 4.4 6.8 4.5 7.1 4.5 7.3 4.5 7.6 4.4 7.8 4.5 7.9 4.5 8 4.5 8.2 4.5 8.2 4.4 8.3 4.5 8.3 4.5 8.3 4.5 8.3 4.5 8.3 4.4 8.2 4.5 8.2 4.5 8.1 4.5 8 4.4 8 4.5 7.9 4.5 7.7 4.5 7.6 4.5 7.6 4.4 7.4 4.5 7.3 4.5 7.1 4.5 7 4.5 6.9 4.4 6.7 4.5 6.6 4.5 6.5 4.5 6.3 4.5 6.1 4.4 6 4.5 5.9 4.5 5.7 4.5 5.6 4.4 5.5 4.5 5.3 4.5 5.1 4.5 5.1 4.5 4.9 4.4 4.7 4.5 4.6 4.5 4.5 4.5 4.4 4.5 4.2 8.9 8.2 9 7.6 8.9 7.2 9 6.7 8.9 6.3 9 6 9 5.5 8.9 5.2 9 4.9 8.9 4.5 9 4.2 8.9 4 9 3.7 9 3.4 8.9 3.2 9 3 8.9 2.7 9 2.6 8.9 2.4 9 2.2 17.9 4 17.9 3.4 17.9 2.9 18 2.5 17.9 2.2 17.9 1.8 17.9 1.6 17.9 1.3 17.9 1.2 18 .9 17.9 .8 17.9 .7 13.1 .5 1 0 0-.6-1 0-13.1-.5-17.9-.7-17.9-1-18-1-17.9-1.3-17.9-1.4-17.9-1.7-17.9-2-17.9-2.2-18-2.7-17.9-3-17.9-3.6-17.9-4.1-9-2.3-8.9-2.4-9-2.7-8.9-2.8-9-3-8.9-3.3-9-3.4-9-3.8-8.9-3.9-9-4.3-8.9-4.5-9-4.9-8.9-5.2-9-5.5-9-5.9-8.9-6.2-9-6.7-8.9-7.1-9-7.5-8.9-7.9-4.5-4.2-4.5-4.2-4.5-4.4-4.5-4.5-4.4-4.7-4.5-4.7-4.5-4.9-4.5-5-4.5-5.2-4.4-5.3-4.5-5.4-4.5-5.5-4.5-5.7-4.4-5.8-4.5-6-4.5-6.1-4.5-6.2-4.5-6.4-4.4-6.4-4.5-6.7-4.5-6.7-4.5-6.9-4.5-7-4.4-7.1-4.5-7.2-4.5-7.3-4.5-7.5-4.5-7.5-4.4-7.7-4.5-7.7-4.5-7.8-4.5-7.8-4.4-7.9-4.5-8-4.5-7.9-4.5-8-4.5-8-4.4-7.9-4.5-8-4.5-7.8-4.5-7.8-4.5-7.6-4.4-7.6-4.5-7.3-4.5-7.2-4.5-6.9-4.4-6.6-4.5-6.4-4.5-6-4.5-5.5-4.5-5.2-4.4-4.6-4.5-4.1-4.5-3.4-4.5-2.8-4.5-2-2.8-.9-2.9-.5-2.9-.1-2.8 .3-2.9 .7-2.9 1.2-2.8 1.7-2.9 2.1-2.9 2.7-2.8 3.3-2.9 3.8-2.9 4.5-2.8 5.1-2.9 5.8-2.9 6.5-2.8 7.3-2.9 8.1-2.9 8.9-2.8 9.8-2.9 10.7-2.9 11.6-2.8 12.7-2.9 13.7-2.8 14.7-2.9 15.9-2.9 17.1-2.8 18.2-2.9 19.6-2.9 20.9-2.8 22.2-1.7 13.1-1.6 13.5-1.6 14-1.6 14.5-1.6 14.9-1.6 15.4-1.6 15.9-1.6 16.3-1.7 16.8-1.6 17.1-1.6 17.6-1.6 18-1.6 18.1-1 0z" fill="#fe932a"/>
<path d="M1193.1 768.2l1 0 1.6-18.1 1.6-18 1.6-17.6 1.6-17.1 1.7-16.8 1.6-16.3 1.6-15.9 1.6-15.4 1.6-14.9 1.6-14.5 1.6-14 1.6-13.5 1.7-13.1 2.8-22.2 2.9-20.9 2.9-19.6 2.8-18.2 2.9-17.1 2.9-15.9 2.8-14.7 2.9-13.7 2.8-12.7 2.9-11.6 2.9-10.7 2.8-9.8 2.9-8.9 2.9-8.1 2.8-7.3 2.9-6.5 2.9-5.8 2.8-5.1 2.9-4.5 2.9-3.8 2.8-3.3 2.9-2.7 2.9-2.1 2.8-1.7 2.9-1.2 2.9-.7 2.8-.3 2.9 .1 2.9 .5 2.8 .9 4.5 2 4.5 2.8 4.5 3.4 4.5 4.1 4.4 4.6 4.5 5.2 4.5 5.5 4.5 6 4.5 6.4 4.4 6.6 4.5 6.9 4.5 7.2 4.5 7.3 4.4 7.6 4.5 7.6 4.5 7.8 4.5 7.8 4.5 8 4.4 7.9 4.5 8 4.5 8 4.5 7.9 4.5 8 4.4 7.9 4.5 7.8 4.5 7.8 4.5 7.7 4.4 7.7 4.5 7.5 4.5 7.5 4.5 7.3 4.5 7.2 4.4 7.1 4.5 7 4.5 6.9 4.5 6.7 4.5 6.7 4.4 6.4 4.5 6.4 4.5 6.2 4.5 6.1 4.5 6 4.4 5.8 4.5 5.7 4.5 5.5 4.5 5.4 4.4 5.3 4.5 5.2 4.5 5 4.5 4.9 4.5 4.7 4.4 4.7 4.5 4.5 4.5 4.4 4.5 4.2 4.5 4.2 8.9 7.9 9 7.5 8.9 7.1 9 6.7 8.9 6.2 9 5.9 9 5.5 8.9 5.2 9 4.9 8.9 4.5 9 4.3 8.9 3.9 9 3.8 9 3.4 8.9 3.3 9 3 8.9 2.8 9 2.7 8.9 2.4 9 2.3 17.9 4.1 17.9 3.6 17.9 3 18 2.7 17.9 2.2 17.9 2 17.9 1.7 17.9 1.4 17.9 1.3 18 1 17.9 1 17.9 .7 13.1 .5 1 0 0-.2-1 0-13.1-.5-17.9-.8-17.9-.9-18-1.1-17.9-1.3-17.9-1.4-17.9-1.7-17.9-2-17.9-2.2-18-2.7-17.9-3-17.9-3.5-17.9-4-9-2.3-8.9-2.4-9-2.6-8.9-2.7-9-3-8.9-3.1-9-3.4-9-3.6-8.9-3.9-9-4.1-8.9-4.5-9-4.7-8.9-5-9-5.3-9-5.7-8.9-6-9-6.5-8.9-6.8-9-7.2-8.9-7.7-4.5-4-4.5-4.1-4.5-4.3-4.5-4.3-4.4-4.5-4.5-4.6-4.5-4.7-4.5-4.8-4.5-5-4.4-5.1-4.5-5.2-4.5-5.4-4.5-5.5-4.4-5.6-4.5-5.8-4.5-5.9-4.5-6-4.5-6.1-4.4-6.3-4.5-6.4-4.5-6.6-4.5-6.7-4.5-6.8-4.4-6.9-4.5-7-4.5-7.2-4.5-7.2-4.5-7.4-4.4-7.5-4.5-7.6-4.5-7.6-4.5-7.7-4.4-7.8-4.5-7.9-4.5-7.9-4.5-7.9-4.5-8-4.4-7.9-4.5-8-4.5-7.9-4.5-7.9-4.5-7.8-4.4-7.7-4.5-7.5-4.5-7.4-4.5-7.3-4.4-7-4.5-6.7-4.5-6.5-4.5-6.1-4.5-5.8-4.4-5.3-4.5-4.8-4.5-4.3-4.5-3.6-4.5-3-2.8-1.6-2.9-1.2-2.9-.8-2.8-.5-2.9-.1-2.9 .3-2.8 .8-2.9 1.2-2.9 1.7-2.8 2.3-2.9 2.8-2.9 3.4-2.8 4.1-2.9 4.7-2.9 5.4-2.8 6.1-2.9 6.9-2.9 7.8-2.8 8.6-2.9 9.5-2.9 10.5-2.8 11.6-2.9 12.6-2.8 13.7-2.9 15-2.9 16.2-2.8 17.6-2.9 19-2.9 20.5-2.8 22.1-1.7 13.2-1.6 13.7-1.6 14.3-1.6 14.9-1.6 15.6-1.6 16.2-1.6 16.9-1.6 17.6-1.7 18.4-1.6 19.3-1.6 20.1-1.6 21.2-1.6 22.4-1 0z" fill="#fd8a26"/>
<path d="M1193.1 760.3l1 0 1.6-22.4 1.6-21.2 1.6-20.1 1.6-19.3 1.7-18.4 1.6-17.6 1.6-16.9 1.6-16.2 1.6-15.6 1.6-14.9 1.6-14.3 1.6-13.7 1.7-13.2 2.8-22.1 2.9-20.5 2.9-19 2.8-17.6 2.9-16.2 2.9-15 2.8-13.7 2.9-12.6 2.8-11.6 2.9-10.5 2.9-9.5 2.8-8.6 2.9-7.8 2.9-6.9 2.8-6.1 2.9-5.4 2.9-4.7 2.8-4.1 2.9-3.4 2.9-2.8 2.8-2.3 2.9-1.7 2.9-1.2 2.8-.8 2.9-.3 2.9 .1 2.8 .5 2.9 .8 2.9 1.2 2.8 1.6 4.5 3 4.5 3.6 4.5 4.3 4.5 4.8 4.4 5.3 4.5 5.8 4.5 6.1 4.5 6.5 4.5 6.7 4.4 7 4.5 7.3 4.5 7.4 4.5 7.5 4.4 7.7 4.5 7.8 4.5 7.9 4.5 7.9 4.5 8 4.4 7.9 4.5 8 4.5 7.9 4.5 7.9 4.5 7.9 4.4 7.8 4.5 7.7 4.5 7.6 4.5 7.6 4.4 7.5 4.5 7.4 4.5 7.2 4.5 7.2 4.5 7 4.4 6.9 4.5 6.8 4.5 6.7 4.5 6.6 4.5 6.4 4.4 6.3 4.5 6.1 4.5 6 4.5 5.9 4.5 5.8 4.4 5.6 4.5 5.5 4.5 5.4 4.5 5.2 4.4 5.1 4.5 5 4.5 4.8 4.5 4.7 4.5 4.6 4.4 4.5 4.5 4.3 4.5 4.3 4.5 4.1 4.5 4 8.9 7.7 9 7.2 8.9 6.8 9 6.5 8.9 6 9 5.7 9 5.3 8.9 5 9 4.7 8.9 4.5 9 4.1 8.9 3.9 9 3.6 9 3.4 8.9 3.1 9 3 8.9 2.7 9 2.6 8.9 2.4 9 2.3 17.9 4 17.9 3.5 17.9 3 18 2.7 17.9 2.2 17.9 2 17.9 1.7 17.9 1.4 17.9 1.3 18 1.1 17.9 .9 17.9 .8 13.1 .5 1 0 0 .6-1 0-13.1-.4-17.9-.8-17.9-.8-18-1.1-17.9-1.2-17.9-1.3-17.9-1.7-17.9-1.9-17.9-2.2-18-2.6-17.9-3.1-17.9-3.5-17.9-4.1-9-2.3-8.9-2.5-9-2.7-8.9-2.8-9-3.1-8.9-3.3-9-3.5-9-3.8-8.9-4.1-9-4.3-8.9-4.7-9-5-8.9-5.3-9-5.7-9-6.1-8.9-6.4-9-6.9-8.9-7.3-9-7.8-8.9-8.3-4.5-4.3-4.5-4.4-4.5-4.6-4.5-4.7-4.4-4.8-4.5-5-4.5-5.1-4.5-5.2-4.5-5.4-4.4-5.5-4.5-5.6-4.5-5.8-4.5-6-4.4-6-4.5-6.2-4.5-6.4-4.5-6.5-4.5-6.6-4.4-6.7-4.5-6.9-4.5-7-4.5-7.2-4.5-7.2-4.4-7.4-4.5-7.5-4.5-7.6-4.5-7.7-4.5-7.8-4.4-7.9-4.5-8-4.5-8-4.5-8.1-4.4-8.1-4.5-8.1-4.5-8.1-4.5-8.2-4.5-8.1-4.4-8-4.5-8-4.5-7.9-4.5-7.7-4.5-7.6-4.4-7.5-4.5-7.2-4.5-6.9-4.5-6.7-4.4-6.4-4.5-5.9-4.5-5.6-4.5-5.1-4.5-4.5-4.4-4-4.5-3.3-4.5-2.6-4.5-1.8-4.5-1-2.8-.2-2.9 .3-2.9 .7-2.8 1.1-2.9 1.6-2.9 2.1-2.8 2.6-2.9 3.2-2.9 3.7-2.8 4.3-2.9 5-2.9 5.6-2.8 6.3-2.9 7-2.9 7.8-2.8 8.5-2.9 9.3-2.9 10.2-2.8 11-2.9 12-2.9 12.8-2.8 13.8-2.9 14.8-2.8 15.8-2.9 16.9-2.9 17.9-2.8 19-2.9 20-2.9 21.1-2.8 22.3-1.7 12.9-1.6 13.3-1.6 13.6-1.6 13.9-1.6 14.1-1.6 14.5-1.6 14.7-1.6 14.8-1.7 15-1.6 15.1-1.6 15-1.6 14.7-1.6 14.2-1 0z" fill="#fc8423"/>
<path d="M1193.1 774.6l1 0 1.6-14.2 1.6-14.7 1.6-15 1.6-15.1 1.7-15 1.6-14.8 1.6-14.7 1.6-14.5 1.6-14.1 1.6-13.9 1.6-13.6 1.6-13.3 1.7-12.9 2.8-22.3 2.9-21.1 2.9-20 2.8-19 2.9-17.9 2.9-16.9 2.8-15.8 2.9-14.8 2.8-13.8 2.9-12.8 2.9-12 2.8-11 2.9-10.2 2.9-9.3 2.8-8.5 2.9-7.8 2.9-7 2.8-6.3 2.9-5.6 2.9-5 2.8-4.3 2.9-3.7 2.9-3.2 2.8-2.6 2.9-2.1 2.9-1.6 2.8-1.1 2.9-.7 2.9-.3 2.8 .2 4.5 1 4.5 1.8 4.5 2.6 4.5 3.3 4.4 4 4.5 4.5 4.5 5.1 4.5 5.6 4.5 5.9 4.4 6.4 4.5 6.7 4.5 6.9 4.5 7.2 4.4 7.5 4.5 7.6 4.5 7.7 4.5 7.9 4.5 8 4.4 8 4.5 8.1 4.5 8.2 4.5 8.1 4.5 8.1 4.4 8.1 4.5 8.1 4.5 8 4.5 8 4.4 7.9 4.5 7.8 4.5 7.7 4.5 7.6 4.5 7.5 4.4 7.4 4.5 7.2 4.5 7.2 4.5 7 4.5 6.9 4.4 6.7 4.5 6.6 4.5 6.5 4.5 6.4 4.5 6.2 4.4 6 4.5 6 4.5 5.8 4.5 5.6 4.4 5.5 4.5 5.4 4.5 5.2 4.5 5.1 4.5 5 4.4 4.8 4.5 4.7 4.5 4.6 4.5 4.4 4.5 4.3 8.9 8.3 9 7.8 8.9 7.3 9 6.9 8.9 6.4 9 6.1 9 5.7 8.9 5.3 9 5 8.9 4.7 9 4.3 8.9 4.1 9 3.8 9 3.5 8.9 3.3 9 3.1 8.9 2.8 9 2.7 8.9 2.5 9 2.3 17.9 4.1 17.9 3.5 17.9 3.1 18 2.6 17.9 2.2 17.9 1.9 17.9 1.7 17.9 1.3 17.9 1.2 18 1.1 17.9 .8 17.9 .8 13.1 .4 1 0 0 1.7-1 0-13.1-.3-17.9-.5-17.9-.5-18-.7-17.9-.8-17.9-1-17.9-1.1-17.9-1.4-17.9-1.6-18-2-17.9-2.4-17.9-2.7-17.9-3.4-9-1.8-8.9-2.1-9-2.2-8.9-2.4-9-2.7-8.9-2.8-9-3.1-9-3.4-8.9-3.6-9-3.9-8.9-4.3-9-4.6-8.9-4.9-9-5.4-9-5.8-8.9-6.2-9-6.7-8.9-7.2-9-7.7-8.9-8.3-4.5-4.3-4.5-4.5-4.5-4.7-4.5-4.8-4.4-5-4.5-5.1-4.5-5.3-4.5-5.4-4.5-5.7-4.4-5.8-4.5-6-4.5-6.1-4.5-6.4-4.4-6.5-4.5-6.7-4.5-6.9-4.5-7-4.5-7.3-4.4-7.4-4.5-7.6-4.5-7.8-4.5-8-4.5-8.1-4.4-8.3-4.5-8.5-4.5-8.6-4.5-8.8-4.5-8.9-4.4-9.1-4.5-9.2-4.5-9.3-4.5-9.4-4.4-9.4-4.5-9.6-4.5-9.6-4.5-9.6-4.5-9.7-4.4-9.6-4.5-9.6-4.5-9.5-4.5-9.4-4.5-9.2-4.4-9.1-4.5-8.9-4.5-8.6-4.5-8.2-4.4-7.9-4.5-7.5-4.5-7-4.5-6.5-4.5-5.8-4.4-5.2-4.5-4.4-4.5-3.6-4.5-2.6-4.5-1.6-2.8-.4-2.9 .1-2.9 .5-2.8 1.1-2.9 1.7-2.9 2.3-2.8 2.9-2.9 3.6-2.9 4.3-2.8 5-2.9 5.7-2.9 6.5-2.8 7.4-2.9 8.2-2.9 9.1-2.8 10-2.9 11-2.9 12-2.8 12.9-2.9 14-2.9 15-2.8 16.2-2.9 17.2-2.8 18.3-2.9 19.4-2.9 20.6-2.8 21.6-2.9 22.7-2.9 23.6-2.8 24.7-1.7 14.2-1.6 14.5-1.6 14.6-1.6 14.9-1.6 15-1.6 15.1-1.6 15.1-1.6 15.1-1.7 14.9-1.6 14.5-1.6 14.1-1.6 13.3-1.6 11.9-1 0z" fill="#fa7b1f"/>
<path d="M1193.1 778.3l1 0 1.6-11.9 1.6-13.3 1.6-14.1 1.6-14.5 1.7-14.9 1.6-15.1 1.6-15.1 1.6-15.1 1.6-15 1.6-14.9 1.6-14.6 1.6-14.5 1.7-14.2 2.8-24.7 2.9-23.6 2.9-22.7 2.8-21.6 2.9-20.6 2.9-19.4 2.8-18.3 2.9-17.2 2.8-16.2 2.9-15 2.9-14 2.8-12.9 2.9-12 2.9-11 2.8-10 2.9-9.1 2.9-8.2 2.8-7.4 2.9-6.5 2.9-5.7 2.8-5 2.9-4.3 2.9-3.6 2.8-2.9 2.9-2.3 2.9-1.7 2.8-1.1 2.9-.5 2.9-.1 2.8 .4 4.5 1.6 4.5 2.6 4.5 3.6 4.5 4.4 4.4 5.2 4.5 5.8 4.5 6.5 4.5 7 4.5 7.5 4.4 7.9 4.5 8.2 4.5 8.6 4.5 8.9 4.4 9.1 4.5 9.2 4.5 9.4 4.5 9.5 4.5 9.6 4.4 9.6 4.5 9.7 4.5 9.6 4.5 9.6 4.5 9.6 4.4 9.4 4.5 9.4 4.5 9.3 4.5 9.2 4.4 9.1 4.5 8.9 4.5 8.8 4.5 8.6 4.5 8.5 4.4 8.3 4.5 8.1 4.5 8 4.5 7.8 4.5 7.6 4.4 7.4 4.5 7.3 4.5 7 4.5 6.9 4.5 6.7 4.4 6.5 4.5 6.4 4.5 6.1 4.5 6 4.4 5.8 4.5 5.7 4.5 5.4 4.5 5.3 4.5 5.1 4.4 5 4.5 4.8 4.5 4.7 4.5 4.5 4.5 4.3 8.9 8.3 9 7.7 8.9 7.2 9 6.7 8.9 6.2 9 5.8 9 5.4 8.9 4.9 9 4.6 8.9 4.3 9 3.9 8.9 3.6 9 3.4 9 3.1 8.9 2.8 9 2.7 8.9 2.4 9 2.2 8.9 2.1 9 1.8 17.9 3.4 17.9 2.7 17.9 2.4 18 2 17.9 1.6 17.9 1.4 17.9 1.1 17.9 1 17.9 .8 18 .7 17.9 .5 17.9 .5 13.1 .3 1 0 0 .2-1 0-13.1-.3-17.9-.4-17.9-.6-18-.6-17.9-.8-17.9-.9-17.9-1.1-17.9-1.3-17.9-1.6-18-1.9-17.9-2.3-17.9-2.8-17.9-3.2-9-1.9-8.9-2-9-2.2-8.9-2.4-9-2.6-8.9-2.9-9-3.1-9-3.3-8.9-3.6-9-4-8.9-4.3-9-4.6-8.9-5-9-5.4-9-5.9-8.9-6.3-9-6.8-8.9-7.3-9-7.8-8.9-8.5-4.5-4.4-4.5-4.6-4.5-4.8-4.5-4.9-4.4-5-4.5-5.3-4.5-5.4-4.5-5.6-4.5-5.8-4.4-5.9-4.5-6.1-4.5-6.3-4.5-6.5-4.4-6.7-4.5-6.9-4.5-7.1-4.5-7.2-4.5-7.4-4.4-7.7-4.5-7.8-4.5-8-4.5-8.2-4.5-8.3-4.4-8.5-4.5-8.7-4.5-8.9-4.5-9-4.5-9.1-4.4-9.3-4.5-9.4-4.5-9.6-4.5-9.6-4.4-9.7-4.5-9.7-4.5-9.8-4.5-9.8-4.5-9.8-4.4-9.8-4.5-9.7-4.5-9.6-4.5-9.5-4.5-9.3-4.4-9.2-4.5-8.8-4.5-8.6-4.5-8.2-4.4-7.8-4.5-7.3-4.5-6.8-4.5-6.2-4.5-5.5-4.4-4.8-4.5-4-4.5-3-4.5-2.1-4.5-.9-2.8 0-2.9 .6-2.9 1-2.8 1.7-2.9 2.2-2.9 2.9-2.8 3.6-2.9 4.2-2.9 5-2.8 5.7-2.9 6.5-2.9 7.3-2.8 8.1-2.9 9-2.9 9.9-2.8 10.9-2.9 11.7-2.9 12.8-2.8 13.8-2.9 14.7-2.9 15.9-2.8 16.8-2.9 17.9-2.8 18.9-2.9 19.9-2.9 21-2.8 21.9-2.9 22.8-2.9 23.7-2.8 24.4-1.7 14-1.6 14.1-1.6 14.3-1.6 14.4-1.6 14.4-1.6 14.3-1.6 14.3-1.6 14-1.7 13.8-1.6 13.2-1.6 12.6-1.6 11.6-1.6 10.1-1 0z" fill="#f66c19"/>
<path d="M1193.1 780.5l1 0 1.6-10.1 1.6-11.6 1.6-12.6 1.6-13.2 1.7-13.8 1.6-14 1.6-14.3 1.6-14.3 1.6-14.4 1.6-14.4 1.6-14.3 1.6-14.1 1.7-14 2.8-24.4 2.9-23.7 2.9-22.8 2.8-21.9 2.9-21 2.9-19.9 2.8-18.9 2.9-17.9 2.8-16.8 2.9-15.9 2.9-14.7 2.8-13.8 2.9-12.8 2.9-11.7 2.8-10.9 2.9-9.9 2.9-9 2.8-8.1 2.9-7.3 2.9-6.5 2.8-5.7 2.9-5 2.9-4.2 2.8-3.6 2.9-2.9 2.9-2.2 2.8-1.7 2.9-1 2.9-.6 2.8 0 4.5 .9 4.5 2.1 4.5 3 4.5 4 4.4 4.8 4.5 5.5 4.5 6.2 4.5 6.8 4.5 7.3 4.4 7.8 4.5 8.2 4.5 8.6 4.5 8.8 4.4 9.2 4.5 9.3 4.5 9.5 4.5 9.6 4.5 9.7 4.4 9.8 4.5 9.8 4.5 9.8 4.5 9.8 4.5 9.7 4.4 9.7 4.5 9.6 4.5 9.6 4.5 9.4 4.4 9.3 4.5 9.1 4.5 9 4.5 8.9 4.5 8.7 4.4 8.5 4.5 8.3 4.5 8.2 4.5 8 4.5 7.8 4.4 7.7 4.5 7.4 4.5 7.2 4.5 7.1 4.5 6.9 4.4 6.7 4.5 6.5 4.5 6.3 4.5 6.1 4.4 5.9 4.5 5.8 4.5 5.6 4.5 5.4 4.5 5.3 4.4 5 4.5 4.9 4.5 4.8 4.5 4.6 4.5 4.4 8.9 8.5 9 7.8 8.9 7.3 9 6.8 8.9 6.3 9 5.9 9 5.4 8.9 5 9 4.6 8.9 4.3 9 4 8.9 3.6 9 3.3 9 3.1 8.9 2.9 9 2.6 8.9 2.4 9 2.2 8.9 2 9 1.9 17.9 3.2 17.9 2.8 17.9 2.3 18 1.9 17.9 1.6 17.9 1.3 17.9 1.1 17.9 .9 17.9 .8 18 .6 17.9 .6 17.9 .4 13.1 .3 1 0 0-.1-1 0-13.1-.3-17.9-.4-17.9-.6-18-.6-17.9-.8-17.9-.9-17.9-1.1-17.9-1.4-17.9-1.6-18-2-17.9-2.3-17.9-2.7-17.9-3.3-9-1.9-8.9-2-9-2.3-8.9-2.4-9-2.6-8.9-2.9-9-3.1-9-3.3-8.9-3.7-9-3.9-8.9-4.3-9-4.7-8.9-5-9-5.4-9-5.8-8.9-6.3-9-6.8-8.9-7.3-9-7.8-8.9-8.4-4.5-4.5-4.5-4.5-4.5-4.8-4.5-4.9-4.4-5-4.5-5.2-4.5-5.4-4.5-5.6-4.5-5.7-4.4-5.9-4.5-6.1-4.5-6.3-4.5-6.5-4.4-6.6-4.5-6.8-4.5-7.1-4.5-7.2-4.5-7.4-4.4-7.5-4.5-7.8-4.5-7.9-4.5-8.1-4.5-8.3-4.4-8.5-4.5-8.6-4.5-8.8-4.5-9-4.5-9-4.4-9.3-4.5-9.3-4.5-9.4-4.5-9.6-4.4-9.6-4.5-9.7-4.5-9.7-4.5-9.8-4.5-9.7-4.4-9.7-4.5-9.6-4.5-9.6-4.5-9.4-4.5-9.3-4.4-9.1-4.5-8.8-4.5-8.5-4.5-8.2-4.4-7.8-4.5-7.3-4.5-6.8-4.5-6.2-4.5-5.6-4.4-4.8-4.5-4-4.5-3.1-4.5-2.1-4.5-1.1-2.8 0-2.9 .4-2.9 1-2.8 1.5-2.9 2.2-2.9 2.8-2.8 3.4-2.9 4.1-2.9 4.8-2.8 5.5-2.9 6.4-2.9 7.1-2.8 8-2.9 8.8-2.9 9.7-2.8 10.7-2.9 11.6-2.9 12.6-2.8 13.5-2.9 14.6-2.9 15.6-2.8 16.7-2.9 17.7-2.8 18.7-2.9 19.8-2.9 20.9-2.8 21.8-2.9 22.7-2.9 23.6-2.8 24.4-1.7 14-1.6 14.2-1.6 14.4-1.6 14.4-1.6 14.5-1.6 14.5-1.6 14.4-1.6 14.2-1.7 14-1.6 13.5-1.6 12.9-1.6 11.9-1.6 10.4-1 0z" fill="#f36315"/>
<path d="M1193.1 780l1 0 1.6-10.4 1.6-11.9 1.6-12.9 1.6-13.5 1.7-14 1.6-14.2 1.6-14.4 1.6-14.5 1.6-14.5 1.6-14.4 1.6-14.4 1.6-14.2 1.7-14 2.8-24.4 2.9-23.6 2.9-22.7 2.8-21.8 2.9-20.9 2.9-19.8 2.8-18.7 2.9-17.7 2.8-16.7 2.9-15.6 2.9-14.6 2.8-13.5 2.9-12.6 2.9-11.6 2.8-10.7 2.9-9.7 2.9-8.8 2.8-8 2.9-7.1 2.9-6.4 2.8-5.5 2.9-4.8 2.9-4.1 2.8-3.4 2.9-2.8 2.9-2.2 2.8-1.5 2.9-1 2.9-.4 2.8 0 4.5 1.1 4.5 2.1 4.5 3.1 4.5 4 4.4 4.8 4.5 5.6 4.5 6.2 4.5 6.8 4.5 7.3 4.4 7.8 4.5 8.2 4.5 8.5 4.5 8.8 4.4 9.1 4.5 9.3 4.5 9.4 4.5 9.6 4.5 9.6 4.4 9.7 4.5 9.7 4.5 9.8 4.5 9.7 4.5 9.7 4.4 9.6 4.5 9.6 4.5 9.4 4.5 9.3 4.4 9.3 4.5 9 4.5 9 4.5 8.8 4.5 8.6 4.4 8.5 4.5 8.3 4.5 8.1 4.5 7.9 4.5 7.8 4.4 7.5 4.5 7.4 4.5 7.2 4.5 7.1 4.5 6.8 4.4 6.6 4.5 6.5 4.5 6.3 4.5 6.1 4.4 5.9 4.5 5.7 4.5 5.6 4.5 5.4 4.5 5.2 4.4 5 4.5 4.9 4.5 4.8 4.5 4.5 4.5 4.5 8.9 8.4 9 7.8 8.9 7.3 9 6.8 8.9 6.3 9 5.8 9 5.4 8.9 5 9 4.7 8.9 4.3 9 3.9 8.9 3.7 9 3.3 9 3.1 8.9 2.9 9 2.6 8.9 2.4 9 2.3 8.9 2 9 1.9 17.9 3.3 17.9 2.7 17.9 2.3 18 2 17.9 1.6 17.9 1.4 17.9 1.1 17.9 .9 17.9 .8 18 .6 17.9 .6 17.9 .4 13.1 .3 1 0 0 .4-1 0-13.1-.2-17.9-.3-17.9-.5-18-.5-17.9-.7-17.9-.8-17.9-.9-17.9-1.2-17.9-1.4-18-1.7-17.9-2.1-17.9-2.5-17.9-3-9-1.7-8.9-1.9-9-2-8.9-2.3-9-2.4-8.9-2.7-9-2.9-9-3.2-8.9-3.5-9-3.8-8.9-4.1-9-4.5-8.9-4.9-9-5.3-9-5.7-8.9-6.2-9-6.7-8.9-7.2-9-7.8-8.9-8.5-4.5-4.4-4.5-4.6-4.5-4.8-4.5-4.9-4.4-5.1-4.5-5.3-4.5-5.5-4.5-5.7-4.5-5.8-4.4-6.1-4.5-6.2-4.5-6.5-4.5-6.6-4.4-6.9-4.5-7-4.5-7.3-4.5-7.4-4.5-7.7-4.4-7.9-4.5-8.1-4.5-8.2-4.5-8.5-4.5-8.7-4.4-8.9-4.5-9-4.5-9.3-4.5-9.4-4.5-9.6-4.4-9.7-4.5-9.9-4.5-10-4.5-10.1-4.4-10.2-4.5-10.3-4.5-10.4-4.5-10.3-4.5-10.4-4.4-10.4-4.5-10.3-4.5-10.2-4.5-10.1-4.5-9.9-4.4-9.7-4.5-9.4-4.5-9.1-4.5-8.8-4.4-8.3-4.5-7.8-4.5-7.2-4.5-6.6-4.5-5.9-4.4-5.1-4.5-4.2-4.5-3.3-4.5-2.1-4.5-.9-2.8 0-2.9 .6-2.9 1.2-2.8 1.8-2.9 2.5-2.9 3.1-2.8 3.9-2.9 4.6-2.9 5.3-2.8 6.2-2.9 7-2.9 7.9-2.8 8.7-2.9 9.7-2.9 10.6-2.8 11.6-2.9 12.6-2.9 13.6-2.8 14.7-2.9 15.7-2.9 16.7-2.8 17.8-2.9 18.9-2.8 19.9-2.9 20.9-2.9 21.9-2.8 22.8-2.9 23.6-2.9 24.4-2.8 25-1.7 14.2-1.6 14.4-1.6 14.4-1.6 14.4-1.6 14.4-1.6 14.2-1.6 14.1-1.6 13.7-1.7 13.3-1.6 12.6-1.6 11.8-1.6 10.7-1.6 8.9-1 0z" fill="#f15d13"/>
<path d="M1193.1 781.7l1 0 1.6-8.9 1.6-10.7 1.6-11.8 1.6-12.6 1.7-13.3 1.6-13.7 1.6-14.1 1.6-14.2 1.6-14.4 1.6-14.4 1.6-14.4 1.6-14.4 1.7-14.2 2.8-25 2.9-24.4 2.9-23.6 2.8-22.8 2.9-21.9 2.9-20.9 2.8-19.9 2.9-18.9 2.8-17.8 2.9-16.7 2.9-15.7 2.8-14.7 2.9-13.6 2.9-12.6 2.8-11.6 2.9-10.6 2.9-9.7 2.8-8.7 2.9-7.9 2.9-7 2.8-6.2 2.9-5.3 2.9-4.6 2.8-3.9 2.9-3.1 2.9-2.5 2.8-1.8 2.9-1.2 2.9-.6 2.8 0 4.5 .9 4.5 2.1 4.5 3.3 4.5 4.2 4.4 5.1 4.5 5.9 4.5 6.6 4.5 7.2 4.5 7.8 4.4 8.3 4.5 8.8 4.5 9.1 4.5 9.4 4.4 9.7 4.5 9.9 4.5 10.1 4.5 10.2 4.5 10.3 4.4 10.4 4.5 10.4 4.5 10.3 4.5 10.4 4.5 10.3 4.4 10.2 4.5 10.1 4.5 10 4.5 9.9 4.4 9.7 4.5 9.6 4.5 9.4 4.5 9.3 4.5 9 4.4 8.9 4.5 8.7 4.5 8.5 4.5 8.2 4.5 8.1 4.4 7.9 4.5 7.7 4.5 7.4 4.5 7.3 4.5 7 4.4 6.9 4.5 6.6 4.5 6.5 4.5 6.2 4.4 6.1 4.5 5.8 4.5 5.7 4.5 5.5 4.5 5.3 4.4 5.1 4.5 4.9 4.5 4.8 4.5 4.6 4.5 4.4 8.9 8.5 9 7.8 8.9 7.2 9 6.7 8.9 6.2 9 5.7 9 5.3 8.9 4.9 9 4.5 8.9 4.1 9 3.8 8.9 3.5 9 3.2 9 2.9 8.9 2.7 9 2.4 8.9 2.3 9 2 8.9 1.9 9 1.7 17.9 3 17.9 2.5 17.9 2.1 18 1.7 17.9 1.4 17.9 1.2 17.9 .9 17.9 .8 17.9 .7 18 .5 17.9 .5 17.9 .3 13.1 .2 1 0 0-.1-1 0-13.1-.2-17.9-.4-17.9-.4-18-.6-17.9-.6-17.9-.8-17.9-1-17.9-1.2-17.9-1.4-18-1.7-17.9-2-17.9-2.4-17.9-3-9-1.6-8.9-1.9-9-1.9-8.9-2.2-9-2.4-8.9-2.6-9-2.8-9-3.1-8.9-3.3-9-3.7-8.9-3.9-9-4.3-8.9-4.7-9-5-9-5.5-8.9-5.9-9-6.4-8.9-6.9-9-7.4-8.9-8-4.5-4.3-4.5-4.4-4.5-4.5-4.5-4.7-4.4-4.9-4.5-5-4.5-5.2-4.5-5.4-4.5-5.6-4.4-5.8-4.5-5.9-4.5-6.2-4.5-6.3-4.4-6.6-4.5-6.7-4.5-6.9-4.5-7.2-4.5-7.3-4.4-7.6-4.5-7.7-4.5-8-4.5-8.1-4.5-8.4-4.4-8.5-4.5-8.8-4.5-8.9-4.5-9.1-4.5-9.3-4.4-9.5-4.5-9.7-4.5-9.7-4.5-10-4.4-10-4.5-10.1-4.5-10.3-4.5-10.3-4.5-10.4-4.4-10.3-4.5-10.4-4.5-10.4-4.5-10.2-4.5-10.2-4.4-10.1-4.5-9.8-4.5-9.6-4.5-9.4-4.4-9-4.5-8.6-4.5-8.1-4.5-7.7-4.5-7-4.4-6.3-4.5-5.6-4.5-4.7-4.5-3.8-4.5-2.7-2.8-1.2-2.9-.6-2.9-.1-2.8 .4-2.9 1.1-2.9 1.7-2.8 2.3-2.9 3.1-2.9 3.8-2.8 4.5-2.9 5.4-2.9 6.2-2.8 7.1-2.9 8-2.9 9-2.8 10-2.9 11-2.9 12.1-2.8 13.1-2.9 14.4-2.9 15.4-2.8 16.7-2.9 17.9-2.8 19.1-2.9 20.3-2.9 21.6-2.8 22.7-2.9 24-2.9 25.1-2.8 26.2-1.7 15.2-1.6 15.5-1.6 15.7-1.6 15.9-1.6 16.1-1.6 16.2-1.6 16.2-1.6 16.2-1.7 16.1-1.6 15.7-1.6 15.2-1.6 14.4-1.6 12.9-1 0z" fill="#ed5510"/>
<path d="M1193.1 777.6l1 0 1.6-12.9 1.6-14.4 1.6-15.2 1.6-15.7 1.7-16.1 1.6-16.2 1.6-16.2 1.6-16.2 1.6-16.1 1.6-15.9 1.6-15.7 1.6-15.5 1.7-15.2 2.8-26.2 2.9-25.1 2.9-24 2.8-22.7 2.9-21.6 2.9-20.3 2.8-19.1 2.9-17.9 2.8-16.7 2.9-15.4 2.9-14.4 2.8-13.1 2.9-12.1 2.9-11 2.8-10 2.9-9 2.9-8 2.8-7.1 2.9-6.2 2.9-5.4 2.8-4.5 2.9-3.8 2.9-3.1 2.8-2.3 2.9-1.7 2.9-1.1 2.8-.4 2.9 .1 2.9 .6 2.8 1.2 4.5 2.7 4.5 3.8 4.5 4.7 4.5 5.6 4.4 6.3 4.5 7 4.5 7.7 4.5 8.1 4.5 8.6 4.4 9 4.5 9.4 4.5 9.6 4.5 9.8 4.4 10.1 4.5 10.2 4.5 10.2 4.5 10.4 4.5 10.4 4.4 10.3 4.5 10.4 4.5 10.3 4.5 10.3 4.5 10.1 4.4 10 4.5 10 4.5 9.7 4.5 9.7 4.4 9.5 4.5 9.3 4.5 9.1 4.5 8.9 4.5 8.8 4.4 8.5 4.5 8.4 4.5 8.1 4.5 8 4.5 7.7 4.4 7.6 4.5 7.3 4.5 7.2 4.5 6.9 4.5 6.7 4.4 6.6 4.5 6.3 4.5 6.2 4.5 5.9 4.4 5.8 4.5 5.6 4.5 5.4 4.5 5.2 4.5 5 4.4 4.9 4.5 4.7 4.5 4.5 4.5 4.4 4.5 4.3 8.9 8 9 7.4 8.9 6.9 9 6.4 8.9 5.9 9 5.5 9 5 8.9 4.7 9 4.3 8.9 3.9 9 3.7 8.9 3.3 9 3.1 9 2.8 8.9 2.6 9 2.4 8.9 2.2 9 1.9 8.9 1.9 9 1.6 17.9 3 17.9 2.4 17.9 2 18 1.7 17.9 1.4 17.9 1.2 17.9 1 17.9 .8 17.9 .6 18 .6 17.9 .4 17.9 .4 13.1 .2 1 0 0-.6-1 0-13.1-.3-17.9-.5-17.9-.6-18-.7-17.9-.8-17.9-1-17.9-1.2-17.9-1.5-17.9-1.7-18-2-17.9-2.4-17.9-2.8-17.9-3.4-9-1.9-8.9-2-9-2.2-8.9-2.5-9-2.6-8.9-2.8-9-3.1-9-3.3-8.9-3.7-9-3.8-8.9-4.3-9-4.5-8.9-4.9-9-5.3-9-5.6-8.9-6.1-9-6.6-8.9-7-9-7.6-8.9-8.1-4.5-4.2-4.5-4.4-4.5-4.5-4.5-4.7-4.4-4.8-4.5-5-4.5-5.2-4.5-5.3-4.5-5.5-4.4-5.6-4.5-5.8-4.5-6-4.5-6.2-4.4-6.3-4.5-6.5-4.5-6.7-4.5-6.8-4.5-7.1-4.4-7.2-4.5-7.4-4.5-7.5-4.5-7.8-4.5-7.9-4.4-8-4.5-8.3-4.5-8.4-4.5-8.5-4.5-8.7-4.4-8.8-4.5-9-4.5-9.1-4.5-9.1-4.4-9.3-4.5-9.4-4.5-9.4-4.5-9.4-4.5-9.5-4.4-9.5-4.5-9.5-4.5-9.4-4.5-9.3-4.5-9.2-4.4-9.1-4.5-8.9-4.5-8.7-4.5-8.4-4.4-8.1-4.5-7.7-4.5-7.2-4.5-6.9-4.5-6.2-4.4-5.6-4.5-5-4.5-4.1-4.5-3.4-4.5-2.3-2.8-1-2.9-.5-2.9-.1-2.8 .5-2.9 1-2.9 1.6-2.8 2.1-2.9 2.8-2.9 3.5-2.8 4.1-2.9 4.9-2.9 5.6-2.8 6.4-2.9 7.3-2.9 8.2-2.8 9-2.9 10-2.9 11-2.8 11.9-2.9 13.1-2.9 14.1-2.8 15.3-2.9 16.3-2.8 17.6-2.9 18.8-2.9 20-2.8 21.2-2.9 22.4-2.9 23.6-2.8 24.8-1.7 14.5-1.6 14.8-1.6 15.1-1.6 15.5-1.6 15.7-1.6 15.9-1.6 16.1-1.6 16.3-1.7 16.3-1.6 16.2-1.6 16-1.6 15.5-1.6 14.5-1 0z" fill="#eb500e"/>
<path d="M1193.1 775.1l1 0 1.6-14.5 1.6-15.5 1.6-16 1.6-16.2 1.7-16.3 1.6-16.3 1.6-16.1 1.6-15.9 1.6-15.7 1.6-15.5 1.6-15.1 1.6-14.8 1.7-14.5 2.8-24.8 2.9-23.6 2.9-22.4 2.8-21.2 2.9-20 2.9-18.8 2.8-17.6 2.9-16.3 2.8-15.3 2.9-14.1 2.9-13.1 2.8-11.9 2.9-11 2.9-10 2.8-9 2.9-8.2 2.9-7.3 2.8-6.4 2.9-5.6 2.9-4.9 2.8-4.1 2.9-3.5 2.9-2.8 2.8-2.1 2.9-1.6 2.9-1 2.8-.5 2.9 .1 2.9 .5 2.8 1 4.5 2.3 4.5 3.4 4.5 4.1 4.5 5 4.4 5.6 4.5 6.2 4.5 6.9 4.5 7.2 4.5 7.7 4.4 8.1 4.5 8.4 4.5 8.7 4.5 8.9 4.4 9.1 4.5 9.2 4.5 9.3 4.5 9.4 4.5 9.5 4.4 9.5 4.5 9.5 4.5 9.4 4.5 9.4 4.5 9.4 4.4 9.3 4.5 9.1 4.5 9.1 4.5 9 4.4 8.8 4.5 8.7 4.5 8.5 4.5 8.4 4.5 8.3 4.4 8 4.5 7.9 4.5 7.8 4.5 7.5 4.5 7.4 4.4 7.2 4.5 7.1 4.5 6.8 4.5 6.7 4.5 6.5 4.4 6.3 4.5 6.2 4.5 6 4.5 5.8 4.4 5.6 4.5 5.5 4.5 5.3 4.5 5.2 4.5 5 4.4 4.8 4.5 4.7 4.5 4.5 4.5 4.4 4.5 4.2 8.9 8.1 9 7.6 8.9 7 9 6.6 8.9 6.1 9 5.6 9 5.3 8.9 4.9 9 4.5 8.9 4.3 9 3.8 8.9 3.7 9 3.3 9 3.1 8.9 2.8 9 2.6 8.9 2.5 9 2.2 8.9 2 9 1.9 17.9 3.4 17.9 2.8 17.9 2.4 18 2 17.9 1.7 17.9 1.5 17.9 1.2 17.9 1 17.9 .8 18 .7 17.9 .6 17.9 .5 13.1 .3 1 0 0-.1-1 0-13.1-.4-17.9-.5-17.9-.6-18-.7-17.9-.9-17.9-1-17.9-1.2-17.9-1.5-17.9-1.8-18-2-17.9-2.5-17.9-2.9-17.9-3.4-9-1.9-8.9-2.1-9-2.3-8.9-2.4-9-2.7-8.9-2.9-9-3.1-9-3.3-8.9-3.7-9-3.9-8.9-4.3-9-4.5-8.9-4.9-9-5.4-9-5.7-8.9-6.1-9-6.5-8.9-7.1-9-7.5-8.9-8.1-4.5-4.3-4.5-4.3-4.5-4.6-4.5-4.6-4.4-4.9-4.5-4.9-4.5-5.2-4.5-5.3-4.5-5.4-4.4-5.6-4.5-5.8-4.5-6-4.5-6.1-4.4-6.3-4.5-6.4-4.5-6.7-4.5-6.8-4.5-7-4.4-7.1-4.5-7.4-4.5-7.4-4.5-7.7-4.5-7.8-4.4-8-4.5-8.2-4.5-8.3-4.5-8.5-4.5-8.5-4.4-8.8-4.5-8.8-4.5-9-4.5-9.1-4.4-9.1-4.5-9.3-4.5-9.2-4.5-9.4-4.5-9.3-4.4-9.4-4.5-9.3-4.5-9.3-4.5-9.2-4.5-9.1-4.4-8.9-4.5-8.8-4.5-8.5-4.5-8.3-4.4-7.9-4.5-7.6-4.5-7.2-4.5-6.7-4.5-6.1-4.4-5.6-4.5-4.8-4.5-4.2-4.5-3.2-4.5-2.3-2.8-1-2.9-.5-2.9-.1-2.8 .5-2.9 .9-2.9 1.6-2.8 2.1-2.9 2.7-2.9 3.4-2.8 4.1-2.9 4.8-2.9 5.5-2.8 6.3-2.9 7.1-2.9 8-2.8 8.9-2.9 9.9-2.9 10.7-2.8 11.8-2.9 12.9-2.9 13.9-2.8 15-2.9 16.2-2.8 17.3-2.9 18.5-2.9 19.8-2.8 20.9-2.9 22.2-2.9 23.4-2.8 24.6-1.7 14.4-1.6 14.7-1.6 15.1-1.6 15.3-1.6 15.7-1.6 15.9-1.6 16.1-1.6 16.3-1.7 16.3-1.6 16.4-1.6 16.1-1.6 15.7-1.6 14.8-1 0z" fill="#e7490c"/>
<path d="M1193.1 774.6l1 0 1.6-14.8 1.6-15.7 1.6-16.1 1.6-16.4 1.7-16.3 1.6-16.3 1.6-16.1 1.6-15.9 1.6-15.7 1.6-15.3 1.6-15.1 1.6-14.7 1.7-14.4 2.8-24.6 2.9-23.4 2.9-22.2 2.8-20.9 2.9-19.8 2.9-18.5 2.8-17.3 2.9-16.2 2.8-15 2.9-13.9 2.9-12.9 2.8-11.8 2.9-10.7 2.9-9.9 2.8-8.9 2.9-8 2.9-7.1 2.8-6.3 2.9-5.5 2.9-4.8 2.8-4.1 2.9-3.4 2.9-2.7 2.8-2.1 2.9-1.6 2.9-.9 2.8-.5 2.9 .1 2.9 .5 2.8 1 4.5 2.3 4.5 3.2 4.5 4.2 4.5 4.8 4.4 5.6 4.5 6.1 4.5 6.7 4.5 7.2 4.5 7.6 4.4 7.9 4.5 8.3 4.5 8.5 4.5 8.8 4.4 8.9 4.5 9.1 4.5 9.2 4.5 9.3 4.5 9.3 4.4 9.4 4.5 9.3 4.5 9.4 4.5 9.2 4.5 9.3 4.4 9.1 4.5 9.1 4.5 9 4.5 8.8 4.4 8.8 4.5 8.5 4.5 8.5 4.5 8.3 4.5 8.2 4.4 8 4.5 7.8 4.5 7.7 4.5 7.4 4.5 7.4 4.4 7.1 4.5 7 4.5 6.8 4.5 6.7 4.5 6.4 4.4 6.3 4.5 6.1 4.5 6 4.5 5.8 4.4 5.6 4.5 5.4 4.5 5.3 4.5 5.2 4.5 4.9 4.4 4.9 4.5 4.6 4.5 4.6 4.5 4.3 4.5 4.3 8.9 8.1 9 7.5 8.9 7.1 9 6.5 8.9 6.1 9 5.7 9 5.4 8.9 4.9 9 4.5 8.9 4.3 9 3.9 8.9 3.7 9 3.3 9 3.1 8.9 2.9 9 2.7 8.9 2.4 9 2.3 8.9 2.1 9 1.9 17.9 3.4 17.9 2.9 17.9 2.5 18 2 17.9 1.8 17.9 1.5 17.9 1.2 17.9 1 17.9 .9 18 .7 17.9 .6 17.9 .5 13.1 .4 1 0 0-.3-1 0-13.1-.3-17.9-.6-17.9-.6-18-.8-17.9-.9-17.9-1-17.9-1.3-17.9-1.5-17.9-1.7-18-2.1-17.9-2.4-17.9-2.9-17.9-3.3-9-1.9-8.9-2.1-9-2.2-8.9-2.3-9-2.6-8.9-2.8-9-3-9-3.2-8.9-3.5-9-3.8-8.9-4-9-4.4-8.9-4.7-9-5-9-5.4-8.9-5.8-9-6.2-8.9-6.7-9-7.1-8.9-7.6-4.5-4-4.5-4.1-4.5-4.3-4.5-4.4-4.4-4.6-4.5-4.6-4.5-4.9-4.5-5-4.5-5.1-4.4-5.3-4.5-5.4-4.5-5.6-4.5-5.8-4.4-5.9-4.5-6.1-4.5-6.3-4.5-6.4-4.5-6.6-4.4-6.8-4.5-6.9-4.5-7.1-4.5-7.3-4.5-7.4-4.4-7.6-4.5-7.8-4.5-7.9-4.5-8.1-4.5-8.2-4.4-8.4-4.5-8.5-4.5-8.7-4.5-8.8-4.4-8.8-4.5-9-4.5-9.1-4.5-9.2-4.5-9.2-4.4-9.3-4.5-9.3-4.5-9.3-4.5-9.3-4.5-9.2-4.4-9.2-4.5-9-4.5-9-4.5-8.7-4.4-8.6-4.5-8.2-4.5-8-4.5-7.6-4.5-7.3-4.4-6.7-4.5-6.2-4.5-5.6-4.5-4.9-4.5-4.1-2.8-2.2-2.9-1.8-2.9-1.5-2.8-1-2.9-.5-2.9-.1-2.8 .5-2.9 1-2.9 1.6-2.8 2.2-2.9 2.9-2.9 3.6-2.8 4.3-2.9 5.1-2.9 5.9-2.8 6.8-2.9 7.7-2.9 8.6-2.8 9.7-2.9 10.8-2.9 11.9-2.8 13-2.9 14.3-2.8 15.6-2.9 17-2.9 18.4-2.8 19.9-2.9 21.5-2.9 23.1-2.8 24.8-1.7 14.7-1.6 15.3-1.6 15.9-1.6 16.5-1.6 17.1-1.6 17.6-1.6 18.3-1.6 19-1.7 19.5-1.6 20.2-1.6 20.7-1.6 21.3-1.6 21.7-1 0z" fill="#e2430a"/>
<path d="M1193.1 763.9l1 0 1.6-21.7 1.6-21.3 1.6-20.7 1.6-20.2 1.7-19.5 1.6-19 1.6-18.3 1.6-17.6 1.6-17.1 1.6-16.5 1.6-15.9 1.6-15.3 1.7-14.7 2.8-24.8 2.9-23.1 2.9-21.5 2.8-19.9 2.9-18.4 2.9-17 2.8-15.6 2.9-14.3 2.8-13 2.9-11.9 2.9-10.8 2.8-9.7 2.9-8.6 2.9-7.7 2.8-6.8 2.9-5.9 2.9-5.1 2.8-4.3 2.9-3.6 2.9-2.9 2.8-2.2 2.9-1.6 2.9-1 2.8-.5 2.9 .1 2.9 .5 2.8 1 2.9 1.5 2.9 1.8 2.8 2.2 4.5 4.1 4.5 4.9 4.5 5.6 4.5 6.2 4.4 6.7 4.5 7.3 4.5 7.6 4.5 8 4.5 8.2 4.4 8.6 4.5 8.7 4.5 9 4.5 9 4.4 9.2 4.5 9.2 4.5 9.3 4.5 9.3 4.5 9.3 4.4 9.3 4.5 9.2 4.5 9.2 4.5 9.1 4.5 9 4.4 8.8 4.5 8.8 4.5 8.7 4.5 8.5 4.4 8.4 4.5 8.2 4.5 8.1 4.5 7.9 4.5 7.8 4.4 7.6 4.5 7.4 4.5 7.3 4.5 7.1 4.5 6.9 4.4 6.8 4.5 6.6 4.5 6.4 4.5 6.3 4.5 6.1 4.4 5.9 4.5 5.8 4.5 5.6 4.5 5.4 4.4 5.3 4.5 5.1 4.5 5 4.5 4.9 4.5 4.6 4.4 4.6 4.5 4.4 4.5 4.3 4.5 4.1 4.5 4 8.9 7.6 9 7.1 8.9 6.7 9 6.2 8.9 5.8 9 5.4 9 5 8.9 4.7 9 4.4 8.9 4 9 3.8 8.9 3.5 9 3.2 9 3 8.9 2.8 9 2.6 8.9 2.3 9 2.2 8.9 2.1 9 1.9 17.9 3.3 17.9 2.9 17.9 2.4 18 2.1 17.9 1.7 17.9 1.5 17.9 1.3 17.9 1 17.9 .9 18 .8 17.9 .6 17.9 .6 13.1 .3 1 0 0-.1-1 0-13.1-.4-17.9-.5-17.9-.7-18-.7-17.9-.9-17.9-1.1-17.9-1.2-17.9-1.4-17.9-1.7-18-2-17.9-2.4-17.9-2.7-17.9-3.2-9-1.8-8.9-2-9-2-8.9-2.3-9-2.4-8.9-2.7-9-2.8-9-3-8.9-3.3-9-3.6-8.9-3.8-9-4.1-8.9-4.3-9-4.8-9-5-8.9-5.4-9-5.8-8.9-6.3-9-6.6-8.9-7.1-4.5-3.8-4.5-3.8-4.5-4-4.5-4.1-4.4-4.3-4.5-4.4-4.5-4.5-4.5-4.7-4.5-4.8-4.4-4.9-4.5-5.1-4.5-5.3-4.5-5.4-4.4-5.6-4.5-5.7-4.5-5.9-4.5-6.1-4.5-6.2-4.4-6.4-4.5-6.6-4.5-6.7-4.5-6.9-4.5-7.1-4.4-7.2-4.5-7.5-4.5-7.5-4.5-7.8-4.5-7.9-4.4-8.1-4.5-8.3-4.5-8.3-4.5-8.6-4.4-8.7-4.5-8.8-4.5-8.9-4.5-9.1-4.5-9.2-4.4-9.2-4.5-9.4-4.5-9.4-4.5-9.4-4.5-9.5-4.4-9.5-4.5-9.4-4.5-9.4-4.5-9.3-4.4-9.3-4.5-9-4.5-8.9-4.5-8.6-4.5-8.4-4.4-8-4.5-7.7-4.5-7.1-4.5-6.7-4.5-6.1-2.8-3.5-2.9-3.2-2.9-2.9-2.8-2.6-2.9-2.1-2.9-1.8-2.8-1.3-2.9-.9-2.9-.3-2.8 .2-2.9 .8-2.9 1.4-2.8 2.1-2.9 2.8-2.9 3.6-2.8 4.4-2.9 5.2-2.9 6.2-2.8 7.2-2.9 8.3-2.9 9.4-2.8 10.6-2.9 11.9-2.8 13.4-2.9 14.8-2.9 16.4-2.8 18.2-2.9 20-2.9 22.1-2.8 24.2-1.7 14.7-1.6 15.5-1.6 16.3-1.6 17.2-1.6 18.2-1.6 19.1-1.6 20.3-1.6 21.5-1.7 22.8-1.6 24.3-1.6 26.1-1.6 28.2-1.6 31.2-1 0z" fill="#d43305"/>
<path d="M1193.1 744.8l1 0 1.6-31.2 1.6-28.2 1.6-26.1 1.6-24.3 1.7-22.8 1.6-21.5 1.6-20.3 1.6-19.1 1.6-18.2 1.6-17.2 1.6-16.3 1.6-15.5 1.7-14.7 2.8-24.2 2.9-22.1 2.9-20 2.8-18.2 2.9-16.4 2.9-14.8 2.8-13.4 2.9-11.9 2.8-10.6 2.9-9.4 2.9-8.3 2.8-7.2 2.9-6.2 2.9-5.2 2.8-4.4 2.9-3.6 2.9-2.8 2.8-2.1 2.9-1.4 2.9-.8 2.8-.2 2.9 .3 2.9 .9 2.8 1.3 2.9 1.8 2.9 2.1 2.8 2.6 2.9 2.9 2.9 3.2 2.8 3.5 4.5 6.1 4.5 6.7 4.5 7.1 4.5 7.7 4.4 8 4.5 8.4 4.5 8.6 4.5 8.9 4.5 9 4.4 9.3 4.5 9.3 4.5 9.4 4.5 9.4 4.4 9.5 4.5 9.5 4.5 9.4 4.5 9.4 4.5 9.4 4.4 9.2 4.5 9.2 4.5 9.1 4.5 8.9 4.5 8.8 4.4 8.7 4.5 8.6 4.5 8.3 4.5 8.3 4.4 8.1 4.5 7.9 4.5 7.8 4.5 7.5 4.5 7.5 4.4 7.2 4.5 7.1 4.5 6.9 4.5 6.7 4.5 6.6 4.4 6.4 4.5 6.2 4.5 6.1 4.5 5.9 4.5 5.7 4.4 5.6 4.5 5.4 4.5 5.3 4.5 5.1 4.4 4.9 4.5 4.8 4.5 4.7 4.5 4.5 4.5 4.4 4.4 4.3 4.5 4.1 4.5 4 4.5 3.8 4.5 3.8 8.9 7.1 9 6.6 8.9 6.3 9 5.8 8.9 5.4 9 5 9 4.8 8.9 4.3 9 4.1 8.9 3.8 9 3.6 8.9 3.3 9 3 9 2.8 8.9 2.7 9 2.4 8.9 2.3 9 2 8.9 2 9 1.8 17.9 3.2 17.9 2.7 17.9 2.4 18 2 17.9 1.7 17.9 1.4 17.9 1.2 17.9 1.1 17.9 .9 18 .7 17.9 .7 17.9 .5 13.1 .4 1 0 0 1.1-1 0-13.1-.2-17.9-.4-17.9-.4-18-.5-17.9-.6-17.9-.7-17.9-.9-17.9-1-17.9-1.3-18-1.4-17.9-1.8-17.9-2.1-17.9-2.5-9-1.4-8.9-1.5-9-1.7-8.9-1.8-9-2-8.9-2.1-9-2.4-9-2.5-8.9-2.8-9-3-8.9-3.3-9-3.5-8.9-3.8-9-4.2-9-4.4-8.9-4.9-9-5.2-8.9-5.7-9-6.1-8.9-6.6-4.5-3.5-4.5-3.6-4.5-3.8-4.5-3.9-4.4-4-4.5-4.2-4.5-4.4-4.5-4.5-4.5-4.6-4.4-4.8-4.5-5-4.5-5.2-4.5-5.4-4.4-5.5-4.5-5.7-4.5-5.9-4.5-6.1-4.5-6.3-4.4-6.5-4.5-6.7-4.5-7-4.5-7.1-4.5-7.3-4.4-7.6-4.5-7.8-4.5-8-4.5-8.2-4.5-8.4-4.4-8.7-4.5-8.8-4.5-9.1-4.5-9.3-4.4-9.5-4.5-9.8-4.5-9.9-4.5-10.1-4.5-10.3-4.4-10.5-4.5-10.6-4.5-10.8-4.5-10.9-4.5-11-4.4-11.1-4.5-11.2-4.5-11.2-4.5-11.2-4.4-11.2-4.5-11.1-4.5-11-4.5-10.9-4.5-10.7-4.4-10.4-4.5-10.1-4.5-9.7-4.5-9.2-4.5-8.6-2.8-5.2-2.9-5-2.9-4.5-2.8-4.3-2.9-3.8-2.9-3.4-2.8-3-2.9-2.5-2.9-1.9-2.8-1.4-2.9-.7-2.9 0-2.8 .7-2.9 1.5-2.9 2.3-2.8 3.2-2.9 4.3-2.9 5.3-2.8 6.4-2.9 7.7-2.9 9-2.8 10.4-2.9 11.9-2.8 13.6-2.9 15.4-2.9 17.3-2.8 19.3-2.9 21.6-2.9 24-2.8 26.7-1.7 16.3-1.6 17.3-1.6 18.2-1.6 19.4-1.6 20.6-1.6 21.8-1.6 23.2-1.6 24.6-1.7 26.3-1.6 28.2-1.6 30.3-1.6 33-1.6 36.7-1 0z" fill="#d02f05"/>
<path d="M1193.1 736.6l1 0 1.6-36.7 1.6-33 1.6-30.3 1.6-28.2 1.7-26.3 1.6-24.6 1.6-23.2 1.6-21.8 1.6-20.6 1.6-19.4 1.6-18.2 1.6-17.3 1.7-16.3 2.8-26.7 2.9-24 2.9-21.6 2.8-19.3 2.9-17.3 2.9-15.4 2.8-13.6 2.9-11.9 2.8-10.4 2.9-9 2.9-7.7 2.8-6.4 2.9-5.3 2.9-4.3 2.8-3.2 2.9-2.3 2.9-1.5 2.8-.7 2.9 0 2.9 .7 2.8 1.4 2.9 1.9 2.9 2.5 2.8 3 2.9 3.4 2.9 3.8 2.8 4.3 2.9 4.5 2.9 5 2.8 5.2 4.5 8.6 4.5 9.2 4.5 9.7 4.5 10.1 4.4 10.4 4.5 10.7 4.5 10.9 4.5 11 4.5 11.1 4.4 11.2 4.5 11.2 4.5 11.2 4.5 11.2 4.4 11.1 4.5 11 4.5 10.9 4.5 10.8 4.5 10.6 4.4 10.5 4.5 10.3 4.5 10.1 4.5 9.9 4.5 9.8 4.4 9.5 4.5 9.3 4.5 9.1 4.5 8.8 4.4 8.7 4.5 8.4 4.5 8.2 4.5 8 4.5 7.8 4.4 7.6 4.5 7.3 4.5 7.1 4.5 7 4.5 6.7 4.4 6.5 4.5 6.3 4.5 6.1 4.5 5.9 4.5 5.7 4.4 5.5 4.5 5.4 4.5 5.2 4.5 5 4.4 4.8 4.5 4.6 4.5 4.5 4.5 4.4 4.5 4.2 4.4 4 4.5 3.9 4.5 3.8 4.5 3.6 4.5 3.5 8.9 6.6 9 6.1 8.9 5.7 9 5.2 8.9 4.9 9 4.4 9 4.2 8.9 3.8 9 3.5 8.9 3.3 9 3 8.9 2.8 9 2.5 9 2.4 8.9 2.1 9 2 8.9 1.8 9 1.7 8.9 1.5 9 1.4 17.9 2.5 17.9 2.1 17.9 1.8 18 1.4 17.9 1.3 17.9 1 17.9 .9 17.9 .7 17.9 .6 18 .5 17.9 .4 17.9 .4 13.1 .2 1 0 0 .3-1 0-13.1-.2-17.9-.3-17.9-.4-18-.4-17.9-.6-17.9-.6-17.9-.8-17.9-1-17.9-1.1-18-1.4-17.9-1.7-17.9-2-17.9-2.4-9-1.4-8.9-1.5-9-1.7-8.9-1.8-9-1.9-8.9-2.2-9-2.3-9-2.6-8.9-2.8-9-3.1-8.9-3.3-9-3.6-8.9-4-9-4.2-9-4.7-8.9-5-9-5.5-8.9-5.9-9-6.5-8.9-6.9-4.5-3.7-4.5-3.8-4.5-4-4.5-4.1-4.4-4.3-4.5-4.4-4.5-4.7-4.5-4.7-4.5-5-4.4-5.1-4.5-5.4-4.5-5.5-4.5-5.7-4.4-5.9-4.5-6.1-4.5-6.3-4.5-6.6-4.5-6.7-4.4-7-4.5-7.2-4.5-7.4-4.5-7.6-4.5-7.9-4.4-8.1-4.5-8.3-4.5-8.5-4.5-8.8-4.5-9-4.4-9.3-4.5-9.4-4.5-9.7-4.5-9.9-4.4-10.1-4.5-10.3-4.5-10.5-4.5-10.6-4.5-10.9-4.4-10.9-4.5-11.2-4.5-11.2-4.5-11.3-4.5-11.4-4.4-11.4-4.5-11.4-4.5-11.4-4.5-11.3-4.4-11.2-4.5-11.1-4.5-10.8-4.5-10.5-4.5-10.2-4.4-9.8-4.5-9.3-4.5-8.8-4.5-8-4.5-7.3-2.8-4.3-2.9-3.8-2.9-3.4-2.8-3-2.9-2.4-2.9-1.9-2.8-1.4-2.9-.7-2.9-.1-2.8 .6-2.9 1.3-2.9 2.2-2.8 3-2.9 4-2.9 4.9-2.8 5.9-2.9 7.1-2.9 8.2-2.8 9.5-2.9 10.7-2.9 12.2-2.8 13.6-2.9 15.2-2.8 16.8-2.9 18.5-2.9 20.4-2.8 22.3-2.9 24.3-2.9 26.3-2.8 28.6-1.7 17.1-1.6 17.8-1.6 18.6-1.6 19.4-1.6 20.1-1.6 21-1.6 21.7-1.6 22.6-1.7 23.4-1.6 24.2-1.6 24.9-1.6 25.6-1.6 26.2-1 0z" fill="#ca2a04"/>
<path d="M1193.1 759.1l1 0 1.6-26.2 1.6-25.6 1.6-24.9 1.6-24.2 1.7-23.4 1.6-22.6 1.6-21.7 1.6-21 1.6-20.1 1.6-19.4 1.6-18.6 1.6-17.8 1.7-17.1 2.8-28.6 2.9-26.3 2.9-24.3 2.8-22.3 2.9-20.4 2.9-18.5 2.8-16.8 2.9-15.2 2.8-13.6 2.9-12.2 2.9-10.7 2.8-9.5 2.9-8.2 2.9-7.1 2.8-5.9 2.9-4.9 2.9-4 2.8-3 2.9-2.2 2.9-1.3 2.8-.6 2.9 .1 2.9 .7 2.8 1.4 2.9 1.9 2.9 2.4 2.8 3 2.9 3.4 2.9 3.8 2.8 4.3 4.5 7.3 4.5 8 4.5 8.8 4.5 9.3 4.4 9.8 4.5 10.2 4.5 10.5 4.5 10.8 4.5 11.1 4.4 11.2 4.5 11.3 4.5 11.4 4.5 11.4 4.4 11.4 4.5 11.4 4.5 11.3 4.5 11.2 4.5 11.2 4.4 10.9 4.5 10.9 4.5 10.6 4.5 10.5 4.5 10.3 4.4 10.1 4.5 9.9 4.5 9.7 4.5 9.4 4.4 9.3 4.5 9 4.5 8.8 4.5 8.5 4.5 8.3 4.4 8.1 4.5 7.9 4.5 7.6 4.5 7.4 4.5 7.2 4.4 7 4.5 6.7 4.5 6.6 4.5 6.3 4.5 6.1 4.4 5.9 4.5 5.7 4.5 5.5 4.5 5.4 4.4 5.1 4.5 5 4.5 4.7 4.5 4.7 4.5 4.4 4.4 4.3 4.5 4.1 4.5 4 4.5 3.8 4.5 3.7 8.9 6.9 9 6.5 8.9 5.9 9 5.5 8.9 5 9 4.7 9 4.2 8.9 4 9 3.6 8.9 3.3 9 3.1 8.9 2.8 9 2.6 9 2.3 8.9 2.2 9 1.9 8.9 1.8 9 1.7 8.9 1.5 9 1.4 17.9 2.4 17.9 2 17.9 1.7 18 1.4 17.9 1.1 17.9 1 17.9 .8 17.9 .6 17.9 .6 18 .4 17.9 .4 17.9 .3 13.1 .2 1 0 0 0-1 0-13.1-.2-17.9-.3-17.9-.3-18-.5-17.9-.5-17.9-.7-17.9-.7-17.9-1-17.9-1.2-18-1.3-17.9-1.7-17.9-2-17.9-2.4-9-1.4-8.9-1.6-9-1.6-8.9-1.8-9-2-8.9-2.2-9-2.4-9-2.6-8.9-2.8-9-3.1-8.9-3.3-9-3.7-8.9-4-9-4.3-9-4.7-8.9-5.1-9-5.6-8.9-6-9-6.5-8.9-7-4.5-3.7-4.5-3.9-4.5-4-4.5-4.2-4.4-4.4-4.5-4.5-4.5-4.7-4.5-4.8-4.5-5-4.4-5.2-4.5-5.5-4.5-5.5-4.5-5.8-4.4-6-4.5-6.2-4.5-6.4-4.5-6.7-4.5-6.8-4.4-7.1-4.5-7.2-4.5-7.5-4.5-7.8-4.5-7.9-4.4-8.2-4.5-8.5-4.5-8.6-4.5-8.9-4.5-9.1-4.4-9.4-4.5-9.5-4.5-9.8-4.5-10-4.4-10.2-4.5-10.4-4.5-10.5-4.5-10.8-4.5-10.9-4.4-11-4.5-11.2-4.5-11.2-4.5-11.4-4.5-11.4-4.4-11.4-4.5-11.4-4.5-11.3-4.5-11.3-4.4-11.1-4.5-10.9-4.5-10.7-4.5-10.4-4.5-10-4.4-9.5-4.5-9.1-4.5-8.4-4.5-7.7-4.5-6.9-2.8-4-2.9-3.5-2.9-3.1-2.8-2.6-2.9-2.1-2.9-1.5-2.8-1-2.9-.3-2.9 .3-2.8 1.1-2.9 1.9-2.9 2.7-2.8 3.5-2.9 4.5-2.9 5.5-2.8 6.5-2.9 7.7-2.9 8.8-2.8 10.1-2.9 11.3-2.9 12.8-2.8 14.2-2.9 15.8-2.8 17.4-2.9 19.1-2.9 20.8-2.8 22.7-2.9 24.6-2.9 26.7-2.8 28.7-1.7 17.1-1.6 17.7-1.6 18.5-1.6 19.1-1.6 19.9-1.6 20.6-1.6 21.2-1.6 22-1.7 22.5-1.6 23.2-1.6 23.7-1.6 24.1-1.6 24.1-1 0z" fill="#c52603"/>
<path d="M1193.1 762.6l1 0 1.6-24.1 1.6-24.1 1.6-23.7 1.6-23.2 1.7-22.5 1.6-22 1.6-21.2 1.6-20.6 1.6-19.9 1.6-19.1 1.6-18.5 1.6-17.7 1.7-17.1 2.8-28.7 2.9-26.7 2.9-24.6 2.8-22.7 2.9-20.8 2.9-19.1 2.8-17.4 2.9-15.8 2.8-14.2 2.9-12.8 2.9-11.3 2.8-10.1 2.9-8.8 2.9-7.7 2.8-6.5 2.9-5.5 2.9-4.5 2.8-3.5 2.9-2.7 2.9-1.9 2.8-1.1 2.9-.3 2.9 .3 2.8 1 2.9 1.5 2.9 2.1 2.8 2.6 2.9 3.1 2.9 3.5 2.8 4 4.5 6.9 4.5 7.7 4.5 8.4 4.5 9.1 4.4 9.5 4.5 10 4.5 10.4 4.5 10.7 4.5 10.9 4.4 11.1 4.5 11.3 4.5 11.3 4.5 11.4 4.4 11.4 4.5 11.4 4.5 11.4 4.5 11.2 4.5 11.2 4.4 11 4.5 10.9 4.5 10.8 4.5 10.5 4.5 10.4 4.4 10.2 4.5 10 4.5 9.8 4.5 9.5 4.4 9.4 4.5 9.1 4.5 8.9 4.5 8.6 4.5 8.5 4.4 8.2 4.5 7.9 4.5 7.8 4.5 7.5 4.5 7.2 4.4 7.1 4.5 6.8 4.5 6.7 4.5 6.4 4.5 6.2 4.4 6 4.5 5.8 4.5 5.5 4.5 5.5 4.4 5.2 4.5 5 4.5 4.8 4.5 4.7 4.5 4.5 4.4 4.4 4.5 4.2 4.5 4 4.5 3.9 4.5 3.7 8.9 7 9 6.5 8.9 6 9 5.6 8.9 5.1 9 4.7 9 4.3 8.9 4 9 3.7 8.9 3.3 9 3.1 8.9 2.8 9 2.6 9 2.4 8.9 2.2 9 2 8.9 1.8 9 1.6 8.9 1.6 9 1.4 17.9 2.4 17.9 2 17.9 1.7 18 1.3 17.9 1.2 17.9 1 17.9 .7 17.9 .7 17.9 .5 18 .5 17.9 .3 17.9 .3 13.1 .2 1 0 0-7-1 0-13.1-.8-17.9-1.1-17.9-1.3-18-1.5-17.9-1.6-17.9-1.9-17.9-2-17.9-2.3-17.9-2.7-18-2.9-17.9-3.3-17.9-3.6-17.9-4.2-9-2.2-8.9-2.4-9-2.5-8.9-2.6-9-2.8-8.9-3-9-3.1-9-3.3-8.9-3.5-9-3.6-8.9-3.9-9-4.1-8.9-4.3-9-4.6-9-4.7-8.9-5.1-9-5.3-8.9-5.6-9-5.9-8.9-6.1-4.5-3.2-4.5-3.3-4.5-3.4-4.5-3.4-4.4-3.6-4.5-3.6-4.5-3.7-4.5-3.8-4.5-3.8-4.4-4-4.5-4.1-4.5-4.1-4.5-4.3-4.4-4.3-4.5-4.5-4.5-4.5-4.5-4.7-4.5-4.7-4.4-4.9-4.5-4.9-4.5-5.1-4.5-5.1-4.5-5.3-4.4-5.4-4.5-5.4-4.5-5.6-4.5-5.7-4.5-5.8-4.4-5.8-4.5-6-4.5-6.1-4.5-6.2-4.4-6.2-4.5-6.4-4.5-6.5-4.5-6.5-4.5-6.6-4.4-6.7-4.5-6.8-4.5-6.9-4.5-6.9-4.5-6.9-4.4-7-4.5-7.1-4.5-7-4.5-7.1-4.4-7.1-4.5-7.1-4.5-7-4.5-7-4.5-7-4.4-6.8-4.5-6.8-4.5-6.6-4.5-6.4-4.5-6.2-2.8-3.9-2.9-3.8-2.9-3.6-2.8-3.5-2.9-3.4-2.9-3.2-2.8-3-2.9-2.8-2.9-2.7-2.8-2.3-2.9-2.2-2.9-1.8-2.8-1.6-2.9-1.2-2.9-.9-2.8-.4-2.9 0-2.9 .4-2.8 1-2.9 1.6-2.9 2.2-2.8 2.9-2.9 3.7-2.8 4.6-2.9 5.6-2.9 6.7-2.8 8-2.9 9.4-2.9 11.1-2.8 13-1.7 8.4-1.6 9.1-1.6 10.1-1.6 11.1-1.6 12.4-1.6 13.7-1.6 15.4-1.6 17.3-1.7 19.9-1.6 23.1-1.6 27.5-1.6 34.4-1.6 47.1-1 0z" fill="#be2102"/>
<path d="M1193.1 640.4l1 0 1.6-47.1 1.6-34.4 1.6-27.5 1.6-23.1 1.7-19.9 1.6-17.3 1.6-15.4 1.6-13.7 1.6-12.4 1.6-11.1 1.6-10.1 1.6-9.1 1.7-8.4 2.8-13 2.9-11.1 2.9-9.4 2.8-8 2.9-6.7 2.9-5.6 2.8-4.6 2.9-3.7 2.8-2.9 2.9-2.2 2.9-1.6 2.8-1 2.9-.4 2.9 0 2.8 .4 2.9 .9 2.9 1.2 2.8 1.6 2.9 1.8 2.9 2.2 2.8 2.3 2.9 2.7 2.9 2.8 2.8 3 2.9 3.2 2.9 3.4 2.8 3.5 2.9 3.6 2.9 3.8 2.8 3.9 4.5 6.2 4.5 6.4 4.5 6.6 4.5 6.8 4.4 6.8 4.5 7 4.5 7 4.5 7 4.5 7.1 4.4 7.1 4.5 7.1 4.5 7 4.5 7.1 4.4 7 4.5 6.9 4.5 6.9 4.5 6.9 4.5 6.8 4.4 6.7 4.5 6.6 4.5 6.5 4.5 6.5 4.5 6.4 4.4 6.2 4.5 6.2 4.5 6.1 4.5 6 4.4 5.8 4.5 5.8 4.5 5.7 4.5 5.6 4.5 5.4 4.4 5.4 4.5 5.3 4.5 5.1 4.5 5.1 4.5 4.9 4.4 4.9 4.5 4.7 4.5 4.7 4.5 4.5 4.5 4.5 4.4 4.3 4.5 4.3 4.5 4.1 4.5 4.1 4.4 4 4.5 3.8 4.5 3.8 4.5 3.7 4.5 3.6 4.4 3.6 4.5 3.4 4.5 3.4 4.5 3.3 4.5 3.2 8.9 6.1 9 5.9 8.9 5.6 9 5.3 8.9 5.1 9 4.7 9 4.6 8.9 4.3 9 4.1 8.9 3.9 9 3.6 8.9 3.5 9 3.3 9 3.1 8.9 3 9 2.8 8.9 2.6 9 2.5 8.9 2.4 9 2.2 17.9 4.2 17.9 3.6 17.9 3.3 18 2.9 17.9 2.7 17.9 2.3 17.9 2 17.9 1.9 17.9 1.6 18 1.5 17.9 1.3 17.9 1.1 13.1 .8 1 0 0 3.8-1 0-13.1-.5-17.9-.8-17.9-.9-18-1-17.9-1.1-17.9-1.4-17.9-1.5-17.9-1.8-17.9-2.1-18-2.3-17.9-2.8-17.9-3.1-17.9-3.5-9-2-8.9-2.1-9-2.2-8.9-2.4-9-2.6-8.9-2.7-9-2.9-9-3.2-8.9-3.3-9-3.5-8.9-3.8-9-4.1-8.9-4.2-9-4.6-9-4.9-8.9-5.2-9-5.5-8.9-5.8-9-6.2-8.9-6.6-4.5-3.5-4.5-3.5-4.5-3.7-4.5-3.7-4.4-3.9-4.5-3.9-4.5-4.1-4.5-4.2-4.5-4.4-4.4-4.4-4.5-4.6-4.5-4.7-4.5-4.8-4.4-4.9-4.5-5.1-4.5-5.2-4.5-5.3-4.5-5.5-4.4-5.6-4.5-5.8-4.5-5.8-4.5-6.1-4.5-6.1-4.4-6.4-4.5-6.4-4.5-6.6-4.5-6.7-4.5-6.9-4.4-7-4.5-7.2-4.5-7.3-4.5-7.4-4.4-7.5-4.5-7.7-4.5-7.8-4.5-7.9-4.5-8-4.4-8.2-4.5-8.2-4.5-8.3-4.5-8.4-4.5-8.4-4.4-8.5-4.5-8.5-4.5-8.5-4.5-8.6-4.4-8.5-4.5-8.5-4.5-8.4-4.5-8.3-4.5-8.2-4.4-8-4.5-7.8-4.5-7.6-4.5-7.3-4.5-6.9-2.8-4.3-2.9-4-2.9-3.9-2.8-3.6-2.9-3.4-2.9-3.2-2.8-2.8-2.9-2.6-2.9-2.2-2.8-1.8-2.9-1.5-2.9-1-2.8-.6-2.9-.1-2.9 .5-2.8 1.1-2.9 1.8-2.9 2.4-2.8 3.2-2.9 4.1-2.9 4.9-2.8 6-2.9 7.1-2.8 8.2-2.9 9.6-2.9 11.1-2.8 12.6-2.9 14.6-2.9 16.6-2.8 18.9-1.7 11.8-1.6 12.8-1.6 13.8-1.6 14.9-1.6 16.2-1.6 17.6-1.6 19.3-1.6 21.3-1.7 23.5-1.6 26.4-1.6 30.1-1.6 35.5-1.6 44.4-1 0z" fill="#b21a01"/>
<path d="M1193.1 693.5l1 0 1.6-44.4 1.6-35.5 1.6-30.1 1.6-26.4 1.7-23.5 1.6-21.3 1.6-19.3 1.6-17.6 1.6-16.2 1.6-14.9 1.6-13.8 1.6-12.8 1.7-11.8 2.8-18.9 2.9-16.6 2.9-14.6 2.8-12.6 2.9-11.1 2.9-9.6 2.8-8.2 2.9-7.1 2.8-6 2.9-4.9 2.9-4.1 2.8-3.2 2.9-2.4 2.9-1.8 2.8-1.1 2.9-.5 2.9 .1 2.8 .6 2.9 1 2.9 1.5 2.8 1.8 2.9 2.2 2.9 2.6 2.8 2.8 2.9 3.2 2.9 3.4 2.8 3.6 2.9 3.9 2.9 4 2.8 4.3 4.5 6.9 4.5 7.3 4.5 7.6 4.5 7.8 4.4 8 4.5 8.2 4.5 8.3 4.5 8.4 4.5 8.5 4.4 8.5 4.5 8.6 4.5 8.5 4.5 8.5 4.4 8.5 4.5 8.4 4.5 8.4 4.5 8.3 4.5 8.2 4.4 8.2 4.5 8 4.5 7.9 4.5 7.8 4.5 7.7 4.4 7.5 4.5 7.4 4.5 7.3 4.5 7.2 4.4 7 4.5 6.9 4.5 6.7 4.5 6.6 4.5 6.4 4.4 6.4 4.5 6.1 4.5 6.1 4.5 5.8 4.5 5.8 4.4 5.6 4.5 5.5 4.5 5.3 4.5 5.2 4.5 5.1 4.4 4.9 4.5 4.8 4.5 4.7 4.5 4.6 4.4 4.4 4.5 4.4 4.5 4.2 4.5 4.1 4.5 3.9 4.4 3.9 4.5 3.7 4.5 3.7 4.5 3.5 4.5 3.5 8.9 6.6 9 6.2 8.9 5.8 9 5.5 8.9 5.2 9 4.9 9 4.6 8.9 4.2 9 4.1 8.9 3.8 9 3.5 8.9 3.3 9 3.2 9 2.9 8.9 2.7 9 2.6 8.9 2.4 9 2.2 8.9 2.1 9 2 17.9 3.5 17.9 3.1 17.9 2.8 18 2.3 17.9 2.1 17.9 1.8 17.9 1.5 17.9 1.4 17.9 1.1 18 1 17.9 .9 17.9 .8 13.1 .5 1 0 0 .6-1 0-13.1-.4-17.9-.7-17.9-.8-18-.9-17.9-1.1-17.9-1.2-17.9-1.4-17.9-1.7-17.9-1.9-18-2.2-17.9-2.5-17.9-2.9-17.9-3.4-9-1.8-8.9-2-9-2.2-8.9-2.3-9-2.4-8.9-2.7-9-2.8-9-3-8.9-3.2-9-3.4-8.9-3.7-9-3.9-8.9-4.2-9-4.5-9-4.8-8.9-5.1-9-5.4-8.9-5.8-9-6.2-8.9-6.5-4.5-3.4-4.5-3.6-4.5-3.6-4.5-3.8-4.4-3.8-4.5-4-4.5-4.1-4.5-4.2-4.5-4.4-4.4-4.4-4.5-4.6-4.5-4.8-4.5-4.8-4.4-5-4.5-5.2-4.5-5.2-4.5-5.5-4.5-5.5-4.4-5.7-4.5-5.9-4.5-6-4.5-6.2-4.5-6.3-4.4-6.4-4.5-6.6-4.5-6.8-4.5-6.9-4.5-7.1-4.4-7.2-4.5-7.4-4.5-7.5-4.5-7.7-4.4-7.8-4.5-8-4.5-8.1-4.5-8.2-4.5-8.3-4.4-8.5-4.5-8.6-4.5-8.7-4.5-8.7-4.5-8.9-4.4-8.9-4.5-8.9-4.5-9-4.5-9-4.4-9-4.5-9-4.5-8.9-4.5-8.8-4.5-8.7-4.4-8.5-4.5-8.4-4.5-8.1-4.5-7.8-4.5-7.5-2.8-4.6-2.9-4.3-2.9-4.2-2.8-4-2.9-3.7-2.9-3.5-2.8-3.1-2.9-2.9-2.9-2.5-2.8-2.1-2.9-1.7-2.9-1.2-2.8-.8-2.9-.3-2.9 .4-2.8 .9-2.9 1.7-2.9 2.4-2.8 3.1-2.9 4.1-2.9 5-2.8 6.1-2.9 7.2-2.8 8.5-2.9 9.8-2.9 11.5-2.8 13.1-2.9 15-2.9 17.2-2.8 19.7-1.7 12.3-1.6 13.2-1.6 14.4-1.6 15.5-1.6 16.8-1.6 18.4-1.6 20-1.6 22-1.7 24.4-1.6 27.3-1.6 31.1-1.6 36.5-1.6 45.5-1 0z" fill="#a91601"/>
<path d="M1193.1 693.4l1 0 1.6-45.5 1.6-36.5 1.6-31.1 1.6-27.3 1.7-24.4 1.6-22 1.6-20 1.6-18.4 1.6-16.8 1.6-15.5 1.6-14.4 1.6-13.2 1.7-12.3 2.8-19.7 2.9-17.2 2.9-15 2.8-13.1 2.9-11.5 2.9-9.8 2.8-8.5 2.9-7.2 2.8-6.1 2.9-5 2.9-4.1 2.8-3.1 2.9-2.4 2.9-1.7 2.8-.9 2.9-.4 2.9 .3 2.8 .8 2.9 1.2 2.9 1.7 2.8 2.1 2.9 2.5 2.9 2.9 2.8 3.1 2.9 3.5 2.9 3.7 2.8 4 2.9 4.2 2.9 4.3 2.8 4.6 4.5 7.5 4.5 7.8 4.5 8.1 4.5 8.4 4.4 8.5 4.5 8.7 4.5 8.8 4.5 8.9 4.5 9 4.4 9 4.5 9 4.5 9 4.5 8.9 4.4 8.9 4.5 8.9 4.5 8.7 4.5 8.7 4.5 8.6 4.4 8.5 4.5 8.3 4.5 8.2 4.5 8.1 4.5 8 4.4 7.8 4.5 7.7 4.5 7.5 4.5 7.4 4.4 7.2 4.5 7.1 4.5 6.9 4.5 6.8 4.5 6.6 4.4 6.4 4.5 6.3 4.5 6.2 4.5 6 4.5 5.9 4.4 5.7 4.5 5.5 4.5 5.5 4.5 5.2 4.5 5.2 4.4 5 4.5 4.8 4.5 4.8 4.5 4.6 4.4 4.4 4.5 4.4 4.5 4.2 4.5 4.1 4.5 4 4.4 3.8 4.5 3.8 4.5 3.6 4.5 3.6 4.5 3.4 8.9 6.5 9 6.2 8.9 5.8 9 5.4 8.9 5.1 9 4.8 9 4.5 8.9 4.2 9 3.9 8.9 3.7 9 3.4 8.9 3.2 9 3 9 2.8 8.9 2.7 9 2.4 8.9 2.3 9 2.2 8.9 2 9 1.8 17.9 3.4 17.9 2.9 17.9 2.5 18 2.2 17.9 1.9 17.9 1.7 17.9 1.4 17.9 1.2 17.9 1.1 18 .9 17.9 .8 17.9 .7 13.1 .4 1 0 0 .4-1 0-13.1-.4-17.9-.6-17.9-.8-18-.8-17.9-1-17.9-1.2-17.9-1.3-17.9-1.5-17.9-1.8-18-2.1-17.9-2.4-17.9-2.8-17.9-3.3-9-1.7-8.9-2-9-2-8.9-2.3-9-2.3-8.9-2.6-9-2.7-9-3-8.9-3.1-9-3.4-8.9-3.6-9-3.8-8.9-4.2-9-4.4-9-4.7-8.9-5-9-5.4-8.9-5.7-9-6.2-8.9-6.5-4.5-3.4-4.5-3.5-4.5-3.7-4.5-3.7-4.4-3.9-4.5-4-4.5-4.1-4.5-4.2-4.5-4.4-4.4-4.5-4.5-4.6-4.5-4.7-4.5-4.9-4.4-5.1-4.5-5.2-4.5-5.3-4.5-5.5-4.5-5.6-4.4-5.8-4.5-5.9-4.5-6.1-4.5-6.3-4.5-6.4-4.4-6.5-4.5-6.8-4.5-6.9-4.5-7-4.5-7.2-4.4-7.4-4.5-7.5-4.5-7.7-4.5-7.9-4.4-8-4.5-8.2-4.5-8.3-4.5-8.4-4.5-8.6-4.4-8.7-4.5-8.8-4.5-9-4.5-9-4.5-9.1-4.4-9.2-4.5-9.3-4.5-9.3-4.5-9.3-4.4-9.3-4.5-9.3-4.5-9.3-4.5-9.1-4.5-9.1-4.4-8.9-4.5-8.7-4.5-8.5-4.5-8.1-4.5-7.8-2.8-4.8-2.9-4.6-2.9-4.4-2.8-4.2-2.9-3.9-2.9-3.6-2.8-3.4-2.9-3-2.9-2.6-2.8-2.3-2.9-1.9-2.9-1.3-2.8-.9-2.9-.3-2.9 .2-2.8 1-2.9 1.6-2.9 2.4-2.8 3.2-2.9 4.1-2.9 5.2-2.8 6.2-2.9 7.4-2.8 8.7-2.9 10.2-2.9 11.7-2.8 13.5-2.9 15.5-2.9 17.8-2.8 20.2-1.7 12.7-1.6 13.6-1.6 14.8-1.6 16-1.6 17.3-1.6 18.8-1.6 20.6-1.6 22.5-1.7 25-1.6 27.9-1.6 31.7-1.6 37.1-1.6 46-1 0z" fill="#a41301"/>
<path d="M1193.1 694.6l1 0 1.6-46 1.6-37.1 1.6-31.7 1.6-27.9 1.7-25 1.6-22.5 1.6-20.6 1.6-18.8 1.6-17.3 1.6-16 1.6-14.8 1.6-13.6 1.7-12.7 2.8-20.2 2.9-17.8 2.9-15.5 2.8-13.5 2.9-11.7 2.9-10.2 2.8-8.7 2.9-7.4 2.8-6.2 2.9-5.2 2.9-4.1 2.8-3.2 2.9-2.4 2.9-1.6 2.8-1 2.9-.2 2.9 .3 2.8 .9 2.9 1.3 2.9 1.9 2.8 2.3 2.9 2.6 2.9 3 2.8 3.4 2.9 3.6 2.9 3.9 2.8 4.2 2.9 4.4 2.9 4.6 2.8 4.8 4.5 7.8 4.5 8.1 4.5 8.5 4.5 8.7 4.4 8.9 4.5 9.1 4.5 9.1 4.5 9.3 4.5 9.3 4.4 9.3 4.5 9.3 4.5 9.3 4.5 9.3 4.4 9.2 4.5 9.1 4.5 9 4.5 9 4.5 8.8 4.4 8.7 4.5 8.6 4.5 8.4 4.5 8.3 4.5 8.2 4.4 8 4.5 7.9 4.5 7.7 4.5 7.5 4.4 7.4 4.5 7.2 4.5 7 4.5 6.9 4.5 6.8 4.4 6.5 4.5 6.4 4.5 6.3 4.5 6.1 4.5 5.9 4.4 5.8 4.5 5.6 4.5 5.5 4.5 5.3 4.5 5.2 4.4 5.1 4.5 4.9 4.5 4.7 4.5 4.6 4.4 4.5 4.5 4.4 4.5 4.2 4.5 4.1 4.5 4 4.4 3.9 4.5 3.7 4.5 3.7 4.5 3.5 4.5 3.4 8.9 6.5 9 6.2 8.9 5.7 9 5.4 8.9 5 9 4.7 9 4.4 8.9 4.2 9 3.8 8.9 3.6 9 3.4 8.9 3.1 9 3 9 2.7 8.9 2.6 9 2.3 8.9 2.3 9 2 8.9 2 9 1.7 17.9 3.3 17.9 2.8 17.9 2.4 18 2.1 17.9 1.8 17.9 1.5 17.9 1.3 17.9 1.2 17.9 1 18 .8 17.9 .8 17.9 .6 13.1 .4 1 0 0-.7-1 0-13.1-.4-17.9-.8-17.9-.8-18-1-17.9-1.1-17.9-1.3-17.9-1.4-17.9-1.8-17.9-1.9-18-2.3-17.9-2.6-17.9-3-17.9-3.4-9-1.9-8.9-2.1-9-2.2-8.9-2.3-9-2.5-8.9-2.7-9-2.8-9-3.1-8.9-3.2-9-3.5-8.9-3.7-9-4-8.9-4.2-9-4.5-9-4.9-8.9-5.1-9-5.4-8.9-5.8-9-6.2-8.9-6.5-4.5-3.5-4.5-3.5-4.5-3.6-4.5-3.8-4.4-3.8-4.5-4-4.5-4.1-4.5-4.2-4.5-4.3-4.4-4.4-4.5-4.6-4.5-4.7-4.5-4.8-4.4-5-4.5-5.1-4.5-5.2-4.5-5.4-4.5-5.5-4.4-5.6-4.5-5.8-4.5-6-4.5-6-4.5-6.3-4.4-6.3-4.5-6.6-4.5-6.6-4.5-6.9-4.5-6.9-4.4-7.1-4.5-7.3-4.5-7.4-4.5-7.6-4.4-7.6-4.5-7.9-4.5-7.9-4.5-8.1-4.5-8.2-4.4-8.3-4.5-8.4-4.5-8.5-4.5-8.5-4.5-8.7-4.4-8.7-4.5-8.8-4.5-8.8-4.5-8.8-4.4-8.8-4.5-8.7-4.5-8.7-4.5-8.6-4.5-8.5-4.4-8.4-4.5-8.1-4.5-7.9-4.5-7.6-4.5-7.3-2.8-4.5-2.9-4.3-2.9-4.1-2.8-3.8-2.9-3.7-2.9-3.3-2.8-3.1-2.9-2.8-2.9-2.4-2.8-2.1-2.9-1.7-2.9-1.2-2.8-.8-2.9-.2-2.9 .3-2.8 .9-2.9 1.5-2.9 2.3-2.8 3.1-2.9 3.9-2.9 4.9-2.8 5.9-2.9 7-2.8 8.2-2.9 9.6-2.9 11.1-2.8 12.8-2.9 14.6-2.9 16.8-2.8 19.2-1.7 11.9-1.6 13-1.6 14-1.6 15.2-1.6 16.5-1.6 18-1.6 19.6-1.6 21.7-1.7 24-1.6 27-1.6 30.8-1.6 36.3-1.6 45.5-1 0z" fill="#920b01"/>
<path d="M1193.1 691.3l1 0 1.6-45.5 1.6-36.3 1.6-30.8 1.6-27 1.7-24 1.6-21.7 1.6-19.6 1.6-18 1.6-16.5 1.6-15.2 1.6-14 1.6-13 1.7-11.9 2.8-19.2 2.9-16.8 2.9-14.6 2.8-12.8 2.9-11.1 2.9-9.6 2.8-8.2 2.9-7 2.8-5.9 2.9-4.9 2.9-3.9 2.8-3.1 2.9-2.3 2.9-1.5 2.8-.9 2.9-.3 2.9 .2 2.8 .8 2.9 1.2 2.9 1.7 2.8 2.1 2.9 2.4 2.9 2.8 2.8 3.1 2.9 3.3 2.9 3.7 2.8 3.8 2.9 4.1 2.9 4.3 2.8 4.5 4.5 7.3 4.5 7.6 4.5 7.9 4.5 8.1 4.4 8.4 4.5 8.5 4.5 8.6 4.5 8.7 4.5 8.7 4.4 8.8 4.5 8.8 4.5 8.8 4.5 8.8 4.4 8.7 4.5 8.7 4.5 8.5 4.5 8.5 4.5 8.4 4.4 8.3 4.5 8.2 4.5 8.1 4.5 7.9 4.5 7.9 4.4 7.6 4.5 7.6 4.5 7.4 4.5 7.3 4.4 7.1 4.5 6.9 4.5 6.9 4.5 6.6 4.5 6.6 4.4 6.3 4.5 6.3 4.5 6 4.5 6 4.5 5.8 4.4 5.6 4.5 5.5 4.5 5.4 4.5 5.2 4.5 5.1 4.4 5 4.5 4.8 4.5 4.7 4.5 4.6 4.4 4.4 4.5 4.3 4.5 4.2 4.5 4.1 4.5 4 4.4 3.8 4.5 3.8 4.5 3.6 4.5 3.5 4.5 3.5 8.9 6.5 9 6.2 8.9 5.8 9 5.4 8.9 5.1 9 4.9 9 4.5 8.9 4.2 9 4 8.9 3.7 9 3.5 8.9 3.2 9 3.1 9 2.8 8.9 2.7 9 2.5 8.9 2.3 9 2.2 8.9 2.1 9 1.9 17.9 3.4 17.9 3 17.9 2.6 18 2.3 17.9 1.9 17.9 1.8 17.9 1.4 17.9 1.3 17.9 1.1 18 1 17.9 .8 17.9 .8 13.1 .4 1 0 0 1.4-1 0-13.1-.3-17.9-.6-17.9-.6-18-.7-17.9-.9-17.9-1-17.9-1.2-17.9-1.3-17.9-1.6-18-1.9-17.9-2.1-17.9-2.6-17.9-2.9-9-1.6-8.9-1.8-9-1.9-8.9-2-9-2.3-8.9-2.3-9-2.6-9-2.7-8.9-3-9-3.2-8.9-3.4-9-3.7-8.9-3.9-9-4.3-9-4.5-8.9-4.9-9-5.2-8.9-5.6-9-5.9-8.9-6.4-4.5-3.4-4.5-3.4-4.5-3.6-4.5-3.7-4.4-3.8-4.5-4-4.5-4.1-4.5-4.2-4.5-4.3-4.4-4.5-4.5-4.6-4.5-4.8-4.5-4.9-4.4-5.1-4.5-5.2-4.5-5.4-4.5-5.5-4.5-5.7-4.4-5.9-4.5-6-4.5-6.3-4.5-6.3-4.5-6.6-4.4-6.7-4.5-6.9-4.5-7.1-4.5-7.3-4.5-7.5-4.4-7.6-4.5-7.8-4.5-8-4.5-8.2-4.4-8.3-4.5-8.6-4.5-8.7-4.5-8.8-4.5-9-4.4-9.2-4.5-9.4-4.5-9.4-4.5-9.6-4.5-9.7-4.4-9.8-4.5-9.9-4.5-10-4.5-10-4.4-10.1-4.5-10-4.5-10-4.5-10-4.5-9.9-4.4-9.7-4.5-9.6-4.5-9.3-4.5-9.1-4.5-8.7-2.8-5.4-2.9-5.2-2.9-5-2.8-4.7-2.9-4.5-2.9-4.3-2.8-3.9-2.9-3.6-2.9-3.2-2.8-2.8-2.9-2.3-2.9-1.9-2.8-1.4-2.9-.8-2.9-.1-2.8 .5-2.9 1.3-2.9 2-2.8 3-2.9 3.9-2.9 5-2.8 6.1-2.9 7.4-2.8 8.8-2.9 10.3-2.9 12.1-2.8 13.9-2.9 16-2.9 18.5-2.8 21.1-1.7 13.2-1.6 14.3-1.6 15.5-1.6 16.7-1.6 18.2-1.6 19.8-1.6 21.7-1.6 23.7-1.7 26.3-1.6 29.4-1.6 33.4-1.6 39-1.6 48.2-1 0z" fill="#8b0902"/>
<path d="M1193.1 691.3l1 0 1.6-48.2 1.6-39 1.6-33.4 1.6-29.4 1.7-26.3 1.6-23.7 1.6-21.7 1.6-19.8 1.6-18.2 1.6-16.7 1.6-15.5 1.6-14.3 1.7-13.2 2.8-21.1 2.9-18.5 2.9-16 2.8-13.9 2.9-12.1 2.9-10.3 2.8-8.8 2.9-7.4 2.8-6.1 2.9-5 2.9-3.9 2.8-3 2.9-2 2.9-1.3 2.8-.5 2.9 .1 2.9 .8 2.8 1.4 2.9 1.9 2.9 2.3 2.8 2.8 2.9 3.2 2.9 3.6 2.8 3.9 2.9 4.3 2.9 4.5 2.8 4.7 2.9 5 2.9 5.2 2.8 5.4 4.5 8.7 4.5 9.1 4.5 9.3 4.5 9.6 4.4 9.7 4.5 9.9 4.5 10 4.5 10 4.5 10 4.4 10.1 4.5 10 4.5 10 4.5 9.9 4.4 9.8 4.5 9.7 4.5 9.6 4.5 9.4 4.5 9.4 4.4 9.2 4.5 9 4.5 8.8 4.5 8.7 4.5 8.6 4.4 8.3 4.5 8.2 4.5 8 4.5 7.8 4.4 7.6 4.5 7.5 4.5 7.3 4.5 7.1 4.5 6.9 4.4 6.7 4.5 6.6 4.5 6.3 4.5 6.3 4.5 6 4.4 5.9 4.5 5.7 4.5 5.5 4.5 5.4 4.5 5.2 4.4 5.1 4.5 4.9 4.5 4.8 4.5 4.6 4.4 4.5 4.5 4.3 4.5 4.2 4.5 4.1 4.5 4 4.4 3.8 4.5 3.7 4.5 3.6 4.5 3.4 4.5 3.4 8.9 6.4 9 5.9 8.9 5.6 9 5.2 8.9 4.9 9 4.5 9 4.3 8.9 3.9 9 3.7 8.9 3.4 9 3.2 8.9 3 9 2.7 9 2.6 8.9 2.3 9 2.3 8.9 2 9 1.9 8.9 1.8 9 1.6 17.9 2.9 17.9 2.6 17.9 2.1 18 1.9 17.9 1.6 17.9 1.3 17.9 1.2 17.9 1 17.9 .9 18 .7 17.9 .6 17.9 .6 13.1 .3 1 0 0 0-1 0-13.1-.4-17.9-.5-17.9-.6-18-.7-17.9-.9-17.9-1-17.9-1.2-17.9-1.3-17.9-1.6-18-1.8-17.9-2.2-17.9-2.5-17.9-2.9-9-1.6-8.9-1.8-9-1.9-8.9-2-9-2.2-8.9-2.3-9-2.6-9-2.7-8.9-2.9-9-3.1-8.9-3.4-9-3.7-8.9-3.9-9-4.1-9-4.5-8.9-4.8-9-5.2-8.9-5.5-9-5.9-8.9-6.3-4.5-3.3-4.5-3.4-4.5-3.5-4.5-3.7-4.4-3.8-4.5-3.9-4.5-4-4.5-4.2-4.5-4.3-4.4-4.4-4.5-4.6-4.5-4.7-4.5-4.8-4.4-5-4.5-5.2-4.5-5.3-4.5-5.5-4.5-5.6-4.4-5.8-4.5-6-4.5-6.2-4.5-6.3-4.5-6.5-4.4-6.6-4.5-6.9-4.5-7-4.5-7.2-4.5-7.4-4.4-7.6-4.5-7.7-4.5-8-4.5-8.1-4.4-8.3-4.5-8.5-4.5-8.6-4.5-8.8-4.5-9-4.4-9.2-4.5-9.3-4.5-9.4-4.5-9.6-4.5-9.7-4.4-9.9-4.5-9.9-4.5-10-4.5-10-4.4-10.2-4.5-10.1-4.5-10.1-4.5-10.1-4.5-10-4.4-9.9-4.5-9.8-4.5-9.5-4.5-9.3-4.5-9-2.8-5.6-2.9-5.4-2.9-5.2-2.8-5-2.9-4.7-2.9-4.5-2.8-4.2-2.9-3.9-2.9-3.6-2.8-3.1-2.9-2.7-2.9-2.3-2.8-1.8-2.9-1.2-2.9-.6-2.8 .1-2.9 .8-2.9 1.5-2.8 2.4-2.9 3.4-2.9 4.4-2.8 5.5-2.9 6.8-2.8 8.2-2.9 9.7-2.9 11.3-2.8 13.3-2.9 15.4-2.9 17.8-2.8 20.5-1.7 12.9-1.6 14-1.6 15.2-1.6 16.5-1.6 18-1.6 19.7-1.6 21.6-1.6 23.8-1.7 26.5-1.6 29.7-1.6 34.1-1.6 40.1-1.6 50.3-1 0z" fill="#810602"/>
</g></defs>
<use href="#bd" fill-opacity="0.15"/>
<path d="M1193.1 682.2l1 0 1.6-50.3 1.6-40.1 1.6-34.1 1.6-29.7 1.7-26.5 1.6-23.8 1.6-21.6 1.6-19.7 1.6-18 1.6-16.5 1.6-15.2 1.6-14 1.7-12.9 2.8-20.5 2.9-17.8 2.9-15.4 2.8-13.3 2.9-11.3 2.9-9.7 2.8-8.2 2.9-6.8 2.8-5.5 2.9-4.4 2.9-3.4 2.8-2.4 2.9-1.5 2.9-.8 2.8-.1 2.9 .6 2.9 1.2 2.8 1.8 2.9 2.3 2.9 2.7 2.8 3.1 2.9 3.6 2.9 3.9 2.8 4.2 2.9 4.5 2.9 4.7 2.8 5 2.9 5.2 2.9 5.4 2.8 5.6 4.5 9 4.5 9.3 4.5 9.5 4.5 9.8 4.4 9.9 4.5 10 4.5 10.1 4.5 10.1 4.5 10.1 4.4 10.2 4.5 10 4.5 10 4.5 9.9 4.4 9.9 4.5 9.7 4.5 9.6 4.5 9.4 4.5 9.3 4.4 9.2 4.5 9 4.5 8.8 4.5 8.6 4.5 8.5 4.4 8.3 4.5 8.1 4.5 8 4.5 7.7 4.4 7.6 4.5 7.4 4.5 7.2 4.5 7 4.5 6.9 4.4 6.6 4.5 6.5 4.5 6.3 4.5 6.2 4.5 6 4.4 5.8 4.5 5.6 4.5 5.5 4.5 5.3 4.5 5.2 4.4 5 4.5 4.8 4.5 4.7 4.5 4.6 4.4 4.4 4.5 4.3 4.5 4.2 4.5 4 4.5 3.9 4.4 3.8 4.5 3.7 4.5 3.5 4.5 3.4 4.5 3.3 8.9 6.3 9 5.9 8.9 5.5 9 5.2 8.9 4.8 9 4.5 9 4.1 8.9 3.9 9 3.7 8.9 3.4 9 3.1 8.9 2.9 9 2.7 9 2.6 8.9 2.3 9 2.2 8.9 2 9 1.9 8.9 1.8 9 1.6 17.9 2.9 17.9 2.5 17.9 2.2 18 1.8 17.9 1.6 17.9 1.3 17.9 1.2 17.9 1 17.9 .9 18 .7 17.9 .6 17.9 .5 13.1 .4 1 0 0-3.1-1 0-13.1-.7-17.9-1.2-17.9-1.4-18-1.6-17.9-1.9-17.9-2.2-17.9-2.6-17.9-2.9-17.9-3.5-18-4-17.9-4.6-17.9-5.3-17.9-6.1-9-3.4-8.9-3.7-9-3.8-8.9-4.2-9-4.4-8.9-4.7-9-5-9-5.3-8.9-5.7-9-6-8.9-6.4-9-6.8-8.9-7.1-9-7.6-9-7.9-8.9-8.4-9-8.9-8.9-9.2-9-9.7-8.9-10.1-4.5-5.3-4.5-5.3-4.5-5.5-4.5-5.5-4.4-5.7-4.5-5.7-4.5-5.9-4.5-5.9-4.5-6.1-4.4-6.1-4.5-6.2-4.5-6.3-4.5-6.4-4.4-6.5-4.5-6.5-4.5-6.6-4.5-6.6-4.5-6.6-4.4-6.7-4.5-6.7-4.5-6.8-4.5-6.7-4.5-6.7-4.4-6.7-4.5-6.6-4.5-6.6-4.5-6.5-4.5-6.5-4.4-6.3-4.5-6.2-4.5-6.1-4.5-5.9-4.4-5.7-4.5-5.5-4.5-5.2-4.5-5-4.5-4.7-4.4-4.4-4.5-4-4.5-3.7-4.5-3.2-4.5-2.8-4.4-2.3-4.5-1.8-4.5-1.2-4.5-.6-4.4-.1-4.5 .7-4.5 1.4-4.5 2.1-4.5 2.9-4.4 3.7-4.5 4.5-4.5 5.5-4.5 6.4-4.5 7.4-2.8 5.2-2.9 5.6-2.9 6.1-2.8 6.5-2.9 6.9-2.9 7.3-2.8 7.8-2.9 8.3-2.9 8.6-2.8 9.1-2.9 9.6-2.9 9.9-2.8 10.4-2.9 10.8-2.9 11.2-2.8 11.6-2.9 12-2.9 12.3-2.8 12.6-2.9 12.9-2.9 13.2-2.8 13.4-2.9 13.6-2.8 13.7-2.9 13.8-2.9 13.8-2.8 13.7-2.9 13.6-2.9 13.3-2.8 12.9-1.7 7-1.6 6.9-1.6 6.7-1.6 6.4-1.6 6.2-1.6 5.8-1.6 5.5-1.6 5.1-1.7 4.6-1.6 4.1-1.6 3.5-1.6 2.9-1.6 2-1 0z" fill="#7a0403" fill-opacity="0.135"/>
<use href="#bd" fill-opacity="0.5"/>
<path d="M1193.1 682.2l1 0 1.6-50.3 1.6-40.1 1.6-34.1 1.6-29.7 1.7-26.5 1.6-23.8 1.6-21.6 1.6-19.7 1.6-18 1.6-16.5 1.6-15.2 1.6-14 1.7-12.9 2.8-20.5 2.9-17.8 2.9-15.4 2.8-13.3 2.9-11.3 2.9-9.7 2.8-8.2 2.9-6.8 2.8-5.5 2.9-4.4 2.9-3.4 2.8-2.4 2.9-1.5 2.9-.8 2.8-.1 2.9 .6 2.9 1.2 2.8 1.8 2.9 2.3 2.9 2.7 2.8 3.1 2.9 3.6 2.9 3.9 2.8 4.2 2.9 4.5 2.9 4.7 2.8 5 2.9 5.2 2.9 5.4 2.8 5.6 4.5 9 4.5 9.3 4.5 9.5 4.5 9.8 4.4 9.9 4.5 10 4.5 10.1 4.5 10.1 4.5 10.1 4.4 10.2 4.5 10 4.5 10 4.5 9.9 4.4 9.9 4.5 9.7 4.5 9.6 4.5 9.4 4.5 9.3 4.4 9.2 4.5 9 4.5 8.8 4.5 8.6 4.5 8.5 4.4 8.3 4.5 8.1 4.5 8 4.5 7.7 4.4 7.6 4.5 7.4 4.5 7.2 4.5 7 4.5 6.9 4.4 6.6 4.5 6.5 4.5 6.3 4.5 6.2 4.5 6 4.4 5.8 4.5 5.6 4.5 5.5 4.5 5.3 4.5 5.2 4.4 5 4.5 4.8 4.5 4.7 4.5 4.6 4.4 4.4 4.5 4.3 4.5 4.2 4.5 4 4.5 3.9 4.4 3.8 4.5 3.7 4.5 3.5 4.5 3.4 4.5 3.3 8.9 6.3 9 5.9 8.9 5.5 9 5.2 8.9 4.8 9 4.5 9 4.1 8.9 3.9 9 3.7 8.9 3.4 9 3.1 8.9 2.9 9 2.7 9 2.6 8.9 2.3 9 2.2 8.9 2 9 1.9 8.9 1.8 9 1.6 17.9 2.9 17.9 2.5 17.9 2.2 18 1.8 17.9 1.6 17.9 1.3 17.9 1.2 17.9 1 17.9 .9 18 .7 17.9 .6 17.9 .5 13.1 .4 1 0 0-3.1-1 0-13.1-.7-17.9-1.2-17.9-1.4-18-1.6-17.9-1.9-17.9-2.2-17.9-2.6-17.9-2.9-17.9-3.5-18-4-17.9-4.6-17.9-5.3-17.9-6.1-9-3.4-8.9-3.7-9-3.8-8.9-4.2-9-4.4-8.9-4.7-9-5-9-5.3-8.9-5.7-9-6-8.9-6.4-9-6.8-8.9-7.1-9-7.6-9-7.9-8.9-8.4-9-8.9-8.9-9.2-9-9.7-8.9-10.1-4.5-5.3-4.5-5.3-4.5-5.5-4.5-5.5-4.4-5.7-4.5-5.7-4.5-5.9-4.5-5.9-4.5-6.1-4.4-6.1-4.5-6.2-4.5-6.3-4.5-6.4-4.4-6.5-4.5-6.5-4.5-6.6-4.5-6.6-4.5-6.6-4.4-6.7-4.5-6.7-4.5-6.8-4.5-6.7-4.5-6.7-4.4-6.7-4.5-6.6-4.5-6.6-4.5-6.5-4.5-6.5-4.4-6.3-4.5-6.2-4.5-6.1-4.5-5.9-4.4-5.7-4.5-5.5-4.5-5.2-4.5-5-4.5-4.7-4.4-4.4-4.5-4-4.5-3.7-4.5-3.2-4.5-2.8-4.4-2.3-4.5-1.8-4.5-1.2-4.5-.6-4.4-.1-4.5 .7-4.5 1.4-4.5 2.1-4.5 2.9-4.4 3.7-4.5 4.5-4.5 5.5-4.5 6.4-4.5 7.4-2.8 5.2-2.9 5.6-2.9 6.1-2.8 6.5-2.9 6.9-2.9 7.3-2.8 7.8-2.9 8.3-2.9 8.6-2.8 9.1-2.9 9.6-2.9 9.9-2.8 10.4-2.9 10.8-2.9 11.2-2.8 11.6-2.9 12-2.9 12.3-2.8 12.6-2.9 12.9-2.9 13.2-2.8 13.4-2.9 13.6-2.8 13.7-2.9 13.8-2.9 13.8-2.8 13.7-2.9 13.6-2.9 13.3-2.8 12.9-1.7 7-1.6 6.9-1.6 6.7-1.6 6.4-1.6 6.2-1.6 5.8-1.6 5.5-1.6 5.1-1.7 4.6-1.6 4.1-1.6 3.5-1.6 2.9-1.6 2-1 0z" fill="#7a0403" fill-opacity="0.450"/>
<use href="#bd" fill-opacity="0.5"/>
<path d="M1193.1 682.2l1 0 1.6-50.3 1.6-40.1 1.6-34.1 1.6-29.7 1.7-26.5 1.6-23.8 1.6-21.6 1.6-19.7 1.6-18 1.6-16.5 1.6-15.2 1.6-14 1.7-12.9 2.8-20.5 2.9-17.8 2.9-15.4 2.8-13.3 2.9-11.3 2.9-9.7 2.8-8.2 2.9-6.8 2.8-5.5 2.9-4.4 2.9-3.4 2.8-2.4 2.9-1.5 2.9-.8 2.8-.1 2.9 .6 2.9 1.2 2.8 1.8 2.9 2.3 2.9 2.7 2.8 3.1 2.9 3.6 2.9 3.9 2.8 4.2 2.9 4.5 2.9 4.7 2.8 5 2.9 5.2 2.9 5.4 2.8 5.6 4.5 9 4.5 9.3 4.5 9.5 4.5 9.8 4.4 9.9 4.5 10 4.5 10.1 4.5 10.1 4.5 10.1 4.4 10.2 4.5 10 4.5 10 4.5 9.9 4.4 9.9 4.5 9.7 4.5 9.6 4.5 9.4 4.5 9.3 4.4 9.2 4.5 9 4.5 8.8 4.5 8.6 4.5 8.5 4.4 8.3 4.5 8.1 4.5 8 4.5 7.7 4.4 7.6 4.5 7.4 4.5 7.2 4.5 7 4.5 6.9 4.4 6.6 4.5 6.5 4.5 6.3 4.5 6.2 4.5 6 4.4 5.8 4.5 5.6 4.5 5.5 4.5 5.3 4.5 5.2 4.4 5 4.5 4.8 4.5 4.7 4.5 4.6 4.4 4.4 4.5 4.3 4.5 4.2 4.5 4 4.5 3.9 4.4 3.8 4.5 3.7 4.5 3.5 4.5 3.4 4.5 3.3 8.9 6.3 9 5.9 8.9 5.5 9 5.2 8.9 4.8 9 4.5 9 4.1 8.9 3.9 9 3.7 8.9 3.4 9 3.1 8.9 2.9 9 2.7 9 2.6 8.9 2.3 9 2.2 8.9 2 9 1.9 8.9 1.8 9 1.6 17.9 2.9 17.9 2.5 17.9 2.2 18 1.8 17.9 1.6 17.9 1.3 17.9 1.2 17.9 1 17.9 .9 18 .7 17.9 .6 17.9 .5 13.1 .4 1 0 0-.6-1 0-13.1-.5-17.9-.6-17.9-.8-18-.9-17.9-1.1-17.9-1.2-17.9-1.4-17.9-1.7-17.9-2-18-2.2-17.9-2.7-17.9-3.1-17.9-3.5-9-2-8.9-2.1-9-2.3-8.9-2.4-9-2.7-8.9-2.8-9-3-9-3.3-8.9-3.4-9-3.8-8.9-3.9-9-4.3-8.9-4.5-9-4.9-9-5.2-8.9-5.5-9-5.9-8.9-6.2-9-6.7-8.9-7.1-4.5-3.7-4.5-3.8-4.5-3.9-4.5-4-4.4-4.2-4.5-4.3-4.5-4.3-4.5-4.6-4.5-4.6-4.4-4.8-4.5-4.9-4.5-5-4.5-5.2-4.4-5.3-4.5-5.4-4.5-5.6-4.5-5.7-4.5-5.8-4.4-6-4.5-6.1-4.5-6.3-4.5-6.4-4.5-6.5-4.4-6.7-4.5-6.8-4.5-6.9-4.5-7.1-4.5-7.2-4.4-7.3-4.5-7.5-4.5-7.5-4.5-7.7-4.4-7.8-4.5-7.9-4.5-7.9-4.5-8.1-4.5-8.1-4.4-8.2-4.5-8.3-4.5-8.3-4.5-8.3-4.5-8.3-4.4-8.3-4.5-8.3-4.5-8.3-4.5-8.1-4.4-8.1-4.5-8-4.5-7.8-4.5-7.7-4.5-7.4-4.4-7.2-4.5-6.9-4.5-6.5-4.5-6.2-4.5-5.7-2.8-3.4-2.9-3.2-2.9-3-2.8-2.7-2.9-2.4-2.9-2.1-2.8-1.8-2.9-1.5-2.9-1.1-2.8-.7-2.9-.3-2.9 .2-2.8 .7-2.9 1.2-2.9 1.7-2.8 2.4-2.9 3-2.9 3.7-2.8 4.5-2.9 5.3-2.9 6.1-2.8 7.1-2.9 8.2-2.8 9.3-2.9 10.5-2.9 11.8-2.8 13.4-2.9 15-2.9 16.9-2.8 19-1.7 11.7-1.6 12.6-1.6 13.5-1.6 14.5-1.6 15.6-1.6 16.9-1.6 18.4-1.6 20.1-1.7 22.1-1.6 24.6-1.6 27.9-1.6 32.7-1.6 40.6-1 0z" fill="#7a0403" fill-opacity="0.100"/><path d="M1193.1 682.2l1 0 1.6-50.3 1.6-40.1 1.6-34.1 1.6-29.7 1.7-26.5 1.6-23.8 1.6-21.6 1.6-19.7 1.6-18 1.6-16.5 1.6-15.2 1.6-14 1.7-12.9 2.8-20.5 2.9-17.8 2.9-15.4 2.8-13.3 2.9-11.3 2.9-9.7 2.8-8.2 2.9-6.8 2.8-5.5 2.9-4.4 2.9-3.4 2.8-2.4 2.9-1.5 2.9-.8 2.8-.1 2.9 .6 2.9 1.2 2.8 1.8 2.9 2.3 2.9 2.7 2.8 3.1 2.9 3.6 2.9 3.9 2.8 4.2 2.9 4.5 2.9 4.7 2.8 5 2.9 5.2 2.9 5.4 2.8 5.6 4.5 9 4.5 9.3 4.5 9.5 4.5 9.8 4.4 9.9 4.5 10 4.5 10.1 4.5 10.1 4.5 10.1 4.4 10.2 4.5 10 4.5 10 4.5 9.9 4.4 9.9 4.5 9.7 4.5 9.6 4.5 9.4 4.5 9.3 4.4 9.2 4.5 9 4.5 8.8 4.5 8.6 4.5 8.5 4.4 8.3 4.5 8.1 4.5 8 4.5 7.7 4.4 7.6 4.5 7.4 4.5 7.2 4.5 7 4.5 6.9 4.4 6.6 4.5 6.5 4.5 6.3 4.5 6.2 4.5 6 4.4 5.8 4.5 5.6 4.5 5.5 4.5 5.3 4.5 5.2 4.4 5 4.5 4.8 4.5 4.7 4.5 4.6 4.4 4.4 4.5 4.3 4.5 4.2 4.5 4 4.5 3.9 4.4 3.8 4.5 3.7 4.5 3.5 4.5 3.4 4.5 3.3 8.9 6.3 9 5.9 8.9 5.5 9 5.2 8.9 4.8 9 4.5 9 4.1 8.9 3.9 9 3.7 8.9 3.4 9 3.1 8.9 2.9 9 2.7 9 2.6 8.9 2.3 9 2.2 8.9 2 9 1.9 8.9 1.8 9 1.6 17.9 2.9 17.9 2.5 17.9 2.2 18 1.8 17.9 1.6 17.9 1.3 17.9 1.2 17.9 1 17.9 .9 18 .7 17.9 .6 17.9 .5 13.1 .4 1 0 0-1.3-1 0-13.1-.5-17.9-.7-17.9-1-18-1.1-17.9-1.2-17.9-1.5-17.9-1.7-17.9-2-17.9-2.4-18-2.7-17.9-3.1-17.9-3.6-17.9-4.2-9-2.3-8.9-2.5-9-2.7-8.9-2.9-9-3.1-8.9-3.3-9-3.5-9-3.8-8.9-4-9-4.3-8.9-4.6-9-4.8-8.9-5.2-9-5.6-9-5.8-8.9-6.3-9-6.6-8.9-7-9-7.4-8.9-7.9-4.5-4-4.5-4.2-4.5-4.3-4.5-4.4-4.4-4.6-4.5-4.6-4.5-4.8-4.5-4.9-4.5-5-4.4-5.1-4.5-5.2-4.5-5.3-4.5-5.5-4.4-5.6-4.5-5.7-4.5-5.8-4.5-5.9-4.5-6.1-4.4-6.2-4.5-6.2-4.5-6.4-4.5-6.5-4.5-6.6-4.4-6.6-4.5-6.8-4.5-6.8-4.5-7-4.5-7-4.4-7.1-4.5-7.1-4.5-7.2-4.5-7.2-4.4-7.3-4.5-7.3-4.5-7.3-4.5-7.2-4.5-7.3-4.4-7.3-4.5-7.2-4.5-7.1-4.5-7-4.5-7-4.4-6.8-4.5-6.7-4.5-6.4-4.5-6.3-4.4-6.1-4.5-5.8-4.5-5.6-4.5-5.2-4.5-4.8-4.4-4.5-4.5-4-4.5-3.6-4.5-3-4.5-2.4-2.8-1.3-2.9-1-2.9-.7-2.8-.4-2.9-.1-2.9 .3-2.8 .6-2.9 .9-2.9 1.4-2.8 1.7-2.9 2.2-2.9 2.7-2.8 3.1-2.9 3.5-2.9 4.2-2.8 4.6-2.9 5.3-2.9 5.8-2.8 6.5-2.9 7.2-2.9 7.9-2.8 8.7-2.9 9.5-2.8 10.4-2.9 11.3-2.9 12.4-2.8 13.4-2.9 14.7-2.9 16-2.8 17.5-1.7 10.5-1.6 11.2-1.6 11.8-1.6 12.4-1.6 13.3-1.6 14.1-1.6 15.2-1.6 16.3-1.7 17.7-1.6 19.5-1.6 21.9-1.6 25.2-1.6 31-1 0z" fill="#7a0403" fill-opacity="0.100"/><path d="M1193.1 682.2l1 0 1.6-50.3 1.6-40.1 1.6-34.1 1.6-29.7 1.7-26.5 1.6-23.8 1.6-21.6 1.6-19.7 1.6-18 1.6-16.5 1.6-15.2 1.6-14 1.7-12.9 2.8-20.5 2.9-17.8 2.9-15.4 2.8-13.3 2.9-11.3 2.9-9.7 2.8-8.2 2.9-6.8 2.8-5.5 2.9-4.4 2.9-3.4 2.8-2.4 2.9-1.5 2.9-.8 2.8-.1 2.9 .6 2.9 1.2 2.8 1.8 2.9 2.3 2.9 2.7 2.8 3.1 2.9 3.6 2.9 3.9 2.8 4.2 2.9 4.5 2.9 4.7 2.8 5 2.9 5.2 2.9 5.4 2.8 5.6 4.5 9 4.5 9.3 4.5 9.5 4.5 9.8 4.4 9.9 4.5 10 4.5 10.1 4.5 10.1 4.5 10.1 4.4 10.2 4.5 10 4.5 10 4.5 9.9 4.4 9.9 4.5 9.7 4.5 9.6 4.5 9.4 4.5 9.3 4.4 9.2 4.5 9 4.5 8.8 4.5 8.6 4.5 8.5 4.4 8.3 4.5 8.1 4.5 8 4.5 7.7 4.4 7.6 4.5 7.4 4.5 7.2 4.5 7 4.5 6.9 4.4 6.6 4.5 6.5 4.5 6.3 4.5 6.2 4.5 6 4.4 5.8 4.5 5.6 4.5 5.5 4.5 5.3 4.5 5.2 4.4 5 4.5 4.8 4.5 4.7 4.5 4.6 4.4 4.4 4.5 4.3 4.5 4.2 4.5 4 4.5 3.9 4.4 3.8 4.5 3.7 4.5 3.5 4.5 3.4 4.5 3.3 8.9 6.3 9 5.9 8.9 5.5 9 5.2 8.9 4.8 9 4.5 9 4.1 8.9 3.9 9 3.7 8.9 3.4 9 3.1 8.9 2.9 9 2.7 9 2.6 8.9 2.3 9 2.2 8.9 2 9 1.9 8.9 1.8 9 1.6 17.9 2.9 17.9 2.5 17.9 2.2 18 1.8 17.9 1.6 17.9 1.3 17.9 1.2 17.9 1 17.9 .9 18 .7 17.9 .6 17.9 .5 13.1 .4 1 0 0-1.9-1 0-13.1-.5-17.9-1-17.9-1-18-1.3-17.9-1.5-17.9-1.7-17.9-2-17.9-2.3-17.9-2.7-18-3.2-17.9-3.6-17.9-4.2-17.9-4.8-9-2.7-8.9-2.9-9-3.1-8.9-3.3-9-3.5-8.9-3.7-9-4.1-9-4.3-8.9-4.5-9-4.9-8.9-5.2-9-5.5-8.9-5.8-9-6.2-9-6.6-8.9-7-9-7.3-8.9-7.8-9-8.2-8.9-8.6-4.5-4.4-4.5-4.6-4.5-4.7-4.5-4.8-4.4-4.9-4.5-5-4.5-5.1-4.5-5.3-4.5-5.3-4.4-5.5-4.5-5.5-4.5-5.7-4.5-5.7-4.4-5.9-4.5-6-4.5-6.1-4.5-6.1-4.5-6.3-4.4-6.3-4.5-6.4-4.5-6.5-4.5-6.6-4.5-6.6-4.4-6.7-4.5-6.7-4.5-6.8-4.5-6.8-4.5-6.8-4.4-6.8-4.5-6.8-4.5-6.8-4.5-6.8-4.4-6.8-4.5-6.7-4.5-6.6-4.5-6.5-4.5-6.4-4.4-6.3-4.5-6.1-4.5-6-4.5-5.8-4.5-5.5-4.4-5.3-4.5-5.1-4.5-4.7-4.5-4.4-4.4-4.1-4.5-3.7-4.5-3.2-4.5-2.8-4.5-2.2-4.4-1.8-4.5-1.1-4.5-.6-4.5 .1-4.5 .9-2.8 .9-2.9 1.2-2.9 1.6-2.8 1.8-2.9 2.3-2.9 2.6-2.8 3-2.9 3.4-2.9 3.8-2.8 4.2-2.9 4.6-2.9 5.1-2.8 5.5-2.9 6-2.9 6.5-2.8 7-2.9 7.4-2.9 8-2.8 8.6-2.9 9.1-2.9 9.7-2.8 10.2-2.9 10.9-2.8 11.5-2.9 12.1-2.9 12.9-2.8 13.5-2.9 14.3-2.9 15.1-2.8 15.9-1.7 9.4-1.6 9.8-1.6 10-1.6 10.5-1.6 10.9-1.6 11.4-1.6 11.9-1.6 12.6-1.7 13.3-1.6 14.4-1.6 15.7-1.6 17.8-1.6 21.3-1 0z" fill="#7a0403" fill-opacity="0.100"/><path d="M1193.1 682.2l1 0 1.6-50.3 1.6-40.1 1.6-34.1 1.6-29.7 1.7-26.5 1.6-23.8 1.6-21.6 1.6-19.7 1.6-18 1.6-16.5 1.6-15.2 1.6-14 1.7-12.9 2.8-20.5 2.9-17.8 2.9-15.4 2.8-13.3 2.9-11.3 2.9-9.7 2.8-8.2 2.9-6.8 2.8-5.5 2.9-4.4 2.9-3.4 2.8-2.4 2.9-1.5 2.9-.8 2.8-.1 2.9 .6 2.9 1.2 2.8 1.8 2.9 2.3 2.9 2.7 2.8 3.1 2.9 3.6 2.9 3.9 2.8 4.2 2.9 4.5 2.9 4.7 2.8 5 2.9 5.2 2.9 5.4 2.8 5.6 4.5 9 4.5 9.3 4.5 9.5 4.5 9.8 4.4 9.9 4.5 10 4.5 10.1 4.5 10.1 4.5 10.1 4.4 10.2 4.5 10 4.5 10 4.5 9.9 4.4 9.9 4.5 9.7 4.5 9.6 4.5 9.4 4.5 9.3 4.4 9.2 4.5 9 4.5 8.8 4.5 8.6 4.5 8.5 4.4 8.3 4.5 8.1 4.5 8 4.5 7.7 4.4 7.6 4.5 7.4 4.5 7.2 4.5 7 4.5 6.9 4.4 6.6 4.5 6.5 4.5 6.3 4.5 6.2 4.5 6 4.4 5.8 4.5 5.6 4.5 5.5 4.5 5.3 4.5 5.2 4.4 5 4.5 4.8 4.5 4.7 4.5 4.6 4.4 4.4 4.5 4.3 4.5 4.2 4.5 4 4.5 3.9 4.4 3.8 4.5 3.7 4.5 3.5 4.5 3.4 4.5 3.3 8.9 6.3 9 5.9 8.9 5.5 9 5.2 8.9 4.8 9 4.5 9 4.1 8.9 3.9 9 3.7 8.9 3.4 9 3.1 8.9 2.9 9 2.7 9 2.6 8.9 2.3 9 2.2 8.9 2 9 1.9 8.9 1.8 9 1.6 17.9 2.9 17.9 2.5 17.9 2.2 18 1.8 17.9 1.6 17.9 1.3 17.9 1.2 17.9 1 17.9 .9 18 .7 17.9 .6 17.9 .5 13.1 .4 1 0 0-2.5-1 0-13.1-.6-17.9-1.1-17.9-1.2-18-1.5-17.9-1.6-17.9-2-17.9-2.3-17.9-2.6-17.9-3.1-18-3.6-17.9-4.1-17.9-4.8-17.9-5.4-9-3.1-8.9-3.2-9-3.5-8.9-3.7-9-4-8.9-4.2-9-4.5-9-4.8-8.9-5.2-9-5.4-8.9-5.8-9-6.1-8.9-6.5-9-6.9-9-7.3-8.9-7.6-9-8.1-8.9-8.5-9-9-8.9-9.4-4.5-4.8-4.5-5-4.5-5-4.5-5.2-4.4-5.3-4.5-5.4-4.5-5.5-4.5-5.5-4.5-5.7-4.4-5.8-4.5-5.9-4.5-6-4.5-6.1-4.4-6.1-4.5-6.3-4.5-6.3-4.5-6.4-4.5-6.4-4.4-6.6-4.5-6.5-4.5-6.6-4.5-6.7-4.5-6.6-4.4-6.7-4.5-6.7-4.5-6.7-4.5-6.6-4.5-6.7-4.4-6.6-4.5-6.5-4.5-6.4-4.5-6.3-4.4-6.3-4.5-6.1-4.5-5.9-4.5-5.7-4.5-5.6-4.4-5.3-4.5-5.1-4.5-4.8-4.5-4.5-4.5-4.2-4.4-3.8-4.5-3.4-4.5-3-4.5-2.5-4.4-2.1-4.5-1.5-4.5-.9-4.5-.3-4.5 .3-4.4 1-4.5 1.7-4.5 2.4-4.5 3.3-4.5 4.1-2.8 3-2.9 3.5-2.9 3.8-2.8 4.2-2.9 4.5-2.9 5-2.8 5.4-2.9 5.8-2.9 6.2-2.8 6.7-2.9 7.1-2.9 7.5-2.8 8-2.9 8.4-2.9 8.8-2.8 9.3-2.9 9.7-2.9 10.2-2.8 10.6-2.9 11-2.9 11.4-2.8 11.8-2.9 12.3-2.8 12.6-2.9 12.9-2.9 13.3-2.8 13.7-2.9 13.9-2.9 14.2-2.8 14.4-1.7 8.2-1.6 8.3-1.6 8.4-1.6 8.5-1.6 8.5-1.6 8.6-1.6 8.7-1.6 8.8-1.7 9-1.6 9.2-1.6 9.7-1.6 10.3-1.6 11.7-1 0z" fill="#7a0403" fill-opacity="0.100"/><path d="M1193.1 682.2l1 0 1.6-50.3 1.6-40.1 1.6-34.1 1.6-29.7 1.7-26.5 1.6-23.8 1.6-21.6 1.6-19.7 1.6-18 1.6-16.5 1.6-15.2 1.6-14 1.7-12.9 2.8-20.5 2.9-17.8 2.9-15.4 2.8-13.3 2.9-11.3 2.9-9.7 2.8-8.2 2.9-6.8 2.8-5.5 2.9-4.4 2.9-3.4 2.8-2.4 2.9-1.5 2.9-.8 2.8-.1 2.9 .6 2.9 1.2 2.8 1.8 2.9 2.3 2.9 2.7 2.8 3.1 2.9 3.6 2.9 3.9 2.8 4.2 2.9 4.5 2.9 4.7 2.8 5 2.9 5.2 2.9 5.4 2.8 5.6 4.5 9 4.5 9.3 4.5 9.5 4.5 9.8 4.4 9.9 4.5 10 4.5 10.1 4.5 10.1 4.5 10.1 4.4 10.2 4.5 10 4.5 10 4.5 9.9 4.4 9.9 4.5 9.7 4.5 9.6 4.5 9.4 4.5 9.3 4.4 9.2 4.5 9 4.5 8.8 4.5 8.6 4.5 8.5 4.4 8.3 4.5 8.1 4.5 8 4.5 7.7 4.4 7.6 4.5 7.4 4.5 7.2 4.5 7 4.5 6.9 4.4 6.6 4.5 6.5 4.5 6.3 4.5 6.2 4.5 6 4.4 5.8 4.5 5.6 4.5 5.5 4.5 5.3 4.5 5.2 4.4 5 4.5 4.8 4.5 4.7 4.5 4.6 4.4 4.4 4.5 4.3 4.5 4.2 4.5 4 4.5 3.9 4.4 3.8 4.5 3.7 4.5 3.5 4.5 3.4 4.5 3.3 8.9 6.3 9 5.9 8.9 5.5 9 5.2 8.9 4.8 9 4.5 9 4.1 8.9 3.9 9 3.7 8.9 3.4 9 3.1 8.9 2.9 9 2.7 9 2.6 8.9 2.3 9 2.2 8.9 2 9 1.9 8.9 1.8 9 1.6 17.9 2.9 17.9 2.5 17.9 2.2 18 1.8 17.9 1.6 17.9 1.3 17.9 1.2 17.9 1 17.9 .9 18 .7 17.9 .6 17.9 .5 13.1 .4 1 0 0-3.1-1 0-13.1-.7-17.9-1.2-17.9-1.4-18-1.6-17.9-1.9-17.9-2.2-17.9-2.6-17.9-2.9-17.9-3.5-18-4-17.9-4.6-17.9-5.3-17.9-6.1-9-3.4-8.9-3.7-9-3.8-8.9-4.2-9-4.4-8.9-4.7-9-5-9-5.3-8.9-5.7-9-6-8.9-6.4-9-6.8-8.9-7.1-9-7.6-9-7.9-8.9-8.4-9-8.9-8.9-9.2-9-9.7-8.9-10.1-4.5-5.3-4.5-5.3-4.5-5.5-4.5-5.5-4.4-5.7-4.5-5.7-4.5-5.9-4.5-5.9-4.5-6.1-4.4-6.1-4.5-6.2-4.5-6.3-4.5-6.4-4.4-6.5-4.5-6.5-4.5-6.6-4.5-6.6-4.5-6.6-4.4-6.7-4.5-6.7-4.5-6.8-4.5-6.7-4.5-6.7-4.4-6.7-4.5-6.6-4.5-6.6-4.5-6.5-4.5-6.5-4.4-6.3-4.5-6.2-4.5-6.1-4.5-5.9-4.4-5.7-4.5-5.5-4.5-5.2-4.5-5-4.5-4.7-4.4-4.4-4.5-4-4.5-3.7-4.5-3.2-4.5-2.8-4.4-2.3-4.5-1.8-4.5-1.2-4.5-.6-4.4-.1-4.5 .7-4.5 1.4-4.5 2.1-4.5 2.9-4.4 3.7-4.5 4.5-4.5 5.5-4.5 6.4-4.5 7.4-2.8 5.2-2.9 5.6-2.9 6.1-2.8 6.5-2.9 6.9-2.9 7.3-2.8 7.8-2.9 8.3-2.9 8.6-2.8 9.1-2.9 9.6-2.9 9.9-2.8 10.4-2.9 10.8-2.9 11.2-2.8 11.6-2.9 12-2.9 12.3-2.8 12.6-2.9 12.9-2.9 13.2-2.8 13.4-2.9 13.6-2.8 13.7-2.9 13.8-2.9 13.8-2.8 13.7-2.9 13.6-2.9 13.3-2.8 12.9-1.7 7-1.6 6.9-1.6 6.7-1.6 6.4-1.6 6.2-1.6 5.8-1.6 5.5-1.6 5.1-1.7 4.6-1.6 4.1-1.6 3.5-1.6 2.9-1.6 2-1 0z" fill="#7a0403" fill-opacity="0.100"/>
<defs><pattern id="ht" width="2.26" height="8" patternUnits="userSpaceOnUse"><rect width="1" height="8" fill="#7a0403"/></pattern></defs>
<path d="M1193.1 682.2l1 0 1.6-50.3 1.6-40.1 1.6-34.1 1.6-29.7 1.7-26.5 1.6-23.8 1.6-21.6 1.6-19.7 1.6-18 1.6-16.5 1.6-15.2 1.6-14 1.7-12.9 2.8-20.5 2.9-17.8 2.9-15.4 2.8-13.3 2.9-11.3 2.9-9.7 2.8-8.2 2.9-6.8 2.8-5.5 2.9-4.4 2.9-3.4 2.8-2.4 2.9-1.5 2.9-.8 2.8-.1 2.9 .6 2.9 1.2 2.8 1.8 2.9 2.3 2.9 2.7 2.8 3.1 2.9 3.6 2.9 3.9 2.8 4.2 2.9 4.5 2.9 4.7 2.8 5 2.9 5.2 2.9 5.4 2.8 5.6 4.5 9 4.5 9.3 4.5 9.5 4.5 9.8 4.4 9.9 4.5 10 4.5 10.1 4.5 10.1 4.5 10.1 4.4 10.2 4.5 10 4.5 10 4.5 9.9 4.4 9.9 4.5 9.7 4.5 9.6 4.5 9.4 4.5 9.3 4.4 9.2 4.5 9 4.5 8.8 4.5 8.6 4.5 8.5 4.4 8.3 4.5 8.1 4.5 8 4.5 7.7 4.4 7.6 4.5 7.4 4.5 7.2 4.5 7 4.5 6.9 4.4 6.6 4.5 6.5 4.5 6.3 4.5 6.2 4.5 6 4.4 5.8 4.5 5.6 4.5 5.5 4.5 5.3 4.5 5.2 4.4 5 4.5 4.8 4.5 4.7 4.5 4.6 4.4 4.4 4.5 4.3 4.5 4.2 4.5 4 4.5 3.9 4.4 3.8 4.5 3.7 4.5 3.5 4.5 3.4 4.5 3.3 8.9 6.3 9 5.9 8.9 5.5 9 5.2 8.9 4.8 9 4.5 9 4.1 8.9 3.9 9 3.7 8.9 3.4 9 3.1 8.9 2.9 9 2.7 9 2.6 8.9 2.3 9 2.2 8.9 2 9 1.9 8.9 1.8 9 1.6 17.9 2.9 17.9 2.5 17.9 2.2 18 1.8 17.9 1.6 17.9 1.3 17.9 1.2 17.9 1 17.9 .9 18 .7 17.9 .6 17.9 .5 13.1 .4 1 0 0-2.3-1 0-13.1-.7-17.9-1-17.9-1.2-18-1.4-17.9-1.6-17.9-1.9-17.9-2.2-17.9-2.6-17.9-3-18-3.4-17.9-4-17.9-4.6-17.9-5.4-9-2.9-8.9-3.2-9-3.3-8.9-3.6-9-3.9-8.9-4.1-9-4.4-9-4.7-8.9-5-9-5.3-8.9-5.6-9-6-8.9-6.3-9-6.7-9-7.1-8.9-7.5-9-7.9-8.9-8.4-9-8.7-8.9-9.2-4.5-4.7-4.5-4.9-4.5-5-4.5-5-4.4-5.2-4.5-5.3-4.5-5.4-4.5-5.5-4.5-5.6-4.4-5.7-4.5-5.8-4.5-6-4.5-6-4.4-6-4.5-6.2-4.5-6.3-4.5-6.3-4.5-6.4-4.4-6.5-4.5-6.5-4.5-6.6-4.5-6.6-4.5-6.7-4.4-6.6-4.5-6.7-4.5-6.7-4.5-6.7-4.5-6.7-4.4-6.6-4.5-6.6-4.5-6.6-4.5-6.4-4.4-6.4-4.5-6.2-4.5-6.1-4.5-6-4.5-5.7-4.4-5.6-4.5-5.4-4.5-5-4.5-4.9-4.5-4.5-4.4-4.2-4.5-3.8-4.5-3.4-4.5-3-4.4-2.6-4.5-2-4.5-1.5-4.5-.9-4.5-.4-4.4 .3-4.5 1-4.5 1.7-4.5 2.5-4.5 3.3-2.8 2.5-2.9 2.9-2.9 3.2-2.8 3.6-2.9 4-2.9 4.4-2.8 4.8-2.9 5.2-2.9 5.6-2.8 6.1-2.9 6.4-2.9 6.9-2.8 7.4-2.9 7.8-2.9 8.2-2.8 8.7-2.9 9.2-2.9 9.6-2.8 10.1-2.9 10.5-2.9 11-2.8 11.5-2.9 11.9-2.8 12.3-2.9 12.8-2.9 13.1-2.8 13.6-2.9 14.1-2.9 14.4-2.8 14.8-1.7 8.5-1.6 8.7-1.6 8.8-1.6 8.9-1.6 9.1-1.6 9.3-1.6 9.5-1.6 9.8-1.7 10.1-1.6 10.5-1.6 11.2-1.6 12.1-1.6 14.1-1 0z" fill="url(#ht)" fill-opacity="0.22"/>
<defs><path id="mc" d="M1194.1 784.3l1.8-6.3 1.8-7.8 1.8-8.8 1.8-9.7 1.7-10.3 1.8-10.8 1.8-11.1 1.8-11.4 1.8-11.6 1.8-11.7 1.8-11.8 1.8-11.8 1.8-11.8 1.8-11.8 1.8-11.6 1.8-11.6 1.7-11.4 1.8-11.3 1.8-11.2 1.8-10.9 1.8-10.7 1.8-10.6 1.8-10.3 1.8-10.1 1.8-9.8 1.8-9.6 1.8-9.4 1.8-9.1 1.7-8.8 1.8-8.6 1.8-8.3 1.8-8.1 1.8-7.8 1.8-7.5 1.8-7.3 1.8-7 1.8-6.7 1.8-6.5 1.8-6.2 1.8-6 1.7-5.7 1.8-5.5 1.8-5.2 1.8-4.9 1.8-4.8 1.8-4.5 1.8-4.2 1.8-4 1.8-3.8 1.8-3.6 1.8-3.3 1.7-3.2 1.8-2.9 1.8-2.7 1.8-2.5 1.8-2.3 1.8-2.1 1.8-2 1.8-1.7 1.8-1.5 1.8-1.4 1.8-1.2 1.8-1.1 1.7-.8 1.8-.7 1.8-.6 1.8-.4 1.8-.2 1.8-.1 1.8 0 1.8 .2 1.8 .3 1.8 .4 1.8 .6 1.8 .7 1.7 .8 1.8 .9 1.8 1 1.8 1.2 1.8 1.2 1.8 1.3 1.8 1.5 1.8 1.5 1.8 1.6 1.8 1.7 1.8 1.8 1.8 1.9 1.7 1.9 1.8 2 1.8 2.1 1.8 2.2 1.8 2.2 1.8 2.3 1.8 2.3 1.8 2.4 1.8 2.5 1.8 2.5 1.8 2.6 1.7 2.6 1.8 2.6 1.8 2.7 1.8 2.8 1.8 2.8 1.8 2.8 1.8 2.8 1.8 2.9 1.8 2.9 1.8 3 1.8 2.9 1.8 3 1.7 3 1.8 3.1 1.8 3 1.8 3.1 1.8 3.1 1.8 3.1 1.8 3.1 1.8 3.2 1.8 3.1 1.8 3.2 1.8 3.1 1.8 3.2 1.7 3.2 1.8 3.2 1.8 3.1 1.8 3.2 1.8 3.2 1.8 3.2 1.8 3.2 1.8 3.2 1.8 3.1 1.8 3.2 1.8 3.2 1.8 3.1 1.7 3.2 1.8 3.1 1.8 3.2 1.8 3.1 1.8 3.1 1.8 3.2 1.8 3.1 1.8 3 1.8 3.1 1.8 3.1 1.8 3 1.8 3.1 1.7 3 1.8 3 1.8 3 1.8 2.9 1.8 3 1.8 2.9 1.8 3 1.8 2.9 1.8 2.9 1.8 2.8 1.8 2.9 1.7 2.8 1.8 2.8 7.2 11.1 7.2 10.7 7.1 10.4 7.2 10 7.2 9.7 7.1 9.3 7.2 8.9 7.2 8.7 7.1 8.2 7.2 7.9 7.2 7.6 7.1 7.2 7.2 6.9 7.2 6.6 7.1 6.3 7.2 6 7.2 5.6 7.1 5.4 7.2 5.2 7.2 4.8 7.1 4.7 7.2 4.3 7.2 4.2 7.1 3.9 7.2 3.7 7.2 3.5 7.1 3.3 7.2 3.2 7.2 2.9 7.1 2.8 7.2 2.6 7.2 2.5 7.1 2.3 7.2 2.2 7.2 2.1 7.1 1.9 7.2 1.9 7.1 1.7 7.2 1.6 7.2 1.5 7.1 1.5 7.2 1.3 7.2 1.3 7.1 1.1 7.2 1.1 7.2 1.1 7.1 1 7.2 .9 7.2 .8 7.1 .8 7.2 .8 7.2 .7 7.1 .6 7.2 .7 7.2 .5 7.1 .6 7.2 .5 7.2 .5 7.1 .4 7.2 .4 7.2 .4 7.1 .3 7.2 .4 7.2 .3 7.1 .3 7.2 .3 7.2 .2" fill="none"/></defs>
<use href="#mc" stroke="#000" stroke-width="6.6"/>
<use href="#mc" stroke="#fff" stroke-width="3.9" stroke-dasharray="16.07 16.07" stroke-dashoffset="1.0"/>
</g>
<rect x="1156.6" y="180.8" width="840.2" height="635.2" fill="none" stroke="#333" stroke-width="1.9"/>
<path d="M1192.3 816v10.4M1371.5 816v10.4M1550.6 816v10.4M1729.8 816v10.4M1908.9 816v10.4M1156.6 787.9h-10.4M1156.6 646.5h-10.4M1156.6 505.1h-10.4M1156.6 363.7h-10.4M1156.6 222.3h-10.4" stroke="#333" stroke-width="3.5" fill="none"/>
<g font-size="31.8" fill="#4d4d4d">
<g text-anchor="end"><text transform="translate(1138.6,799.7) scale(0.94,1)">0.000</text><text transform="translate(1138.6,658.3) scale(0.94,1)">0.002</text><text transform="translate(1138.6,516.9) scale(0.94,1)">0.004</text><text transform="translate(1138.6,375.5) scale(0.94,1)">0.006</text><text transform="translate(1138.6,234.1) scale(0.94,1)">0.008</text></g>
<g text-anchor="middle"><text transform="translate(1192.3,856.6) scale(0.94,1)">0</text><text transform="translate(1371.5,856.6) scale(0.94,1)">100</text><text transform="translate(1550.6,856.6) scale(0.94,1)">200</text><text transform="translate(1729.8,856.6) scale(0.94,1)">300</text><text transform="translate(1908.9,856.6) scale(0.94,1)">400</text></g>
</g>
<text transform="translate(1576.7,900.4) scale(0.926,1)" font-size="40.4" fill="#000" text-anchor="middle">Accumulated Precipitation</text>
<text transform="translate(1046,497.8) rotate(-90) scale(0.92,1)" font-size="40.4" fill="#000" text-anchor="middle">PDF</text>
<defs><linearGradient id="tb" x1="0" x2="1" y1="0" y2="0"><stop offset="0.0000" stop-color="#30123b"/><stop offset="0.0250" stop-color="#372466"/><stop offset="0.0500" stop-color="#3d358b"/><stop offset="0.0750" stop-color="#4249b1"/><stop offset="0.1000" stop-color="#4559cb"/><stop offset="0.1250" stop-color="#466be3"/><stop offset="0.1500" stop-color="#477bf2"/><stop offset="0.1750" stop-color="#458afc"/><stop offset="0.2000" stop-color="#3e9bfe"/><stop offset="0.2250" stop-color="#35abf8"/><stop offset="0.2500" stop-color="#28bceb"/><stop offset="0.2750" stop-color="#1fc9dd"/><stop offset="0.3000" stop-color="#19d5cd"/><stop offset="0.3250" stop-color="#19e2bb"/><stop offset="0.3500" stop-color="#20eaac"/><stop offset="0.3750" stop-color="#32f298"/><stop offset="0.4000" stop-color="#46f884"/><stop offset="0.4250" stop-color="#5dfc6f"/><stop offset="0.4500" stop-color="#79fe59"/><stop offset="0.4750" stop-color="#8fff49"/><stop offset="0.5000" stop-color="#a4fc3c"/><stop offset="0.5250" stop-color="#b4f836"/><stop offset="0.5500" stop-color="#c3f134"/><stop offset="0.5750" stop-color="#d4e735"/><stop offset="0.6000" stop-color="#e1dd37"/><stop offset="0.6250" stop-color="#eecf3a"/><stop offset="0.6500" stop-color="#f6c33a"/><stop offset="0.6750" stop-color="#fbb637"/><stop offset="0.7000" stop-color="#fea431"/><stop offset="0.7250" stop-color="#fe932a"/><stop offset="0.7500" stop-color="#fb7e21"/><stop offset="0.7750" stop-color="#f66c19"/><stop offset="0.8000" stop-color="#f05b12"/><stop offset="0.8250" stop-color="#e7490c"/><stop offset="0.8500" stop-color="#dd3d08"/><stop offset="0.8750" stop-color="#d02f05"/><stop offset="0.9000" stop-color="#c32503"/><stop offset="0.9250" stop-color="#b41b01"/><stop offset="0.9500" stop-color="#a11201"/><stop offset="0.9750" stop-color="#8e0a01"/><stop offset="1.0000" stop-color="#7a0403"/></linearGradient></defs>
<rect x="1319" y="964.6" width="534" height="32.4" fill="url(#tb)"/>
<path d="M1335.3 964.6v6.5M1335.3 997v-6.5M1471.6 964.6v6.5M1471.6 997v-6.5M1607.8 964.6v6.5M1607.8 997v-6.5M1744 964.6v6.5M1744 997v-6.5" stroke="#fff" stroke-width="1" fill="none"/>
<g font-size="30.6" fill="#000" text-anchor="middle"><text transform="translate(1336.5,1038.4) scale(0.975,1)">1925</text><text transform="translate(1472.8,1038.4) scale(0.975,1)">1950</text><text transform="translate(1609,1038.4) scale(0.975,1)">1975</text><text transform="translate(1745.2,1038.4) scale(0.975,1)">2000</text></g>
</g>
</svg>
</body></html>
